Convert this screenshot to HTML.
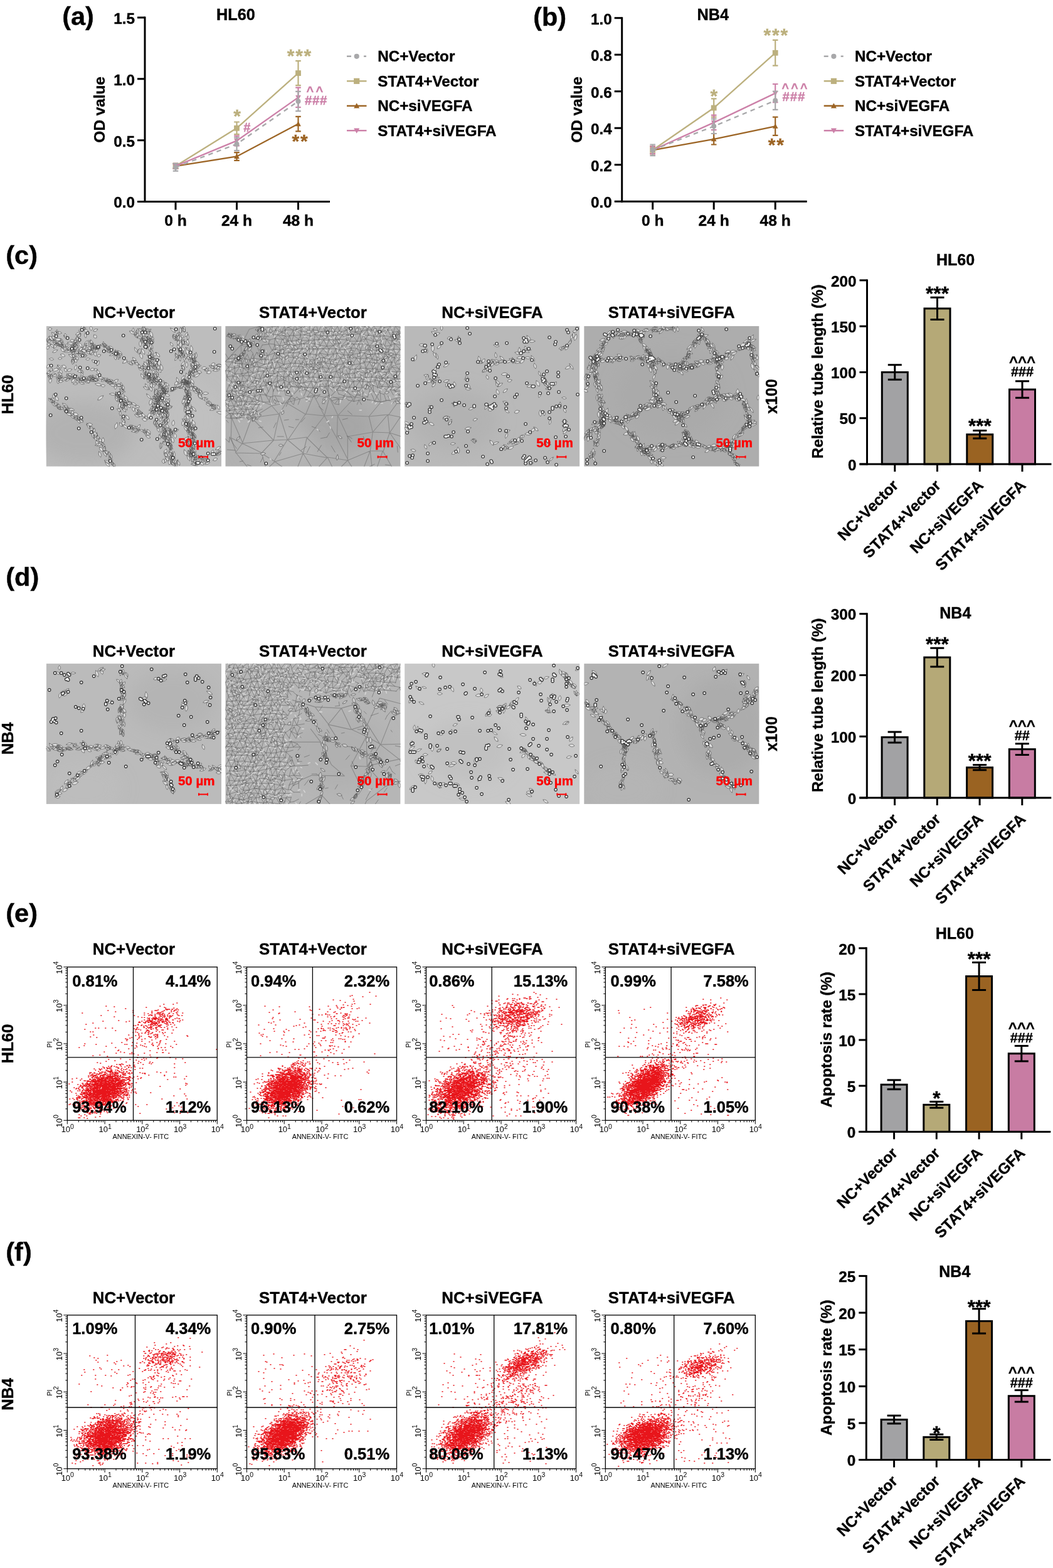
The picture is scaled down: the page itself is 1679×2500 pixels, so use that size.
<!DOCTYPE html>
<html><head><meta charset="utf-8"><title>Figure</title>
<style>html,body{margin:0;padding:0;background:#fff;} svg{display:block;} text{font-family:'Liberation Sans', Arial, sans-serif;font-weight:bold;}</style>
</head><body>
<svg width="1679" height="2500" viewBox="0 0 1679 2500">
<rect width="1679" height="2500" fill="#fff"/>
<defs><filter id="blur12" x="-50%" y="-50%" width="200%" height="200%"><feGaussianBlur stdDeviation="14"/></filter></defs>
<text x="99.2" y="40.4" font-size="41.5" stroke="#000" stroke-width="0.4">(a)</text>
<text x="850.2" y="40.5" font-size="41.5" stroke="#000" stroke-width="0.4">(b)</text>
<text x="9.3" y="420.9" font-size="41.5" stroke="#000" stroke-width="0.4">(c)</text>
<text x="9.3" y="934.4" font-size="41.5" stroke="#000" stroke-width="0.4">(d)</text>
<text x="9.3" y="1470.3" font-size="41.5" stroke="#000" stroke-width="0.4">(e)</text>
<text x="9.3" y="2010.3" font-size="41.5" stroke="#000" stroke-width="0.4">(f)</text>
<line x1="231.0" y1="26.5" x2="231.0" y2="323.0" stroke="#000" stroke-width="3"/>
<line x1="229.5" y1="321.5" x2="526.0" y2="321.5" stroke="#000" stroke-width="3"/>
<line x1="219.0" y1="321.5" x2="231.0" y2="321.5" stroke="#000" stroke-width="3"/>
<text x="215.0" y="331.3" font-size="24.3" text-anchor="end" stroke="#000" stroke-width="0.4">0.0</text>
<line x1="219.0" y1="223.7" x2="231.0" y2="223.7" stroke="#000" stroke-width="3"/>
<text x="215.0" y="233.5" font-size="24.3" text-anchor="end" stroke="#000" stroke-width="0.4">0.5</text>
<line x1="219.0" y1="125.8" x2="231.0" y2="125.8" stroke="#000" stroke-width="3"/>
<text x="215.0" y="135.6" font-size="24.3" text-anchor="end" stroke="#000" stroke-width="0.4">1.0</text>
<line x1="219.0" y1="28.0" x2="231.0" y2="28.0" stroke="#000" stroke-width="3"/>
<text x="215.0" y="37.8" font-size="24.3" text-anchor="end" stroke="#000" stroke-width="0.4">1.5</text>
<line x1="280.0" y1="321.5" x2="280.0" y2="334.5" stroke="#000" stroke-width="3"/>
<text x="280.0" y="359.8" font-size="24.6" text-anchor="middle" stroke="#000" stroke-width="0.4">0 h</text>
<line x1="377.5" y1="321.5" x2="377.5" y2="334.5" stroke="#000" stroke-width="3"/>
<text x="377.5" y="359.8" font-size="24.6" text-anchor="middle" stroke="#000" stroke-width="0.4">24 h</text>
<line x1="475.5" y1="321.5" x2="475.5" y2="334.5" stroke="#000" stroke-width="3"/>
<text x="475.5" y="359.8" font-size="24.6" text-anchor="middle" stroke="#000" stroke-width="0.4">48 h</text>
<text x="167.5" y="174.8" font-size="24.3" text-anchor="middle" stroke="#000" stroke-width="0.4" transform="rotate(-90 167.5 174.8)">OD value</text>
<text x="376.0" y="31.8" font-size="25.3" text-anchor="middle" stroke="#000" stroke-width="0.4">HL60</text>
<path d="M280.0,264.8 L377.5,249.5 L475.5,197.6" fill="none" stroke="#9c6424" stroke-width="2.3"/>
<path d="M280.0,260.8V268.7M275.7,260.8H284.3M275.7,268.7H284.3" stroke="#9c6424" stroke-width="2.2" fill="none"/>
<path d="M280.0,260.4L284.4,268.3L275.6,268.3Z" fill="#9c6424"/>
<path d="M377.5,243.2V255.8M373.2,243.2H381.8M373.2,255.8H381.8" stroke="#9c6424" stroke-width="2.2" fill="none"/>
<path d="M377.5,245.1L381.9,253.0L373.1,253.0Z" fill="#9c6424"/>
<path d="M475.5,185.9V209.4M471.2,185.9H479.8M471.2,209.4H479.8" stroke="#9c6424" stroke-width="2.2" fill="none"/>
<path d="M475.5,193.2L479.9,201.2L471.1,201.2Z" fill="#9c6424"/>
<path d="M280.0,264.8 L377.5,204.3 L475.5,116.6" fill="none" stroke="#bcb07e" stroke-width="2.3"/>
<path d="M280.0,260.8V268.7M275.7,260.8H284.3M275.7,268.7H284.3" stroke="#bcb07e" stroke-width="2.2" fill="none"/>
<rect x="275.6" y="260.4" width="8.8" height="8.8" fill="#bcb07e"/>
<path d="M377.5,194.5V214.1M373.2,194.5H381.8M373.2,214.1H381.8" stroke="#bcb07e" stroke-width="2.2" fill="none"/>
<rect x="373.1" y="199.9" width="8.8" height="8.8" fill="#bcb07e"/>
<path d="M475.5,97.1V136.2M471.2,97.1H479.8M471.2,136.2H479.8" stroke="#bcb07e" stroke-width="2.2" fill="none"/>
<rect x="471.1" y="112.2" width="8.8" height="8.8" fill="#bcb07e"/>
<path d="M280.0,264.8 L377.5,224.4 L475.5,155.4" fill="none" stroke="#cc80a8" stroke-width="2.3"/>
<path d="M280.0,260.8V268.7M275.7,260.8H284.3M275.7,268.7H284.3" stroke="#cc80a8" stroke-width="2.2" fill="none"/>
<path d="M280.0,269.2L284.4,261.2L275.6,261.2Z" fill="#cc80a8"/>
<path d="M377.5,216.6V232.3M373.2,216.6H381.8M373.2,232.3H381.8" stroke="#cc80a8" stroke-width="2.2" fill="none"/>
<path d="M377.5,228.8L381.9,220.9L373.1,220.9Z" fill="#cc80a8"/>
<path d="M475.5,139.7V171.0M471.2,139.7H479.8M471.2,171.0H479.8" stroke="#cc80a8" stroke-width="2.2" fill="none"/>
<path d="M475.5,159.8L479.9,151.9L471.1,151.9Z" fill="#cc80a8"/>
<path d="M280.0,266.7 L377.5,229.7 L475.5,161.4" fill="none" stroke="#a8a8aa" stroke-width="2.3" stroke-dasharray="7.5,6.5"/>
<path d="M280.0,260.8V272.6M275.7,260.8H284.3M275.7,272.6H284.3" stroke="#a8a8aa" stroke-width="2.2" fill="none"/>
<circle cx="280.0" cy="266.7" r="4.0" fill="#a8a8aa"/>
<path d="M377.5,219.4V240.1M373.2,219.4H381.8M373.2,240.1H381.8" stroke="#a8a8aa" stroke-width="2.2" fill="none"/>
<circle cx="377.5" cy="229.7" r="4.0" fill="#a8a8aa"/>
<path d="M475.5,145.8V177.1M471.2,145.8H479.8M471.2,177.1H479.8" stroke="#a8a8aa" stroke-width="2.2" fill="none"/>
<circle cx="475.5" cy="161.4" r="4.0" fill="#a8a8aa"/>
<text x="477.9" y="99.0" font-size="30" text-anchor="middle" fill="#bcb07e" stroke="#bcb07e" stroke-width="0.4" letter-spacing="1.8">***</text>
<text x="378.2" y="194.5" font-size="30" text-anchor="middle" fill="#bcb07e" stroke="#bcb07e" stroke-width="0.4">*</text>
<text x="393.8" y="210.0" font-size="20" text-anchor="middle" fill="#cc80a8" stroke="#cc80a8" stroke-width="0.4">#</text>
<text x="503.6" y="152.0" font-size="20" text-anchor="middle" fill="#cc80a8" stroke="#cc80a8" stroke-width="0.4" letter-spacing="3.5">^^</text>
<text x="504.1" y="167.2" font-size="20.5" text-anchor="middle" fill="#cc80a8" stroke="#cc80a8" stroke-width="0.4" letter-spacing="0.6">###</text>
<text x="478.9" y="235.0" font-size="30" text-anchor="middle" fill="#9c6424" stroke="#9c6424" stroke-width="0.4" letter-spacing="1.8">**</text>
<path d="M553.0,89.8h7m20,0h4" stroke="#a8a8aa" stroke-width="2.4"/>
<circle cx="568.7" cy="89.8" r="4.1" fill="#a8a8aa"/>
<text x="602.3" y="98.1" font-size="24.2" stroke="#000" stroke-width="0.4">NC+Vector</text>
<line x1="553.0" y1="129.3" x2="584.5" y2="129.3" stroke="#bcb07e" stroke-width="2.4"/>
<rect x="564.1" y="124.7" width="9.2" height="9.2" fill="#bcb07e"/>
<text x="602.3" y="137.6" font-size="24.2" stroke="#000" stroke-width="0.4">STAT4+Vector</text>
<line x1="553.0" y1="168.8" x2="584.5" y2="168.8" stroke="#9c6424" stroke-width="2.4"/>
<path d="M568.7,164.2L573.3,172.5L564.1,172.5Z" fill="#9c6424"/>
<text x="602.3" y="177.1" font-size="24.2" stroke="#000" stroke-width="0.4">NC+siVEGFA</text>
<line x1="553.0" y1="208.2" x2="584.5" y2="208.2" stroke="#cc80a8" stroke-width="2.4"/>
<path d="M568.7,212.8L573.3,204.5L564.1,204.5Z" fill="#cc80a8"/>
<text x="602.3" y="216.5" font-size="24.2" stroke="#000" stroke-width="0.4">STAT4+siVEGFA</text>
<line x1="991.7" y1="27.2" x2="991.7" y2="322.7" stroke="#000" stroke-width="3"/>
<line x1="990.2" y1="321.2" x2="1286.7" y2="321.2" stroke="#000" stroke-width="3"/>
<line x1="979.7" y1="321.2" x2="991.7" y2="321.2" stroke="#000" stroke-width="3"/>
<text x="975.7" y="331.0" font-size="24.3" text-anchor="end" stroke="#000" stroke-width="0.4">0.0</text>
<line x1="979.7" y1="262.7" x2="991.7" y2="262.7" stroke="#000" stroke-width="3"/>
<text x="975.7" y="272.5" font-size="24.3" text-anchor="end" stroke="#000" stroke-width="0.4">0.2</text>
<line x1="979.7" y1="204.2" x2="991.7" y2="204.2" stroke="#000" stroke-width="3"/>
<text x="975.7" y="214.0" font-size="24.3" text-anchor="end" stroke="#000" stroke-width="0.4">0.4</text>
<line x1="979.7" y1="145.7" x2="991.7" y2="145.7" stroke="#000" stroke-width="3"/>
<text x="975.7" y="155.5" font-size="24.3" text-anchor="end" stroke="#000" stroke-width="0.4">0.6</text>
<line x1="979.7" y1="87.2" x2="991.7" y2="87.2" stroke="#000" stroke-width="3"/>
<text x="975.7" y="97.0" font-size="24.3" text-anchor="end" stroke="#000" stroke-width="0.4">0.8</text>
<line x1="979.7" y1="28.7" x2="991.7" y2="28.7" stroke="#000" stroke-width="3"/>
<text x="975.7" y="38.5" font-size="24.3" text-anchor="end" stroke="#000" stroke-width="0.4">1.0</text>
<line x1="1040.7" y1="321.2" x2="1040.7" y2="334.2" stroke="#000" stroke-width="3"/>
<text x="1040.7" y="359.5" font-size="24.6" text-anchor="middle" stroke="#000" stroke-width="0.4">0 h</text>
<line x1="1138.2" y1="321.2" x2="1138.2" y2="334.2" stroke="#000" stroke-width="3"/>
<text x="1138.2" y="359.5" font-size="24.6" text-anchor="middle" stroke="#000" stroke-width="0.4">24 h</text>
<line x1="1236.2" y1="321.2" x2="1236.2" y2="334.2" stroke="#000" stroke-width="3"/>
<text x="1236.2" y="359.5" font-size="24.6" text-anchor="middle" stroke="#000" stroke-width="0.4">48 h</text>
<text x="928.2" y="174.9" font-size="24.3" text-anchor="middle" stroke="#000" stroke-width="0.4" transform="rotate(-90 928.2 174.9)">OD value</text>
<text x="1136.7" y="31.8" font-size="25.3" text-anchor="middle" stroke="#000" stroke-width="0.4">NB4</text>
<path d="M1040.7,239.3 L1138.2,221.8 L1236.2,201.3" fill="none" stroke="#9c6424" stroke-width="2.3"/>
<path d="M1040.7,233.4V245.1M1036.4,233.4H1045.0M1036.4,245.1H1045.0" stroke="#9c6424" stroke-width="2.2" fill="none"/>
<path d="M1040.7,234.9L1045.1,242.8L1036.3,242.8Z" fill="#9c6424"/>
<path d="M1138.2,213.0V230.5M1133.9,213.0H1142.5M1133.9,230.5H1142.5" stroke="#9c6424" stroke-width="2.2" fill="none"/>
<path d="M1138.2,217.3L1142.6,225.3L1133.8,225.3Z" fill="#9c6424"/>
<path d="M1236.2,186.6V215.9M1231.9,186.6H1240.5M1231.9,215.9H1240.5" stroke="#9c6424" stroke-width="2.2" fill="none"/>
<path d="M1236.2,196.9L1240.6,204.8L1231.8,204.8Z" fill="#9c6424"/>
<path d="M1040.7,239.3 L1138.2,172.0 L1236.2,84.3" fill="none" stroke="#bcb07e" stroke-width="2.3"/>
<path d="M1040.7,233.4V245.1M1036.4,233.4H1045.0M1036.4,245.1H1045.0" stroke="#bcb07e" stroke-width="2.2" fill="none"/>
<rect x="1036.3" y="234.9" width="8.8" height="8.8" fill="#bcb07e"/>
<path d="M1138.2,157.4V186.6M1133.9,157.4H1142.5M1133.9,186.6H1142.5" stroke="#bcb07e" stroke-width="2.2" fill="none"/>
<rect x="1133.8" y="167.6" width="8.8" height="8.8" fill="#bcb07e"/>
<path d="M1236.2,63.8V104.7M1231.9,63.8H1240.5M1231.9,104.7H1240.5" stroke="#bcb07e" stroke-width="2.2" fill="none"/>
<rect x="1231.8" y="79.9" width="8.8" height="8.8" fill="#bcb07e"/>
<path d="M1040.7,239.3 L1138.2,195.4 L1236.2,148.6" fill="none" stroke="#cc80a8" stroke-width="2.3"/>
<path d="M1040.7,233.4V245.1M1036.4,233.4H1045.0M1036.4,245.1H1045.0" stroke="#cc80a8" stroke-width="2.2" fill="none"/>
<path d="M1040.7,243.7L1045.1,235.8L1036.3,235.8Z" fill="#cc80a8"/>
<path d="M1138.2,183.7V207.1M1133.9,183.7H1142.5M1133.9,207.1H1142.5" stroke="#cc80a8" stroke-width="2.2" fill="none"/>
<path d="M1138.2,199.8L1142.6,191.9L1133.8,191.9Z" fill="#cc80a8"/>
<path d="M1236.2,134.0V163.2M1231.9,134.0H1240.5M1231.9,163.2H1240.5" stroke="#cc80a8" stroke-width="2.2" fill="none"/>
<path d="M1236.2,153.0L1240.6,145.1L1231.8,145.1Z" fill="#cc80a8"/>
<path d="M1040.7,239.3 L1138.2,201.3 L1236.2,160.3" fill="none" stroke="#a8a8aa" stroke-width="2.3" stroke-dasharray="7.5,6.5"/>
<path d="M1040.7,230.5V248.1M1036.4,230.5H1045.0M1036.4,248.1H1045.0" stroke="#a8a8aa" stroke-width="2.2" fill="none"/>
<circle cx="1040.7" cy="239.3" r="4.0" fill="#a8a8aa"/>
<path d="M1138.2,189.6V213.0M1133.9,189.6H1142.5M1133.9,213.0H1142.5" stroke="#a8a8aa" stroke-width="2.2" fill="none"/>
<circle cx="1138.2" cy="201.3" r="4.0" fill="#a8a8aa"/>
<path d="M1236.2,145.7V174.9M1231.9,145.7H1240.5M1231.9,174.9H1240.5" stroke="#a8a8aa" stroke-width="2.2" fill="none"/>
<circle cx="1236.2" cy="160.3" r="4.0" fill="#a8a8aa"/>
<text x="1237.7" y="66.4" font-size="30" text-anchor="middle" fill="#bcb07e" stroke="#bcb07e" stroke-width="0.4" letter-spacing="1.8">***</text>
<text x="1138.3" y="163.0" font-size="30" text-anchor="middle" fill="#bcb07e" stroke="#bcb07e" stroke-width="0.4">*</text>
<text x="1268.6" y="146.5" font-size="19.5" text-anchor="middle" fill="#cc80a8" stroke="#cc80a8" stroke-width="0.4" letter-spacing="3.4">^^^</text>
<text x="1265.9" y="160.6" font-size="20.5" text-anchor="middle" fill="#cc80a8" stroke="#cc80a8" stroke-width="0.4" letter-spacing="0.8">###</text>
<text x="1238.2" y="241.0" font-size="30" text-anchor="middle" fill="#9c6424" stroke="#9c6424" stroke-width="0.4" letter-spacing="1.8">**</text>
<path d="M1313.7,89.8h7m20,0h4" stroke="#a8a8aa" stroke-width="2.4"/>
<circle cx="1329.4" cy="89.8" r="4.1" fill="#a8a8aa"/>
<text x="1363.0" y="98.1" font-size="24.2" stroke="#000" stroke-width="0.4">NC+Vector</text>
<line x1="1313.7" y1="129.3" x2="1345.2" y2="129.3" stroke="#bcb07e" stroke-width="2.4"/>
<rect x="1324.8" y="124.7" width="9.2" height="9.2" fill="#bcb07e"/>
<text x="1363.0" y="137.6" font-size="24.2" stroke="#000" stroke-width="0.4">STAT4+Vector</text>
<line x1="1313.7" y1="168.8" x2="1345.2" y2="168.8" stroke="#9c6424" stroke-width="2.4"/>
<path d="M1329.4,164.2L1334.0,172.5L1324.8,172.5Z" fill="#9c6424"/>
<text x="1363.0" y="177.1" font-size="24.2" stroke="#000" stroke-width="0.4">NC+siVEGFA</text>
<line x1="1313.7" y1="208.2" x2="1345.2" y2="208.2" stroke="#cc80a8" stroke-width="2.4"/>
<path d="M1329.4,212.8L1334.0,204.5L1324.8,204.5Z" fill="#cc80a8"/>
<text x="1363.0" y="216.5" font-size="24.2" stroke="#000" stroke-width="0.4">STAT4+siVEGFA</text>
<rect x="1406.3" y="593.5" width="41" height="146.5" fill="#a2a2a4" stroke="#000" stroke-width="3"/>
<path d="M1426.8,581.7V605.2M1415.8,581.7H1437.8M1415.8,605.2H1437.8" stroke="#000" stroke-width="3" fill="none"/>
<rect x="1474.0" y="491.9" width="41" height="248.1" fill="#b5a977" stroke="#000" stroke-width="3"/>
<path d="M1494.5,474.3V509.5M1483.5,474.3H1505.5M1483.5,509.5H1505.5" stroke="#000" stroke-width="3" fill="none"/>
<rect x="1541.8" y="692.7" width="41" height="47.3" fill="#9a6322" stroke="#000" stroke-width="3"/>
<path d="M1562.3,686.4V699.0M1551.3,686.4H1573.3M1551.3,699.0H1573.3" stroke="#000" stroke-width="3" fill="none"/>
<rect x="1609.5" y="621.0" width="41" height="119.0" fill="#c87ca3" stroke="#000" stroke-width="3"/>
<path d="M1630.0,607.7V634.3M1619.0,607.7H1641.0M1619.0,634.3H1641.0" stroke="#000" stroke-width="3" fill="none"/>
<line x1="1382.5" y1="445.4" x2="1382.5" y2="741.5" stroke="#000" stroke-width="3"/>
<line x1="1370.5" y1="740.0" x2="1676.5" y2="740.0" stroke="#000" stroke-width="3"/>
<line x1="1370.5" y1="740.0" x2="1382.5" y2="740.0" stroke="#000" stroke-width="3"/>
<text x="1365.5" y="749.7" font-size="24.3" text-anchor="end" stroke="#000" stroke-width="0.4">0</text>
<line x1="1370.5" y1="666.7" x2="1382.5" y2="666.7" stroke="#000" stroke-width="3"/>
<text x="1365.5" y="676.4" font-size="24.3" text-anchor="end" stroke="#000" stroke-width="0.4">50</text>
<line x1="1370.5" y1="593.5" x2="1382.5" y2="593.5" stroke="#000" stroke-width="3"/>
<text x="1365.5" y="603.2" font-size="24.3" text-anchor="end" stroke="#000" stroke-width="0.4">100</text>
<line x1="1370.5" y1="520.2" x2="1382.5" y2="520.2" stroke="#000" stroke-width="3"/>
<text x="1365.5" y="529.9" font-size="24.3" text-anchor="end" stroke="#000" stroke-width="0.4">150</text>
<line x1="1370.5" y1="446.9" x2="1382.5" y2="446.9" stroke="#000" stroke-width="3"/>
<text x="1365.5" y="456.6" font-size="24.3" text-anchor="end" stroke="#000" stroke-width="0.4">200</text>
<line x1="1426.8" y1="740.0" x2="1426.8" y2="752.0" stroke="#000" stroke-width="3"/>
<text x="1433.8" y="775.5" font-size="24.5" text-anchor="end" stroke="#000" stroke-width="0.4" transform="rotate(-45 1433.8 775.5)">NC+Vector</text>
<line x1="1494.5" y1="740.0" x2="1494.5" y2="752.0" stroke="#000" stroke-width="3"/>
<text x="1501.5" y="775.5" font-size="24.5" text-anchor="end" stroke="#000" stroke-width="0.4" transform="rotate(-45 1501.5 775.5)">STAT4+Vector</text>
<line x1="1562.3" y1="740.0" x2="1562.3" y2="752.0" stroke="#000" stroke-width="3"/>
<text x="1569.3" y="775.5" font-size="24.5" text-anchor="end" stroke="#000" stroke-width="0.4" transform="rotate(-45 1569.3 775.5)">NC+siVEGFA</text>
<line x1="1630.0" y1="740.0" x2="1630.0" y2="752.0" stroke="#000" stroke-width="3"/>
<text x="1637.0" y="775.5" font-size="24.5" text-anchor="end" stroke="#000" stroke-width="0.4" transform="rotate(-45 1637.0 775.5)">STAT4+siVEGFA</text>
<text x="1523.5" y="423.2" font-size="25" text-anchor="middle" stroke="#000" stroke-width="0.4">HL60</text>
<text x="1312.2" y="592.4" font-size="24.5" text-anchor="middle" stroke="#000" stroke-width="0.4" transform="rotate(-90 1312.2 592.4)">Relative tube length (%)</text>
<text x="1494.5" y="479.0" font-size="31.5" text-anchor="middle" stroke="#000" stroke-width="0.4">***</text>
<text x="1562.3" y="690.0" font-size="31.5" text-anchor="middle" stroke="#000" stroke-width="0.4">***</text>
<text x="1630.0" y="585.0" font-size="24" text-anchor="middle" stroke="#000" stroke-width="0.4">^^^</text>
<text x="1630.0" y="600.3" font-size="21.7" text-anchor="middle" stroke="#000" stroke-width="0.4">###</text>
<rect x="1406.1" y="1175.4" width="41" height="96.6" fill="#a2a2a4" stroke="#000" stroke-width="3"/>
<path d="M1426.6,1166.9V1183.9M1415.6,1166.9H1437.6M1415.6,1183.9H1437.6" stroke="#000" stroke-width="3" fill="none"/>
<rect x="1473.8" y="1048.1" width="41" height="223.9" fill="#b5a977" stroke="#000" stroke-width="3"/>
<path d="M1494.3,1033.3V1063.0M1483.3,1033.3H1505.3M1483.3,1063.0H1505.3" stroke="#000" stroke-width="3" fill="none"/>
<rect x="1541.6" y="1223.7" width="41" height="48.3" fill="#9a6322" stroke="#000" stroke-width="3"/>
<path d="M1562.1,1219.6V1227.8M1551.1,1219.6H1573.1M1551.1,1227.8H1573.1" stroke="#000" stroke-width="3" fill="none"/>
<rect x="1609.3" y="1194.6" width="41" height="77.4" fill="#c87ca3" stroke="#000" stroke-width="3"/>
<path d="M1629.8,1185.8V1203.4M1618.8,1185.8H1640.8M1618.8,1203.4H1640.8" stroke="#000" stroke-width="3" fill="none"/>
<line x1="1382.3" y1="977.2" x2="1382.3" y2="1273.5" stroke="#000" stroke-width="3"/>
<line x1="1370.3" y1="1272.0" x2="1676.3" y2="1272.0" stroke="#000" stroke-width="3"/>
<line x1="1370.3" y1="1272.0" x2="1382.3" y2="1272.0" stroke="#000" stroke-width="3"/>
<text x="1365.3" y="1281.7" font-size="24.3" text-anchor="end" stroke="#000" stroke-width="0.4">0</text>
<line x1="1370.3" y1="1174.2" x2="1382.3" y2="1174.2" stroke="#000" stroke-width="3"/>
<text x="1365.3" y="1183.9" font-size="24.3" text-anchor="end" stroke="#000" stroke-width="0.4">100</text>
<line x1="1370.3" y1="1076.5" x2="1382.3" y2="1076.5" stroke="#000" stroke-width="3"/>
<text x="1365.3" y="1086.2" font-size="24.3" text-anchor="end" stroke="#000" stroke-width="0.4">200</text>
<line x1="1370.3" y1="978.7" x2="1382.3" y2="978.7" stroke="#000" stroke-width="3"/>
<text x="1365.3" y="988.4" font-size="24.3" text-anchor="end" stroke="#000" stroke-width="0.4">300</text>
<line x1="1426.6" y1="1272.0" x2="1426.6" y2="1284.0" stroke="#000" stroke-width="3"/>
<text x="1433.6" y="1307.5" font-size="24.5" text-anchor="end" stroke="#000" stroke-width="0.4" transform="rotate(-45 1433.6 1307.5)">NC+Vector</text>
<line x1="1494.3" y1="1272.0" x2="1494.3" y2="1284.0" stroke="#000" stroke-width="3"/>
<text x="1501.3" y="1307.5" font-size="24.5" text-anchor="end" stroke="#000" stroke-width="0.4" transform="rotate(-45 1501.3 1307.5)">STAT4+Vector</text>
<line x1="1562.1" y1="1272.0" x2="1562.1" y2="1284.0" stroke="#000" stroke-width="3"/>
<text x="1569.1" y="1307.5" font-size="24.5" text-anchor="end" stroke="#000" stroke-width="0.4" transform="rotate(-45 1569.1 1307.5)">NC+siVEGFA</text>
<line x1="1629.8" y1="1272.0" x2="1629.8" y2="1284.0" stroke="#000" stroke-width="3"/>
<text x="1636.8" y="1307.5" font-size="24.5" text-anchor="end" stroke="#000" stroke-width="0.4" transform="rotate(-45 1636.8 1307.5)">STAT4+siVEGFA</text>
<text x="1523.3" y="985.8" font-size="25" text-anchor="middle" stroke="#000" stroke-width="0.4">NB4</text>
<text x="1312.2" y="1124.5" font-size="24.5" text-anchor="middle" stroke="#000" stroke-width="0.4" transform="rotate(-90 1312.2 1124.5)">Relative tube length (%)</text>
<text x="1494.3" y="1037.5" font-size="31.5" text-anchor="middle" stroke="#000" stroke-width="0.4">***</text>
<text x="1562.1" y="1224.0" font-size="31.5" text-anchor="middle" stroke="#000" stroke-width="0.4">***</text>
<text x="1629.8" y="1165.0" font-size="24" text-anchor="middle" stroke="#000" stroke-width="0.4">^^^</text>
<text x="1629.8" y="1180.0" font-size="21.7" text-anchor="middle" stroke="#000" stroke-width="0.4">##</text>
<rect x="1405.1" y="1729.3" width="41" height="75.1" fill="#a2a2a4" stroke="#000" stroke-width="3"/>
<path d="M1425.6,1722.0V1736.7M1414.6,1722.0H1436.6M1414.6,1736.7H1436.6" stroke="#000" stroke-width="3" fill="none"/>
<rect x="1472.8" y="1761.4" width="41" height="43.0" fill="#b5a977" stroke="#000" stroke-width="3"/>
<path d="M1493.3,1756.6V1766.2M1482.3,1756.6H1504.3M1482.3,1766.2H1504.3" stroke="#000" stroke-width="3" fill="none"/>
<rect x="1540.6" y="1556.6" width="41" height="247.8" fill="#9a6322" stroke="#000" stroke-width="3"/>
<path d="M1561.1,1534.6V1578.5M1550.1,1534.6H1572.1M1550.1,1578.5H1572.1" stroke="#000" stroke-width="3" fill="none"/>
<rect x="1608.3" y="1679.8" width="41" height="124.6" fill="#c87ca3" stroke="#000" stroke-width="3"/>
<path d="M1628.8,1667.6V1691.9M1617.8,1667.6H1639.8M1617.8,1691.9H1639.8" stroke="#000" stroke-width="3" fill="none"/>
<line x1="1381.3" y1="1510.3" x2="1381.3" y2="1805.9" stroke="#000" stroke-width="3"/>
<line x1="1369.3" y1="1804.4" x2="1675.3" y2="1804.4" stroke="#000" stroke-width="3"/>
<line x1="1369.3" y1="1804.4" x2="1381.3" y2="1804.4" stroke="#000" stroke-width="3"/>
<text x="1364.3" y="1814.1" font-size="24.3" text-anchor="end" stroke="#000" stroke-width="0.4">0</text>
<line x1="1369.3" y1="1731.2" x2="1381.3" y2="1731.2" stroke="#000" stroke-width="3"/>
<text x="1364.3" y="1741.0" font-size="24.3" text-anchor="end" stroke="#000" stroke-width="0.4">5</text>
<line x1="1369.3" y1="1658.1" x2="1381.3" y2="1658.1" stroke="#000" stroke-width="3"/>
<text x="1364.3" y="1667.8" font-size="24.3" text-anchor="end" stroke="#000" stroke-width="0.4">10</text>
<line x1="1369.3" y1="1585.0" x2="1381.3" y2="1585.0" stroke="#000" stroke-width="3"/>
<text x="1364.3" y="1594.7" font-size="24.3" text-anchor="end" stroke="#000" stroke-width="0.4">15</text>
<line x1="1369.3" y1="1511.8" x2="1381.3" y2="1511.8" stroke="#000" stroke-width="3"/>
<text x="1364.3" y="1521.5" font-size="24.3" text-anchor="end" stroke="#000" stroke-width="0.4">20</text>
<line x1="1425.6" y1="1804.4" x2="1425.6" y2="1816.4" stroke="#000" stroke-width="3"/>
<text x="1432.6" y="1839.9" font-size="24.5" text-anchor="end" stroke="#000" stroke-width="0.4" transform="rotate(-45 1432.6 1839.9)">NC+Vector</text>
<line x1="1493.3" y1="1804.4" x2="1493.3" y2="1816.4" stroke="#000" stroke-width="3"/>
<text x="1500.3" y="1839.9" font-size="24.5" text-anchor="end" stroke="#000" stroke-width="0.4" transform="rotate(-45 1500.3 1839.9)">STAT4+Vector</text>
<line x1="1561.1" y1="1804.4" x2="1561.1" y2="1816.4" stroke="#000" stroke-width="3"/>
<text x="1568.1" y="1839.9" font-size="24.5" text-anchor="end" stroke="#000" stroke-width="0.4" transform="rotate(-45 1568.1 1839.9)">NC+siVEGFA</text>
<line x1="1628.8" y1="1804.4" x2="1628.8" y2="1816.4" stroke="#000" stroke-width="3"/>
<text x="1635.8" y="1839.9" font-size="24.5" text-anchor="end" stroke="#000" stroke-width="0.4" transform="rotate(-45 1635.8 1839.9)">STAT4+siVEGFA</text>
<text x="1522.3" y="1496.5" font-size="25" text-anchor="middle" stroke="#000" stroke-width="0.4">HL60</text>
<text x="1326.0" y="1657.5" font-size="24.5" text-anchor="middle" stroke="#000" stroke-width="0.4" transform="rotate(-90 1326.0 1657.5)">Apoptosis rate (%)</text>
<text x="1493.3" y="1762.3" font-size="31.5" text-anchor="middle" stroke="#000" stroke-width="0.4">*</text>
<text x="1561.1" y="1539.7" font-size="31.5" text-anchor="middle" stroke="#000" stroke-width="0.4">***</text>
<text x="1628.8" y="1646.8" font-size="24" text-anchor="middle" stroke="#000" stroke-width="0.4">^^^</text>
<text x="1628.8" y="1662.0" font-size="21.7" text-anchor="middle" stroke="#000" stroke-width="0.4">###</text>
<rect x="1405.1" y="2263.4" width="41" height="64.1" fill="#a2a2a4" stroke="#000" stroke-width="3"/>
<path d="M1425.6,2257.0V2269.7M1414.6,2257.0H1436.6M1414.6,2269.7H1436.6" stroke="#000" stroke-width="3" fill="none"/>
<rect x="1472.8" y="2291.3" width="41" height="36.2" fill="#b5a977" stroke="#000" stroke-width="3"/>
<path d="M1493.3,2287.1V2295.5M1482.3,2287.1H1504.3M1482.3,2295.5H1504.3" stroke="#000" stroke-width="3" fill="none"/>
<rect x="1540.6" y="2106.4" width="41" height="221.1" fill="#9a6322" stroke="#000" stroke-width="3"/>
<path d="M1561.1,2086.7V2126.1M1550.1,2086.7H1572.1M1550.1,2126.1H1572.1" stroke="#000" stroke-width="3" fill="none"/>
<rect x="1608.3" y="2225.7" width="41" height="101.8" fill="#c87ca3" stroke="#000" stroke-width="3"/>
<path d="M1628.8,2216.6V2234.9M1617.8,2216.6H1639.8M1617.8,2234.9H1639.8" stroke="#000" stroke-width="3" fill="none"/>
<line x1="1381.3" y1="2032.9" x2="1381.3" y2="2329.0" stroke="#000" stroke-width="3"/>
<line x1="1369.3" y1="2327.5" x2="1675.3" y2="2327.5" stroke="#000" stroke-width="3"/>
<line x1="1369.3" y1="2327.5" x2="1381.3" y2="2327.5" stroke="#000" stroke-width="3"/>
<text x="1364.3" y="2337.2" font-size="24.3" text-anchor="end" stroke="#000" stroke-width="0.4">0</text>
<line x1="1369.3" y1="2268.9" x2="1381.3" y2="2268.9" stroke="#000" stroke-width="3"/>
<text x="1364.3" y="2278.6" font-size="24.3" text-anchor="end" stroke="#000" stroke-width="0.4">5</text>
<line x1="1369.3" y1="2210.3" x2="1381.3" y2="2210.3" stroke="#000" stroke-width="3"/>
<text x="1364.3" y="2220.0" font-size="24.3" text-anchor="end" stroke="#000" stroke-width="0.4">10</text>
<line x1="1369.3" y1="2151.6" x2="1381.3" y2="2151.6" stroke="#000" stroke-width="3"/>
<text x="1364.3" y="2161.3" font-size="24.3" text-anchor="end" stroke="#000" stroke-width="0.4">15</text>
<line x1="1369.3" y1="2093.0" x2="1381.3" y2="2093.0" stroke="#000" stroke-width="3"/>
<text x="1364.3" y="2102.7" font-size="24.3" text-anchor="end" stroke="#000" stroke-width="0.4">20</text>
<line x1="1369.3" y1="2034.4" x2="1381.3" y2="2034.4" stroke="#000" stroke-width="3"/>
<text x="1364.3" y="2044.1" font-size="24.3" text-anchor="end" stroke="#000" stroke-width="0.4">25</text>
<line x1="1425.6" y1="2327.5" x2="1425.6" y2="2339.5" stroke="#000" stroke-width="3"/>
<text x="1432.6" y="2363.0" font-size="24.5" text-anchor="end" stroke="#000" stroke-width="0.4" transform="rotate(-45 1432.6 2363.0)">NC+Vector</text>
<line x1="1493.3" y1="2327.5" x2="1493.3" y2="2339.5" stroke="#000" stroke-width="3"/>
<text x="1500.3" y="2363.0" font-size="24.5" text-anchor="end" stroke="#000" stroke-width="0.4" transform="rotate(-45 1500.3 2363.0)">STAT4+Vector</text>
<line x1="1561.1" y1="2327.5" x2="1561.1" y2="2339.5" stroke="#000" stroke-width="3"/>
<text x="1568.1" y="2363.0" font-size="24.5" text-anchor="end" stroke="#000" stroke-width="0.4" transform="rotate(-45 1568.1 2363.0)">NC+siVEGFA</text>
<line x1="1628.8" y1="2327.5" x2="1628.8" y2="2339.5" stroke="#000" stroke-width="3"/>
<text x="1635.8" y="2363.0" font-size="24.5" text-anchor="end" stroke="#000" stroke-width="0.4" transform="rotate(-45 1635.8 2363.0)">STAT4+siVEGFA</text>
<text x="1522.3" y="2036.4" font-size="25" text-anchor="middle" stroke="#000" stroke-width="0.4">NB4</text>
<text x="1326.0" y="2180.6" font-size="24.5" text-anchor="middle" stroke="#000" stroke-width="0.4" transform="rotate(-90 1326.0 2180.6)">Apoptosis rate (%)</text>
<text x="1493.3" y="2295.5" font-size="31.5" text-anchor="middle" stroke="#000" stroke-width="0.4">*</text>
<text x="1561.1" y="2094.5" font-size="31.5" text-anchor="middle" stroke="#000" stroke-width="0.4">***</text>
<text x="1628.8" y="2196.2" font-size="24" text-anchor="middle" stroke="#000" stroke-width="0.4">^^^</text>
<text x="1628.8" y="2211.5" font-size="21.7" text-anchor="middle" stroke="#000" stroke-width="0.4">###</text>
<text x="213.4" y="507.0" font-size="25.8" text-anchor="middle" stroke="#000" stroke-width="0.4">NC+Vector</text>
<clipPath id="cc1"><rect x="73.7" y="520.0" width="279.3" height="223.8"/></clipPath>
<g clip-path="url(#cc1)">
<rect x="73.7" y="520.0" width="279.3" height="223.8" fill="#bdbdbd"/>
<g filter="url(#blur12)">
<ellipse cx="134" cy="690" rx="80" ry="50" fill="#a8a8a8" opacity="0.5"/>
<ellipse cx="304" cy="670" rx="50" ry="60" fill="#c8c8c8" opacity="0.3"/>
</g>
<g transform="translate(73.7,520.0)" stroke-linecap="round" fill="none">
<path d="M175 42q0 6 6 7q0-6-6-7M166 15q-2 5 2 7q2-5-2-7M189 99q0 5 5 6q0-5-5-6M162 16q-4 5 1 9q4-5-1-9M172 51q0 6 6 7q0-6-6-7M179 103q-2 5 2 8q2-5-2-8M161 27q-4 5-1 10q4-5 1-10M184 96q-2 6 3 10q2-6-3-10M187 98q-3 6 2 10q3-6-2-10M167 5q-5 0-6 5q5 0 6-5M155 8q-4 4 0 9q4-4 0-9M161 17q-1 5 4 6q1-5-4-6M168 20q-6-2-7 4q6 2 7-4M170 17q-6 2-2 7q6-2 2-7M166 19q-5 2-4 7q5-2 4-7M160 5q-2 6 4 8q2-6-4-8M189 96q-2 5 2 8q2-5-2-8M180 92q-1 7 6 8q1-7-6-8M154 19q0 5 5 7q0-5-5-7M154 1q-3 6 3 8q3-6-3-8M176 59q-4 3 0 7q4-3 0-7M167 56q2 6 8 7q-2-6-8-7M157 16q-2 6 4 7q2-6-4-7M185 99q-1 5 4 7q1-5-4-7M167 29q-6 4-3 10q6-4 3-10M177 74q-4 4 0 8q4-4 0-8M187 90q2 6 9 5q-2-6-9-5M170 64q0 6 6 5q0-6-6-5M187 99q-2 6 3 9q2-6-3-9M175 42q-5 1-3 6q5-1 3-6M166 47q-2 6 4 8q2-6-4-8M164 27q-1 7 6 9q1-7-6-9M166 44q-1 6 4 7q1-6-4-7M172 83q1 6 7 6q-1-6-7-6M166 8q-3 6 3 10q3-6-3-10M164 26q-5 3-2 8q5-3 2-8M177 60q-2 7 3 11q2-7-3-11M175 72q-1 5 4 6q1-5-4-6M170 63q0 7 7 7q0-7-7-7M179 68q-1 5 4 6q1-5-4-6M196 185q-3 6 2 10q3-6-2-10M189 175q2 6 8 7q-2-6-8-7M198 212q-6 3-2 9q6-3 2-9M193 146q-6 3-5 9q6-3 5-9M200 177q-3 6 3 9q3-6-3-9M201 128q-6-3-9 3q6 3 9-3M194 139q-4 3-1 7q4-3 1-7M197 165q-2 6 2 10q2-6-2-10M197 197q-1 5 4 6q1-5-4-6M191 162q-5 4-3 10q5-4 3-10M206 213q-4 4 0 8q4-4 0-8M193 178q-5 3-2 8q5-3 2-8M204 200q-5 5-1 11q5-5 1-11M186 170q1 6 6 7q-1-6-6-7M199 217q1 6 7 6q-1-6-7-6M205 165q-5 2-4 7q5-2 4-7M196 115q-5 4-2 9q5-4 2-9M192 124q2 6 8 6q-2-6-8-6M192 125q-6 1-5 7q6-1 5-7M187 114q-2 5 3 7q2-5-3-7M198 163q-4 4-1 9q4-4 1-9M190 125q0 7 6 8q0-7-6-8M203 203q-6 2-7 8q6-2 7-8M188 138q-2 6 3 10q2-6-3-10M188 129q-1 6 5 9q1-6-5-9M197 196q-4 3-2 7q4-3 2-7M186 184q0 6 7 6q0-6-7-6M194 161q-1 5 3 7q1-5-3-7M199 166q-3 5 1 8q3-5-1-8M191 202q-4 4 1 7q4-4-1-7M191 156q-1 6 5 8q1-6-5-8M190 173q-4 4 0 8q4-4 0-8M200 188q-4 4-1 9q4-4 1-9M195 208q1 6 7 6q-1-6-7-6M205 171q-4 5 1 8q4-5-1-8M193 191q2 6 9 5q-2-6-9-5M193 185q2 6 8 6q-2-6-8-6M192 141q-4 5 1 9q4-5-1-9M184 129q-2 6 4 9q2-6-4-9M211 165q-6-3-9 3q6 3 9-3M192 131q-3 4 0 8q3-4 0-8M185 130q-1 7 5 10q1-7-5-10M195 172q-3 5 2 7q3-5-2-7M198 215q0 6 6 6q0-6-6-6M196 179q-2 5 2 8q2-5-2-8M186 120q0 6 6 8q0-6-6-8M203 150q-5 4-1 9q5-4 1-9M239 42q-3 4 0 9q3-4 0-9M222 34q1 5 7 5q-1-5-7-5M224 35q-4 6 2 11q4-6-2-11M237 44q-6 2-5 9q6-2 5-9M216 22q-1 6 5 8q1-6-5-8M233 45q-3 6 3 10q3-6-3-10M226 13q-3 4 0 9q3-4 0-9M216 3q0 6 6 6q0-6-6-6M225 10q-5 2-3 7q5-2 3-7M232 51q1 6 7 6q-1-6-7-6M236 50q-5 3-2 8q5-3 2-8M225 48q-2 5 4 6q2-5-4-6M214 2q-4 5 0 10q4-5 0-10M228 50q-3 4 1 7q3-4-1-7M228 46q-1 6 5 7q1-6-5-7M220 21q-6 4-3 10q6-4 3-10M239 56q-4 4-1 8q4-4 1-8M230 60q-1 5 4 7q1-5-4-7M225 21q-4 5 1 10q4-5-1-10M232 51q-1 6 4 10q1-6-4-10M231 31q-4 5 1 10q4-5-1-10M218 1q-4 4-2 9q4-4 2-9M212 14q2 5 8 4q-2-5-8-4M231 63q1 6 8 6q-1-6-8-6M234 57q-5 5-1 10q5-5 1-10M238 51q-6 2-4 8q6-2 4-8M230 50q-2 7 5 9q2-7-5-9M248 67q4 5 8 0q-4-5-8 0M233 69q3 5 9 4q-3-5-9-4M236 74q5-1 4-6q-5 1-4 6M238 63q5 4 9 0q-5-4-9 0M240 72q3 5 8 2q-3-5-8-2M266 71q6 3 11-2q-6-3-11 2M256 75q6 3 7-3q-6-3-7 3M267 68q6 1 6-5q-6-1-6 5M260 63q2 6 8 4q-2-6-8-4M262 65q4 4 8 1q-4-4-8-1M272 70q6-2 4-7q-6 2-4 7M237 55q0 7 7 8q0-7-7-8M234 68q5 3 9-1q-5-3-9 1M272 62q4 5 10 2q-4-5-10-2M271 62q4 5 9 1q-4-5-9-1M238 66q4 3 7-2q-4-3-7 2M253 71q5 1 6-4q-5-1-6 4M252 69q3 5 7 2q-3-5-7-2M263 63q6 2 6-4q-6-2-6 4M230 192q-2 5 3 8q2-5-3-8M226 125q0 5 5 6q0-5-5-6M228 183q-6 2-5 8q6-2 5-8M232 195q-5 5-1 10q5-5 1-10M225 108q-4 2-2 7q4-2 2-7M228 103q-3 6 2 10q3-6-2-10M227 153q-4 4 0 9q4-4 0-9M225 141q4 5 9 2q-4-5-9-2M227 86q-5 2-3 7q5-2 3-7M223 155q0 6 6 4q0-6-6-4M233 207q-4 4 1 7q4-4-1-7M220 111q-2 5 2 7q2-5-2-7M227 162q-2 6 4 8q2-6-4-8M223 100q-4 5 1 9q4-5-1-9M233 161q-7-1-9 5q7 1 9-5M222 100q-2 5 3 7q2-5-3-7M230 198q-5 1-4 6q5-1 4-6M226 175q0 6 5 9q0-6-5-9M227 110q-3 4 0 9q3-4 0-9M231 154q-5 2-5 8q5-2 5-8M227 177q-6-1-7 5q6 1 7-5M227 169q0 7 7 6q0-7-7-6M226 198q-2 6 4 8q2-6-4-8M231 155q-3 4 1 8q3-4-1-8M222 182q-1 6 5 9q1-6-5-9M227 164q-4 4-1 9q4-4 1-9M223 91q-1 6 5 7q1-6-5-7M221 115q-6 3-4 9q6-3 4-9M224 140q-3 6 3 9q3-6-3-9M223 95q-2 6 3 10q2-6-3-10M225 206q-1 6 4 9q1-6-4-9M221 86q-3 6 3 10q3-6-3-10M222 147q-1 6 4 10q1-6-4-10M220 197q-2 7 4 10q2-7-4-10M226 111q-4 2-2 7q4-2 2-7M226 183q-6 1-7 7q6-1 7-7M232 178q-3 5 2 8q3-5-2-8M229 180q-5 5-1 10q5-5 1-10M226 135q-5 2-3 7q5-2 3-7M233 210q-4 4 1 7q4-4-1-7M221 143q-3 5 2 9q3-5-2-9M227 117q-5 4-3 10q5-4 3-10M226 120q-5 4-4 10q5-4 4-10M217 148q1 6 7 6q-1-6-7-6M220 159q-1 6 5 9q1-6-5-9M222 151q-2 6 3 10q2-6-3-10M232 189q-3 5 3 8q3-5-3-8M231 191q-4 4 0 8q4-4 0-8M227 166q0 5 5 6q0-5-5-6M228 85q-4 4 0 8q4-4 0-8M219 92q-1 6 4 9q1-6-4-9M226 102q-5 4-1 9q5-4 1-9M226 119q-3 5 1 8q3-5-1-8M225 107q1 5 6 4q-1-5-6-4M219 150q-5 4-2 9q5-4 2-9M238 66q-6 1-6 6q6-1 6-6M236 79q-2-7-8-6q2 7 8 6M231 67q-6 4-2 9q6-4 2-9M235 74q-5-2-7 3q5 2 7-3M231 71q-2 7 4 10q2-7-4-10M229 71q-4 4-1 8q4-4 1-8M236 69q-5 2-3 7q5-2 3-7M245 76q-6-1-9 5q6 1 9-5M110 47q1 5 6 6q-1-5-6-6M98 34q0 6 6 8q0-6-6-8M110 44q-4 6 1 10q4-6-1-10M147 66q1 6 6 4q-1-6-6-4M114 39q1 5 7 6q-1-5-7-6M105 43q4 5 10 2q-4-5-10-2M136 55q0 6 6 5q0-6-6-5M112 46q1 5 6 5q-1-5-6-5M86 30q5 4 11 0q-5-4-11 0M129 57q3 6 9 3q-3-6-9-3M147 60q-2 5 3 8q2-5-3-8M90 29q1 5 6 6q-1-5-6-6M114 43q2 5 7 4q-2-5-7-4M109 40q2 6 8 6q-2-6-8-6M132 58q1 5 6 4q-1-5-6-4M90 28q2 5 7 4q-2-5-7-4M91 25q-3 5 2 8q3-5-2-8M100 32q1 6 7 5q-1-6-7-5M149 67q5 3 8-2q-5-3-8 2M101 47q6 1 10-4q-6-1-10 4M94 32q3 6 10 5q-3-6-10-5M100 36q-3 5 2 7q3-5-2-7M113 42q-1 6 5 8q1-6-5-8M122 59q6 1 7-5q-6-1-7 5M105 44q6 3 10-3q-6-3-10 3M96 35q4 4 8 1q-4-4-8-1M138 55q3 5 8 3q-3-5-8-3M92 33q0 6 6 8q0-6-6-8M95 38q1 5 7 4q-1-5-7-4M140 58q3 5 9 4q-3-5-9-4M110 38q-1 6 5 8q1-6-5-8M138 50q-1 5 5 6q1-5-5-6M67 80q4 5 9 1q-4-5-9-1M98 91q5 3 9-1q-5-3-9 1M97 83q0 5 5 6q0-5-5-6M26 82q3 5 8 3q-3-5-8-3M53 86q6 3 10-2q-6-3-10 2M25 87q6 1 9-5q-6-1-9 5M70 82q3 4 8 1q-3-4-8-1M95 88q4 3 8-1q-4-3-8 1M56 86q5 3 8-1q-5-3-8 1M34 80q4 5 10 3q-4-5-10-3M8 84q5-4 0-8q-5 4 0 8M48 85q2 5 7 2q-2-5-7-2M65 83q5 4 10-1q-5-4-10 1M43 92q3 3 7 0q-3-3-7 0M9 80q6 2 8-3q-6-2-8 3M52 83q3 6 8 3q-3-6-8-3M83 81q4 6 10 4q-4-6-10-4M70 86q4 4 9 2q-4-4-9-2M37 85q6 2 8-3q-6-2-8 3M35 76q2 5 7 3q-2-5-7-3M74 85q5 4 10 1q-5-4-10-1M8 77q4 3 7-1q-4-3-7 1M41 90q6-1 4-7q-6 1-4 7M33 76q-3 5 3 8q3-5-3-8M19 88q4 4 8 0q-4-4-8 0M95 86q4 5 10 3q-4-5-10-3M62 89q5 4 9-1q-5-4-9 1M88 88q5 2 6-4q-5-2-6 4M69 87q5 3 8-1q-5-3-8 1M59 83q5 4 10 0q-5-4-10 0M59 84q2 6 8 3q-2-6-8-3M74 86q5 5 9 0q-5-5-9 0M10 71q6 3 10-3q-6-3-10 3M94 88q5 5 11 3q-5-5-11-3M88 84q4 5 9 1q-4-5-9-1M87 95q4 4 7 0q-4-4-7 0M78 92q4 5 10 2q-4-5-10-2M53 90q3 4 8 2q-3-4-8-2M1 75q1 5 6 5q-1-5-6-5M39 81q6 1 6-5q-6-1-6 5M19 74q0 6 6 5q0-6-6-5M33 78q1 6 7 6q-1-6-7-6M16 82q1 5 6 5q-1-5-6-5M95 88q6 3 11-2q-6-3-11 2M75 84q2 5 7 3q-2-5-7-3M28 135q4 5 9 1q-4-5-9-1M25 130q3 5 8 2q-3-5-8-2M18 131q5 4 11 0q-5-4-11 0M31 135q6 2 7-4q-6-2-7 4M43 146q4 5 10 4q-4-5-10-4M31 131q-1 6 5 8q1-6-5-8M15 112q-2 6 4 7q2-6-4-7M48 143q-4 3 0 7q4-3 0-7M35 132q4 5 10 2q-4-5-10-2M65 155q-1 6 5 9q1-6-5-9M49 143q-2 6 4 8q2-6-4-8M17 124q0 5 6 5q0-5-6-5M49 147q-1 6 5 8q1-6-5-8M17 129q2 5 7 4q-2-5-7-4M12 108q-4 3 0 7q4-3 0-7M41 134q-3 5 2 8q3-5-2-8M9 122q1 6 7 6q-1-6-7-6M52 149q2 6 7 4q-2-6-7-4M38 138q2 6 8 7q-2-6-8-7M64 157q5 5 10 0q-5-5-10 0M12 125q5 4 8-1q-5-4-8 1M4 115q-1 6 6 7q1-6-6-7M8 115q0 6 6 5q0-6-6-5M26 123q2 7 9 7q-2-7-9-7M32 139q3 5 9 3q-3-5-9-3M29 126q0 6 6 7q0-6-6-7M6 117q2 5 8 4q-2-5-8-4M17 125q0 6 6 7q0-6-6-7M50 145q3 6 9 6q-3-6-9-6M39 143q2 5 7 4q-2-5-7-4M43 139q2 6 8 3q-2-6-8-3M6 116q1 6 7 7q-1-6-7-7M102 210q-4 5 2 7q4-5-2-7M101 207q-4 6 1 10q4-6-1-10M69 160q-1 6 6 7q1-6-6-7M84 200q-2 6 3 9q2-6-3-9M100 200q-2 6 2 11q2-6-2-11M102 203q-3 5 2 9q3-5-2-9M77 163q-5 2-2 7q5-2 2-7M93 198q-1 6 5 7q1-6-5-7M85 193q-1 6 6 7q1-6-6-7M84 184q2 6 8 5q-2-6-8-5M91 178q-5 3-1 8q5-3 1-8M73 170q-2 6 3 9q2-6-3-9M80 182q-3 5 2 9q3-5-2-9M105 218q-1 6 5 6q1-6-5-6M94 192q-6 3-3 8q6-3 3-8M78 190q6 3 10-2q-6-3-10 2M89 186q-2 6 4 7q2-6-4-7M69 160q2 5 7 4q-2-5-7-4M104 215q-1 6 4 9q1-6-4-9M75 168q0 7 7 8q0-7-7-8M100 213q0 7 7 8q0-7-7-8M81 174q-1 5 4 7q1-5-4-7M90 190q-1 5 4 6q1-5-4-6M75 174q0 6 6 9q0-6-6-9M93 214q2 6 8 5q-2-6-8-5M95 198q-3 5 3 6q3-5-3-6M84 178q-2 6 4 8q2-6-4-8M81 170q-5 3-4 9q5-3 4-9M94 216q1 7 7 8q-1-7-7-8M91 198q-1 7 5 10q1-7-5-10M120 147q0 6 6 7q0-6-6-7M125 124q-5 3-3 9q5-3 3-9M118 121q-5 5-2 11q5-5 2-11M121 98q-6 4-3 10q6-4 3-10M117 154q-1 5 4 6q1-5-4-6M120 129q1 6 7 8q-1-6-7-8M120 123q-4 6 2 10q4-6-2-10M111 92q-5 4-1 9q5-4 1-9M124 142q-4 3-1 8q4-3 1-8M119 90q-3 5 2 9q3-5-2-9M118 135q-3 4 0 8q3-4 0-8M112 108q-4 4 0 8q4-4 0-8M122 107q-3 5 1 8q3-5-1-8M111 110q-3 6 2 10q3-6-2-10M122 94q-4 5 1 9q4-5-1-9M121 117q-5-2-8 3q5 2 8-3M127 142q-1 6 5 7q1-6-5-7M113 132q1 5 6 4q-1-5-6-4M124 149q-6 5-2 11q6-5 2-11M117 112q-2 6 3 10q2-6-3-10M117 100q3 6 9 5q-3-6-9-5M119 115q-4 3-1 7q4-3 1-7M117 114q-4 3 0 7q4-3 0-7M124 124q0 7 5 10q0-7-5-10M117 104q-4 5-1 11q4-5 1-11M123 100q-6 2-4 9q6-2 4-9M124 121q-1 6 5 6q1-6-5-6M159 175q2 5 7 3q-2-5-7-3M130 162q6 1 8-4q-6-1-8 4M122 157q2 6 8 6q-2-6-8-6M138 165q5 5 11 1q-5-5-11-1M136 168q6 3 11-2q-6-3-11 2M158 169q2 6 8 4q-2-6-8-4M132 161q4 4 9 2q-4-4-9-2M161 165q-1 6 5 7q1-6-5-7M141 169q4 3 7-2q-4-3-7 2M132 163q4 3 7-1q-4-3-7 1M142 160q1 5 7 5q-1-5-7-5M154 166q0 6 6 5q0-6-6-5M144 164q6-1 6-7q-6 1-6 7M134 161q5 3 8-1q-5-3-8 1M157 164q-3 6 2 10q3-6-2-10M149 165q4 5 10 4q-4-5-10-4M133 158q-1 6 5 6q1-6-5-6M138 129q-3 5 2 7q3-5-2-7M111 105q-2 5 4 6q2-5-4-6M145 134q3 5 9 5q-3-5-9-5M152 139q-1 6 6 7q1-6-6-7M142 127q2 4 7 2q-2-4-7-2M144 141q4 5 10 2q-4-5-10-2M124 111q-1 7 6 8q1-7-6-8M118 119q-1 7 6 9q1-7-6-9M156 144q2 6 8 4q-2-6-8-4M101 108q5 4 10 1q-5-4-10-1M115 111q1 5 6 5q-1-5-6-5M123 119q-3 5 2 8q3-5-2-8M117 111q-1 6 5 7q1-6-5-7M143 139q6 3 11-1q-6-3-11 1M135 122q3 5 9 4q-3-5-9-4M110 109q2 6 8 5q-2-6-8-5M141 141q2 5 8 4q-2-5-8-4M132 120q0 5 5 5q0-5-5-5M142 131q-1 6 5 8q1-6-5-8M123 123q2 6 7 3q-2-6-7-3M128 124q1 6 7 6q-1-6-7-6M153 148q3 6 8 2q-3-6-8-2M111 106q-1 6 5 8q1-6-5-8M122 122q3 6 9 4q-3-6-9-4M125 115q0 6 6 7q0-6-6-7M117 118q4 4 10 1q-4-4-10-1M118 128q5 4 9-1q-5-4-9 1M147 132q-4 6 1 10q4-6-1-10M127 121q3 6 9 3q-3-6-9-3M121 117q2 6 8 6q-2-6-8-6M66 34q2 6 7 3q-2-6-7-3M38 36q6 1 7-5q-6-1-7 5M72 38q6-1 4-7q-6 1-4 7M61 28q7 1 9-5q-7-1-9 5M71 38q6 2 9-3q-6-2-9 3M45 37q6 0 5-6q-6 0-5 6M56 38q2 6 8 3q-2-6-8-3M64 40q5 3 7-2q-5-3-7 2M71 36q5-2 4-7q-5 2-4 7M63 39q4 3 8-1q-4-3-8 1M79 37q5 2 7-2q-5-2-7 2M74 36q6 0 8-5q-6 0-8 5M75 37q6 1 9-4q-6-1-9 4M78 32q2 6 8 3q-2-6-8-3M64 31q6-2 4-7q-6 2-4 7M44 43q5 3 8-2q-5-3-8 2M79 34q6 1 9-4q-6-1-9 4M79 36q5 2 7-3q-5-2-7 3M38 41q6 2 9-3q-6-2-9 3M40 43q5 5 9 0q-5-5-9 0M39 40q4 3 8-1q-4-3-8 1M23 32q4 4 8 0q-4-4-8 0M12 23q1 5 6 6q-1-5-6-6M8 23q4 5 10 3q-4-5-10-3M21 23q-4 5 1 9q4-5-1-9M25 29q2 6 8 4q-2-6-8-4M20 24q3 4 8 2q-3-4-8-2M6 29q1 5 7 5q-1-5-7-5M29 41q6 3 10-2q-6-3-10 2M14 21q5 5 11 1q-5-5-11-1M4 17q-5 4-2 9q5-4 2-9M34 26q4 5 10 3q-4-5-10-3M5 16q-1 6 6 7q1-6-6-7M13 30q5 3 8-2q-5-3-8 2M32 36q4 4 9 1q-4-4-9-1M19 29q3 5 9 4q-3-5-9-4M-2 22q4 3 9 0q-4-3-9 0M25 27q-2 6 2 10q2-6-2-10M12 21q-3 5 2 9q3-5-2-9M40 31q-6 2-6 8q6-2 6-8M48 26q-5-1-7 4q5 1 7-4M43 33q-5 3-2 8q5-3 2-8M42 32q1 6 7 6q-1-6-7-6M49 25q-6 2-4 8q6-2 4-8M54 10q-6-1-7 4q6 1 7-4M49 16q-4 5 1 8q4-5-1-8M59-1q-6 2-3 8q6-2 3-8M46 22q-3 5 3 7q3-5-3-7M45 30q-6 2-6 9q6-2 6-9M61 2q-6 0-5 6q6 0 5-6M58 4q-5-1-6 4q5 1 6-4M48 19q-6 3-4 10q6-3 4-10M55 12q-6 0-6 6q6 0 6-6M55 12q-5 1-4 7q5-1 4-7M46 26q-4 4-1 8q4-4 1-8M191 90q-6 3-4 9q6-3 4-9M165 81q-6 3-3 9q6-3 3-9M185 103q3 4 7 1q-3-4-7-1M177 80q0 6 6 8q0-6-6-8M166 75q-2 7 5 9q2-7-5-9M159 76q1 6 7 7q-1-6-7-7M174 84q-1 5 4 6q1-5-4-6M162 75q1 6 7 7q-1-6-7-7M173 81q-4 4-1 9q4-4 1-9M171 75q0 6 6 7q0-6-6-7M182 91q-1 5 3 7q1-5-3-7M163 83q0 7 7 7q0-7-7-7M163 62q-4 6 1 10q4-6-1-10M170 86q1 5 7 6q-1-5-7-6M158 72q-2 6 4 9q2-6-4-9M164 78q-3 6 2 10q3-6-2-10M168 90q3 6 8 3q-3-6-8-3M174 88q-1 6 5 6q1-6-5-6M171 82q0 6 6 7q0-6-6-7M182 103q2 6 8 4q-2-6-8-4M200 104q6 0 7-6q-6 0-7 6M221 92q6 2 9-3q-6-2-9 3M186 99q5 3 9-1q-5-3-9 1M214 89q6 3 10-3q-6-3-10 3M186 107q6 2 9-3q-6-2-9 3M220 91q3 4 7 1q-3-4-7-1M209 97q3 4 8 2q-3-4-8-2M205 94q6 0 5-6q-6 0-5 6M189 109q3 5 8 2q-3-5-8-2M216 87q4 5 8 1q-4-5-8-1M219 91q5 1 7-4q-5-1-7 4M213 99q6 0 7-6q-6 0-7 6M200 100q6 3 10-2q-6-3-10 2M207 98q7 0 9-7q-7 0-9 7M190 108q6-2 5-9q-6 2-5 9M216 90q5-2 4-7q-5 2-4 7M198 104q7 0 8-7q-7 0-8 7M255 124q3 5 8 2q-3-5-8-2M225 91q-1 5 4 8q1-5-4-8M230 90q-1 6 5 6q1-6-5-6M234 97q2 5 7 3q-2-5-7-3M242 109q0 7 7 7q0-7-7-7M239 100q0 7 6 8q0-7-6-8M221 87q2 5 7 3q-2-5-7-3M239 104q5 4 10 0q-5-4-10 0M226 95q-2 4 2 7q2-4-2-7M244 105q-4 6 2 10q4-6-2-10M261 127q5 3 10-1q-5-3-10 1M248 116q5 4 10 0q-5-4-10 0M266 125q-1 5 4 6q1-5-4-6M272 137q4 5 9 2q-4-5-9-2M265 126q-3 5 2 7q3-5-2-7M231 84q-2 6 4 9q2-6-4-9M256 121q2 5 8 4q-2-5-8-4M259 119q-1 6 5 8q1-6-5-8M221 85q-2 5 4 6q2-5-4-6M235 97q-3 5 2 7q3-5-2-7M235 96q1 6 7 5q-1-6-7-5M249 107q5 4 10 0q-5-4-10 0M253 114q-2 5 3 8q2-5-3-8M228 88q-4 3-1 7q4-3 1-7M244 100q-2 6 4 10q2-6-4-10M231 95q-4 4 0 8q4-4 0-8M264 125q-1 7 6 8q1-7-6-8M234 103q3 5 9 4q-3-5-9-4M261 134q6 2 10-3q-6-2-10 3M240 98q-3 5 3 7q3-5-3-7M273 126q-2 5 3 7q2-5-3-7M273 204q5 3 7-3q-5-3-7 3M243 216q5 2 8-3q-5-2-8 3M246 217q6 1 9-5q-6-1-9 5M251 215q5 1 7-4q-5-1-7 4M253 220q5 2 8-3q-5-2-8 3M248 208q4 5 10 2q-4-5-10-2M272 206q5-3 3-9q-5 3-3 9M264 204q5-3 2-7q-5 3-2 7M243 212q5 4 8-1q-5-4-8 1M254 218q5 0 5-5q-5 0-5 5M266 214q5 3 7-3q-5-3-7 3M272 203q5 1 7-4q-5-1-7 4M271 206q6 2 7-4q-6-2-7 4M231 220q5 4 9 0q-5-4-9 0M237 218q4 4 9 1q-4-4-9-1M235 213q5 2 8-2q-5-2-8 2M270 197q6 1 8-5q-6-1-8 5M172 129q3-5-2-8q-3 5 2 8M161 147q7-2 6-9q-7 2-6 9M183 112q6 1 8-4q-6-1-8 4M173 117q6 0 4-6q-6 0-4 6M169 129q7 1 9-5q-7-1-9 5M177 123q6-3 4-10q-6 3-4 10M178 117q6-1 6-8q-6 1-6 8M168 134q6 1 7-5q-6-1-7 5M182 113q6-3 4-9q-6 3-4 9M172 124q6 0 8-6q-6 0-8 6M182 126q5-4 1-10q-5 4-1 10M173 124q5 0 7-5q-5 0-7 5M175 112q7 2 10-4q-7-2-10 4M184 107q5 1 6-4q-5-1-6 4M167 137q4-4 2-10q-4 4-2 10M167 139q6 1 7-5q-6-1-7 5M170 139q5-1 5-6q-5 1-5 6M171 142q5-3 3-8q-5 3-3 8M164 134q6 4 10-1q-6-4-10 1M111 93q4 5 10 2q-4-5-10-2M112 94q4 5 9 1q-4-5-9-1M101 93q5 5 11 3q-5-5-11-3M103 89q4 4 8 0q-4-4-8 0M106 91q7 1 9-6q-7-1-9 6M160 54q-2 5 3 7q2-5-3-7M191 211q-5 2-2 7q5-2 2-7M140 13q1 5 6 6q-1-5-6-6M177 154q-3 5 1 10q3-5-1-10M185 157q0 6 6 7q0-6-6-7M178 113q-5 3-2 8q5-3 2-8M167 77q-4 6 2 10q4-6-2-10M180 134q-4 3-1 8q4-3 1-8M180 105q-5 4 0 8q5-4 0-8M175 114q-2 5 2 10q2-5-2-10M186 153q-6 3-5 9q6-3 5-9M141 34q-1 5 4 8q1-5-4-8M165 80q-3 5 2 7q3-5-2-7M162 76q-4 4 0 9q4-4 0-9M166 96q-3 5 2 8q3-5-2-8M186 117q-1 6 4 9q1-6-4-9M165 40q-4 4 1 7q4-4-1-7M167 89q-4 6 1 10q4-6-1-10M164 83q-2 6 3 10q2-6-3-10M183 131q-3 4 1 7q3-4-1-7M184 129q1 5 6 5q-1-5-6-5M158 27q-3 6 2 10q3-6-2-10M160 108q1 6 7 8q-1-6-7-8M157 74q-4 5-1 11q4-5 1-11M155 97q3 6 10 4q-3-6-10-4M164 55q-2 6 4 10q2-6-4-10M158 29q-3 5 2 7q3-5-2-7M188 181q3 5 8 3q-3-5-8-3M194 171q-1 5 4 8q1-5-4-8M150 23q-4 5 0 10q4-5 0-10M196 188q-2 6 3 10q2-6-3-10M182 140q-3 5 3 8q3-5-3-8M181 121q-4 4-1 8q4-4 1-8M153 2q-4 4 0 7q4-4 0-7M167 51q-6 2-4 7q6-2 4-7M169 59q-3 6 3 9q3-6-3-9M151 76q-1 6 5 8q1-6-5-8M180 133q-4 4 0 8q4-4 0-8M177 55q-7 1-6 8q7-1 6-8M169 134q-1 5 4 7q1-5-4-7M181 123q-6 3-5 9q6-3 5-9M157 1q-5 4-2 9q5-4 2-9M188 129q-1 6 4 8q1-6-4-8M170 21q-5 3-1 8q5-3 1-8M180 112q-3 4 1 7q3-4-1-7M163 58q-4 4-1 9q4-4 1-9M187 138q0 6 6 8q0-6-6-8M173 100q-2 6 5 8q2-6-5-8M190 132q-1 6 4 8q1-6-4-8M185 160q0 7 6 9q0-7-6-9M200 168q-5 4-1 9q5-4 1-9M185 144q-2 6 3 9q2-6-3-9M202 212q-2 5 2 8q2-5-2-8M192 196q-6 2-4 8q6-2 4-8M153 15q-2 6 3 10q2-6-3-10M185 138q-4 5 1 9q4-5-1-9M161 19q-2 6 4 10q2-6-4-10M155 70q-2 6 4 8q2-6-4-8M155 6q0 5 5 6q0-5-5-6M181 91q-4 4-1 9q4-4 1-9M186 175q-1 6 5 8q1-6-5-8M162 54q-1 6 5 6q1-6-5-6M156 57q-1 6 5 8q1-6-5-8M191 116q-1 6 5 6q1-6-5-6M139 3q-4 3-1 7q4-3 1-7M173 108q-2 4 2 7q2-4-2-7M183 61q-3 6 2 10q3-6-2-10M196 200q0 6 5 8q0-6-5-8M200 201q-3 6 2 10q3-6-2-10M175 128q-4 5 0 9q4-5 0-9M161 46q1 6 8 7q-1-6-8-7M207 218q-4 4 0 7q4-4 0-7M152 20q-3 5 1 8q3-5-1-8M191 166q-4 6 1 11q4-6-1-11M181 93q-1 6 4 9q1-6-4-9M186 172q-4 4 0 8q4-4 0-8M155 60q-2 7 4 10q2-7-4-10M194 166q-4 5 2 9q4-5-2-9M189 149q-6 3-3 8q6-3 3-8M188 159q-5 3-3 9q5-3 3-9M195 147q-4 3-1 7q4-3 1-7M172 53q-6 0-8 6q6 0 8-6M178 138q-5 3 0 7q5-3 0-7M198 211q-2 6 2 10q2-6-2-10M183 168q-3 5 1 10q3-5-1-10M170 112q1 5 6 5q-1-5-6-5M167 36q-2 6 3 9q2-6-3-9M195 137q-6 4-3 10q6-4 3-10M187 184q2 5 7 4q-2-5-7-4M185 144q-5 2-4 8q5-2 4-8M167 49q-5 2-4 7q5-2 4-7M182 93q-5 5-1 10q5-5 1-10M177 160q-2 6 3 9q2-6-3-9M199 180q-4 4-1 8q4-4 1-8M180 53q-5 6 0 11q5-6 0-11M189 174q-3 4 1 7q3-4-1-7M199 207q1 5 7 4q-1-5-7-4M161 16q-5 3-1 8q5-3 1-8M157 27q-4 5 0 9q4-5 0-9M158 92q-1 6 5 9q1-6-5-9M171 59q-1 6 4 9q1-6-4-9M201 206q-4 5 1 9q4-5-1-9M179 119q-5 3-3 8q5-3 3-8M169 116q2 6 8 4q-2-6-8-4M153 63q0 6 6 6q0-6-6-6M172 151q-3 5 2 8q3-5-2-8M171 70q-4 3 0 7q4-3 0-7M157 80q4 5 10 1q-4-5-10-1M185 186q-4 4-2 9q4-4 2-9M170 76q-2 6 3 10q2-6-3-10M172 91q-5 3-1 7q5-3 1-7M166 50q3 4 8 2q-3-4-8-2M155 67q-2 6 4 8q2-6-4-8M190 208q-1 6 5 7q1-6-5-7M174 149q-4 4-1 8q4-4 1-8M165 60q-5 3-4 9q5-3 4-9M153 17q-4 4 0 9q4-4 0-9M185 174q-1 5 5 5q1-5-5-5M171 83q-4 4-2 9q4-4 2-9M153 20q-2-6-8-4q2 6 8 4M193 128q-5 4-1 9q5-4 1-9M145 7q-5 2-4 8q5-2 4-8M180 173q-2 5 2 7q2-5-2-7M146 4q-5 4-2 10q5-4 2-10M187 149q1 6 7 6q-1-6-7-6M163 73q-4 5 1 9q4-5-1-9M144 10q-4 6 2 9q4-6-2-9M184 131q-4 5 0 9q4-5 0-9M177 100q-6 3-4 10q6-3 4-10M176 152q-4 4-1 9q4-4 1-9M179 109q-4 5 1 10q4-5-1-10M159 4q0 6 6 5q0-6-6-5M166 35q-2 5 2 8q2-5-2-8M149 36q-5 4 0 8q5-4 0-8M187 87q-5 4-1 9q5-4 1-9M188 161q-4 5 0 10q4-5 0-10M154 22q-1 6 5 8q1-6-5-8M162 12q-5 2-3 7q5-2 3-7M194 186q-2 7 5 9q2-7-5-9M147 37q-4 4 1 8q4-4-1-8M192 166q-7 2-7 9q7-2 7-9M171 123q-3 6 3 10q3-6-3-10M182 107q0 7 6 7q0-7-6-7M176 127q-2 6 4 10q2-6-4-10M133 8q2 6 8 4q-2-6-8-4M198 164q-1 5 4 7q1-5-4-7M172 77q-2 6 4 6q2-6-4-6M189 164q-3 5 1 8q3-5-1-8M166 62q-2 5 2 9q2-5-2-9M148 4q-1 5 5 5q1-5-5-5M181 112q-3 5 2 9q3-5-2-9M174 128q-3 5 3 8q3-5-3-8M150 43q-3 6 3 9q3-6-3-9M209 214q-1 6 4 8q1-6-4-8M152 36q-1 7 5 9q1-7-5-9M181 114q-3 5 2 7q3-5-2-7M210 213q-5 4-4 10q5-4 4-10M173 102q-3 5 3 8q3-5-3-8M151 13q-4 6 1 11q4-6-1-11M168 116q-6 4-3 10q6-4 3-10M177 123q-4 4 0 9q4-4 0-9M187 212q-5 3 0 7q5-3 0-7M166 44q0 5 5 7q0-5-5-7M192 151q-5 2-2 7q5-2 2-7M157 77q-1 6 4 8q1-6-4-8M172 111q-3 5 1 9q3-5-1-9M182 186q-3 5 0 10q3-5 0-10M189 201q-3 6 3 8q3-6-3-8M212 39q1 5 6 5q-1-5-6-5M233 131q-7 1-6 8q7-1 6-8M233 187q-2 6 4 9q2-6-4-9M220 121q-4 4 1 7q4-4-1-7M211 14q-5 5-2 11q5-5 2-11M211 11q-5 3-4 8q5-3 4-8M234 205q1 6 7 4q-1-6-7-4M233 170q-3 5 1 8q3-5-1-8M217 20q-4 6 1 10q4-6-1-10M229 200q-2 6 4 9q2-6-4-9M232 128q1 6 7 8q-1-6-7-8M216 38q-1 6 4 9q1-6-4-9M206 44q0 6 6 7q0-6-6-7M228 151q-6 3-4 9q6-3 4-9M225 111q-6 0-7 6q6 0 7-6M231 146q-4 4 0 8q4-4 0-8M234 178q-4 6 1 11q4-6-1-11M222 127q-4 5-1 11q4-5 1-11M228 132q-3 6 3 10q3-6-3-10M232 215q0 7 7 8q0-7-7-8M224 57q-4 4 0 9q4-4 0-9M209 30q-2 5 4 7q2-5-4-7M245 217q1 6 6 4q-1-6-6-4M233 168q0 6 5 10q0-6-5-10M208 15q-4 3-1 8q4-3 1-8M234 173q-3 5 2 8q3-5-2-8M234 158q-5 3-2 8q5-3 2-8M209 35q1 7 7 6q-1-7-7-6M220 24q1 6 7 7q-1-6-7-7M231 202q-5 3-2 7q5-3 2-7M212 46q-2 6 2 10q2-6-2-10M221 56q-6 2-6 8q6-2 6-8M224 136q-2 5 3 8q2-5-3-8M228 118q-4 3-2 8q4-3 2-8M234 161q-5 5 0 9q5-5 0-9M217 96q0 6 6 6q0-6-6-6M229 159q-1 5 4 7q1-5-4-7M216 41q-4 3-2 8q4-3 2-8M234 183q-4 4-1 8q4-4 1-8M228 110q-5 2-3 7q5-2 3-7M230 71q-5 2-2 7q5-2 2-7M217 44q-5 2-2 7q5-2 2-7M211 47q-6 2-6 8q6-2 6-8M238 216q-2 5 3 7q2-5-3-7M230 106q-6 0-6 6q6 0 6-6M206 43q-2 6 3 9q2-6-3-9M243 206q-6 1-6 7q6-1 6-7M233 203q-1 6 4 7q1-6-4-7M236 213q-3 5 2 8q3-5-2-8M216 63q0 6 5 6q0-6-5-6M220 124q3 5 8 1q-3-5-8-1M202 14q-2 6 4 9q2-6-4-9M216 24q-6 4-3 10q6-4 3-10M226 122q-2 7 5 9q2-7-5-9M203 13q-4 5 2 7q4-5-2-7M235 170q-1 6 4 9q1-6-4-9M222 161q3 5 9 2q-3-5-9-2M212 39q-3 6 3 10q3-6-3-10M235 201q-6 2-6 8q6-2 6-8M226 88q-6 1-6 6q6-1 6-6M203 16q1 6 7 7q-1-6-7-7M233 150q-2 6 4 8q2-6-4-8M213 10q-6 0-6 6q6 0 6-6M217 62q-2 6 3 9q2-6-3-9M238 159q-5 2-3 8q5-2 3-8M229 132q-3 5 1 10q3-5-1-10M217 43q-2 5 3 7q2-5-3-7M232 194q1 6 7 7q-1-6-7-7M208 82q-2 6 3 9q2-6-3-9M215 15q-5 4-2 9q5-4 2-9M233 200q-4 5 1 8q4-5-1-8M221 100q-1 6 4 9q1-6-4-9M223 75q-2 7 4 10q2-7-4-10M226 153q-1 5 4 7q1-5-4-7M221 46q-5 4-1 9q5-4 1-9M231 171q-3 5 1 9q3-5-1-9M211 22q-4 3-1 8q4-3 1-8M198 26q-1 5 4 6q1-5-4-6M233 192q-4 6 1 11q4-6-1-11M242 184q-7 2-6 9q7-2 6-9M227 168q1 7 7 6q-1-7-7-6M222 124q-4 5 0 10q4-5 0-10M235 205q0 6 5 9q0-6-5-9M216 67q-4 5 0 10q4-5 0-10M229 200q-3 6 3 10q3-6-3-10M233 179q0 6 5 9q0-6-5-9M220 0q-4 5 0 10q4-5 0-10M216 33q-2 6 4 7q2-6-4-7M223 43q-5 5-1 10q5-5 1-10M236 200q-1 6 4 9q1-6-4-9M229 196q-4 4 0 8q4-4 0-8M215 89q-5 4-3 10q5-4 3-10M198 3q2 6 8 7q-2-6-8-7M226 163q-4 4 0 7q4-4 0-7M227 91q0 6 6 6q0-6-6-6M237 181q-5 4 0 8q5-4 0-8M222 84q-6 1-5 7q6-1 5-7M223 109q1 6 7 6q-1-6-7-6M212 36q1 6 7 7q-1-6-7-7M220 79q-6 2-4 8q6-2 4-8M233 171q-2 5 3 8q2-5-3-8M217 89q4 4 9 1q-4-4-9-1M211 37q-1 6 5 7q1-6-5-7M82 33q-5 4-2 9q5-4 2-9M48 62q-5 3-2 8q5-3 2-8M28 15q1 6 7 6q-1-6-7-6M41 53q-3 5 3 6q3-5-3-6M5 52q3 4 7 1q-3-4-7-1M19 83q-4 5 0 9q4-5 0-9M77 41q-3 5 2 7q3-5-2-7M7 21q-6-1-5 5q6 1 5-5M48 49q-5-2-5 4q5 2 5-4M7 71q-5 0-6 5q5 0 6-5M17 80q3 5 8 3q-3-5-8-3M9 10q0 6 5 6q0-6-5-6M77 82q-6-2-7 4q6 2 7-4M64 31q-6 0-6 6q6 0 6-6M63 3q-5-3-6 2q5 3 6-2M8 29q-4-4-7 0q4 4 7 0M62 11q-3 4 1 8q3-4-1-8M52 37q-3 5 2 7q3-5-2-7M82 69q-4-3-6 1q4 3 6-1M41 69q-5-3-8 2q5 3 8-2M22 69q-2 5 3 7q2-5-3-7M17 27q0 5 5 5q0-5-5-5M9 16q-2 5 4 5q2-5-4-5M50 44q4 4 8 1q-4-4-8-1M46 52q-3 4 2 6q3-4-2-6M49 78q-4 3 0 6q4-3 0-6M47 29q-1 5 4 6q1-5-4-6M8 78q-5-2-5 3q5 2 5-3M76 14q-2 6 4 5q2-6-4-5M56 73q-2 4 2 7q2-4-2-7M81 70q-1 6 4 7q1-6-4-7M61 5q-1 6 6 6q1-6-6-6M9 4q-4-4-6 1q4 4 6-1M17 6q-3 4 1 7q3-4-1-7M49 79q-6-3-8 3q6 3 8-3M18 38q-6-1-8 4q6 1 8-4M43 50q-4 3-1 7q4-3 1-7M30 12q-4 4 1 6q4-4-1-6M18 63q-2 4 2 6q2-4-2-6M18 9q-5 2-2 6q5-2 2-6M77 68q-5-3-7 2q5 3 7-2M7 82q-5 4-1 9q5-4 1-9M58 41q-5-3-7 2q5 3 7-2M61 29q-3 5 1 9q3-5-1-9M75 27q-6-1-7 5q6 1 7-5M71 28q1 5 6 3q-1-5-6-3M18 62q1 5 6 5q-1-5-6-5M5 61q-5 0-4 6q5 0 4-6M59 43q-2 5 4 5q2-5-4-5M24 34q-2 6 4 7q2-6-4-7M64 39q0 6 6 5q0-6-6-5M16 8q-5 1-3 6q5-1 3-6M23 45q2 6 7 3q-2-6-7-3M5 33q-5-2-5 3q5 2 5-3M43 53q-5 3-1 8q5-3 1-8M25 82q-4-2-6 2q4 2 6-2M69 80q0 5 5 3q0-5-5-3M71 0q-4 4 1 7q4-4-1-7M74 39q-6 0-5 6q6 0 5-6M65 47q-4-4-7 1q4 4 7-1M80 77q-2 5 3 7q2-5-3-7M70 52q-4-3-7 1q4 3 7-1M55 84q-5-4-9 0q5 4 9 0M26 80q-5-2-8 3q5 2 8-3M58 85q-3 4 1 6q3-4-1-6M16 10q4 4 9 1q-4-4-9-1M71 27q-1 6 4 8q1-6-4-8M55 79q-4 3-2 8q4-3 2-8M73 54q0 5 5 4q0-5-5-4M78 29q-4 3-1 7q4-3 1-7M52 26q-1 6 5 8q1-6-5-8M47 88q2 4 6 1q-2-4-6-1M36 45q1 5 7 5q-1-5-7-5M25 51q-4-3-6 1q4 3 6-1M57 40q-1 5 4 6q1-5-4-6M3 78q-1 5 4 7q1-5-4-7M50 72q4 4 8 0q-4-4-8 0M42 45q-2 5 3 6q2-5-3-6M58 34q-6 0-6 6q6 0 6-6M10 68q-5-1-5 4q5 1 5-4M55 70q-1 5 4 5q1-5-4-5M27 30q-5-3-9 1q5 3 9-1M82 5q-5-2-7 3q5 2 7-3M76 41q-5 0-5 5q5 0 5-5M34 28q-5 1-3 6q5-1 3-6M36 38q-4-3-6 1q4 3 6-1M65 84q-3 5 3 7q3-5-3-7M21 76q-3 4 1 7q3-4-1-7M84 55q-5 2-3 8q5-2 3-8M30 67q-3 4 2 6q3-4-2-6M37 83q-5 0-6 5q5 0 6-5M16 28q-6 2-4 8q6-2 4-8M71 22q-2 5 3 8q2-5-3-8M51 43q0 6 5 7q0-6-5-7M45 23q-4-4-7 0q4 4 7 0M23 20q-2 5 3 6q2-5-3-6M87 46q-4-3-6 2q4 3 6-2M74 78q0 5 5 6q0-5-5-6M25 63q2 6 7 3q-2-6-7-3M46 47q-1 6 5 7q1-6-5-7M45 39q-5 2-3 7q5-2 3-7M91 111q-7 0-9 7q7 0 9-7M113 154q-6 4-3 10q6-4 3-10" fill="#dddddd" stroke="#505050" stroke-width="0.65" stroke-linejoin="round"/>
<defs><path id="cc1r" d="M158 10h0M177 54h0M168 26h0M153 10h0M165 49h0M182 87h0M194 188h0M194 125h0M185 135h0M230 42h0M207 5h0M238 65h0M233 143h0M227 120h0M223 156h0M225 137h0M228 81h0M111 44h0M104 38h0M124 51h0M46 80h0M56 146h0M32 136h0M72 169h0M102 215h0M123 144h0M119 119h0M132 162h0M116 107h0M57 6h0M41 36h0M53 22h0M164 77h0M201 100h0M258 214h0M265 204h0M241 218h0M167 146h0M185 115h0M178 127h0M176 133h0M159 33h0M176 149h0M177 180h0M202 210h0M158 25h0M158 33h0M206 165h0M182 158h0M163 67h0M183 130h0M228 137h0M215 73h0M204 37h0M238 163h0M229 116h0M247 209h0M235 204h0M214 37h0M58 47h0M66 67h0M34 19h0M54 66h0M79 57h0M60 83h0M85 78h0M16 16h0M8 63h0M66 11h0M83 33h0M92 40h0M7 142h0M105 131h0M237 187h0M15 109h0M268 204h0M123 15h0M268 41h0M269 4h0M258 203h0M52 163h0M243 218h0M199 40h0M152 181h0M32 115h0"/></defs>
<use href="#cc1r" stroke="#2a2a2a" stroke-width="5.6"/>
<use href="#cc1r" stroke="#f8f8f8" stroke-width="3.4"/>
</g></g>
<text x="342.5" y="713.4" font-size="20.5" text-anchor="end" fill="#ff0000" stroke="#ff0000" stroke-width="0.4">50 µm</text>
<path d="M316.2,728.4h15.6M317.0,726.4v4M331.0,726.4v4" stroke="#ff0000" stroke-width="2"/>
<text x="499.0" y="507.0" font-size="25.8" text-anchor="middle" stroke="#000" stroke-width="0.4">STAT4+Vector</text>
<clipPath id="cc2"><rect x="359.3" y="520.0" width="279.3" height="223.8"/></clipPath>
<g clip-path="url(#cc2)">
<rect x="359.3" y="520.0" width="279.3" height="223.8" fill="#b1b1b1"/>
<g filter="url(#blur12)">
<ellipse cx="539" cy="680" rx="60" ry="40" fill="#9a9a9a" opacity="0.45"/>
<ellipse cx="389" cy="545" rx="40" ry="30" fill="#9e9e9e" opacity="0.5"/>
<ellipse cx="449" cy="710" rx="60" ry="30" fill="#c0c0c0" opacity="0.4"/>
</g>
<g transform="translate(359.3,520.0)" stroke-linecap="round" fill="none">
<path d="M38 5l20 -6M38 5l-13 26M25 30l24 0M25 30l-33 35M25 30l1 31M50 31l11 26M56 96l-30 13M56 96l18 30M77 97l45 -1M77 97l-3 29M121 96l-24 25M121 96l19 13M160 91l6 23M182 97l-16 17M182 97l24 16M230 95l-24 18M230 95l17 26M245 79l3 42M245 79l36 34M284 79l-4 34M284 79l15 42M322 91l-23 30M4 121l22 -11M4 121l6 25M26 109l48 17M26 109l16 37M74 127l23 -5M74 127l12 14M74 127l-32 20M97 122l43 -12M97 122l30 18M97 122l-11 18M141 110l25 5M141 110l17 33M141 110l-13 31M166 114l41 -1M166 114l13 27M166 114l-8 28M207 113l41 8M207 113l-27 29M248 121l33 -8M248 121l-19 23M281 113l19 8M281 113l-21 29M299 121l16 37M10 146l33 0M10 146l-1 32M10 146l18 41M42 146l44 -6M42 146l-15 41M42 146l35 36M86 140l-9 42M86 140l13 41M128 140l30 3M128 140l-28 41M158 143l22 -1M158 143l-27 35M158 143l20 36M179 142l50 2M179 142l-1 37M179 142l16 34M229 144l30 -3M229 144l6 25M259 141l20 4M259 141l-24 28M259 141l3 29M279 145l36 13M279 145l-17 25M279 145l18 36M315 158l-19 23M9 178l19 10M9 178l8 24M27 187l49 -5M27 187l31 15M27 187l-11 15M77 182l23 -1M77 182l-19 20M99 181l31 -4M99 181l25 21M99 181l-21 34M130 178l33 32M130 178l-6 25M178 179l18 35M195 176l40 -7M195 176l0 38M235 169l27 1M235 169l-4 30M262 170l35 11M262 170l29 41M262 170l-10 29M17 202l41 1M17 202l25 31M58 203l21 13M58 203l7 25M79 216l45 -13M79 216l-13 12M79 216l31 22M124 203l39 7M124 203l-14 35M124 203l18 29M163 209l32 5M163 209l-21 23M163 209l12 25M195 214l36 -15M195 214l-20 20M195 214l19 29M231 199l20 -0M231 199l-17 44M231 199l5 46M251 199l-16 46M251 199l20 35M291 211l38 -3M291 211l-20 23M291 211l7 31M329 209l-31 34M-1 232l43 1M42 233l24 -6M110 238l32 -6M142 232l33 2M175 234l39 9M214 243l22 2M236 245l36 -11M271 234l27 9" stroke="#8a8a8a" stroke-width="1.1"/>
<path d="M9 -2l5 1M58 2l6 8M66 2l9 -1M74 1l10 -1M74 1l6 5M84 -0l11 -2M84 -0l6 10M84 -0l-4 6M95 -2l5 5M95 -2l-0 9M95 -2l-5 12M100 2l11 -4M100 2l8 4M100 2l-5 4M111 -2l11 4M111 -2l3 7M111 -2l-3 9M121 2l4 -3M121 2l-1 6M121 2l-8 3M126 -0l9 -1M126 -0l9 10M126 -0l-5 8M134 -1l11 -1M134 -1l6 6M134 -1l0 11M145 -2l9 -1M145 -2l3 11M145 -2l-5 7M154 -2l6 4M154 -2l5 10M154 -2l-6 11M160 2l10 -2M160 2l5 6M160 2l-1 6M169 -0l9 0M169 -0l5 8M169 -0l-5 8M179 -0l7 -2M179 -0l3 10M179 -0l-5 8M186 -2l10 5M186 -2l7 8M186 -2l-5 12M197 2l10 -2M197 2l2 7M197 2l-3 3M206 1l5 -2M206 1l1 9M206 1l-8 8M212 -1l10 2M212 -1l5 9M212 -1l-5 10M222 1l6 -2M222 1l4 5M222 1l-5 8M228 -1l10 1M228 -1l5 7M228 -1l-1 7M237 0l11 -0M237 0l6 8M237 0l-5 6M248 0l5 2M248 0l1 9M248 0l-5 8M253 2l11 -2M253 2l6 4M253 2l-4 8M263 0l7 -0M263 0l4 10M263 0l-4 6M271 -0l9 2M271 -0l6 8M271 -0l-3 10M280 1l7 8M280 1l-3 7M64 10l7 -0M64 10l-2 7M64 10l5 7M71 10l10 -4M71 10l5 3M80 6l10 4M80 6l-4 7M80 6l4 8M91 9l5 -3M91 9l-6 4M91 9l5 6M95 6l12 0M95 6l0 10M95 6l7 9M108 7l6 -2M108 7l-5 9M108 7l1 8M113 5l7 3M113 5l-5 10M113 5l7 9M121 8l13 2M121 8l-1 6M121 8l5 6M134 10l6 -5M134 10l-8 4M134 10l1 6M140 5l8 4M140 5l-5 11M140 5l2 8M148 9l11 -1M148 9l-5 4M148 9l4 7M159 8l5 -1M159 8l-7 8M159 8l4 7M164 8l10 1M164 8l-2 8M164 8l8 7M174 8l7 2M174 8l-2 6M174 8l2 7M182 10l12 -4M182 10l-5 5M182 10l5 3M193 6l5 4M193 6l-7 7M193 6l3 8M199 9l8 0M199 9l-2 5M199 9l4 5M207 10l10 -1M207 10l-4 4M207 10l8 3M217 8l9 -2M217 8l-2 4M217 8l3 5M226 6l6 0M226 6l-6 8M226 6l2 9M233 6l11 2M233 6l-5 8M233 6l4 11M243 8l6 1M243 8l-7 9M243 8l3 7M249 9l10 -3M249 9l-2 6M249 9l4 5M259 6l9 4M259 6l-6 9M259 6l5 10M267 10l9 -2M267 10l-3 7M267 10l3 5M277 8l10 2M277 8l-6 7M277 8l6 8M287 10l-5 7M18 15l6 -1M53 16l8 1M62 17l7 -1M62 17l-6 5M68 16l-5 4M76 13l8 1M76 13l4 7M84 14l11 2M84 14l7 7M84 14l-5 6M96 16l6 -0M96 16l4 7M96 16l-5 5M102 15l6 -0M102 15l3 9M102 15l-2 7M109 15l11 -1M109 15l8 6M109 15l-3 9M120 14l6 0M120 14l1 9M120 14l-3 7M126 14l9 1M126 14l7 8M126 14l-5 9M135 16l8 -3M135 16l7 6M135 16l-2 7M143 13l9 3M143 13l7 8M143 13l-1 9M152 16l11 -0M152 16l5 6M152 16l-3 5M163 16l9 -1M163 16l2 6M163 16l-6 6M172 14l4 1M172 14l4 6M172 14l-7 8M176 15l11 -2M176 15l5 6M176 15l-0 6M187 13l10 1M187 13l7 9M187 13l-5 8M196 14l6 -0M196 14l1 10M196 14l-3 8M203 14l12 -2M203 14l7 10M203 14l-5 10M215 12l6 1M215 12l1 11M215 12l-5 12M220 14l8 1M220 14l4 7M220 14l-4 10M228 14l9 2M228 14l8 9M228 14l-4 6M237 17l10 -1M237 17l4 7M237 17l-1 7M247 16l7 -1M247 16l2 5M247 16l-6 8M253 15l11 2M253 15l3 6M253 15l-5 7M264 17l7 -2M264 17l2 7M264 17l-7 4M271 15l12 2M271 15l4 6M271 15l-5 9M282 16l1 5M282 16l-7 4M55 21l8 -1M63 20l8 2M71 22l9 -3M71 22l-2 6M79 20l11 1M79 20l-1 10M79 20l7 11M91 21l9 2M91 21l-4 9M91 21l5 9M100 23l6 1M100 23l-4 8M100 23l2 6M106 24l11 -3M106 24l-4 5M106 24l5 7M117 21l5 2M117 21l-6 10M117 21l4 6M121 23l12 -0M121 23l-1 5M121 23l4 5M133 23l8 -1M133 23l-8 5M133 23l0 5M142 22l8 -1M142 22l-8 6M142 22l0 7M149 21l7 1M149 21l-7 7M149 21l2 10M157 22l8 0M157 22l-6 9M157 22l5 10M165 22l11 -1M165 22l-3 10M165 22l7 9M176 21l5 0M176 21l-3 10M176 21l5 7M181 21l12 1M181 21l-0 6M181 21l4 11M194 22l4 2M194 22l-8 9M194 22l2 6M197 24l13 -0M197 24l-2 4M197 24l8 5M210 24l6 -0M210 24l-5 5M210 24l3 5M216 23l8 -3M216 23l-3 5M216 23l4 4M224 20l11 4M224 20l-5 7M224 20l6 12M236 24l5 0M236 24l-6 8M236 24l5 7M241 24l8 -3M241 24l-0 7M241 24l8 5M248 21l8 -1M248 21l0 8M248 21l6 11M257 21l9 3M257 21l-3 11M257 21l7 10M266 23l9 -3M266 23l-2 7M266 23l3 5M275 21l8 1M275 21l-6 8M275 21l5 10M283 21l-3 10M6 31l5 6M59 30l10 -1M59 30l-4 8M69 28l10 1M69 28l5 10M79 30l8 1M79 30l1 7M79 30l-4 9M87 31l9 -0M87 31l0 8M87 31l-7 6M96 31l6 -1M96 31l3 5M96 31l-9 8M102 29l9 2M102 29l5 8M102 29l-3 6M111 31l10 -3M111 31l4 5M111 31l-5 7M121 28l5 -0M121 28l2 9M121 28l-6 9M125 28l9 -0M125 28l9 9M125 28l-3 9M134 27l8 1M134 27l6 9M134 27l0 9M142 28l9 2M142 28l5 8M142 28l-2 8M151 31l11 1M151 31l5 6M151 31l-4 6M162 32l10 -1M162 32l3 4M162 32l-6 4M172 31l8 -4M172 31l4 5M172 31l-7 5M181 27l5 5M181 27l1 11M181 27l-4 9M186 32l10 -4M186 32l5 5M186 32l-4 6M195 28l10 1M195 28l5 7M195 28l-5 9M205 29l7 -1M205 29l4 6M205 29l-5 6M213 29l7 -1M213 29l3 10M213 29l-4 6M220 27l10 4M220 27l8 10M220 27l-4 11M230 32l10 -1M230 32l2 5M230 32l-2 6M240 31l8 -2M240 31l1 8M240 31l-8 6M249 29l5 3M249 29l1 7M249 29l-8 10M254 32l10 -1M254 32l6 6M254 32l-5 4M264 30l6 -2M264 30l4 6M264 30l-4 7M270 28l11 3M270 28l9 9M270 28l-1 9M280 31l7 6M280 31l-2 6M39 37l5 6M55 38l7 -0M55 38l7 8M62 37l-0 9M62 37l6 10M75 38l5 -2M75 38l-7 9M75 38l4 4M79 37l8 2M79 37l-1 6M79 37l7 7M87 38l11 -3M87 38l-1 6M87 38l5 5M98 35l8 2M98 35l-6 8M98 35l3 7M106 37l9 -1M106 37l-5 5M106 37l2 5M115 36l7 -0M115 36l-7 6M115 36l3 6M122 36l12 -0M122 36l-4 6M122 36l3 10M134 36l6 1M134 36l-9 10M134 36l1 8M140 37l7 -0M140 37l-5 8M140 37l5 10M147 36l9 -0M147 36l-2 10M147 36l4 7M156 36l9 0M156 36l-5 7M156 36l8 10M165 36l11 -0M165 36l-2 10M165 36l7 8M176 36l5 2M176 36l-4 9M176 36l1 7M182 38l9 -1M182 38l-4 5M182 38l7 8M191 37l10 -2M191 37l-2 9M191 37l5 9M201 35l9 0M201 35l-5 11M201 35l2 10M209 35l6 4M209 35l-6 10M209 35l5 7M215 39l12 -1M215 39l-1 4M215 39l6 4M228 38l4 -1M228 38l-6 5M228 38l3 8M232 37l9 2M232 37l-1 9M232 37l7 7M241 39l8 -3M241 39l-2 5M241 39l3 6M249 35l11 2M249 35l-5 9M249 35l5 8M260 38l8 -1M260 38l-6 6M260 38l1 9M268 37l10 -0M268 37l-7 10M268 37l4 8M279 37l8 -0M279 37l-6 8M279 37l4 10M287 36l-5 10M-0 44l5 8M10 46l6 -1M10 46l5 5M10 46l-5 6M16 45l8 5M16 45l-1 7M27 44l5 8M27 44l-3 5M35 45l4 9M35 45l-4 7M44 44l2 8M44 44l-5 11M50 42l11 4M50 42l7 11M50 42l-5 9M61 46l6 1M61 46l2 7M61 46l-5 7M67 47l11 -4M67 47l6 7M67 47l-4 6M79 43l8 1M79 43l3 8M79 43l-5 11M87 44l6 -1M87 44l1 6M87 44l-5 7M93 43l9 -1M93 43l3 6M93 43l-4 6M102 42l7 0M102 42l7 8M102 42l-6 7M108 42l10 0M108 42l7 7M108 42l0 8M118 43l8 3M118 43l8 9M118 43l-3 7M126 46l10 -2M126 46l5 7M126 46l0 6M135 44l10 2M135 44l7 10M135 44l-5 9M145 47l6 -4M145 47l2 5M145 47l-3 8M151 43l12 3M151 43l7 8M151 43l-4 8M163 46l9 -2M163 46l3 6M163 46l-5 4M172 45l6 -2M172 45l3 9M172 45l-6 8M178 43l11 3M178 43l6 8M178 43l-2 11M189 46l7 0M189 46l3 6M189 46l-5 5M196 46l7 -1M196 46l2 3M196 46l-3 6M203 45l12 -2M203 45l6 6M203 45l-5 5M215 42l7 0M215 42l0 9M215 42l-6 9M222 43l10 3M222 43l3 8M222 43l-7 9M231 46l8 -2M231 46l3 6M231 46l-6 5M239 44l5 0M239 44l4 10M239 44l-5 8M244 44l10 -0M244 44l9 6M244 44l-2 10M254 44l7 3M254 44l7 7M254 44l-1 7M261 47l11 -2M261 47l9 3M261 47l-0 4M272 45l10 2M272 45l3 9M272 45l-2 5M282 46l3 6M282 46l-7 8M5 52l10 -1M5 52l-6 5M5 52l6 5M15 51l9 -2M15 51l-4 6M15 51l1 8M23 49l8 3M23 49l-8 9M23 49l4 11M31 52l8 2M31 52l-4 8M31 52l5 9M39 54l6 -3M39 54l-2 6M39 54l3 7M45 51l11 2M45 51l-3 10M57 53l7 0M57 53l-7 4M57 53l5 8M64 53l9 0M64 53l-2 8M64 53l5 6M73 54l8 -3M73 54l-4 5M73 54l2 4M82 51l7 -1M82 51l-7 7M82 51l1 6M88 50l8 -0M88 50l-5 7M88 50l5 12M96 49l13 1M96 49l-2 12M96 49l8 10M109 50l7 -0M109 50l-4 9M109 50l3 9M115 50l10 2M115 50l-4 9M115 50l5 10M126 52l4 1M126 52l-5 8M126 52l4 9M130 53l12 1M130 53l-0 7M130 53l7 6M142 54l5 -3M142 54l-5 5M142 54l1 5M147 51l11 -1M147 51l-5 8M147 51l5 6M158 51l8 2M158 51l-5 7M158 51l2 8M166 53l9 1M166 53l-6 6M166 53l2 7M176 53l8 -3M176 53l-7 6M176 53l2 8M184 51l9 1M184 51l-6 11M184 51l4 9M193 51l6 -2M193 51l-5 8M193 51l3 7M198 49l11 2M198 49l-3 9M198 49l4 12M209 51l6 1M209 51l-6 10M209 51l6 9M215 52l10 -1M215 52l-0 8M215 52l7 6M225 51l9 1M225 51l-3 6M225 51l5 7M234 52l8 2M234 52l-4 5M234 52l3 8M242 54l10 -4M242 54l-5 5M242 54l2 4M253 51l8 0M253 51l-8 7M253 51l3 8M261 51l9 -1M261 51l-5 8M261 51l4 7M270 50l5 4M270 50l-4 8M270 50l-0 12M275 54l10 -1M275 54l-5 7M275 54l6 6M286 53l-5 7M-2 57l12 -0M-2 57l6 8M11 57l5 2M11 57l4 10M11 57l-6 8M15 59l12 1M15 59l8 6M15 59l-0 8M27 60l9 1M27 60l1 7M27 60l-4 5M37 61l6 1M37 61l0 8M37 61l-8 6M42 61l8 -4M42 61l3 3M42 61l-5 7M50 57l12 4M50 57l3 9M50 57l-5 8M62 61l7 -2M62 61l4 7M62 61l-8 4M69 59l6 -1M69 59l4 7M69 59l-3 9M75 58l8 -1M75 58l3 11M75 58l-2 8M83 57l11 4M83 57l5 8M83 57l-4 11M93 61l11 -2M93 61l4 7M93 61l-6 4M104 59l7 -0M104 59l0 5M104 59l-7 9M111 59l9 1M111 59l5 5M111 59l-7 5M120 60l10 1M120 60l4 5M120 60l-4 4M130 61l7 -1M130 61l1 4M130 61l-6 4M137 60l6 -1M137 60l3 9M137 60l-6 5M143 59l10 -2M143 59l8 8M143 59l-3 10M153 57l7 1M153 57l2 8M153 57l-2 9M160 59l8 1M160 59l5 9M160 59l-5 6M168 60l9 2M168 60l8 4M168 60l-4 8M178 62l10 -2M178 62l4 7M178 62l-1 2M188 59l7 -1M188 59l2 5M188 59l-6 10M195 59l7 3M195 59l3 10M195 59l-6 6M202 62l12 -2M202 62l5 6M202 62l-4 7M215 60l7 -3M215 60l0 7M215 60l-8 8M222 57l8 0M222 57l2 10M222 57l-7 10M230 57l7 2M230 57l5 11M230 57l-6 10M237 60l8 -2M237 60l5 9M237 60l-2 9M245 58l11 1M245 58l5 11M245 58l-3 11M256 59l9 -2M256 59l5 10M256 59l-6 10M265 57l4 4M265 57l0 8M265 57l-4 12M270 61l11 -1M270 61l7 7M270 61l-4 4M281 60l2 8M281 60l-4 8M5 65l11 2M5 65l-5 7M5 65l2 7M15 67l8 -2M15 67l-9 5M15 67l0 10M23 65l5 2M23 65l-8 11M23 65l3 11M29 67l8 2M29 67l-2 9M29 67l8 7M37 68l9 -4M37 68l-1 5M37 68l7 6M46 64l8 1M46 64l-2 10M46 64l6 7M54 65l13 3M54 65l-2 6M54 65l8 7M66 68l7 -2M66 68l-5 4M66 68l2 6M73 66l5 2M73 66l-5 9M73 66l5 9M78 68l9 -3M78 68l-1 7M78 68l6 5M87 65l10 3M87 65l-3 8M87 65l7 7M97 68l7 -4M97 68l-3 3M97 68l6 5M105 64l12 -0M105 64l-1 9M105 64l5 9M117 64l8 1M117 64l-7 9M117 64l3 8M124 65l6 0M124 65l-4 8M124 65l1 7M131 65l9 4M131 65l-5 7M131 65l3 10M140 69l11 -2M140 69l-6 6M140 69l7 3M150 67l5 -2M150 67l-3 5M150 67l2 6M155 65l10 3M155 65l-2 8M155 65l5 8M165 68l12 -4M165 68l-4 5M165 68l3 6M176 64l6 5M176 64l-8 9M176 64l1 8M182 69l8 -4M182 69l-5 3M182 69l3 7M189 64l9 4M189 64l-4 12M189 64l7 12M199 69l8 -1M199 69l-2 8M199 69l7 7M207 68l8 -0M207 68l-1 7M207 68l4 4M215 67l9 -0M215 67l-4 5M215 67l9 8M224 67l11 1M224 67l-0 8M224 67l7 5M235 68l7 1M235 68l-4 4M235 68l5 6M242 69l8 -0M242 69l-2 5M242 69l2 3M250 69l11 0M250 69l-6 4M250 69l7 6M261 69l4 -4M261 69l-4 5M261 69l0 3M266 65l12 3M266 65l-4 6M266 65l8 8M277 69l6 -1M277 69l-4 5M277 69l3 4M284 68l-3 4M-0 71l7 0M-0 71l3 10M6 71l9 5M6 71l6 8M6 71l-4 10M16 76l11 -0M16 76l4 5M16 76l-3 4M26 76l10 -2M26 76l1 3M26 76l-7 5M36 73l7 1M36 73l2 6M36 73l-8 6M44 75l8 -3M44 75l4 8M44 75l-5 4M52 72l10 0M52 72l4 12M52 72l-4 11M61 72l6 3M61 72l1 9M61 72l-5 11M68 75l10 1M68 75l4 4M68 75l-6 6M78 76l6 -3M78 76l5 3M78 76l-6 4M84 73l11 -1M84 73l8 9M84 73l-1 6M95 72l9 1M95 72l6 7M95 72l-3 11M104 73l6 -0M104 73l4 11M104 73l-4 6M110 73l10 -1M110 73l6 9M110 73l-2 11M120 72l6 -1M120 72l4 9M120 72l-4 9M126 72l8 3M126 72l8 10M126 72l-2 10M134 75l13 -3M134 75l6 6M134 75l-1 7M147 71l6 2M147 71l2 10M147 71l-7 9M153 73l8 -0M153 73l7 10M153 73l-3 9M161 73l7 0M161 73l4 9M161 73l-1 10M168 74l9 -2M168 74l5 8M168 74l-3 9M177 72l8 4M177 72l6 11M177 72l-4 10M185 76l11 0M185 76l4 3M185 76l-2 6M197 76l9 -1M197 76l2 6M197 76l-8 3M206 75l6 -3M206 75l1 6M206 75l-7 7M211 72l12 3M211 72l8 9M211 72l-5 10M223 75l7 -3M223 75l0 7M223 75l-5 6M231 72l9 2M231 72l3 9M231 72l-7 10M239 74l5 -2M239 74l1 8M239 74l-6 7M244 72l13 2M244 72l6 11M244 72l-4 10M257 75l4 -3M257 75l2 8M257 75l-7 9M261 72l12 1M261 72l9 12M261 72l-2 10M273 73l7 -1M273 73l1 10M273 73l-3 11M280 72l2 12M280 72l-7 11M3 81l10 -2M3 81l-1 6M3 81l7 8M12 80l7 1M12 80l-3 9M12 80l4 10M19 81l8 -2M19 81l-3 8M19 81l6 8M28 79l10 -0M28 79l-2 10M28 79l7 7M38 79l10 4M38 79l-3 7M38 79l5 11M48 83l8 1M48 83l-5 7M48 83l5 6M56 84l6 -3M56 84l-3 5M56 84l3 3M62 81l10 -2M62 81l-2 6M62 81l4 10M72 79l11 -0M72 79l-5 12M72 79l2 12M83 79l9 3M83 79l-8 12M83 79l0 9M92 82l9 -3M92 82l-9 6M92 82l2 4M100 79l8 5M100 79l-6 7M100 79l2 11M108 84l8 -2M108 84l-7 7M108 84l2 3M116 82l8 -1M116 82l-6 5M116 82l1 9M124 81l10 0M124 81l-7 10M124 81l1 8M134 82l7 -1M134 82l-8 8M134 82l3 6M140 81l9 1M140 81l-4 7M140 81l4 9M149 82l10 1M149 82l-5 8M149 82l2 6M159 83l5 -0M159 83l-8 5M159 83l4 5M165 82l8 -1M165 82l-1 5M165 82l5 6M173 81l10 1M173 81l-3 7M173 81l7 9M183 83l6 -3M183 83l-3 8M183 83l5 7M189 80l9 2M189 80l-1 10M189 80l7 7M198 82l8 -0M198 82l-2 5M198 82l6 6M207 82l12 -1M207 82l-2 7M207 82l7 6M219 81l5 1M219 81l-5 7M219 81l0 7M224 82l9 -1M224 82l-5 6M224 82l7 7M233 81l7 1M233 81l-2 8M233 81l6 5M241 82l9 2M241 82l-2 4M241 82l4 5M250 84l9 -2M250 84l-5 4M250 84l5 3M259 82l11 2M259 82l-4 5M259 82l7 6M270 84l4 -0M270 84l-4 4M270 84l-0 4M274 84l9 0M274 84l-4 4M274 84l7 6M283 84l-2 6M10 89l7 0M10 89l6 9M10 89l-4 5M17 89l9 0M17 89l5 7M17 89l-2 9M25 90l10 -3M25 90l3 5M25 90l-4 7M35 86l8 4M35 86l1 12M35 86l-6 8M43 90l10 -1M43 90l6 6M43 90l-7 9M53 89l7 -2M53 89l3 7M53 89l-4 7M60 87l7 4M60 87l5 7M60 87l-4 9M66 91l8 0M66 91l7 4M66 91l-2 3M74 91l9 -3M74 91l7 6M74 91l-1 4M83 88l11 -2M83 88l8 9M83 88l-2 9M94 86l8 4M94 86l2 11M94 86l-3 10M102 90l8 -3M102 90l4 6M102 90l-6 7M110 87l7 4M110 87l6 11M110 87l-4 9M117 91l9 -1M117 91l4 5M117 91l-0 8M125 90l11 -2M125 90l5 8M125 90l-4 6M137 88l8 2M137 88l3 11M137 88l-6 10M145 90l7 -2M145 90l5 6M145 90l-5 9M152 87l12 -0M152 87l7 10M152 87l-1 8M164 87l6 1M164 87l0 8M164 87l-5 10M170 89l10 2M170 89l2 9M170 89l-6 7M180 91l8 -1M180 91l2 5M180 91l-8 7M188 89l7 -3M188 89l4 9M188 89l-6 6M196 87l9 2M196 87l2 10M196 87l-3 12M204 88l9 -0M204 88l2 9M204 88l-6 9M214 88l5 0M214 88l4 9M214 88l-7 10M219 88l12 1M219 88l7 6M219 88l-1 9M231 89l8 -2M231 89l4 5M231 89l-6 5M239 86l6 1M239 86l4 12M239 86l-3 8M245 88l10 -1M245 88l4 8M245 88l-2 11M255 87l11 1M255 87l5 10M255 87l-5 9M266 88l4 -0M266 88l1 8M266 88l-6 9M269 87l11 2M269 87l9 10M269 87l-3 8M281 89l3 8M281 89l-2 8M6 94l9 4M6 94l-4 10M6 94l5 8M15 98l6 -1M15 98l-5 4M15 98l1 7M21 97l7 -3M21 97l-5 9M21 97l3 5M29 94l7 4M29 94l-5 7M29 94l3 11M36 98l13 -3M36 98l-4 7M36 98l8 4M49 96l-5 6M49 96l3 6M56 96l9 -2M56 96l-4 6M56 96l4 5M65 94l9 0M65 94l-5 7M65 94l4 11M74 94l8 2M74 94l-5 10M74 94l3 10M81 97l10 -0M81 97l-5 7M81 97l2 7M91 97l5 1M91 97l4 6M96 98l9 -1M106 96l11 2M116 99l5 -3M121 96l10 2M121 96l-3 9M121 96l8 7M131 98l9 0M131 98l-2 5M140 98l11 -3M140 98l-3 5M140 98l5 4M150 96l8 1M150 96l-5 7M150 96l3 7M159 97l5 -2M159 97l-6 6M159 97l5 7M164 95l9 3M164 95l-0 9M164 95l7 9M172 98l10 -3M172 98l6 4M182 95l10 3M182 95l-4 7M182 95l6 8M192 99l6 -2M192 99l-5 5M198 97l9 1M198 97l-3 6M198 97l4 7M207 98l11 -0M207 98l7 5M218 98l8 -3M218 98l-4 5M226 94l10 -0M226 94l-6 12M226 94l4 8M236 94l7 4M236 94l-5 8M236 94l0 10M243 98l7 -2M250 96l11 1M250 96l-5 10M250 96l7 6M260 97l7 -1M260 97l-4 6M260 97l3 5M267 96l11 2M267 96l-4 6M267 96l4 8M278 97l5 -0M278 97l-8 7M283 97l-1 6M2 104l9 -2M2 104l5 6M11 102l5 3M11 102l0 10M11 102l-4 7M16 105l8 -4M16 105l-5 7M24 102l8 4M24 102l5 10M24 102l-4 8M32 105l12 -3M32 105l5 3M32 105l-3 6M44 102l8 -0M44 102l3 10M44 102l-7 7M52 102l8 -1M52 102l3 7M52 102l-5 10M60 101l5 10M68 105l-3 6M83 103l12 -0M95 103l1 7M103 104l2 7M129 103l-4 9M137 103l-6 9M145 103l-4 10M164 104l2 6M178 102l9 1M178 102l3 7M195 104l6 9M195 104l-6 7M202 104l12 -1M202 104l7 5M214 103l-5 6M219 106l8 7M219 106l-0 7M230 103l5 9M230 103l-3 10M236 104l8 5M245 106l8 3M263 101l8 2M263 101l5 9M271 104l12 -1M282 103l3 5M282 103l-6 7M7 110l4 3M7 110l-7 9M7 110l2 6M11 113l10 -3M11 113l-2 3M11 113l6 8M21 110l9 2M21 110l-4 11M21 110l5 10M29 111l7 -3M29 111l-4 8M29 111l4 9M37 109l10 3M37 109l-3 12M37 109l6 11M47 112l8 -3M47 112l-5 8M47 112l4 8M56 109l10 1M56 109l-4 11M56 109l3 11M66 111l7 2M72 113l6 -2M72 113l-2 7M79 111l10 1M79 111l5 9M96 110l9 2M105 111l-3 5M105 111l6 5M114 113l-3 3M114 113l5 4M131 113l9 -0M141 112l10 -3M151 109l-6 7M159 113l7 -3M159 113l-3 3M165 110l-4 9M165 110l5 9M172 113l9 3M181 108l8 3M189 111l12 2M189 111l-2 6M189 111l7 7M201 113l4 7M209 109l10 4M209 109l-4 11M219 113l8 0M235 112l3 8M244 108l-6 12M253 108l3 10M259 111l4 8M276 110l9 -1M-1 119l9 -3M-1 119l4 8M8 116l9 5M8 116l6 12M8 116l-5 12M17 121l9 -1M17 121l3 6M17 121l-3 7M26 119l8 1M26 119l4 5M26 119l-5 7M33 121l9 -1M33 121l4 3M33 121l-3 4M43 120l9 0M43 120l6 5M43 120l-5 4M52 120l3 5M52 120l-3 5M59 121l12 -0M79 118l6 3M84 120l7 3M95 119l-4 5M102 116l8 0M102 116l6 9M102 116l-5 12M111 116l-2 9M119 117l-3 8M128 117l7 3M155 116l3 8M170 119l10 -3M170 119l4 5M181 116l6 1M181 116l0 9M181 116l-6 7M196 118l9 2M205 120l8 -2M213 118l9 -1M213 118l4 7M213 118l-3 7M221 117l10 1M238 120l10 1M248 121l8 -2M256 118l7 1M273 116l6 8M273 116l-7 8M281 119l-2 5M4 127l10 0M4 127l-2 7M4 127l3 8M14 128l6 -1M14 128l-8 7M14 128l1 5M20 127l10 -2M20 127l-5 7M20 127l5 5M30 125l7 -1M30 125l-4 7M30 125l3 8M37 124l11 1M37 124l-4 9M37 124l7 8M48 125l6 -0M48 125l-5 7M54 124l-5 11M149 128l7 6M175 124l6 1M1 135l5 0M1 135l5 4M6 135l9 -2M6 135l6 5M6 135l0 4M15 133l11 -1M15 133l4 6M15 133l-3 7M26 132l8 1M26 132l3 9M26 132l-6 7M33 133l11 -1M33 133l3 8M33 133l-4 8M44 132l6 4M44 132l2 8M44 132l-8 9M50 136l9 -4M50 136l7 6M50 136l-4 4M195 135l7 6M279 133l8 6M7 139l6 1M7 139l-9 7M7 139l2 8M12 140l7 -1M12 140l-4 7M12 140l6 7M19 139l9 2M19 139l-1 9M19 139l5 7M29 141l8 0M29 141l-5 5M29 141l8 8M36 141l10 -2M36 141l0 8M36 141l7 5M46 139l11 2M46 139l-3 7M46 139l5 10M57 142l-6 7M-2 146l11 1M-2 146l7 8M9 147l10 0M18 147l6 -1M37 149l7 -3M43 146l7 3M94 150l7 -1M112 149l5 -0M127 146l-6 7M187 149l8 -2M81 154l-4 8M286 156l-4 8M53 162l7 -1M101 160l8 2M138 160l5 2M144 162l7 6M166 170l-4 7M-2 178l8 7M7 177l5 10M7 177l-1 8M83 176l10 -0M152 179l10 -2M194 175l8 4M194 175l7 10M220 176l4 9M12 187l6 8M129 192l-8 6M135 192l-5 10M153 190l-6 10M169 191l6 10M274 191l1 10M3 197l13 1M89 201l-3 5M60 209l-4 8M23 216l5 -1M35 221l6 2M230 224l8 -4M255 221l8 1" stroke="#6e6e6e" stroke-width="0.7"/>
<path d="M69 4l-1 2M77 3l1 3M87 2l-1 2M98 -0l-2 0M124 4l2 1M128 2l2 1M137 1l1 2M157 -0l-2 3M172 2l-0 3M189 -0l-2 3M200 5l-3 2M215 1l2 1M225 3l-3 0M231 1l3 0M240 2l-1 3M251 2l-2 3M256 4l1 3M266 2l-1 2M283 4l-4 1M67 12l1 2M74 12l-2 2M83 8l-1 4M93 12l2 2M98 8l-1 2M111 9l1 2M116 7l-2 0M124 10l1 2M137 12l-0 2M143 7l-2 2M151 11l-2 1M162 10l-2 3M167 10l1 3M177 10l-3 1M185 12l2 0M196 8l2 2M220 11l-3 2M229 8l2 3M236 8l0 4M246 11l4 1M252 11l3 3M262 8l3 1M270 12l0 3M280 10l2 3M290 12l-2 0M28 16l1 3M79 15l-1 3M129 16l-4 0M138 18l-3 1M155 18l2 0M166 18l3 2M175 16l-2 3M179 17l2 1M190 15l1 3M199 16l-4 1M206 16l-2 1M218 14l4 1M231 17l-3 0M240 19l3 1M249 18l0 4M274 17l-2 0M285 19l2 1M66 22l1 2M82 22l2 0M94 23l-2 1M103 25l2 3M109 26l4 1M120 23l-2 1M124 25l-1 1M136 25l-2 3M145 24l1 4M152 23l-2 1M160 24l2 1M168 24l2 2M179 23l2 1M184 23l-3 2M197 24l-2 1M200 26l-1 3M213 26l-3 1M219 26l2 2M239 26l-3 2M244 26l-2 3M251 23l-1 4M269 25l3 1M278 23l-2 0M286 23l1 2M82 32l2 1M90 33l3 0M99 33l-1 2M105 31l2 2M124 30l-1 3M128 30l-0 4M137 29l0 2M145 30l2 1M154 33l-4 1M175 33l3 1M184 29l-1 3M189 34l3 2M198 30l-2 1M208 31l1 3M216 31l-1 1M223 30l-1 3M233 34l1 3M243 33l0 2M252 31l2 3M267 33l-2 2M65 39l-0 2M82 39l-4 1M90 40l2 1M101 37l-2 1M109 40l4 0M118 38l-2 1M125 38l-2 2M137 38l-1 3M143 39l0 4M150 39l-2 3M159 38l3 1M168 38l-1 3M179 38l-0 3M185 40l3 0M194 39l1 2M218 41l3 0M231 40l-1 3M235 39l1 3M244 41l-3 1M252 38l3 1M263 40l3 1M271 39l3 1M282 39l-2 2M290 39l-1 3M13 48l1 1M64 48l-3 1M70 49l1 4M90 46l4 1M105 44l-3 1M111 45l1 3M121 45l-3 2M129 48l2 2M138 46l0 2M148 49l-2 1M166 49l-2 1M175 47l-1 3M181 45l2 2M192 48l1 4M218 44l-3 2M242 46l1 2M247 46l2 3M257 46l0 3M264 49l-2 3M275 47l-1 2M285 49l-2 1M7 54l2 1M17 53l-2 3M34 54l-2 1M48 53l-0 3M60 55l1 4M67 55l0 4M76 56l1 2M84 53l-3 1M91 52l2 1M99 52l0 2M112 52l-2 2M118 52l-2 1M129 54l4 0M133 56l-2 2M145 56l0 3M150 53l-4 1M161 53l-1 2M169 55l2 1M179 56l-4 0M187 53l3 1M212 53l1 2M218 54l0 3M228 53l-0 2M237 54l-1 3M245 56l-0 2M256 53l1 2M273 52l2 1M278 56l1 2M289 55l0 2M14 59l-1 3M18 61l-4 1M65 63l-3 0M72 61l-3 2M78 60l-0 4M96 63l-2 2M107 61l-2 3M114 61l1 2M123 62l3 2M133 63l-2 3M146 61l3 0M156 60l2 2M171 62l2 2M181 64l-1 3M191 61l2 2M198 61l-3 2M205 64l0 3M218 62l2 0M233 60l4 2M240 62l-1 2M248 60l2 1M259 61l-2 2M268 60l2 1M284 62l2 2M8 67l-1 3M26 67l-3 0M49 67l-2 3M57 68l4 1M69 71l-3 2M76 68l-3 2M81 70l3 0M100 71l-1 3M108 66l-1 2M127 67l2 2M134 67l-0 3M143 71l1 3M153 69l1 4M168 70l-1 2M179 66l2 0M192 67l-1 2M202 71l-1 2M210 70l2 1M218 69l3 1M238 71l-3 2M253 71l-3 1M264 71l-0 2M280 71l2 2M286 70l4 0M3 74l-0 2M9 74l1 2M19 78l2 3M46 77l-3 1M55 74l-3 1M64 74l-2 2M71 77l-2 1M81 78l-4 0M87 75l2 1M98 74l2 2M107 75l1 3M113 75l-3 0M123 74l2 3M129 74l2 3M137 77l-0 2M150 74l4 0M156 75l-3 0M164 75l-3 1M171 76l-0 2M188 78l2 3M200 79l1 2M209 77l1 2M214 74l-2 1M226 77l2 3M234 74l-2 0M242 76l-3 2M247 75l3 2M260 77l-2 2M264 74l3 1M276 75l-1 2M15 82l-0 2M41 81l1 4M51 85l-2 0M59 86l-1 3M65 83l-3 1M75 81l-2 1M86 81l3 1M103 81l2 1M111 86l1 2M119 84l-2 2M127 83l3 2M137 84l-1 2M143 83l2 3M152 84l3 1M168 85l3 3M176 83l0 4M186 85l-1 3M192 82l3 2M210 84l-4 1M222 83l3 2M227 84l2 3M236 83l-2 1M244 84l1 2M253 86l3 2M262 84l-3 1M273 86l2 1M277 86l3 2M286 86l-1 4M4 90l3 1M13 91l-2 3M38 88l-3 3M46 92l2 2M56 91l-4 2M69 93l-1 3M77 93l-1 3M86 90l0 3M105 92l2 2M113 89l0 3M120 93l3 1M128 92l3 1M140 90l2 3M148 92l1 3M154 90l-4 1M167 89l-1 3M173 91l-1 2M183 93l-3 1M191 92l1 2M199 89l-0 3M217 90l0 2M222 90l1 3M234 91l3 2M248 90l4 1M272 90l-3 1M283 91l3 0M9 96l1 3M18 100l2 2M24 99l1 3M39 101l-2 2M52 98l-0 3M59 98l3 0M77 97l-0 2M84 99l1 3M94 99l-3 3M99 100l-3 1M109 99l1 3M119 101l3 0M124 98l-1 3M134 100l-3 1M143 100l1 2M153 98l3 1M167 97l2 2M175 100l1 3M185 97l1 2M195 101l-3 1M201 99l-0 3M210 100l2 1M221 100l-0 3M246 101l3 1M253 98l-2 1M263 99l-3 2M270 98l-3 2M281 99l-3 1M286 99l3 2M5 106l-1 3M13 104l1 4M19 108l2 2M27 104l-2 2M35 108l3 1M47 104l-4 1M55 104l-0 3M63 103l-0 3M86 105l-1 3M106 106l2 3M121 107l1 3M191 105l2 2M205 106l3 2M217 105l-1 2M222 108l3 2M233 105l-3 2M239 106l3 2M274 106l-3 2M14 115l-2 0M24 112l3 2M32 114l-1 3M40 111l3 1M50 114l1 2M92 114l1 4M128 114l3 1M134 115l-1 3M162 115l-2 3M168 112l-1 2M192 113l-2 2M222 115l2 3M262 113l1 4M271 112l3 0M279 112l3 2M289 111l2 3M2 121l3 1M20 123l3 1M29 122l-1 3M36 123l0 2M46 122l3 0M55 122l-3 1M62 123l-2 1M73 122l1 3M87 122l2 3M131 119l-2 1M184 118l-1 4M235 120l-1 2M241 122l-2 2M251 123l-3 0M266 122l-1 2M7 130l-4 0M17 130l3 2M33 127l4 1M40 126l-3 2M51 127l-3 1M57 127l-1 2M9 137l-3 0M29 134l-1 2M36 135l-1 3M47 134l-3 1M53 138l-0 3M90 134l-1 2M217 134l-3 0M15 142l3 2M22 141l-2 2M32 143l0 3M49 142l-1 3M171 144l-1 2M1 148l-2 3M21 150l2 3M27 148l-3 0M39 151l-3 2M46 149l2 1M54 151l3 1M165 151l-3 2M167 160l1 3M146 164l2 2M71 211l2 2M129 225l2 2M207 225l-2 3M23 233l-2 0" stroke="#d6d6d6" stroke-width="1.6"/>
<path d="M140 8q4 5 9 1q-4-5-9-1M123 57q-1 5 3 6q1-5-3-6M10 104q2 6 8 5q-2-6-8-5M153 75q-5 2-4 8q5-2 4-8M155 16q2 6 7 3q-2-6-7-3M144 62q-5-1-8 3q5 1 8-3M180 175q1 5 6 4q-1-5-6-4M116 84q-2 5 3 8q2-5-3-8M102 92q-4 4-1 9q4-4 1-9M179 205q-4 4-1 9q4-4 1-9M55 103q-4-4-8 1q4 4 8-1M23 176q-5 1-5 6q5-1 5-6M277 12q-5 1-3 6q5-1 3-6M111 48q0 5 5 4q0-5-5-4M156 50q-3 5 2 7q3-5-2-7M147 58q1 4 6 3q-1-4-6-3M109 31q0 6 6 6q0-6-6-6M98 25q0 5 5 4q0-5-5-4M226 74q-5 3-2 8q5-3 2-8M101 47q-6 0-6 6q6 0 6-6M214 43q-5 1-2 6q5-1 2-6M48 146q-6 0-5 6q6 0 5-6M23 59q-2 5 3 8q2-5-3-8M127 98q-5-1-5 4q5 1 5-4M187 73q-5 2-3 7q5-2 3-7M228 94q-5 2-3 7q5-2 3-7M141 66q2 5 7 2q-2-5-7-2M127 69q-5 3-1 7q5-3 1-7M93 37q-6 1-4 7q6-1 4-7M232 47q-4-4-8 1q4 4 8-1M42 51q-4 4 1 6q4-4-1-6M1 124q-1 5 4 7q1-5-4-7M94 90q-5 2-3 7q5-2 3-7M151 60q-4-3-6 1q4 3 6-1M279 11q-4-2-6 2q4 2 6-2M57 17q-5 2-3 7q5-2 3-7M204 39q-4-2-6 3q4 2 6-3M251 83q-2 5 4 5q2-5-4-5M28 104q-5-4-7 2q5 4 7-2M169 55q-3 4 2 6q3-4-2-6M140 66q-4-4-6 2q4 4 6-2M50 88q-4-3-6 2q4 3 6-2M267 89q-3-3-6 1q3 3 6-1M242 8q-5 4-1 8q5-4 1-8M112 89q-2 4 2 6q2-4-2-6M216 78q-1 6 5 7q1-6-5-7M185 9q-4-3-6 2q4 3 6-2M275 9q-4 3 0 7q4-3 0-7M271 120q2 5 7 3q-2-5-7-3M46 54q-5 3-1 6q5-3 1-6M24 90q-2 4 2 7q2-4-2-7M67 90q1 5 7 5q-1-5-7-5M145 69q-6 2-3 7q6-2 3-7M212 3q-6 0-4 6q6 0 4-6M6 105q-5 2-4 8q5-2 4-8M172 23q-1 5 4 5q1-5-4-5M224 93q-5 2-2 7q5-2 2-7M129 9q4 5 8 0q-4-5-8 0M59 42q-5 4 0 8q5-4 0-8M87 81q3 5 8 3q-3-5-8-3M45 137q-6 0-6 6q6 0 6-6M68 71q-5 1-2 6q5-1 2-6M54 120q-4-3-7 1q4 3 7-1M194 14q-4-3-8 1q4 3 8-1M29 135q-5 2-4 8q5-2 4-8M111 38q-6 0-7 5q6 0 7-5M73 89q-3 4 2 7q3-4-2-7M48 144q-6 1-5 7q6-1 5-7M129 62q1 4 6 3q-1-4-6-3M226 69q-1 6 4 5q1-6-4-5M113 23q-1 6 5 7q1-6-5-7M266 17q-1 5 4 5q1-5-4-5M29 88q-5 1-5 7q5-1 5-7M47 57q-5 3-1 7q5-3 1-7M138 34q4 4 8 0q-4-4-8 0M237 58q-5 2-2 6q5-2 2-6M192 77q-3 4 1 6q3-4-1-6M260 39q-4 0-4 4q4 0 4-4M261 37q-6-1-6 5q6 1 6-5M230 38q-1 6 5 7q1-6-5-7M223 0q1 5 6 3q-1-5-6-3M150 49q-5 3-1 7q5-3 1-7M86 47q0 5 5 6q0-5-5-6M49 87q-2 6 4 6q2-6-4-6M23 140q3 4 7 2q-3-4-7-2M256 46q4 5 9 2q-4-5-9-2M251 35q-4-4-7 1q4 4 7-1M21 95q-2 6 3 8q2-6-3-8M268 44q-5-3-8 2q5 3 8-2M23 119q-2 5 2 8q2-5-2-8M18 52q1 5 6 3q-1-5-6-3M154 9q-4 3 0 7q4-3 0-7M237 54q-1 5 4 5q1-5-4-5M93 81q-2 5 3 6q2-5-3-6M92 190q-4-4-7 0q4 4 7 0M122 74q-5 2-2 7q5-2 2-7M99 30q-6-2-8 3q6 2 8-3M256 78q-5-2-7 3q5 2 7-3M84 90q-5 3-1 7q5-3 1-7M49 134q-6 2-5 8q6-2 5-8M93 135q-5 1-3 6q5-1 3-6M211 103q-1 5 4 7q1-5-4-7M259 48q-5-1-7 4q5 1 7-4M24 114q-5-2-6 4q5 2 6-4M199 47q0 5 5 4q0-5-5-4M102 77q0 6 6 5q0-6-6-5M159 117q-6 2-4 7q6-2 4-7M95 19q-4 4 0 8q4-4 0-8M232 34q-3 4 2 6q3-4-2-6M72 4q-3 4 1 7q3-4-1-7M178 22q1 6 6 5q-1-6-6-5M201 56q-1 5 4 6q1-5-4-6M227 89q-2 5 3 8q2-5-3-8M78 117q-2 5 2 7q2-5-2-7M227 30q-5 2-3 8q5-2 3-8M64 5q-4 3-1 7q4-3 1-7M239 67q-6 2-3 8q6-2 3-8M265 86q2 6 7 3q-2-6-7-3M135 55q-2 4 3 6q2-4-3-6M31 98q-5-2-7 4q5 2 7-4M64 203q-4-4-8 1q4 4 8-1M4 114q4 3 9 0q-4-3-9 0M58 21q2 6 8 4q-2-6-8-4M96 13q-3-4-6 0q3 4 6 0M243 49q-3 4 1 6q3-4-1-6M240 3q-6 1-3 7q6-1 3-7M170 3q-3 5 3 7q3-5-3-7M130 32q-4 4 1 7q4-4-1-7M217 84q-4-3-7 1q4 3 7-1M34 52q-4 3-1 7q4-3 1-7M261 105q-5-3-7 2q5 3 7-2M10 12q-2 6 3 9q2-6-3-9M15 19q3 5 8 4q-3-5-8-4M9 15q5 3 8-2q-5-3-8 2M20 23q2 5 7 3q-2-5-7-3M21 16q-2 7 5 9q2-7-5-9M24 19q2 6 9 5q-2-6-9-5M10 17q4 5 10 2q-4-5-10-2M16 19q5 4 10 1q-5-4-10-1M32 24q1 7 7 5q-1-7-7-5M3 14q2 5 8 3q-2-5-8-3M36 26q0 6 6 7q0-6-6-7M4 13q4 3 8 0q-4-3-8 0M26 30q5 3 10 0q-5-3-10 0M36 27q-1 5 3 7q1-5-3-7M26 27q5 4 11 0q-5-4-11 0M32 21q0 6 6 6q0-6-6-6M5 11q-1 6 4 9q1-6-4-9M2 16q5 3 8-2q-5-3-8 2M52 8q6 1 7-5q-6-1-7 5M41 32q6-1 5-8q-6 1-5 8M39 34q5-3 3-9q-5 3-3 9M48 20q6 1 8-4q-6-1-8 4M37 29q5-4 2-9q-5 4-2 9M53 11q6-3 3-10q-6 3-3 10M37 32q5-1 5-6q-5 1-5 6M51 9q5-3 4-9q-5 3-4 9M48 6q7 2 10-5q-7-2-10 5M55 17q5-2 3-7q-5 2-3 7M48 21q6-3 3-9q-6 3-3 9M38 33q5 0 6-6q-5 0-6 6M30 43q-6-2-8 4q6 2 8-4M31 39q-6 2-3 8q6-2 3-8M38 25q-5 4-1 8q5-4 1-8M28 45q-5 2-3 7q5-2 3-7M36 32q-6 2-5 8q6-2 5-8M30 38q-4 4-1 9q4-4 1-9M24 52q-6-4-10 2q6 4 10-2M42 33q-6 1-6 7q6-1 6-7M24 46q-4 4 0 7q4-4 0-7M27 53q-5-3-8 1q5 3 8-1M36 31q-6 2-6 9q6-2 6-9M23 52q-6 0-7 5q6 0 7-5M24 47q-6 1-5 7q6-1 5-7M30 43q-6 0-9 6q6 0 9-6" fill="#c8c8c8" stroke="#5a5a5a" stroke-width="0.7" stroke-linejoin="round"/>
<defs><path id="cc2r" d="M251 66h0M264 89h0M269 15h0M130 75h0M57 47h0M247 38h0M59 40h0M271 80h0M65 219h0M221 117h0M249 40h0M270 18h0M190 88h0M252 55h0M144 104h0M158 105h0M11 114h0M16 97h0M168 81h0M89 97h0M56 103h0M21 90h0M67 79h0M198 59h0M163 10h0M145 101h0M8 32h0M52 103h0M35 64h0M11 36h0M39 105h0M84 44h0M127 45h0M21 22h0M202 15h0M246 9h0M114 84h0M207 99h0M51 30h0M242 32h0M152 81h0M114 74h0M100 105h0M6 110h0M71 91h0M200 4h0M37 28h0M32 24h0M26 25h0M52 19h0M45 18h0M59 4h0M37 27h0M59 6h0M21 51h0M39 31h0"/></defs>
<use href="#cc2r" stroke="#2a2a2a" stroke-width="5.6"/>
<use href="#cc2r" stroke="#f8f8f8" stroke-width="3.4"/>
</g></g>
<text x="628.1" y="713.4" font-size="20.5" text-anchor="end" fill="#ff0000" stroke="#ff0000" stroke-width="0.4">50 µm</text>
<path d="M601.8,728.4h15.6M602.6,726.4v4M616.6,726.4v4" stroke="#ff0000" stroke-width="2"/>
<text x="785.0" y="507.0" font-size="25.8" text-anchor="middle" stroke="#000" stroke-width="0.4">NC+siVEGFA</text>
<clipPath id="cc3"><rect x="645.1" y="520.0" width="279.3" height="223.8"/></clipPath>
<g clip-path="url(#cc3)">
<rect x="645.1" y="520.0" width="279.3" height="223.8" fill="#b9b9b9"/>
<g filter="url(#blur12)">
<ellipse cx="725" cy="670" rx="70" ry="50" fill="#a8a8a8" opacity="0.4"/>
</g>
<g transform="translate(645.1,520.0)" stroke-linecap="round" fill="none">
<path d="M75 149q-6 2-5 9q6-2 5-9M75 152q-5 0-5 5q5 0 5-5M100 92q-2 6 4 8q2-6-4-8M106 100q-5-4-9 0q5 4 9 0M98 79q-3 5 2 7q3-5-2-7M103 84q-5-4-8 1q5 4 8-1M208 163q-6-1-6 5q6 1 6-5M206 161q1 6 7 6q-1-6-7-6M171 86q-5-3-7 2q5 3 7-2M164 76q-5-4-10 1q5 4 10-1M142 30q4 5 9 2q-4-5-9-2M118 48q-3 5 2 9q3-5-2-9M37 77q-5 3-2 8q5-3 2-8M45 86q-6-3-10 3q6 3 10-3M31 78q3 5 8 2q-3-5-8-2M19 46q-6 3-4 10q6-3 4-10M208 24q-5-4-10 0q5 4 10 0M195 15q0 6 6 8q0-6-6-8M81 187q-5-3-8 1q5 3 8-1M39 127q1 6 6 4q-1-6-6-4M150 185q-5-2-9 3q5 2 9-3M136 182q0 7 6 8q0-7-6-8M204 94q-6-2-9 3q6 2 9-3M233 149q-4 3-2 8q4-3 2-8M183 135q-6-3-8 3q6 3 8-3M141 132q-5-4-8 2q5 4 8-2M265 64q-6-2-9 4q6 2 9-4M263 60q0 6 6 9q0-6-6-9M56 11q-6-3-9 3q6 3 9-3M46 4q1 5 6 3q-1-5-6-3M43 9q2 6 8 5q-2-6-8-5M157 120q2 7 9 5q-2-7-9-5M80 22q4 5 10 2q-4-5-10-2M86 16q-4 5 0 10q4-5 0-10M106 162q-6-3-10 2q6 3 10-2M217 106q-5 3-3 8q5-3 3-8M79 120q-3 4 0 9q3-4 0-9M75 123q5 4 11 1q-5-4-11-1M79 89q-4 5 1 8q4-5-1-8M183 34q-4 5 0 10q4-5 0-10M176 42q3 5 9 2q-3-5-9-2M1 157q0 5 5 5q0-5-5-5M-1 152q3 6 9 5q-3-6-9-5M-3 127q5 3 10 0q-5-3-10 0M3 121q-2 6 3 9q2-6-3-9M259 160q-7 1-7 8q7-1 7-8M259 160q-5 2-3 7q5-2 3-7M259 165q-6 1-6 7q6-1 6-7M172 50q-4 6 1 10q4-6-1-10M178 55q-5-4-9 1q5 4 9-1M258 157q-4-3-7 2q4 3 7-2M275 7q-5-3-7 2q5 3 7-2M204 214q-4-3-7 1q4 3 7-1M40 83q0 6 6 8q0-6-6-8M43 86q-2 5 3 7q2-5-3-7M47 83q-3 4 2 7q3-4-2-7M58 30q-6 0-6 6q6 0 6-6M52 83q-7-1-9 5q7 1 9-5M0 161q1 7 7 8q-1-7-7-8M106 182q4 5 9 2q-4-5-9-2M108 180q2 5 7 3q-2-5-7-3M110 180q-3 5 2 7q3-5-2-7M43 185q-5 1-4 6q5-1 4-6M32 189q-2 5 3 7q2-5-3-7M145 42q-3 5 1 9q3-5-1-9M52 60q-2 5 3 8q2-5-3-8M69 144q-6-2-8 4q6 2 8-4M72 145q-6-4-11 1q6 4 11-1M46 42q-1 6 5 8q1-6-5-8M50 43q-2 6 3 10q2-6-3-10M85 193q-4 5 1 10q4-5-1-10M83 199q-6-2-8 5q6 2 8-5M146 89q-2 6 3 8q2-6-3-8M156 91q-6-1-8 5q6 1 8-5M145 87q1 7 7 6q-1-7-7-6M210 87q-2 7 5 9q2-7-5-9M59-1q-4 4 0 8q4-4 0-8M194 20q-4 3-1 7q4-3 1-7M50 65q-6 4-4 10q6-4 4-10M75 18q-5-3-7 2q5 3 7-2M68 90q-4 2-2 7q4-2 2-7M71 86q-6-2-9 3q6 2 9-3M164 170q-5 4-3 9q5-4 3-9M168 166q-6-3-9 3q6 3 9-3M242 89q-6 0-5 6q6 0 5-6M238 92q-6 2-7 8q6-2 7-8M225 208q-3 5 1 8q3-5-1-8M237 209q-5 1-6 6q5-1 6-6M147 101q-3 5 3 8q3-5-3-8M248 121q-4 6 0 11q4-6 0-11M205 218q-5-2-7 3q5 2 7-3M33 30q-5-4-10 0q5 4 10 0M34 34q-3 5 2 9q3-5-2-9M45 30q-5 6 0 11q5-6 0-11M10 197q3 5 8 2q-3-5-8-2M132 64q-5 4 0 8q5-4 0-8M135 61q-4 6 1 10q4-6-1-10M132 126q-5 2-4 7q5-2 4-7M132 70q-5-3-8 2q5 3 8-2M128 68q-5 1-4 6q5-1 4-6M0 123q2 5 7 3q-2-5-7-3M71 60q-6-1-9 5q6 1 9-5M231 185q-6-1-10 4q6 1 10-4M233 189q-5-4-10 1q5 4 10-1M222 135q-3 4 1 8q3-4-1-8M216 134q-4 6 1 10q4-6-1-10M251 152q4 4 9 0q-4-4-9 0M110 130q-5-2-8 3q5 2 8-3M192 32q-3 5 2 8q3-5-2-8M189 38q4 5 10 4q-4-5-10-4M193 36q4 4 9 2q-4-4-9-2M55 82q-6-2-8 4q6 2 8-4M49 90q-6 1-5 7q6-1 5-7M160 134q2 5 7 4q-2-5-7-4M39 154q2 6 8 4q-2-6-8-4M254 131q-2 5 3 7q2-5-3-7M164 100q-6 0-7 6q6 0 7-6M171 183q-5 0-7 5q5 0 7-5M238 128q-5 2-4 7q5-2 4-7M251 114q3 4 7 1q-3-4-7-1M116 148q-4-3-7 2q4 3 7-2M131 78q-3 4 2 7q3-4-2-7M149 58q6 2 10-2q-6-2-10 2M192 50q4 4 9 1q-4-4-9-1M134 60q5 2 8-3q-5-2-8 3M184 59q6 1 7-6q-6-1-7 6M143 61q5 3 8-2q-5-3-8 2M139 53q1 7 8 7q-1-7-8-7M137 64q6 0 5-6q-6 0-5 6M162 58q5 2 8-3q-5-2-8 3M133 57q1 5 6 3q-1-5-6-3M179 51q6 3 10-2q-6-3-10 2M141 56q5 3 9-1q-5-3-9 1M116 57q4 3 8-1q-4-3-8 1M115 57q5 5 10 1q-5-5-10-1M128 62q5 5 10 0q-5-5-10 0M149 58q7 2 10-4q-7-2-10 4M176 59q5 2 8-2q-5-2-8 2M133 56q4 5 9 1q-4-5-9-1M152 48q1 6 7 7q-1-6-7-7M167 52q3 5 9 3q-3-5-9-3M123 59q6-1 5-7q-6 1-5 7M214 72q-2 4 2 7q2-4-2-7M223 85q-1 5 3 7q1-5-3-7M224 87q-5 4 0 8q5-4 0-8M223 82q-3 6 3 10q3-6-3-10M225 100q5 3 9-1q-5-3-9 1M219 79q-2 6 5 8q2-6-5-8M207 59q-3 5 2 9q3-5-2-9M225 87q-2 6 4 8q2-6-4-8M222 91q2 6 8 7q-2-6-8-7M217 79q1 6 7 4q-1-6-7-4M202 47q-1 6 5 9q1-6-5-9M227 96q0 5 6 5q0-5-6-5M165 196q6 2 9-4q-6-2-9 4M153 195q5 2 7-4q-5-2-7 4M158 194q4 4 8 0q-4-4-8 0M158 189q2 6 8 6q-2-6-8-6M192 172q6 4 11-1q-6-4-11 1M171 188q5 4 9-1q-5-4-9 1M180 185q6-2 3-8q-6 2-3 8M169 185q5 4 10 0q-5-4-10 0M184 179q6 0 4-5q-6 0-4 5M167 186q6 0 7-6q-6 0-7 6M185 178q6 2 6-4q-6-2-6 4M160 198q5-3 1-7q-5 3-1 7M174 187q5 4 9-1q-5-4-9 1M152 198q5 2 6-3q-5-2-6 3M266 23q-6 1-6 8q6-1 6-8M255 34q-5-3-9 2q5 3 9-2M265 21q-4 3-2 8q4-3 2-8M261 31q-6 1-5 7q6-1 5-7M255 32q-6 1-6 7q6-1 6-7M274 13q-6 4-3 10q6-4 3-10M270 10q-5 4-1 9q5-4 1-9M258 32q-5-2-8 3q5 2 8-3M268 13q-5 3-3 8q5-3 3-8" fill="#dddddd" stroke="#505050" stroke-width="0.65" stroke-linejoin="round"/>
<defs><path id="cc3r" d="M193 215h0M245 80h0M245 74h0M98 95h0M100 86h0M261 10h0M259 6h0M200 169h0M165 80h0M147 28h0M147 28h0M139 217h0M138 215h0M132 220h0M117 57h0M13 206h0M8 207h0M12 210h0M241 25h0M240 29h0M33 91h0M13 53h0M32 31h0M29 40h0M33 31h0M198 36h0M75 176h0M70 175h0M78 169h0M43 129h0M40 133h0M40 137h0M204 96h0M206 96h0M231 147h0M139 128h0M143 124h0M138 129h0M7 160h0M8 162h0M4 170h0M49 14h0M162 124h0M162 131h0M88 27h0M87 21h0M257 158h0M262 165h0M101 168h0M216 107h0M80 124h0M87 122h0M76 95h0M73 97h0M185 43h0M186 43h0M11 156h0M11 161h0M5 127h0M255 159h0M173 55h0M275 4h0M246 105h0M193 219h0M201 218h0M59 27h0M59 27h0M37 215h0M47 82h0M50 78h0M56 88h0M35 152h0M31 154h0M32 154h0M33 148h0M47 186h0M176 113h0M179 109h0M55 61h0M53 65h0M67 149h0M82 200h0M21 95h0M67 176h0M65 176h0M193 22h0M194 22h0M190 19h0M46 72h0M47 77h0M48 73h0M197 211h0M191 207h0M199 209h0M71 94h0M77 96h0M95 126h0M162 167h0M234 92h0M237 92h0M228 217h0M247 127h0M256 129h0M242 128h0M8 125h0M7 124h0M195 213h0M189 210h0M140 126h0M140 131h0M138 128h0M145 127h0M59 118h0M33 39h0M130 65h0M130 125h0M131 125h0M136 71h0M257 176h0M236 132h0M231 137h0M236 130h0M8 124h0M66 58h0M209 214h0M200 210h0M228 183h0M220 137h0M255 153h0M259 159h0M255 151h0M111 128h0M111 127h0M163 27h0M242 221h0M15 146h0M224 210h0M144 112h0M104 12h0M227 72h0M190 40h0M74 21h0M136 128h0M231 18h0M241 177h0M145 83h0M82 124h0M195 91h0M191 25h0M100 3h0M101 200h0M44 29h0M98 191h0M276 109h0M203 54h0M193 156h0M152 166h0M195 25h0M100 75h0M37 203h0M125 208h0M229 107h0M4 218h0M134 62h0M189 51h0M160 57h0M134 56h0M221 88h0M220 84h0M223 86h0M222 77h0M231 99h0M187 183h0M154 196h0M176 182h0M259 31h0"/></defs>
<use href="#cc3r" stroke="#2a2a2a" stroke-width="5.6"/>
<use href="#cc3r" stroke="#f8f8f8" stroke-width="3.4"/>
</g></g>
<text x="913.9" y="713.4" font-size="20.5" text-anchor="end" fill="#ff0000" stroke="#ff0000" stroke-width="0.4">50 µm</text>
<path d="M887.6,728.4h15.6M888.4,726.4v4M902.4,726.4v4" stroke="#ff0000" stroke-width="2"/>
<text x="1070.8" y="507.0" font-size="25.8" text-anchor="middle" stroke="#000" stroke-width="0.4">STAT4+siVEGFA</text>
<clipPath id="cc4"><rect x="931.2" y="520.0" width="279.3" height="223.8"/></clipPath>
<g clip-path="url(#cc4)">
<rect x="931.2" y="520.0" width="279.3" height="223.8" fill="#adadad"/>
<g filter="url(#blur12)">
<ellipse cx="1071" cy="630" rx="90" ry="70" fill="#a2a2a2" opacity="0.35"/>
</g>
<g transform="translate(931.2,520.0)" stroke-linecap="round" fill="none">
<path d="M18 52q3-4-1-8q-3 4 1 8M33 26q5-3 2-8q-5 3-2 8M16 48q4 4 8 0q-4-4-8 0M31 30q6 2 7-4q-6-2-7 4M15 52q6-1 7-8q-6 1-7 8M36 14q6-1 7-7q-6 1-7 7M29 33q5-4 3-10q-5 4-3 10M17 48q6-1 6-7q-6 1-6 7M35 27q6-3 3-8q-6 3-3 8M30 36q3-4 0-9q-3 4 0 9M25 34q4 2 7-2q-4-2-7 2M25 23q6 3 10-2q-6-3-10 2M22 41q6 0 7-5q-6 0-7 5M30 30q5-1 4-6q-5 1-4 6M42 18q5-3 3-8q-5 3-3 8M18 59q6-2 7-8q-6 2-7 8M20 47q6 0 8-6q-6 0-8 6M25 30q5 3 9-2q-5-3-9 2M20 39q6 1 9-4q-6-1-9 4M37 19q6-1 5-7q-6 1-5 7M25 48q5 0 5-5q-5 0-5 5M31 41q3-4-1-8q-3 4 1 8M27 41q6-2 6-8q-6 2-6 8M74 56q6 2 8-4q-6-2-8 4M73 48q2 5 7 4q-2-5-7-4M98 50q1 7 8 7q-1-7-8-7M23 59q6-4 3-10q-6 4-3 10M84 51q4 4 9 2q-4-4-9-2M54 56q6 2 7-4q-6-2-7 4M105 45q-2 7 4 10q2-7-4-10M50 55q5 1 6-4q-5-1-6 4M100 59q6 3 9-3q-6-3-9 3M53 45q2 6 8 4q-2-6-8-4M51 52q2 5 7 4q-2-5-7-4M92 54q5 2 7-3q-5-2-7 3M34 54q2 5 7 2q-2-5-7-2M75 54q6 0 7-5q-6 0-7 5M81 52q6 2 7-4q-6-2-7 4M47 52q5 2 8-3q-5-2-8 3M89 51q2 5 7 2q-2-5-7-2M37 57q6 3 9-3q-6-3-9 3M57 53q5 3 7-3q-5-3-7 3M14 52q5 5 9 0q-5-5-9 0M40 49q3 5 8 3q-3-5-8-3M89 52q6 3 11-2q-6-3-11 2M15 48q-2 6 4 7q2-6-4-7M22 55q5 2 9-3q-5-2-9 3M84 48q2 5 7 2q-2-5-7-2M88 50q1 6 7 6q-1-6-7-6M46 52q5 4 9-1q-5-4-9 1M20 54q5 4 8-2q-5-4-8 2M22 50q3 5 7 1q-3-5-7-1M103 47q0 6 6 6q0-6-6-6M17 50q3 5 9 2q-3-5-9-2M96 57q6 2 10-3q-6-2-10 3M43 57q7 1 8-5q-7-1-8 5M26 57q5 3 8-2q-5-3-8 2M42 52q-2 5 4 7q2-5-4-7M32 52q2 6 7 3q-2-6-7-3M75 48q-2 6 4 7q2-6-4-7M92 53q5-3 3-8q-5 3-3 8M17 56q7 0 7-7q-7 0-7 7M100 58q5-2 4-7q-5 2-4 7M81 9q2 6 7 4q-2-6-7-4M72 14q5 4 11 0q-5-4-11 0M57 15q5 3 8-2q-5-3-8 2M69 9q2 7 8 6q-2-7-8-6M59 20q6 2 9-4q-6-2-9 4M54 16q6 1 8-4q-6-1-8 4M38 14q6 2 9-4q-6-2-9 4M80 12q5 3 7-2q-5-3-7 2M79 16q5 1 7-4q-5-1-7 4M51 13q5 3 9-1q-5-3-9 1M77 12q3 4 7 1q-3-4-7-1M55 15q6 2 10-3q-6-2-10 3M65 14q5 4 10-1q-5-4-10 1M71 13q5 5 10 0q-5-5-10 0M56 20q6 3 8-3q-6-3-8 3M59 9q6 3 10-1q-6-3-10 1M45 14q7 2 10-4q-7-2-10 4M56 9q3 6 10 5q-3-6-10-5M83 8q-2 7 4 10q2-7-4-10M100 32q-3 5 1 8q3-5-1-8M104 41q-1 6 5 7q1-6-5-7M99 37q2 7 9 6q-2-7-9-6M94 31q-1 7 6 9q1-7-6-9M83 14q2 6 8 7q-2-6-8-7M101 36q-5 1-4 6q5-1 4-6M93 28q0 6 6 5q0-6-6-5M90 13q0 5 6 5q0-5-6-5M97 35q0 6 5 8q0-6-5-8M87 21q0 5 6 5q0-5-6-5M103 44q0 6 5 6q0-6-5-6M103 42q1 5 6 4q-1-5-6-4M91 14q-5 4-1 10q5-4 1-10M104 46q-2 6 3 9q2-6-3-9M105 36q-4 5-1 10q4-5 1-10M99 39q1 6 8 6q-1-6-8-6M91 20q-3 4 0 8q3-4 0-8M92 17q-6 3-3 9q6-3 3-9M103 43q-2 4 2 7q2-4-2-7M99 37q-1 6 5 7q1-6-5-7M148 65q3 4 7 1q-3-4-7-1M115 52q2 5 7 4q-2-5-7-4M122 57q-1 6 4 8q1-6-4-8M117 58q5-1 4-6q-5 1-4 6M122 56q3 5 8 4q-3-5-8-4M144 70q6-4 2-9q-6 4-2 9M113 59q5 2 9-2q-5-2-9 2M137 60q-1 6 4 9q1-6-4-9M149 67q3 4 8 2q-3-4-8-2M139 64q3 6 9 4q-3-6-9-4M123 54q0 6 6 8q0-6-6-8M108 52q3 6 9 5q-3-6-9-5M131 61q5 3 10-1q-5-3-10 1M109 50q-1 6 5 5q1-6-5-5M134 61q-5 3-1 8q5-3 1-8M118 50q-2 5 3 7q2-5-3-7M112 56q1 5 6 5q-1-5-6-5M137 60q0 6 6 6q0-6-6-6M140 61q6 3 11-1q-6-3-11 1M166 63q2-5-2-7q-2 5 2 7M157 56q5 1 7-4q-5-1-7 4M160 57q5-3 2-8q-5 3-2 8M181 21q6 0 9-5q-6 0-9 5M182 20q6-3 6-9q-6 3-6 9M173 44q-2-5-8-4q2 5 8 4M163 50q6-1 7-7q-6 1-7 7M164 47q6-2 5-8q-6 2-5 8M179 28q7-1 7-8q-7 1-7 8M158 60q4-5 0-9q-4 5 0 9M169 41q5-3 2-7q-5 3-2 7M157 70q4-4-1-8q-4 4 1 8M155 67q4-4 1-9q-4 4-1 9M181 14q5 2 8-2q-5-2-8 2M162 52q7-1 7-8q-7 1-7 8M152 60q6 1 7-4q-6-1-7 4M150 59q4 4 10 1q-4-4-10-1M177 35q5-4 1-9q-5 4-1 9M166 51q3-4-1-8q-3 4 1 8M174 29q5-3 4-9q-5 3-4 9M164 37q6-2 8-8q-6 2-8 8M158 51q5 4 10-1q-5-4-10 1M173 26q5 2 7-3q-5-2-7 3M175 26q5 3 8-2q-5-3-8 2M184 29q3-5-2-7q-3 5 2 7M186 17q5 0 6-5q-5 0-6 5M169 51q1-6-4-9q-1 6 4 9M155 65q6-1 6-7q-6 1-6 7M175 32q4-4 0-9q-4 4 0 9M174 33q5-1 4-7q-5 1-4 7M150 69q6-3 4-9q-6 3-4 9M214 48q-5 4 0 7q5-4 0-7M209 47q2 5 7 3q-2-5-7-3M192 17q-3 4 1 8q3-4-1-8M206 43q1 6 6 4q-1-6-6-4M204 33q-5 5-3 11q5-5 3-11M186 18q4 4 9 1q-4-4-9-1M195 28q0 7 7 8q0-7-7-8M200 28q1 7 8 7q-1-7-8-7M205 27q-1 6 4 10q1-6-4-10M195 20q0 6 6 9q0-6-6-9M209 37q-3 5 2 8q3-5-2-8M198 27q-2 5 3 7q2-5-3-7M204 49q6 3 10-3q-6-3-10 3M197 36q4 5 10 3q-4-5-10-3M195 27q0 6 6 6q0-6-6-6M209 39q1 5 6 4q-1-5-6-4M210 45q-1 7 6 8q1-7-6-8M194 20q1 6 7 6q-1-6-7-6M211 48q-1 6 5 6q1-6-5-6M194 21q-2 6 2 10q2-6-2-10M184 11q0 7 6 7q0-7-6-7M195 27q0 5 5 7q0-5-5-7M192 16q-3 4 1 7q3-4-1-7M254 27q6 1 8-5q-6-1-8 5M213 53q3 5 8 2q-3-5-8-2M222 48q7 1 9-5q-7-1-9 5M210 51q6 2 10-3q-6-2-10 3M235 46q7 1 9-6q-7-1-9 6M225 42q5 4 9-2q-5-4-9 2M225 50q7-1 6-8q-7 1-6 8M249 32q7 2 9-5q-7-2-9 5M216 59q5 2 7-2q-5-2-7 2M219 50q4 3 7-2q-4-3-7 2M214 51q5 2 8-2q-5-2-8 2M234 54q5-2 5-8q-5 2-5 8M230 50q5-3 3-9q-5 3-3 9M216 53q5-2 3-7q-5 2-3 7M251 35q6 3 10-1q-6-3-10 1M245 36q4 3 7-1q-4-3-7 1M245 38q7 2 9-5q-7-2-9 5M220 55q5-2 4-7q-5 2-4 7M224 53q5 3 7-3q-5-3-7 3M253 34q5 3 8-1q-5-3-8 1M225 44q4 3 8 0q-4-3-8 0M233 41q6 4 10-1q-6-4-10 1M214 49q5 4 10 0q-5-4-10 0M247 39q7 0 8-6q-7 0-8 6M164 66q5 3 8-2q-5-3-8 2M175 67q6-1 6-7q-6 1-6 7M165 66q4 4 10 2q-4-4-10-2M195 57q4 5 8 1q-4-5-8-1M189 56q5 3 10-1q-5-3-10 1M182 56q5 5 10 0q-5-5-10 0M151 69q5 3 8-1q-5-3-8 1M177 58q4 3 8-1q-4-3-8 1M202 53q5 3 9-1q-5-3-9 1M161 66q5 3 7-2q-5-3-7 2M176 56q2 5 7 3q-2-5-7-3M165 63q5 3 10-1q-5-3-10 1M171 60q2 6 9 5q-2-6-9-5M198 54q5 4 11 0q-5-4-11 0M164 67q5 3 10 0q-5-3-10 0M168 66q2 5 7 2q-2-5-7-2M158 70q3 4 8 2q-3-4-8-2M196 60q5 3 9-1q-5-3-9 1M208 58q3 3 7 0q-3-3-7 0M166 63q4 4 7-1q-4-4-7 1M205 51q2 7 9 6q-2-7-9-6M186 59q3 5 7 2q-3-5-7-2M156 68q6 1 7-5q-6-1-7 5M180 66q7-1 6-7q-7 1-6 7M203 54q4 5 8 0q-4-5-8 0M168 61q4 4 10 2q-4-4-10-2M176 60q2 6 8 4q-2-6-8-4M210 55q6 2 8-4q-6-2-8 4M155 59q5 5 10 0q-5-5-10 0M114 106q-2 5 2 9q2-5-2-9M108 57q-4 6 1 10q4-6-1-10M105 65q-3 5 2 9q3-5-2-9M111 87q-5 2-4 7q5-2 4-7M111 62q0 7 6 8q0-7-6-8M105 87q1 6 8 7q-1-6-8-7M112 57q-4 3-1 8q4-3 1-8M114 114q-3 5 1 8q3-5-1-8M114 110q2 6 8 5q-2-6-8-5M111 98q-4 5 0 10q4-5 0-10M116 116q-6 2-4 7q6-2 4-7M114 88q-4 5 0 9q4-5 0-9M116 91q-6 1-4 7q6-1 4-7M102 60q-3 4 1 7q3-4-1-7M106 56q1 6 7 7q-1-6-7-7M110 105q-2 6 3 10q2-6-3-10M117 111q2 5 7 4q-2-5-7-4M110 57q-4 2-2 7q4-2 2-7M110 57q-5 4-3 10q5-4 3-10M114 116q3 5 9 2q-3-5-9-2M110 97q-3 6 2 10q3-6-2-10M115 107q-3 5 3 7q3-5-3-7M119 103q-6 3-3 9q6-3 3-9M115 93q-5 3-2 8q5-3 2-8M105 96q3 5 8 3q-3-5-8-3M111 67q-2 6 4 9q2-6-4-9M114 69q-4 4-2 9q4-4 2-9M113 77q-5 3-3 8q5-3 3-8M111 62q-6 1-3 7q6-1 3-7M105 61q0 5 5 7q0-5-5-7M117 101q-5 2-4 8q5-2 4-8M79 137q-5 2-5 8q5-2 5-8M77 144q-7 0-8 7q7 0 8-7M66 151q-6-3-9 2q6 3 9-2M71 150q-3-5-7 0q3 5 7 0M63 146q-6 2-5 8q6-2 5-8M101 128q-5-1-6 4q5 1 6-4M89 139q-6-3-10 2q6 3 10-2M75 143q-5-3-9 1q5 3 9-1M117 118q-5 4-3 10q5-4 3-10M78 145q-2-4-7-2q2 4 7 2M86 140q-6-2-10 3q6 2 10-3M117 122q-5 1-6 6q5-1 6-6M86 139q-6 0-8 6q6 0 8-6M96 125q-5 3-4 9q5-3 4-9M72 145q-6 4-3 10q6-4 3-10M86 137q-6-1-7 6q6 1 7-6M71 141q-6 2-7 8q6-2 7-8M88 142q-5-1-6 5q5 1 6-5M107 130q-7-2-10 4q7 2 10-4M82 143q-7-1-9 5q7 1 9-5M103 129q-6-3-10 2q6 3 10-2M114 123q-6-1-9 5q6 1 9-5M94 131q-6 1-7 7q6-1 7-7M85 136q-6 1-5 7q6-1 5-7M108 124q-5-3-8 2q5 3 8-2M110 124q-5 2-3 7q5-2 3-7M107 123q-6-2-11 2q6 2 11-2M101 129q-4-3-8 1q4 3 8-1M115 117q0 5 6 6q0-5-6-6M148 137q3 5 7 2q-3-5-7-2M138 133q-2 6 3 10q2-6-3-10M149 143q0 5 5 5q0-5-5-5M116 121q4 4 9 1q-4-4-9-1M143 136q-1 7 6 8q1-7-6-8M145 145q5 1 7-4q-5-1-7 4M113 127q6 2 10-3q-6-2-10 3M133 133q-1 6 5 6q1-6-5-6M127 125q-4 5-1 10q4-5 1-10M122 123q4 5 10 2q-4-5-10-2M141 142q1 7 8 7q-1-7-8-7M148 141q0 6 6 7q0-6-6-7M116 119q5 2 7-2q-5-2-7 2M143 133q-1 6 4 7q1-6-4-7M119 117q0 6 6 4q0-6-6-4M115 129q6 3 10-3q-6-3-10 3M136 133q4 5 9 1q-4-5-9-1M124 127q2 6 8 5q-2-6-8-5M140 137q1 5 6 4q-1-5-6-4M140 134q0 5 5 6q0-5-5-6M190 132q6-3 5-9q-6 3-5 9M174 129q4 3 7-1q-4-3-7 1M157 139q4 4 8 0q-4-4-8 0M168 136q4-3 1-7q-4 3-1 7M198 124q6 1 8-5q-6-1-8 5M180 134q4-4-2-7q-4 4 2 7M161 142q7-1 7-8q-7 1-7 8M157 145q5 2 8-3q-5-2-8 3M198 117q5 4 11 0q-5-4-11 0M152 143q3 4 7 1q-3-4-7-1M193 118q6 1 8-5q-6-1-8 5M185 125q2 4 7 2q-2-4-7-2M183 131q6-1 4-7q-6 1-4 7M167 134q6-1 8-7q-6 1-8 7M190 123q6 3 11-2q-6-3-11 2M152 146q6-1 6-7q-6 1-6 7M177 127q4 4 8 0q-4-4-8 0M196 116q3 5 8 2q-3-5-8-2M177 136q5 0 5-5q-5 0-5 5M155 146q4-5 0-10q-4 5 0 10M178 133q5-2 5-8q-5 2-5 8M179 132q6 0 7-5q-6 0-7 5M199 115q4 5 9 2q-4-5-9-2M160 146q6 2 9-3q-6-2-9 3M201 115q4 5 10 3q-4-5-10-3M155 144q6 0 6-6q-6 0-6 6M189 122q6 2 10-3q-6-2-10 3M157 147q5-2 4-7q-5 2-4 7M194 126q7 0 7-7q-7 0-7 7M207 115q5 2 6-3q-5-2-6 3M153 143q6-1 6-7q-6 1-6 7M216 99q2-6-4-9q-2 6 4 9M214 88q4-5 0-10q-4 5 0 10M220 70q5-4 1-9q-5 4-1 9M215 86q4-4 1-8q-4 4-1 8M211 105q3-5-2-8q-3 5 2 8M216 82q1-6-4-7q-1 6 4 7M208 59q5-1 6-6q-5 1-6 6M216 64q1-5-4-6q-1 5 4 6M216 84q2-6-4-6q-2 6 4 6M211 98q4-4 0-8q-4 4 0 8M217 84q2-6-3-8q-2 6 3 8M213 112q4-3 2-8q-4 3-2 8M216 94q0-6-6-7q0 6 6 7M211 59q6-2 6-8q-6 2-6 8M211 72q4-3 1-8q-4 3-1 8M210 104q7 0 7-7q-7 0-7 7M214 68q6-2 3-8q-6 2-3 8M215 84q1-6-5-9q-1 6 5 9M216 64q5-3 3-8q-5 3-3 8M218 79q0-7-7-8q0 7 7 8M214 64q2-6-3-10q-2 6 3 10M216 84q6 0 5-6q-6 0-5 6M212 57q6-2 7-8q-6 2-7 8M211 66q6 1 8-4q-6-1-8 4M215 68q4-4 1-8q-4 4-1 8M213 71q3-5-3-7q-3 5 3 7M213 114q4-4 2-10q-4 4-2 10M230 114q3 5 8 3q-3-5-8-3M246 112q4 3 8-1q-4-3-8 1M241 117q4 5 9 1q-4-5-9-1M212 110q5 4 10 1q-5-4-10-1M240 115q6 2 7-4q-6-2-7 4M236 111q1 5 6 5q-1-5-6-5M245 110q2 5 7 3q-2-5-7-3M220 117q2 5 7 2q-2-5-7-2M230 107q2 7 9 6q-2-7-9-6M217 112q6 3 9-3q-6-3-9 3M237 111q6 1 9-4q-6-1-9 4M237 113q6 3 8-3q-6-3-8 3M224 116q5 3 8-2q-5-3-8 2M240 111q6 4 11-1q-6-4-11 1M213 114q6 3 10-3q-6-3-10 3M217 111q3 6 10 4q-3-6-10-4M225 108q3 6 10 4q-3-6-10-4M225 119q6 0 7-6q-6 0-7 6M217 109q1 6 7 5q-1-6-7-5M259 144q2 6 8 5q-2-6-8-5M265 147q-5 5-1 10q5-5 1-10M259 128q-4 4-1 9q4-4 1-9M254 120q-2 6 3 10q2-6-3-10M256 143q-1 6 5 8q1-6-5-8M255 142q3 6 9 4q-3-6-9-4M252 124q0 6 6 6q0-6-6-6M259 116q-5 4-1 9q5-4 1-9M249 115q3 6 10 5q-3-6-10-5M254 119q-3 5 1 9q3-5-1-9M261 123q-5 4-1 10q5-4 1-10M262 148q-2 7 5 9q2-7-5-9M264 129q0 6 6 9q0-6-6-9M255 120q-3 5 2 8q3-5-2-8M257 124q-4 6 1 10q4-6-1-10M261 141q-4 5 0 11q4-5 0-11M254 130q1 5 6 6q-1-5-6-6M261 138q-3 5 0 10q3-5 0-10M257 129q3 6 9 5q-3-6-9-5M258 136q0 6 5 9q0-6-5-9M159 178q1 6 6 5q-1-6-6-5M163 167q-4 4-1 8q4-4 1-8M149 149q4 5 10 4q-4-5-10-4M158 147q-3 5 1 9q3-5-1-9M167 176q-2 5 3 7q2-5-3-7M160 172q2 5 8 3q-2-5-8-3M166 167q-4 5 1 9q4-5-1-9M149 143q-1 6 5 9q1-6-5-9M165 168q-5 3-2 8q5-3 2-8M151 148q1 6 7 5q-1-6-7-5M169 178q-4 5 0 10q4-5 0-10M148 147q1 5 7 4q-1-5-7-4M160 166q-2 6 4 9q2-6-4-9M159 155q0 5 5 6q0-5-5-6M156 170q3 5 9 3q-3-5-9-3M161 165q0 7 7 8q0-7-7-8M157 169q4 5 10 2q-4-5-10-2M163 167q-4 3-2 7q4-3 2-7M167 178q2 5 7 4q-2-5-7-4M159 169q-4 4 0 8q4-4 0-8M51 152q-2-5-7-3q2 5 7 3M43 154q1-5-4-7q-1 5 4 7M44 144q-3-5-8-2q3 5 8 2M55 151q-3-5-8-1q3 5 8 1M58 155q-3-6-9-3q3 6 9 3M51 155q-1-6-6-4q1 6 6 4M56 156q-2-7-9-5q2 7 9 5M49 144q-5 1-3 6q5-1 3-6M55 144q-6-1-6 6q6 1 6-6M60 157q-2-6-8-4q2 6 8 4M55 154q-1-6-7-6q1 6 7 6M45 146q-5-3-8 2q5 3 8-2M40 148q0-6-6-5q0 6 6 5M21 65q5-1 3-6q-5 1-3 6M17 84q5-4 4-10q-5 4-4 10M26 101q1-5-4-6q-1 5 4 6M22 85q-1-6-7-5q1 6 7 5M25 144q6-2 5-9q-6 2-5 9M18 89q4-3 1-8q-4 3-1 8M32 136q2-5-3-8q-2 5 3 8M27 116q5-3 2-8q-5 3-2 8M30 148q2-6-3-10q-2 6 3 10M28 137q4-5 0-10q-4 5 0 10M24 146q4-5-1-10q-4 5 1 10M29 143q4-4 0-8q-4 4 0 8M30 128q2-5-2-8q-2 5 2 8M25 128q5-2 3-7q-5 2-3 7M25 121q3-4-1-7q-3 4 1 7M18 83q3-5-2-7q-3 5 2 7M21 119q4-5 0-10q-4 5 0 10M22 106q2-4-2-7q-2 4 2 7M19 89q4-5-1-10q-4 5 1 10M29 113q-1-6-7-4q1 6 7 4M29 102q2-7-4-10q-2 7 4 10M18 73q1-6-4-8q-1 6 4 8M18 97q4-4-1-8q-4 4 1 8M20 87q3-6-3-10q-3 6 3 10M22 117q6-3 3-9q-6 3-3 9M24 64q1-6-4-10q-1 6 4 10M34 122q-3-5-9-3q3 5 9 3M22 100q2-6-4-9q-2 6 4 9M22 78q2-6-4-9q-2 6 4 9M33 123q0-6-6-8q0 6 6 8M21 81q5-3 1-7q-5 3-1 7M26 140q4-3 0-7q-4 3 0 7M17 73q6-4 3-10q-6 4-3 10M26 91q0-6-6-5q0 6 6 5M28 103q0-7-7-8q0 7 7 8M15 58q7-1 6-7q-7 1-6 7M21 61q0-6-5-8q0 6 5 8M20 62q-1-5-6-4q1 5 6 4M19 69q4-4 1-9q-4 4-1 9M18 62q3-6-2-10q-3 6 2 10M27 129q1-6-4-9q-1 6 4 9M28 95q-2-6-9-4q2 6 9 4M21 93q6-1 5-8q-6 1-5 8M18 82q3-6-2-10q-3 6 2 10M29 119q0-6-6-6q0 6 6 6M69 168q2 6 9 7q-2-6-9-7M90 186q-4 5 0 9q4-5 0-9M88 189q-5 5-3 11q5-5 3-11M82 192q3 6 9 5q-3-6-9-5M84 175q-2 6 4 8q2-6-4-8M79 173q0 7 6 9q0-7-6-9M78 168q-3 5 0 9q3-5 0-9M70 166q-2 6 3 9q2-6-3-9M84 189q2 6 7 3q-2-6-7-3M82 181q-1 6 5 5q1-6-5-5M82 182q0 7 7 7q0-7-7-7M75 175q2 7 8 5q-2-7-8-5M79 181q2 6 8 6q-2-6-8-6M63 173q6 3 9-3q-6-3-9 3M86 195q2 6 8 5q-2-6-8-5M78 176q0 6 6 4q0-6-6-4M65 159q0 7 6 9q0-7-6-9M61 153q-2 5 3 8q2-5-3-8M87 191q3 5 8 1q-3-5-8-1M70 170q2 6 8 6q-2-6-8-6M76 169q-3 5 1 9q3-5-1-9M90 188q-7-1-9 6q7 1 9-6M74 178q0 6 6 6q0-6-6-6M60 156q-2 6 4 8q2-6-4-8M85 195q5 2 9-2q-5-2-9 2M81 168q-5 4-2 10q5-4 2-10M119 191q5 4 8-2q-5-4-8 2M95 199q6 0 7-6q-6 0-7 6M136 193q6 1 9-5q-6-1-9 5M123 192q5 3 10-1q-5-3-10 1M137 195q6-2 6-8q-6 2-6 8M97 202q5 3 8-2q-5-3-8 2M136 192q5 3 9-2q-5-3-9 2M150 193q6-2 5-9q-6 2-5 9M122 192q6 3 10-2q-6-3-10 2M95 199q5 3 7-3q-5-3-7 3M121 190q6 2 10-2q-6-2-10 2M147 189q5 5 10 1q-5-5-10-1M138 194q4 4 8 1q-4-4-8-1M157 187q1 6 7 5q-1-6-7-5M149 184q3 6 9 5q-3-6-9-5M105 202q4-6-1-10q-4 6 1 10M111 200q6-1 6-7q-6 1-6 7M143 189q2 6 7 3q-2-6-7-3M134 192q5 2 9-2q-5-2-9 2M158 185q5 4 10 0q-5-4-10 0M90 200q5 5 10 1q-5-5-10-1M120 190q-1 6 5 7q1-6-5-7M97 195q2 5 7 3q-2-5-7-3M120 192q4 4 8-1q-4-4-8 1M137 194q5 2 7-2q-5-2-7 2M156 188q3 5 8 2q-3-5-8-2M114 193q5 5 9 0q-5-5-9 0M98 195q5 5 11 1q-5-5-11-1M128 196q5 0 7-5q-5 0-7 5M108 197q6 0 7-6q-6 0-7 6M115 192q6 1 8-5q-6-1-8 5M121 199q6-1 8-7q-6 1-8 7M218 200q6-2 6-9q-6 2-6 9M170 186q0 5 5 5q0-5-5-5M169 186q5 3 7-2q-5-3-7 2M205 192q-2 6 4 9q2-6-4-9M170 190q2 5 7 4q-2-5-7-4M213 192q3 5 9 3q-3-5-9-3M184 190q4 4 8 0q-4-4-8 0M177 182q0 6 6 5q0-6-6-5M204 197q6 2 8-4q-6-2-8 4M173 190q5 1 7-4q-5-1-7 4M207 199q6 2 9-4q-6-2-9 4M199 194q3 5 9 4q-3-5-9-4M172 183q2 7 9 7q-2-7-9-7M178 189q2 5 7 2q-2-5-7-2M209 196q4 4 9 1q-4-4-9-1M194 195q7 1 8-5q-7-1-8 5M178 193q4 4 8 0q-4-4-8 0M188 190q3 5 8 3q-3-5-8-3M197 193q2 6 8 6q-2-6-8-6M202 192q6 3 9-3q-6-3-9 3M166 189q2 6 7 3q-2-6-7-3M189 192q3 5 9 2q-3-5-9-2M168 180q1 6 8 7q-1-6-8-7M220 198q4 3 7-1q-4-3-7 1M217 196q4 4 9 2q-4-4-9-2M221 195q-1 6 5 6q1-6-5-6M203 192q3 5 9 4q-3-5-9-4M193 201q5 2 7-4q-5-2-7 4M172 189q5 4 9 0q-5-4-9 0M229 193q6 2 8-3q-6-2-8 3M259 160q5-4 1-9q-5 4-1 9M251 167q6 0 7-6q-6 0-7 6M237 194q6-2 6-9q-6 2-6 9M235 186q6 2 9-4q-6-2-9 4M260 155q5 1 7-4q-5-1-7 4M232 195q5-3 1-8q-5 3-1 8M261 160q5-3 3-8q-5 3-3 8M247 171q7-1 6-7q-7 1-6 7M237 181q6-2 5-9q-6 2-5 9M244 171q6 1 9-4q-6-1-9 4M248 172q6 0 7-6q-6 0-7 6M258 160q5-2 4-7q-5 2-4 7M226 190q5 4 10 0q-5-4-10 0M231 188q5 1 7-4q-5-1-7 4M230 192q7 0 8-7q-7 0-8 7M253 164q6-2 7-8q-6 2-7 8M240 180q5-2 4-7q-5 2-4 7M245 178q6-2 6-9q-6 2-6 9M251 162q4 4 9 1q-4-4-9-1M227 199q6-2 5-8q-6 2-5 8M229 201q3-6-2-10q-3 6 2 10M246 176q7 0 9-6q-7 0-9 6M252 165q6-1 4-6q-6 1-4 6M226 194q7-1 8-7q-7 1-8 7M254 165q5-4 3-10q-5 4-3 10M234 189q5-4 3-10q-5 4-3 10M30 156q-4 3-2 8q4-3 2-8M9 207q-5 3-2 7q5-3 2-7M32 155q-6 2-3 7q6-2 3-7M32 142q-4 4 0 7q4-4 0-7M24 182q-6-2-7 4q6 2 7-4M15 204q-6 0-7 7q6 0 7-7M33 159q-4-4-8 0q4 4 8 0M22 166q-6 1-4 6q6-1 4-6M26 162q-6 1-4 7q6-1 4-7M23 163q-5 1-3 6q5-1 3-6M33 158q-5 0-7 5q5 0 7-5M34 146q-6 2-3 8q6-2 3-8M22 186q-6-1-7 5q6 1 7-5M15 183q0 7 6 9q0-7-6-9M21 161q-3 5 2 8q3-5-2-8M34 153q-6-2-9 4q6 2 9-4M27 153q-2 5 3 8q2-5-3-8M15 195q-4 3-1 7q4-3 1-7M13 208q0 6 5 8q0-6-5-8M28 148q-5 4 0 8q5-4 0-8M22 184q-5 3-1 8q5-3 1-8M33 142q-5 2-4 7q5-2 4-7M27 145q-5 4 0 9q5-4 0-9M26 169q-5 2-4 8q5-2 4-8M25 149q-2 6 3 9q2-6-3-9M25 158q-5 2-2 7q5-2 2-7M32 144q-5 4 0 8q5-4 0-8M11 200q-2 5 2 7q2-5-2-7M20 179q-6 4-3 11q6-4 3-11M31 145q-4 5 0 9q4-5 0-9M33 159q-3-5-8-3q3 5 8 3M22 171q-3 6 3 9q3-6-3-9M24 180q-6 1-7 7q6-1 7-7M8 96q-6 0-7 5q6 0 7-5M15 60q-5 3-3 8q5-3 3-8M14 67q-6 1-4 7q6-1 4-7M3 76q-3 5 1 9q3-5-1-9M8 77q-5 3-1 7q5-3 1-7M12 48q-3 6 2 10q3-6-2-10M13 74q-5-1-7 4q5 1 7-4M7 89q-4 2-2 7q4-2 2-7M5 78q-4 5 1 9q4-5-1-9M13 60q-7 1-8 7q7-1 8-7M13 54q-6 3-5 10q6-3 5-10M5 76q-6 4-4 10q6-4 4-10M11 63q-6 0-6 6q6 0 6-6M4 87q-3 5 2 8q3-5-2-8M12 62q0 5 5 7q0-5-5-7M11 66q-2 5 3 8q2-5-3-8M13 48q-3 6 1 11q3-6-1-11M20 59q-5-4-10 0q5 4 10 0M259 32q-1 6 5 6q1-6-5-6M267 39q-4 3 0 7q4-3 0-7M263 32q1 6 7 6q-1-6-7-6M271 56q-2 5 3 7q2-5-3-7M260 31q4 5 10 1q-4-5-10-1M270 44q-4 4-1 9q4-4 1-9M275 74q-2 5 4 7q2-5-4-7M263 30q-2 6 4 9q2-6-4-9M269 46q-2 5 3 7q2-5-3-7M267 59q-3 6 3 10q3-6-3-10M268 33q-2 5 2 9q2-5-2-9M264 30q1 7 8 5q-1-7-8-5M275 46q-3 5 2 8q3-5-2-8M269 50q-1 6 5 5q1-6-5-5M276 46q-6-1-6 5q6 1 6-5M270 52q-4 4 0 9q4-4 0-9M273 63q2 6 8 6q-2-6-8-6M272 63q2 5 7 3q-2-5-7-3M268 43q-5 5-1 11q5-5 1-11M260 27q-2 5 3 7q2-5-3-7M260 25q1 6 7 6q-1-6-7-6M265 34q3 6 9 5q-3-6-9-5M268 48q-3 5 1 10q3-5-1-10M93 199q2 5 8 4q-2-5-8-4M99 196q3 6 10 4q-3-6-10-4M102 207q0 6 6 7q0-6-6-7M93 198q2 6 8 7q-2-6-8-7M104 205q1 6 8 6q-1-6-8-6M94 194q-3 7 3 10q3-7-3-10M99 205q5 4 11 0q-5-4-11 0M115 217q-2 5 3 7q2-5-3-7M107 212q-3 5 1 8q3-5-1-8M112 215q-2 6 4 7q2-6-4-7M102 202q0 7 7 9q0-7-7-9M107 210q3 5 9 4q-3-5-9-4M94 196q-4 3 0 7q4-3 0-7M97 203q3 5 8 3q-3-5-8-3M240 208q-4 4 1 7q4-4-1-7M229 194q1 6 7 5q-1-6-7-5M233 201q-1 7 6 9q1-7-6-9M242 218q0 7 6 8q0-7-6-8M239 207q3 6 9 4q-3-6-9-4M235 208q0 6 6 7q0-6-6-7M230 203q2 6 7 3q-2-6-7-3M239 217q1 6 7 5q-1-6-7-5M241 220q3 4 8 1q-3-4-8-1M238 204q-2 6 4 6q2-6-4-6M242 217q0 6 6 8q0-6-6-8M231 200q-3 5 3 7q3-5-3-7M237 209q0 6 5 10q0-6-5-10M106 6q7 1 10-4q-7-1-10 4M135 5q5 3 7-2q-5-3-7 2M117 8q6 3 9-3q-6-3-9 3M93 8q6 2 9-4q-6-2-9 4M130 7q6 2 9-4q-6-2-9 4M91 16q7-1 6-8q-7 1-6 8M96 6q3 5 8 1q-3-5-8-1M109 8q7 0 8-7q-7 0-8 7M115 8q6 1 10-4q-6-1-10 4M83 11q2 6 8 5q-2-6-8-5M88 17q5 3 9-2q-5-3-9 2M111 5q2 5 7 4q-2-5-7-4M108 6q4 5 10 2q-4-5-10-2M109 10q6-3 4-10q-6 3-4 10M129 4q3 5 7 1q-3-5-7-1M120 12q6-1 7-7q-6 1-7 7M82 12q3 5 8 2q-3-5-8-2M123 6q6 1 8-4q-6-1-8 4M87 10q5 4 9-1q-5-4-9 1M123 0q1 6 7 5q-1-6-7-5M16 166q-6-2-9 4q6 2 9-4M4 172q-5 4-3 10q5-4 3-10M8 166q-5 5-2 11q5-5 2-11M8 172q-6 1-8 7q6-1 8-7M30 144q-5 2-5 8q5-2 5-8M34 147q-5 2-5 7q5-2 5-7M9 168q-3 5 2 9q3-5-2-9M14 162q-5 0-6 5q5 0 6-5M30 146q-5 3-5 9q5-3 5-9M18 160q-5 1-6 7q5-1 6-7M12 168q-6 4-3 10q6-4 3-10M22 152q-7 0-10 5q7 0 10-5M22 165q-6-3-10 2q6 3 10-2M10 173q-6-2-9 3q6 2 9-3M27 156q-6-2-9 4q6 2 9-4M24 154q-6 1-8 7q6-1 8-7M9 165q-6 1-8 7q6-1 8-7M32 148q-6 0-8 5q6 0 8-5M8 164q-5 2-2 7q5-2 2-7M30 145q-6 3-3 9q6-3 3-9M17 54q-2 7 4 10q2-7-4-10M51 8q-6 4-2 9q6-4 2-9M47 10q-4 5 0 10q4-5 0-10M44 9q1 6 8 7q-1-6-8-7M106 49q0 7 6 9q0-7-6-9M108 46q-5 4-1 9q5-4 1-9M98 47q1 6 7 4q-1-6-7-4M83 5q2 5 7 4q-2-5-7-4M95 13q-6 3-3 9q6-3 3-9M152 70q0 6 6 8q0-6-6-8M163 63q-6-1-7 5q6 1 7-5M156 68q-6 0-6 6q6 0 6-6M143 67q2 5 7 5q-2-5-7-5M221 52q-4-3-7 2q4 3 7-2M215 51q5 5 10 0q-5-5-10 0M180 18q2 5 7 4q-2-5-7-4M187 2q-1 5 4 7q1-5-4-7M198 14q-5-2-9 3q5 2 9-3M181 20q3 5 8 1q-3-5-8-1M258 30q-3 4 1 7q3-4-1-7M270 14q-6 3-5 9q6-3 5-9M274 21q-6-1-9 4q6 1 9-4M258 25q3 4 8 2q-3-4-8-2M265 32q3 6 9 3q-3-6-9-3M126 119q-6-4-11 2q6 4 11-2M114 123q-2 6 4 8q2-6-4-8M113 112q-6 0-7 6q6 0 7-6M104 118q2 6 8 4q-2-6-8-4M111 103q-4 6 1 10q4-6-1-10M209 99q0 5 5 5q0-5-5-5M216 115q-7 0-9 6q7 0 9-6M212 108q-5 1-6 6q5-1 6-6M205 115q0 6 6 8q0-6-6-8M197 114q3 5 8 2q-3-5-8-2M202 122q-1 6 5 9q1-6-5-9M245 100q-5 5 0 9q5-5 0-9M63 155q-5-2-7 3q5 2 7-3M68 140q-4 3-2 8q4-3 2-8M147 137q1 5 6 4q-1-5-6-4M153 142q-5-2-8 2q5 2 8-2M155 142q-2 6 4 8q2-6-4-8M149 149q-6-2-7 4q6 2 7-4M153 151q-7 1-8 7q7-1 8-7M32 144q-5 3-1 8q5-3 1-8M38 131q-6 3-4 10q6-3 4-10M31 134q-5 5 0 10q5-5 0-10M28 135q-2 6 3 9q2-6-3-9M96 187q-5 4-3 10q5-4 3-10M92 198q-4 4 0 9q4-4 0-9M104 191q-6-1-7 5q6 1 7-5M91 196q2 5 7 2q-2-5-7-2M100 197q-5 4-4 10q5-4 4-10M158 182q-6-1-6 5q6 1 6-5M171 176q-4 6 0 11q4-6 0-11M165 176q-7-2-9 4q7 2 9-4M272 150q-7-1-8 6q7 1 8-6M275 153q-5-4-8 2q5 4 8-2M275 156q-6-3-10 2q6 3 10-2M263 148q-2 5 2 8q2-5-2-8M224 185q-2 6 4 9q2-6-4-9M238 204q-5-5-9 0q5 5 9 0M237 193q-7 1-7 7q7-1 7-7M7 205q4 5 8 0q-4-5-8 0M18 200q-6 3-5 10q6-3 5-10M17 203q-7 0-8 7q7 0 8-7M-1 101q1 6 7 4q-1-6-7-4M276 72q-5 2-2 7q5-2 2-7M271 69q2 6 8 8q-2-6-8-8M127 215q-5-2-9 2q5 2 9-2M122 210q4 4 9 0q-4-4-9 0M121 219q1 5 6 4q-1-5-6-4M145 3q-5-2-8 2q5 2 8-2M142 0q-3 6 3 10q3-6-3-10M141 1q-3 4 1 7q3-4-1-7M149 1q-3 5 1 8q3-5-1-8M8 175q-5 4-2 9q5-4 2-9M278 110q-4 3-1 8q4-3 1-8" fill="#dddddd" stroke="#505050" stroke-width="0.65" stroke-linejoin="round"/>
<defs><path id="cc4r" d="M39 20h0M102 56h0M39 51h0M67 52h0M105 54h0M58 50h0M37 55h0M70 12h0M79 15h0M80 12h0M46 9h0M108 53h0M92 14h0M111 52h0M127 61h0M144 70h0M146 61h0M182 20h0M208 43h0M184 18h0M247 32h0M259 31h0M221 49h0M163 68h0M197 56h0M172 66h0M115 91h0M115 110h0M90 127h0M112 127h0M88 133h0M90 134h0M137 134h0M165 137h0M188 125h0M215 80h0M211 98h0M226 115h0M264 144h0M158 158h0M31 148h0M52 146h0M26 132h0M90 190h0M108 191h0M125 189h0M125 198h0M163 183h0M100 198h0M184 189h0M259 157h0M32 155h0M15 56h0M7 80h0M267 46h0M110 211h0M17 153h0M32 149h0M21 48h0M21 54h0M15 57h0M10 50h0M11 51h0M54 6h0M45 14h0M35 14h0M33 13h0M109 50h0M107 50h0M105 50h0M90 14h0M84 13h0M93 15h0M91 16h0M80 7h0M153 64h0M216 52h0M212 53h0M220 49h0M188 13h0M183 7h0M253 35h0M264 19h0M263 28h0M122 117h0M206 104h0M207 107h0M212 117h0M247 116h0M250 112h0M251 113h0M249 108h0M60 152h0M67 145h0M66 145h0M145 140h0M149 141h0M37 142h0M34 139h0M161 187h0M163 189h0M167 180h0M161 178h0M264 160h0M265 155h0M233 195h0M233 198h0M228 188h0M232 188h0M5 219h0M5 213h0M18 219h0M6 92h0M276 76h0M121 218h0M120 214h0M11 178h0M46 15h0M262 30h0M181 188h0M106 16h0M174 209h0M32 199h0M93 61h0M134 106h0M177 111h0M141 66h0M23 52h0M227 5h0M147 121h0"/></defs>
<use href="#cc4r" stroke="#2a2a2a" stroke-width="5.6"/>
<use href="#cc4r" stroke="#f8f8f8" stroke-width="3.4"/>
</g></g>
<text x="1200.0" y="713.4" font-size="20.5" text-anchor="end" fill="#ff0000" stroke="#ff0000" stroke-width="0.4">50 µm</text>
<path d="M1173.7,728.4h15.6M1174.5,726.4v4M1188.5,726.4v4" stroke="#ff0000" stroke-width="2"/>
<text x="21.2" y="629.0" font-size="25.7" text-anchor="middle" stroke="#000" stroke-width="0.4" transform="rotate(-90 21.2 629.0)">HL60</text>
<text x="1238.5" y="632.0" font-size="25" text-anchor="middle" stroke="#000" stroke-width="0.4" transform="rotate(-90 1238.5 632.0)">x100</text>
<text x="213.4" y="1047.3" font-size="25.8" text-anchor="middle" stroke="#000" stroke-width="0.4">NC+Vector</text>
<clipPath id="cd1"><rect x="73.7" y="1058.1" width="279.3" height="223.8"/></clipPath>
<g clip-path="url(#cd1)">
<rect x="73.7" y="1058.1" width="279.3" height="223.8" fill="#bbbbbb"/>
<g filter="url(#blur12)">
<ellipse cx="274" cy="1118" rx="70" ry="50" fill="#aaaaaa" opacity="0.35"/>
<ellipse cx="134" cy="1258" rx="60" ry="40" fill="#c4c4c4" opacity="0.3"/>
</g>
<g transform="translate(73.7,1058.1)" stroke-linecap="round" fill="none">
<path d="M16 135q6 1 6-5q-6-1-6 5M92 131q4 4 7 0q-4-4-7 0M65 137q2 5 7 3q-2-5-7-3M116 137q5-1 4-6q-5 1-4 6M56 136q-1 6 5 6q1-6-5-6M11 137q5 3 8-2q-5-3-8 2M17 138q4 4 10 2q-4-4-10-2M110 140q6 1 8-5q-6-1-8 5M9 129q5 5 11 1q-5-5-11-1M43 130q3 6 10 4q-3-6-10-4M-1 135q2 6 8 4q-2-6-8-4M61 136q6 2 9-3q-6-2-9 3M17 133q2 5 8 3q-2-5-8-3M31 134q5 4 10 1q-5-4-10-1M78 135q6-1 5-7q-6 1-5 7M110 132q5 1 7-5q-5-1-7 5M98 134q4 5 10 2q-4-5-10-2M94 135q4 4 9 1q-4-4-9-1M5 127q0 6 6 8q0-6-6-8M26 138q4 3 7-1q-4-3-7 1M97 139q6-1 5-7q-6 1-5 7M96 130q2 6 8 6q-2-6-8-6M76 135q5 5 10 0q-5-5-10 0M64 131q3 5 9 5q-3-5-9-5M7 134q4 5 8 0q-4-5-8 0M73 134q2 5 8 4q-2-5-8-4M15 133q3 5 8 4q-3-5-8-4M81 139q5 1 6-4q-5-1-6 4M4 135q5 3 8-2q-5-3-8 2M32 136q5 4 11 1q-5-4-11-1M67 133q5 4 8-1q-5-4-8 1M58 123q1 6 7 8q-1-6-7-8M34 135q3 5 7 1q-3-5-7-1M85 135q5 3 10-1q-5-3-10 1M58 135q5 3 7-2q-5-3-7 2M25 134q3 5 8 3q-3-5-8-3M43 133q6 0 5-6q-6 0-5 6M54 126q1 6 7 6q-1-6-7-6M75 132q5 4 8-2q-5-4-8 2M41 127q3 6 9 6q-3-6-9-6M32 129q5 2 9-2q-5-2-9 2M32 135q4 5 7 0q-4-5-7 0M79 133q6 2 9-3q-6-2-9 3M108 137q4 4 8 0q-4-4-8 0M18 139q6 3 11-1q-6-3-11 1M47 137q5 3 9-1q-5-3-9 1M19 131q0 7 7 8q0-7-7-8M-2 132q2 6 8 6q-2-6-8-6M49 136q6 3 10-2q-6-3-10 2M17 130q3 6 10 4q-3-6-10-4M168 150q2 6 7 2q-2-6-7-2M161 148q5 3 10-1q-5-3-10 1M129 137q5 4 11 1q-5-4-11-1M117 138q3 4 8 1q-3-4-8-1M117 133q4 3 8 0q-4-3-8 0M168 149q6 2 9-3q-6-2-9 3M118 136q3 5 8 3q-3-5-8-3M150 145q3 5 8 1q-3-5-8-1M161 145q4 6 10 2q-4-6-10-2M146 138q1 7 8 8q-1-7-8-8M134 139q5 3 9-1q-5-3-9 1M168 146q5 5 11 1q-5-5-11-1M160 150q5 0 5-5q-5 0-5 5M126 133q4 4 8 1q-4-4-8-1M139 140q3 4 8 2q-3-4-8-2M170 145q3 4 7 1q-3-4-7-1M139 141q6 2 9-3q-6-2-9 3M140 137q1 6 7 6q-1-6-7-6M115 137q6 3 10-3q-6-3-10 3M155 151q5-2 3-7q-5 2-3 7M158 143q3 5 8 1q-3-5-8-1M142 144q6 3 9-2q-6-3-9 2M162 152q5 4 10 0q-5-4-10 0M169 149q0 5 5 6q0-5-5-6M259 163q0 5 5 6q0-5-5-6M223 161q5 4 8-1q-5-4-8 1M245 162q0 6 6 8q0-6-6-8M245 171q6 2 10-4q-6-2-10 4M236 165q6 4 10-1q-6-4-10 1M219 161q2 5 7 2q-2-5-7-2M219 166q5 2 7-3q-5-2-7 3M189 153q4 3 8 0q-4-3-8 0M191 159q5 1 7-4q-5-1-7 4M213 160q5 3 9-1q-5-3-9 1M196 155q4 5 9 0q-4-5-9 0M226 161q3 5 8 1q-3-5-8-1M208 158q5 4 11 0q-5-4-11 0M271 174q4 4 8 0q-4-4-8 0M242 163q5 1 6-4q-5-1-6 4M181 155q2 5 7 3q-2-5-7-3M184 151q5 4 8-1q-5-4-8 1M215 161q5 3 9-2q-5-3-9 2M193 153q4 5 8 0q-4-5-8 0M215 159q3 6 9 5q-3-6-9-5M240 165q6 4 10-1q-6-4-10 1M211 159q6 0 8-6q-6 0-8 6M206 154q3 6 9 3q-3-6-9-3M241 161q3 6 10 5q-3-6-10-5M211 156q3 5 9 4q-3-5-9-4M199 161q7 2 9-4q-7-2-9 4M265 162q1 6 7 7q-1-6-7-7M272 171q5 1 7-4q-5-1-7 4M173 153q1 5 6 3q-1-5-6-3M183 151q4 4 10 1q-4-4-10-1M211 159q5 4 10-1q-5-4-10 1M274 166q0 7 6 8q0-7-6-8M189 147q-2 6 4 9q2-6-4-9M201 157q4 4 8 1q-4-4-8-1M193 159q3 5 9 3q-3-5-9-3M259 171q6 1 9-4q-6-1-9 4M268 166q1 6 7 4q-1-6-7-4M261 170q6 0 7-5q-6 0-7 5M272 166q6 0 9-5q-6 0-9 5M237 161q-2 5 4 6q2-5-4-6M223 155q1 6 7 4q-1-6-7-4M120 99q6 0 4-6q-6 0-4 6M118 19q5-3 3-9q-5 3-3 9M122 84q2-6-3-10q-2 6 3 10M120 130q3-4-1-8q-3 4 1 8M119 94q3-4 0-7q-3 4 0 7M117 113q6-2 5-9q-6 2-5 9M124 79q0-6-6-7q0 6 6 7M123 71q1-6-5-6q-1 6 5 6M120 49q4-4 0-9q-4 4 0 9M118 105q2-5-3-7q-2 5 3 7M123 17q0-6-6-7q0 6 6 7M122 18q5-4 1-9q-5 4-1 9M125 54q3-4-1-7q-3 4 1 7M121 91q0-7-7-8q0 7 7 8M118 30q-1-5-6-5q1 5 6 5M118 92q4-6-1-10q-4 6 1 10M121 109q3-5-3-7q-3 5 3 7M123 116q4-4-1-7q-4 4 1 7M117 32q5-2 3-7q-5 2-3 7M118 36q5-2 3-7q-5 2-3 7M125 56q-1-6-7-4q1 6 7 4M122 113q4-4 1-8q-4 4-1 8M124 90q-1-5-6-6q1 5 6 6M120 48q4-4 0-9q-4 4 0 9M113 94q4-5 0-9q-4 5 0 9M120 36q6-1 6-7q-6 1-6 7M116 132q3-5-1-9q-3 5 1 9M119 40q5-4 3-10q-5 4-3 10M113 95q6-3 3-8q-6 3-3 8M124 42q-2-5-7-3q2 5 7 3M121 56q7-2 6-9q-7 2-6 9M119 97q4-4 0-8q-4 4 0 8M129 24q2-7-4-10q-2 7 4 10M118 78q4-5 0-10q-4 5 0 10M123 17q1-5-4-7q-1 5 4 7M119 113q4-4 0-9q-4 4 0 9M119 46q5-2 3-7q-5 2-3 7M115 104q6-2 7-8q-6 2-7 8M120 78q3-5-2-9q-3 5 2 9M116 134q6 1 8-5q-6-1-8 5M125 100q3-5-2-9q-3 5 2 9M123 65q5-3 4-9q-5 3-4 9M119 74q6-3 4-9q-6 3-4 9M125 38q0-5-6-5q0 5 6 5M122 59q4-4 1-8q-4 4-1 8M127 78q1-6-5-6q-1 6 5 6M115 78q4-3 2-8q-4 3-2 8M119 59q4-4 2-9q-4 4-2 9M130 21q2-5-3-7q-2 5 3 7M125 86q4-4-1-8q-4 4 1 8M123 116q2-6-3-10q-2 6 3 10M88 147q-6 2-5 8q6-2 5-8M88 155q-6 2-6 8q6-2 6-8M89 147q-5 2-4 8q5-2 4-8M72 163q-7-1-9 6q7 1 9-6M96 152q-1-5-6-4q1 5 6 4M95 148q-6 1-7 7q6-1 7-7M110 137q-6 2-4 8q6-2 4-8M89 146q-6 0-7 6q6 0 7-6M99 143q-5-4-10 1q5 4 10-1M88 149q-5-1-6 4q5 1 6-4M86 150q-6 2-4 8q6-2 4-8M75 161q-5-1-6 4q5 1 6-4M114 135q-5 1-5 6q5-1 5-6M81 156q-6-1-7 5q6 1 7-5M117 134q-6-1-8 5q6 1 8-5M112 136q-5 5 0 10q5-5 0-10M66 169q-6 2-7 8q6-2 7-8M84 157q-3 4 0 7q3-4 0-7M104 149q-5-3-9 1q5 3 9-1M103 143q-6 0-4 6q6 0 4-6M86 155q-6-1-9 5q6 1 9-5M81 158q-6-1-7 5q6 1 7-5M74 154q-5 4-3 10q5-4 3-10M93 157q-6-4-10 1q6 4 10-1M102 146q-5-2-7 4q5 2 7-4M111 133q-6 1-5 6q6-1 5-6M87 153q-2-5-8-4q2 5 8 4M97 139q-5 2-5 7q5-2 5-7M50 179q-6-1-7 5q6 1 7-5M54 181q-6-2-8 4q6 2 8-4M24 201q-6-2-10 4q6 2 10-4M49 187q-4-5-10-4q4 5 10 4M58 174q-4 2-3 6q4-2 3-6M22 212q-4-4-7 1q4 4 7-1M40 189q-6-2-7 4q6 2 7-4M36 190q-6 3-4 10q6-3 4-10M22 202q-6 0-8 6q6 0 8-6M40 190q-4-2-7 2q4 2 7-2M25 207q-4-5-8-1q4 5 8 1M35 185q-6 1-6 7q6-1 6-7M43 182q-5 3-3 8q5-3 3-8M38 186q-4 4-1 8q4-4 1-8M40 196q-2-5-7-2q2 5 7 2M20 206q-6 0-6 7q6 0 6-7M57 172q-6-2-9 4q6 2 9-4M26 195q-5 2-3 7q5-2 3-7M59 172q-6 0-7 5q6 0 7-5M35 198q-7-1-9 6q7 1 9-6M51 189q-6-3-10 3q6 3 10-3M53 177q-6 0-8 6q6 0 8-6M224 149q-1 6 5 8q1-6-5-8M218 139q-1 7 6 7q1-7-6-7M191 133q2 5 7 3q-2-5-7-3M232 161q0 6 6 5q0-6-6-5M197 129q-1 6 5 8q1-6-5-8M201 132q1 6 7 5q-1-6-7-5M219 142q1 7 8 7q-1-7-8-7M214 150q3 5 8 1q-3-5-8-1M203 139q5 5 11 1q-5-5-11-1M201 130q0 5 5 6q0-5-5-6M226 152q-3 6 1 10q3-6-1-10M207 131q0 5 5 5q0-5-5-5M224 155q1 7 8 8q-1-7-8-8M216 150q5 4 9-1q-5-4-9 1M207 128q-4 5 0 10q4-5 0-10M211 140q0 6 6 5q0-6-6-5M208 136q-2 4 2 7q2-4-2-7M219 146q2 5 8 5q-2-5-8-5M233 157q-1 6 4 7q1-6-4-7M226 150q2 7 9 6q-2-7-9-6M200 201q-3 5 3 6q3-5-3-6M185 162q1 6 7 7q-1-6-7-7M184 173q3 6 9 5q-3-6-9-5M186 187q1 7 8 7q-1-7-8-7M200 192q-4 3-1 7q4-3 1-7M186 178q-1 7 6 9q1-7-6-9M198 200q0 6 5 8q0-6-5-8M178 153q-4 5-1 10q4-5 1-10M196 198q2 6 8 6q-2-6-8-6M203 198q-3 4 2 7q3-4-2-7M173 150q0 7 7 7q0-7-7-7M184 156q-4 4 0 8q4-4 0-8M182 173q3 5 8 3q-3-5-8-3M192 192q-3 5 1 9q3-5-1-9M191 177q-3 5 2 7q3-5-2-7M184 177q1 5 7 4q-1-5-7-4M189 178q0 6 5 9q0-6-5-9M194 181q-3 5 2 8q3-5-2-8M196 191q0 6 6 9q0-6-6-9M192 179q-5 4-3 10q5-4 3-10M174 156q2 5 8 4q-2-5-8-4M188 171q1 7 7 8q-1-7-7-8M175 162q2 6 8 4q-2-6-8-4M240 118q1 6 7 4q-1-6-7-4M264 109q5 1 5-5q-5-1-5 5M261 119q6 0 8-6q-6 0-8 6M194 126q5 5 10 0q-5-5-10 0M203 123q4 4 9 2q-4-4-9-2M229 123q7 1 8-6q-7-1-8 6M258 113q5 3 8-2q-5-3-8 2M240 115q6 4 10-2q-6-4-10 2M250 115q2 6 8 4q-2-6-8-4M261 109q5 4 10-1q-5-4-10 1M207 123q6 0 5-6q-6 0-5 6M222 121q3 6 9 3q-3-6-9-3M238 120q4 4 7-1q-4-4-7 1M214 120q2 7 9 5q-2-7-9-5M269 110q5 2 8-2q-5-2-8 2M223 123q5-1 5-6q-5 1-5 6M240 114q5 4 9-2q-5-4-9 2M268 110q5 2 8-2q-5-2-8 2M251 115q4 3 8-1q-4-3-8 1M192 126q6-1 7-7q-6 1-7 7M244 115q3 4 7 1q-3-4-7-1M253 116q3 5 9 3q-3-5-9-3M266 112q5 4 9-1q-5-4-9 1M197 120q3 4 8 3q-3-4-8-3M214 122q6 2 9-3q-6-2-9 3M235 118q6 3 10-2q-6-3-10 2M263 120q5-3 3-9q-5 3-3 9M220 122q6 3 10-2q-6-3-10 2M260 112q5 2 8-3q-5-2-8 3M228 122q5 5 11 2q-5-5-11-2M228 122q6 1 6-5q-6-1-6 5M258 118q7 1 8-6q-7-1-8 6M21 3q-4 4 0 7q4-4 0-7M15 13q2 5 7 4q-2-5-7-4M47 15q-4-3-8 0q4 3 8 0M91 6q-7 0-9 6q7 0 9-6M94 9q-6-3-9 2q6 3 9-2M79 11q-2 7 4 10q2-7-4-10M87 9q-3 5 3 8q3-5-3-8M178 23q-5-3-7 2q5 3 7-2M187 20q-5 4-2 9q5-4 2-9M192 25q-6-3-10 2q6 3 10-2M241 19q-2 5 3 7q2-5-3-7M60 64q-5 4 0 8q5-4 0-8M61 71q-6 0-6 7q6 0 6-7M161 54q-6-3-9 3q6 3 9-3M159 45q-4 6 1 11q4-6-1-11M226 60q-6-3-10 2q6 3 10-2M223 64q-5-3-8 2q5 3 8-2M224 66q-5 5-1 10q5-5 1-10M256 62q-1 6 5 7q1-6-5-7M259 59q-6-2-9 3q6 2 9-3M256 44q3 6 9 5q-3-6-9-5M105 59q-5-2-6 4q5 2 6-4M30 44q-6 1-5 7q6-1 5-7M34 43q-6-2-11 3q6 2 11-3M23 46q-5 4-2 9q5-4 2-9M34 48q-5-2-8 3q5 2 8-3M36 40q-6 0-5 5q6 0 5-5M118 68q-5 4-1 9q5-4 1-9M249 129q-2 6 3 8q2-6-3-8" fill="#dddddd" stroke="#505050" stroke-width="0.65" stroke-linejoin="round"/>
<defs><path id="cd1r" d="M59 128h0M62 135h0M161 148h0M164 148h0M176 150h0M242 159h0M214 159h0M232 158h0M235 165h0M216 160h0M220 166h0M124 45h0M118 13h0M116 56h0M120 42h0M110 141h0M97 148h0M61 171h0M50 178h0M17 209h0M37 195h0M230 153h0M207 141h0M200 135h0M212 141h0M197 129h0M202 200h0M174 158h0M200 194h0M199 188h0M259 111h0M209 124h0M198 127h0M273 110h0M14 15h0M34 24h0M35 26h0M32 25h0M29 18h0M24 15h0M35 16h0M37 18h0M76 20h0M179 24h0M183 27h0M190 19h0M187 20h0M243 23h0M249 29h0M240 20h0M238 23h0M238 26h0M59 72h0M52 71h0M47 69h0M157 59h0M159 61h0M163 63h0M152 57h0M150 56h0M217 70h0M221 59h0M222 63h0M8 93h0M10 90h0M16 94h0M13 92h0M11 88h0M15 87h0M261 66h0M262 54h0M95 65h0M97 59h0M98 73h0M105 62h0M95 64h0M27 47h0M35 45h0M26 48h0M259 38h0M127 164h0M211 83h0M24 111h0M37 175h0M231 85h0M233 114h0M225 30h0M199 193h0M18 156h0M267 118h0M14 162h0M168 9h0M257 93h0M156 65h0M25 145h0M179 142h0M121 4h0M100 158h0M193 127h0M152 153h0M56 107h0M5 42h0M56 30h0M220 98h0M222 17h0"/></defs>
<use href="#cd1r" stroke="#2a2a2a" stroke-width="5.6"/>
<use href="#cd1r" stroke="#f8f8f8" stroke-width="3.4"/>
</g></g>
<text x="342.5" y="1251.5" font-size="20.5" text-anchor="end" fill="#ff0000" stroke="#ff0000" stroke-width="0.4">50 µm</text>
<path d="M316.2,1266.5h15.6M317.0,1264.5v4M331.0,1264.5v4" stroke="#ff0000" stroke-width="2"/>
<text x="499.0" y="1047.3" font-size="25.8" text-anchor="middle" stroke="#000" stroke-width="0.4">STAT4+Vector</text>
<clipPath id="cd2"><rect x="359.3" y="1058.1" width="279.3" height="223.8"/></clipPath>
<g clip-path="url(#cd2)">
<rect x="359.3" y="1058.1" width="279.3" height="223.8" fill="#b6b6b6"/>
<g filter="url(#blur12)">
<ellipse cx="539" cy="1198" rx="80" ry="60" fill="#a6a6a6" opacity="0.35"/>
</g>
<g transform="translate(359.3,1058.1)" stroke-linecap="round" fill="none">
<path d="M107 58l36 11M143 69l42 2M143 69l21 27M185 71l21 -6M185 71l16 34M185 71l-21 26M206 65l20 32M246 55l53 14M246 55l-19 41M299 69l1 18M299 69l-34 17M136 104l16 21M164 97l36 8M164 97l16 25M201 105l26 -8M201 105l24 11M226 96l-1 19M226 96l21 33M265 85l-17 43M300 87l-12 41M102 125l49 -0M151 125l18 36M225 116l23 13M225 116l1 48M225 116l-25 47M247 129l40 -1M247 129l31 24M247 129l-21 35M98 164l34 -2M169 161l21 18M200 163l26 1M200 163l17 35M226 163l53 -11M226 163l29 33M278 153l17 30M301 146l-6 36M101 194l37 -16M138 178l52 1M255 196l40 -14M255 196l-30 23M296 182l7 47M121 228l33 -19M121 228l25 12M154 210l-8 30M154 210l28 31M225 219l-9 21M272 230l-12 13M272 230l26 22M182 241l34 -1M216 240l44 2" stroke="#8a8a8a" stroke-width="1.1"/>
<path d="M2 -2l4 4M2 -2l4 8M6 3l9 -4M6 3l7 4M6 3l0 3M15 -2l11 1M15 -2l5 9M15 -2l-2 9M26 -1l10 -1M26 -1l2 6M26 -1l-6 7M36 -1l9 0M36 -1l2 10M36 -1l-8 6M45 -1l7 3M45 -1l3 7M45 -1l-6 10M52 2l9 -0M52 2l5 3M52 2l-4 4M60 2l9 -4M60 2l3 7M60 2l-4 3M69 -2l9 3M69 -2l5 9M69 -2l-6 11M78 0l6 -2M78 0l4 7M78 0l-4 7M84 -2l11 2M84 -2l5 9M84 -2l-2 9M95 0l9 1M95 0l-6 7M104 1l2 7M104 1l-4 7M113 0l7 0M113 0l-7 8M120 1l6 2M120 1l-5 6M126 2l9 -1M126 2l6 7M126 2l-2 7M135 1l12 -1M135 1l-3 8M147 1l4 1M147 1l3 6M147 1l-9 7M151 2l11 -3M151 2l4 7M151 2l-2 5M162 -2l5 2M162 -2l3 8M162 -2l-7 10M168 0l8 2M168 0l4 10M168 0l-2 6M176 2l11 -2M176 2l6 3M176 2l-4 8M187 0l8 1M187 0l3 6M187 0l-5 5M195 1l11 -2M195 1l7 5M195 1l-5 5M206 -1l6 1M206 -1l-5 7M212 0l8 0M212 0l-5 5M220 0l4 8M220 0l-3 5M230 -0l9 0M230 -0l6 9M230 -0l-5 9M239 0l1 7M239 0l-3 9M244 3l10 -3M244 3l8 2M244 3l-5 4M263 2l11 -2M263 2l4 6M263 2l-5 5M274 0l6 -2M274 0l3 7M274 0l-7 9M280 -2l3 8M280 -2l-3 9M6 6l7 1M6 6l-7 7M6 6l3 7M13 7l7 0M13 7l-4 6M13 7l6 9M20 7l8 -2M20 7l-1 9M20 7l3 8M28 5l10 4M28 5l-5 10M28 5l6 7M38 9l9 -3M38 9l-4 4M38 9l4 3M48 6l9 -1M48 6l-5 7M48 6l5 6M56 5l7 4M56 5l-4 7M56 5l4 12M63 9l11 -2M63 9l-3 8M63 9l6 4M74 7l8 0M74 7l-5 6M74 7l2 6M83 7l7 0M83 7l-6 6M83 7l2 9M89 8l11 1M89 8l-5 9M89 8l6 4M100 9l-5 4M100 9l1 7M106 9l3 8M115 7l9 2M115 7l-7 10M115 7l6 8M125 9l8 1M125 9l-4 6M132 10l5 -2M132 10l4 4M138 7l12 -1M149 7l6 2M149 7l-6 6M149 7l5 8M156 8l10 -2M156 8l7 8M165 6l6 4M165 6l-3 10M165 6l7 7M172 10l10 -4M172 10l1 3M172 10l6 7M182 5l8 1M182 5l-4 11M182 5l6 9M190 6l12 -0M190 6l6 7M202 6l5 -0M202 6l-5 7M202 6l1 7M207 5l9 1M207 5l-5 7M207 5l5 8M217 6l-5 8M217 6l4 11M224 9l11 1M224 9l-3 9M224 9l3 6M236 9l4 -2M236 9l-8 6M240 7l13 -2M240 7l-0 9M240 7l7 9M253 5l5 2M253 5l-6 11M258 7l9 1M258 7l-5 10M258 7l7 9M267 9l10 -1M267 9l-3 8M267 9l7 4M277 7l6 -1M277 7l-4 6M277 7l1 6M283 6l-5 7M-1 13l11 0M-1 13l5 12M9 13l10 2M9 13l5 9M9 13l-5 11M19 16l4 -1M19 16l3 8M19 16l-4 6M23 15l11 -2M23 15l6 10M23 15l-1 9M35 12l8 -0M35 12l6 11M35 12l-6 12M42 12l10 -0M42 12l6 11M42 12l-2 11M52 12l8 5M52 12l4 9M52 12l-4 11M60 17l10 -4M60 17l2 4M60 17l-4 4M70 13l7 -0M70 13l0 11M70 13l-7 7M77 13l8 4M77 13l3 7M77 13l-7 11M84 17l11 -4M84 17l4 4M84 17l-4 3M95 12l6 3M95 12l2 9M95 12l-7 8M101 16l7 1M101 16l3 7M109 16l12 -1M109 16l5 5M109 16l-4 6M121 15l-7 6M127 17l9 -3M127 17l5 8M127 17l-2 5M136 13l7 -0M136 13l7 8M136 13l-4 11M143 13l11 2M143 13l3 11M143 13l-1 8M155 15l8 2M155 15l3 6M155 15l-8 10M163 16l10 -3M163 16l1 4M163 16l-5 4M172 13l6 3M172 13l1 7M172 13l-9 8M178 17l10 -2M178 17l2 8M188 14l8 -1M188 14l5 6M188 14l-8 10M196 13l3 10M196 13l-3 7M202 12l-3 11M212 13l9 4M212 13l4 8M212 13l-4 7M221 17l7 -2M221 17l6 5M221 17l-5 4M228 15l12 0M228 15l6 8M228 15l-0 8M240 15l7 1M240 15l0 8M240 15l-6 8M247 16l6 1M247 16l6 7M247 16l-7 7M253 17l6 4M253 17l-0 6M264 16l9 -4M264 16l-6 5M274 13l5 0M274 13l1 9M274 13l-8 7M278 13l-4 9M4 24l11 -3M4 24l-4 6M4 24l5 3M15 22l7 2M15 22l-6 5M15 22l4 8M22 23l7 1M22 23l-3 7M22 23l3 5M29 25l12 -1M29 25l-4 4M29 25l6 7M41 23l8 0M41 23l-6 8M41 23l1 6M49 24l7 -2M49 24l-7 5M49 24l2 4M56 21l7 -0M56 21l-5 7M56 21l3 10M63 21l7 4M63 21l-4 11M63 21l6 10M70 24l10 -5M70 24l-2 7M70 24l5 7M80 20l9 0M80 20l-4 12M80 20l7 8M88 20l9 1M88 20l-2 8M88 20l5 10M97 21l7 1M97 21l-4 9M97 21l5 9M105 22l10 -1M105 22l-2 8M105 22l5 8M114 21l11 -0M114 21l-5 8M114 21l4 10M125 21l7 3M125 21l2 11M132 24l11 -3M132 24l-5 8M132 24l4 4M143 22l4 3M143 22l1 6M146 24l11 -4M146 24l-2 3M146 24l8 3M157 21l5 8M164 21l9 -1M164 21l-2 8M173 20l7 4M173 20l-2 7M173 20l6 10M180 25l-1 6M180 25l5 3M193 20l7 4M193 20l-7 7M193 20l2 10M200 24l9 -4M200 24l-5 7M200 24l3 3M208 20l8 2M208 20l-5 7M216 22l11 1M216 22l3 10M227 23l6 0M227 23l-8 9M227 23l2 5M234 23l6 0M234 23l-4 5M234 23l2 6M240 23l12 -0M240 23l-4 6M240 23l6 5M252 23l6 -2M252 23l-6 5M252 23l1 7M259 21l7 -1M259 21l-6 8M259 21l4 8M265 20l9 2M265 20l-3 9M274 22l12 -1M274 22l-3 9M274 22l6 6M286 21l-5 7M-0 30l9 -3M-0 30l3 9M9 27l10 3M9 27l1 8M9 27l-7 12M19 30l5 -2M19 30l-0 9M19 30l-9 5M24 28l10 4M24 28l5 11M24 28l-5 10M35 32l7 -3M35 32l4 4M35 32l-5 7M42 29l10 -1M42 29l5 9M42 29l-3 7M51 28l8 4M51 28l3 11M51 28l-5 10M59 32l9 -0M59 32l4 3M59 32l-5 7M68 31l7 0M68 31l3 6M68 31l-5 3M75 31l11 -3M75 31l4 8M75 31l-4 6M86 28l7 2M86 28l5 9M86 28l-7 11M94 31l6 7M94 31l-2 7M102 30l7 -0M102 30l4 5M102 30l-3 8M109 30l9 1M109 30l8 9M109 30l-3 5M118 31l9 1M118 31l5 5M118 31l-1 8M127 32l3 6M127 32l-4 4M136 28l8 -1M136 28l6 8M136 28l-7 9M144 28l10 -0M144 28l4 10M144 28l-2 9M154 27l8 1M154 27l5 8M154 27l-7 10M162 29l9 -1M162 29l-3 7M171 28l8 3M171 28l0 11M171 28l-7 10M179 31l-8 8M186 28l9 3M186 28l5 8M186 28l-4 11M195 30l8 -3M195 30l2 5M195 30l-4 5M203 27l9 4M212 31l6 6M212 31l-5 7M219 32l10 -4M219 32l5 6M230 28l6 1M230 28l5 8M230 28l-5 10M236 29l10 -1M236 29l4 8M236 29l-1 7M246 28l6 2M246 28l3 7M253 30l9 -0M253 30l6 5M253 30l-4 6M262 29l10 1M262 29l8 7M262 29l-4 6M281 28l1 11M3 39l8 -4M3 39l-1 6M3 39l8 5M10 35l9 4M10 35l0 9M10 35l4 8M19 39l11 0M19 39l-4 4M19 39l5 8M30 39l9 -3M30 39l-5 7M30 39l6 3M39 36l8 2M39 36l-3 6M39 36l3 6M46 38l7 0M46 38l-5 4M46 38l3 5M54 39l9 -4M54 39l-4 5M54 39l5 4M63 35l8 3M63 35l-4 8M63 35l6 8M71 37l7 2M71 37l-3 6M71 37l7 7M79 39l12 -2M79 39l-0 5M79 39l6 7M91 37l8 1M91 37l-7 9M91 37l1 6M100 38l7 -3M100 38l-7 5M100 38l0 5M106 35l-6 8M117 39l6 -3M123 36l7 1M123 36l-5 9M123 36l3 6M130 38l-3 5M130 38l5 6M142 36l6 1M142 36l-7 7M142 36l5 6M148 38l-1 5M148 38l4 5M159 35l6 2M159 35l-7 7M159 35l1 11M165 38l7 1M165 38l-4 9M165 38l8 5M172 39l10 0M172 39l4 6M182 39l9 -3M182 39l-6 6M191 35l6 -0M191 35l-4 7M191 35l4 10M197 35l10 3M197 35l-2 11M197 35l4 10M207 38l11 -1M207 38l-6 7M218 38l6 0M218 38l-5 8M218 38l3 7M224 38l11 -2M224 38l-3 6M224 38l5 5M235 36l5 1M235 36l-5 6M235 36l3 7M240 37l9 -1M240 37l-2 6M240 37l5 5M249 35l-4 7M249 35l4 7M259 35l11 1M259 35l-5 7M259 35l5 8M270 36l9 2M278 38l4 1M278 38l-6 6M278 38l1 4M282 39l-3 3M2 44l9 -0M2 44l3 8M10 44l4 -2M10 44l3 8M10 44l-6 8M15 43l10 4M15 43l7 7M15 43l-1 9M25 46l11 -4M25 46l4 7M25 46l-3 3M36 42l6 -0M36 42l2 7M36 42l-7 11M42 42l8 1M42 42l5 11M42 42l-4 7M50 44l9 -1M50 44l4 6M50 44l-3 10M59 43l10 0M59 43l5 11M59 43l-6 7M69 43l10 1M69 43l3 7M69 43l-5 11M78 44l6 1M78 44l4 5M78 44l-7 6M85 46l8 -3M85 46l4 7M85 46l-3 4M93 43l7 0M93 43l7 10M93 43l-5 9M100 43l9 2M100 43l5 7M100 43l-1 10M109 46l5 4M126 42l9 2M135 44l-1 7M147 43l5 -0M152 43l9 4M160 47l12 -4M172 43l4 1M176 44l11 -2M187 42l8 3M195 46l4 8M221 44l9 -2M230 43l8 1M238 43l8 -1M238 43l-4 10M246 42l8 0M253 42l10 1M264 43l9 1M5 53l9 -1M5 53l-3 8M5 53l6 8M14 52l8 -2M14 52l-3 8M14 52l4 7M22 49l7 4M22 49l-4 9M22 49l1 11M29 53l9 -4M29 53l-6 7M29 53l7 7M38 50l9 4M38 50l-2 11M38 50l6 7M46 53l7 -4M46 53l-3 3M46 53l6 5M53 50l11 4M53 50l-1 8M53 50l6 11M64 54l8 -3M64 54l-5 7M64 54l4 5M72 50l10 -1M72 50l-4 9M72 50l3 7M82 50l6 3M82 50l-8 8M82 50l1 8M88 52l11 1M88 52l-5 5M88 52l5 5M100 54l-6 3M114 50l8 3M114 50l-2 12M114 50l6 9M151 53l-7 8M2 60l9 -0M2 60l0 6M11 60l7 -2M11 60l2 8M11 60l-8 6M17 58l6 2M17 58l4 6M17 58l-4 9M23 60l12 0M23 60l7 7M23 60l-2 4M35 60l9 -4M35 60l4 6M35 60l-6 7M44 57l8 1M44 57l1 7M44 57l-4 9M52 58l7 3M52 58l3 10M52 58l-7 6M59 61l9 -2M59 61l3 6M59 61l-4 7M68 59l7 -1M68 59l5 8M68 59l-6 8M74 58l9 0M74 58l5 7M74 58l-1 9M84 58l10 -1M84 58l3 8M84 58l-4 7M94 57l6 9M94 57l-7 9M100 57l9 11M100 57l-0 9M112 62l9 -2M112 62l-3 7M181 61l1 6M254 58l5 7M2 66l11 2M2 66l-2 8M2 66l8 10M13 68l9 -3M13 68l-3 8M13 68l7 4M21 64l8 3M21 64l-2 8M21 64l4 8M30 67l10 -1M30 67l-4 5M30 67l5 6M40 66l6 -2M40 66l-5 7M40 66l5 8M45 64l10 4M45 64l-1 10M45 64l7 7M55 68l6 -1M55 68l-3 4M55 68l5 6M62 67l11 0M62 67l-2 7M62 67l8 5M73 67l7 -2M73 67l-3 5M73 67l2 8M79 64l7 1M79 64l-5 10M79 64l5 9M87 66l13 1M87 66l-3 8M87 66l6 11M100 66l9 2M109 68l6 -2M109 68l3 8M115 66l8 2M115 66l-3 10M155 67l-5 8M175 68l7 -1M1 74l9 2M1 74l3 6M10 76l9 -4M10 76l1 7M10 76l-6 4M19 72l6 -0M19 72l4 9M19 72l-9 11M25 72l10 1M25 72l4 8M25 72l-2 9M35 73l9 0M35 73l5 9M35 73l-5 6M44 74l8 -2M44 74l1 8M44 74l-4 9M53 72l8 2M53 72l5 9M53 72l-7 10M60 74l10 -2M60 74l3 7M60 74l-2 7M70 72l5 3M70 72l2 7M70 72l-7 9M74 75l10 -1M74 75l7 5M74 75l-3 4M84 74l9 3M84 74l6 8M84 74l-3 6M93 76l6 6M93 76l-3 5M103 76l10 0M103 76l-3 7M112 76l7 -3M119 73l-2 10M221 76l4 4M264 76l10 0M264 76l-6 7M274 76l4 -1M4 80l7 3M4 80l-4 8M4 80l4 8M11 83l13 -2M11 83l-4 5M11 83l4 4M23 81l6 -2M23 81l-9 6M23 81l0 9M30 80l11 3M30 80l-6 11M30 80l3 11M40 83l5 -1M40 83l-7 9M40 83l4 4M45 82l13 -2M45 82l-1 5M45 82l8 10M58 80l5 1M58 80l-5 11M58 80l1 9M63 81l8 -1M63 81l-4 8M63 81l6 8M72 79l10 1M72 79l-3 9M72 79l4 11M81 80l9 1M81 80l-6 10M81 80l2 8M90 81l9 1M90 81l-7 7M90 81l1 7M99 83l-8 5M116 83l6 -4M116 83l-7 5M232 83l12 -4M258 83l-3 6M-0 88l7 1M-0 88l5 9M7 88l8 -1M7 88l3 8M7 88l-2 9M15 87l9 4M15 87l5 9M15 87l-4 9M24 91l9 1M24 91l6 6M24 91l-4 6M33 91l12 -4M33 91l7 4M33 91l-3 5M45 87l8 4M45 87l2 8M45 87l-5 8M53 91l6 -3M53 91l1 6M53 91l-6 4M59 89l10 0M59 89l3 9M59 89l-5 8M69 89l6 1M69 89l3 5M69 89l-7 9M75 90l8 -2M75 90l7 4M75 90l-4 4M84 88l7 -0M84 88l5 9M84 88l-1 6M91 88l4 9M91 88l-3 9M109 88l9 -2M109 88l5 10M109 88l-2 10M118 86l-4 12M222 87l1 11M5 97l5 -1M5 97l-8 7M5 97l6 4M10 96l9 -0M10 96l1 5M10 96l4 8M20 96l10 -0M20 96l-5 8M20 96l8 7M30 96l10 -1M30 96l-3 7M30 96l2 8M40 95l7 -0M40 95l-8 9M40 95l4 7M47 95l7 2M47 95l-3 7M47 95l6 9M54 97l8 1M54 97l-1 7M54 97l7 5M62 98l10 -4M62 98l-1 5M62 98l5 7M72 94l11 -0M72 94l-4 10M72 94l6 11M82 94l6 3M82 94l-5 12M82 94l5 11M88 97l7 0M88 97l-1 8M88 97l3 6M95 97l11 1M95 97l-4 6M107 99l7 -1M107 99l-4 6M114 98l12 -2M114 98l6 4M-2 104l13 -2M-2 104l6 8M11 102l4 3M11 102l4 8M11 102l-7 11M15 104l13 -1M15 104l7 5M15 104l0 5M27 103l5 1M27 103l2 7M27 103l-5 6M32 104l11 -2M32 104l8 9M32 104l-2 6M43 102l9 2M43 102l5 9M43 102l-3 11M53 104l8 -2M53 104l4 8M53 104l-4 7M61 102l6 2M61 102l3 7M61 102l-5 10M67 104l10 1M67 104l4 9M67 104l-3 5M77 105l10 -1M77 105l4 4M77 105l-6 8M87 105l4 -1M87 105l1 4M87 105l-6 4M91 103l5 7M91 103l-2 6M103 105l7 -4M103 105l2 4M103 105l-7 5M110 101l5 12M110 101l-4 7M119 102l-5 11M162 105l4 6M211 105l12 0M223 105l8 -1M264 106l2 3M281 104l3 5M4 112l11 -2M4 112l-6 7M4 112l3 7M15 110l7 -0M15 110l-8 10M15 110l2 10M22 109l8 1M22 109l-5 11M22 109l4 11M29 110l10 3M29 110l-4 10M29 110l4 8M40 113l9 -2M40 113l-6 5M40 113l5 6M49 111l8 1M49 111l-4 8M49 111l2 9M56 112l8 -3M56 112l-6 9M56 112l4 7M64 109l7 4M64 109l-3 10M64 109l2 11M71 113l10 -4M71 113l-5 7M71 113l3 3M81 109l7 0M81 109l-7 7M81 109l3 8M89 109l7 1M89 109l-4 8M89 109l4 9M96 110l-4 8M96 110l6 9M105 108l10 5M105 108l-3 11M105 108l7 11M115 113l8 -3M115 113l-2 6M115 113l6 5M148 113l7 3M185 111l5 -1M-2 119l9 0M-2 119l7 7M7 119l10 1M7 119l7 8M7 119l-2 6M17 120l9 0M17 120l6 3M17 120l-3 7M26 120l8 -2M26 120l6 5M26 120l-3 3M34 118l11 1M34 118l7 9M34 118l-2 8M45 119l6 1M45 119l2 4M45 119l-4 8M51 120l10 -1M51 120l3 7M51 120l-4 3M61 119l5 1M61 119l1 4M61 119l-7 8M66 120l9 -4M66 120l8 6M66 120l-4 3M74 116l10 1M74 116l7 8M74 116l-1 10M84 117l8 1M84 117l7 10M84 117l-3 7M92 118l3 8M92 118l-1 9M5 126l9 1M5 126l-5 7M5 126l5 6M14 127l9 -4M14 127l-4 5M14 127l3 7M23 123l9 2M23 123l-6 11M23 123l5 11M32 126l9 1M32 126l-4 9M32 126l2 7M41 127l6 -4M41 127l-6 5M41 127l3 8M47 123l7 4M47 123l-3 12M47 123l2 9M53 127l8 -4M53 127l-5 5M53 127l5 7M61 123l12 3M61 123l-3 11M61 123l8 7M73 126l8 -3M73 126l-4 4M73 126l5 6M82 124l10 3M82 124l-3 9M82 124l2 8M92 127l4 -1M92 127l-8 4M92 127l-0 5M95 126l10 -2M95 126l-4 6M95 126l5 8M105 124l10 4M105 124l-5 10M105 124l3 8M115 128l-7 5M115 128l4 5M-0 133l10 -1M-0 133l3 6M10 132l7 2M10 132l1 7M10 132l-7 7M17 134l11 0M17 134l3 7M17 134l-6 5M28 134l6 -2M28 134l4 7M28 134l-8 7M34 132l9 3M34 132l3 8M34 132l-3 9M43 135l5 -3M43 135l6 5M43 135l-6 5M49 133l10 2M49 133l8 5M49 133l1 7M58 135l10 -4M58 135l7 8M58 135l-2 3M69 131l10 2M69 131l4 12M69 131l-4 12M79 133l5 -2M79 133l3 9M79 133l-6 10M83 131l8 1M83 131l6 9M83 131l-2 11M91 132l9 2M91 132l5 9M91 132l-2 8M100 134l9 -1M100 134l-3 7M109 133l11 0M120 133l-4 5M194 132l8 1M236 134l-4 7M271 131l10 2M3 139l8 0M3 139l-1 7M3 139l8 7M11 139l9 2M11 139l-1 7M11 139l5 7M19 141l12 -0M19 141l-3 5M19 141l6 5M32 141l5 -0M32 141l-6 5M32 141l3 5M37 141l12 -1M37 141l-2 5M37 141l7 7M49 140l7 -2M49 140l-6 8M49 140l1 6M56 138l9 4M56 138l-6 8M56 138l4 8M65 142l7 0M65 142l-4 4M65 142l2 8M72 143l9 -1M72 143l-5 8M72 143l6 7M81 142l8 -2M81 142l-3 7M81 142l4 8M89 140l7 1M89 140l-3 10M89 140l6 10M97 141l11 -3M97 141l-1 9M97 141l7 7M224 141l5 5M2 146l8 -1M2 146l3 8M10 146l6 0M10 146l5 9M10 146l-5 8M16 146l10 0M16 146l4 11M16 146l-1 9M26 146l9 0M26 146l5 10M26 146l-6 11M35 146l9 2M35 146l6 11M35 146l-4 10M43 148l7 -2M43 148l2 9M43 148l-3 9M50 146l11 0M50 146l7 7M50 146l-4 11M61 146l6 4M61 146l3 11M61 146l-4 7M67 150l11 -1M67 150l5 4M67 150l-3 7M78 149l7 1M78 149l2 8M78 149l-7 5M86 150l10 -0M86 150l1 6M86 150l-5 7M95 150l-8 7M103 147l4 7M103 147l-4 10M112 147l4 9M119 145l-4 11M126 149l8 -3M198 146l-6 7M5 154l10 0M5 154l-5 9M5 154l4 10M15 155l5 2M15 155l-6 10M15 155l2 10M20 156l11 -1M20 156l-2 8M20 156l3 6M31 156l10 1M31 156l-7 7M31 156l6 8M41 157l5 0M41 157l-4 7M41 157l4 8M46 157l11 -4M46 157l-2 8M46 157l4 5M57 153l7 4M57 153l-8 10M57 153l4 9M64 157l8 -3M64 157l-2 5M64 157l4 4M72 154l9 3M72 154l-4 7M72 154l3 10M81 157l6 -1M81 157l-6 8M81 157l6 7M87 156l12 2M87 156l-1 8M87 156l9 7M99 158l8 -4M99 158l-3 5M99 158l5 6M107 154l-3 10M107 154l3 8M116 156l6 0M202 156l3 7M-0 163l9 1M-0 163l7 8M9 164l8 0M9 164l5 7M9 164l-2 7M17 164l6 -2M17 164l2 8M17 164l-4 7M23 163l13 1M23 163l9 6M23 163l-4 9M36 164l8 1M36 164l4 9M36 164l-5 5M44 165l5 -2M44 165l1 7M44 165l-4 7M49 163l12 -1M49 163l4 9M49 163l-4 10M61 162l7 -1M61 162l5 6M61 162l-9 10M68 161l6 4M68 161l4 7M68 161l-2 7M74 165l12 -1M74 165l7 3M74 165l-2 3M86 164l9 -1M86 164l3 4M86 164l-5 4M96 163l-6 6M104 164l7 -2M104 164l-8 7M232 162l-9 7M262 164l4 8M262 164l-5 7M271 163l8 -3M7 171l7 -0M7 171l-4 4M7 171l1 5M14 171l5 1M14 171l-6 5M14 171l6 9M19 172l13 -3M19 172l0 8M19 172l6 8M32 169l8 4M32 169l-7 11M32 169l1 11M40 172l5 -0M40 172l-7 7M40 172l1 4M45 172l8 -1M45 172l-4 4M45 172l6 7M53 171l13 -3M53 171l-2 7M53 171l6 4M66 168l6 -1M66 168l-7 7M66 168l-1 7M72 168l9 0M72 168l-6 8M72 168l3 11M81 168l8 1M81 168l-6 10M81 168l2 12M89 168l7 2M89 168l-6 11M89 168l5 8M96 171l-2 6M105 168l-3 11M105 168l4 10M114 169l-4 9M114 169l6 10M266 172l5 4M2 175l6 0M2 175l4 11M8 176l11 4M8 176l7 11M8 176l-2 11M19 180l6 -1M19 180l3 7M19 180l-4 7M25 179l8 -0M25 179l3 7M25 179l-3 8M33 179l8 -3M33 179l7 4M33 179l-4 7M41 176l10 2M41 176l8 11M41 176l-1 7M51 179l8 -3M51 179l3 4M51 179l-2 9M59 175l6 0M59 175l2 8M59 175l-6 8M66 176l10 3M66 176l6 11M66 176l-4 8M75 178l8 1M75 178l4 5M75 178l-4 8M83 180l11 -3M83 180l7 7M83 180l-4 4M94 177l8 3M94 177l1 10M94 177l-4 10M102 179l7 -1M102 179l5 5M109 178l10 1M109 178l5 4M138 176l7 -0M145 176l9 4M6 186l9 1M6 186l-4 8M6 186l2 8M15 187l7 0M15 187l-7 7M15 187l2 7M22 187l7 -1M22 187l-4 7M22 187l5 5M28 186l11 -3M28 186l-1 6M28 186l5 4M40 183l9 4M40 183l-7 7M40 183l5 7M49 187l5 -4M49 187l-4 3M49 187l-0 4M54 183l8 0M54 183l-5 8M54 183l4 8M62 183l10 3M62 183l-4 8M62 183l7 8M71 186l8 -3M71 186l-2 5M71 186l7 5M79 183l11 3M79 183l-1 8M79 183l8 10M90 186l5 -0M90 186l-3 7M90 186l2 6M95 186l12 -2M95 186l-3 6M107 184l-4 7M107 184l1 10M115 183l8 -0M115 183l-6 12M115 183l2 8M123 182l-6 8M133 185l-7 9M149 184l9 2M2 194l6 1M2 194l2 4M8 194l10 0M8 194l2 5M8 194l-3 3M17 194l10 -2M17 194l3 3M17 194l-7 5M27 192l6 -2M27 192l2 10M27 192l-7 5M33 190l11 -0M33 190l5 10M33 190l-4 11M44 190l4 1M44 190l2 8M44 190l-6 10M49 191l9 -0M49 191l5 9M49 191l-2 7M58 191l11 0M58 191l7 9M58 191l-4 9M69 191l9 0M69 191l3 9M69 191l-4 8M78 192l9 2M78 192l1 10M78 192l-6 8M87 194l5 -1M87 194l4 4M87 194l-8 8M92 193l-1 5M103 191l-3 10M108 194l8 -3M108 194l-4 7M117 191l-0 8M179 193l-4 7M4 198l6 2M4 198l-2 11M4 198l3 11M10 199l10 -2M10 199l-3 9M10 199l9 5M20 197l9 5M20 197l-1 7M20 197l5 11M29 202l10 -1M29 202l-4 6M29 202l4 4M38 201l8 -2M38 201l-5 5M38 201l3 5M46 199l7 1M46 199l-5 7M46 199l6 8M54 200l11 -0M54 200l-1 7M54 200l5 10M65 200l7 0M65 200l-6 10M65 200l2 8M72 200l7 2M72 200l-5 7M72 200l6 9M79 202l12 -4M79 202l-1 8M79 202l5 5M91 198l8 3M91 198l-6 9M91 198l3 9M100 201l4 0M104 201l5 4M159 199l5 -1M218 200l-6 9M234 199l-6 10M258 198l-5 7M2 209l5 -0M2 209l5 4M7 208l12 -4M7 208l5 6M7 208l-0 4M19 205l6 4M19 205l3 12M19 205l-7 10M25 208l8 -3M25 208l5 9M25 208l-3 8M33 205l8 1M33 205l4 8M33 205l-4 11M41 206l11 1M41 206l8 8M41 206l-4 8M52 207l7 2M52 207l3 5M52 207l-3 6M59 210l8 -2M59 210l7 5M59 210l-4 3M67 207l11 2M67 207l7 8M67 207l-2 7M79 210l6 -3M79 210l2 3M79 210l-4 6M85 206l9 1M85 206l4 8M85 206l-4 6M94 207l8 0M94 207l-6 7M102 207l-5 7M109 205l10 0M184 208l4 8M228 209l-4 8M7 212l5 2M7 212l-7 8M7 212l4 8M12 214l10 2M12 214l-1 6M12 214l6 9M22 216l8 1M22 216l-4 7M22 216l5 5M29 217l8 -3M29 217l-3 5M29 217l7 3M37 214l12 -0M37 214l-1 6M37 214l5 6M49 214l6 -1M49 214l-7 6M49 214l2 7M55 212l10 2M55 212l-4 9M55 212l6 9M65 215l9 1M65 215l-4 7M65 215l1 6M74 215l6 -3M74 215l-8 5M74 215l1 6M80 212l8 2M80 212l-6 10M80 212l7 12M88 214l9 -0M88 214l-2 10M88 214l6 5M97 214l8 -1M97 214l-2 6M97 214l6 6M105 213l-2 8M117 216l-8 4M244 217l-5 7M-0 220l11 1M-0 220l5 7M11 220l6 3M11 220l2 9M11 220l-6 6M17 224l9 -2M17 224l6 7M17 224l-4 5M26 222l10 -2M26 222l4 8M26 222l-3 9M36 220l7 0M36 220l1 11M36 220l-5 10M43 220l8 1M43 220l3 12M43 220l-6 11M51 221l10 1M51 221l4 8M51 221l-5 11M61 222l5 -1M61 222l2 7M61 222l-6 7M66 220l8 2M66 220l6 7M66 220l-3 9M75 222l12 2M75 222l6 5M75 222l-2 6M87 224l8 -4M87 224l3 3M87 224l-7 3M95 220l-5 8M103 221l6 -1M103 221l-6 6M120 220l-6 10M5 227l8 2M13 229l10 1M23 230l8 -1M31 230l6 1M37 231l9 1M46 232l10 -3M55 229l8 0M63 229l9 -2M72 227l8 -1M80 227l9 0M90 227l7 -0" stroke="#6e6e6e" stroke-width="0.7"/>
<path d="M5 0l-1 2M9 5l2 1M29 1l-3 0M39 1l-1 2M48 1l-3 1M54 4l1 3M72 -0l2 2M81 3l1 2M98 3l-2 2M116 2l1 2M138 4l-3 0M150 3l1 2M165 1l-3 2M171 2l-1 3M190 2l-2 2M198 3l-0 2M215 3l-1 4M223 3l3 1M242 2l-0 3M247 5l-1 2M257 2l-2 1M266 4l2 3M277 2l-1 2M283 0l-3 2M9 8l-4 1M16 9l3 1M31 7l-1 2M50 8l2 1M59 7l-0 4M66 11l-1 3M85 10l2 2M92 10l2 3M109 11l2 1M118 9l3 2M128 11l2 2M152 9l-1 2M159 10l-1 2M175 12l4 1M185 8l3 2M205 8l1 3M210 7l-4 2M239 11l-2 0M243 9l-3 1M256 7l-2 2M261 9l2 1M270 11l2 2M280 9l-2 3M286 8l3 0M2 15l-1 3M22 18l-0 3M26 17l-3 1M38 15l4 2M45 15l1 3M55 14l1 3M63 19l-3 2M73 16l2 2M80 15l-1 3M87 19l-1 2M98 14l-3 2M112 18l3 1M124 17l2 3M139 15l-2 2M146 15l2 2M158 17l-2 3M165 19l-3 0M175 15l3 1M181 19l-3 1M199 15l1 3M205 15l-2 2M215 16l-4 0M243 17l-3 1M250 18l-0 3M256 19l-1 4M267 18l1 2M277 15l-2 2M281 15l3 2M7 27l1 3M32 27l-1 3M52 26l3 0M59 23l-2 1M66 23l-2 0M73 26l2 3M83 22l-3 0M91 22l-3 1M100 23l2 2M108 24l2 1M117 24l2 3M128 23l-3 1M135 26l3 0M146 24l-3 2M149 27l3 2M176 22l2 2M183 27l1 3M196 22l-2 1M203 26l-1 3M219 24l-3 0M230 25l-2 2M243 25l3 1M262 23l-2 3M268 22l0 3M277 24l1 2M289 23l-1 2M3 32l0 2M12 29l-3 2M22 32l-3 2M27 30l2 0M38 34l-1 3M45 31l2 2M54 30l3 2M62 34l3 1M71 33l-0 3M78 34l2 3M89 30l-2 3M97 33l-1 2M130 34l-2 0M139 30l-2 1M147 30l-3 2M157 29l-2 1M165 31l2 1M182 33l-3 1M198 32l-3 2M206 29l-4 1M215 33l-3 1M222 34l-0 4M249 30l-1 3M256 32l-3 0M6 41l0 4M22 41l2 3M33 41l-2 1M42 38l2 2M49 40l3 3M57 41l-0 4M66 37l-0 4M74 39l-1 2M82 41l-2 1M94 39l1 2M103 40l2 0M109 37l-2 0M120 41l4 1M126 39l-1 3M133 40l1 2M145 39l3 1M151 40l-2 0M162 37l-2 2M168 40l2 0M175 41l-3 0M185 41l1 3M194 37l-2 2M200 37l-0 2M210 40l-2 2M243 39l-2 2M252 38l3 2M262 37l-3 3M281 40l1 2M285 41l-1 3M5 47l3 1M13 46l1 2M18 45l-2 2M28 48l4 1M45 45l1 2M53 46l3 2M81 46l1 3M88 48l2 3M96 45l-2 2M138 46l3 0M150 45l-3 2M155 45l-3 1M175 45l-3 3M179 46l-0 2M190 45l-0 4M224 46l-1 3M241 45l2 1M249 44l-2 3M256 44l1 3M282 45l2 0M8 55l3 2M25 51l1 2M32 55l2 3M41 52l2 2M56 52l-3 1M67 56l-1 3M75 53l2 1M85 52l-3 0M91 54l0 2M117 52l-1 3M5 62l3 1M14 62l1 1M26 62l-3 2M38 62l-3 2M47 59l-4 1M55 60l-1 3M70 61l-2 3M86 60l2 1M97 59l-1 2M103 59l-3 0M115 64l-1 3M5 68l3 2M16 70l2 2M24 67l1 3M33 69l-4 1M43 68l-3 0M48 66l-1 2M58 70l1 3M65 69l-3 2M76 69l3 2M82 67l2 2M90 68l-1 4M103 68l-1 2M248 67l3 3M13 78l3 2M22 74l1 2M28 74l3 2M38 76l2 2M55 74l1 4M63 76l-3 1M73 74l-1 2M77 77l4 1M87 76l3 1M106 78l-2 2M154 77l-4 0M200 75l-3 1M7 82l-1 2M14 86l2 2M26 84l-3 1M33 82l-2 0M43 85l2 1M61 82l-3 2M66 83l-2 2M75 82l-3 0M84 82l3 2M93 83l-0 2M111 82l2 3M119 85l-0 4M10 91l2 1M18 89l-0 2M27 93l-1 2M48 89l4 1M62 91l-0 4M72 91l-1 2M78 92l-0 3M87 90l3 2M94 90l-2 0M107 89l-2 1M121 88l-3 1M8 99l-2 1M13 98l-0 3M23 98l1 3M33 98l-1 2M43 97l-3 2M50 97l-2 2M57 99l-2 2M65 100l3 2M75 96l-4 0M85 96l2 2M91 99l-0 2M1 106l0 4M14 104l1 3M18 106l-3 0M30 105l-2 3M35 106l3 0M46 104l2 2M56 106l-3 3M70 106l4 1M80 107l3 0M94 105l-1 3M122 104l3 0M226 107l-0 2M7 114l2 2M18 112l-3 1M25 111l-1 2M32 112l-2 0M43 115l-3 2M52 113l-2 2M59 114l0 3M67 111l2 2M74 115l-4 1M84 111l2 2M91 111l-3 1M118 115l-2 2M1 121l-1 3M10 122l2 3M20 122l1 2M29 122l1 2M48 121l4 0M54 122l0 3M64 121l-2 2M69 122l1 3M77 118l2 0M95 120l3 3M105 121l-2 1M8 128l-1 3M26 125l3 2M35 128l1 2M44 129l3 2M64 126l1 3M76 128l1 3M85 126l2 2M95 129l-1 3M98 128l-4 1M3 135l-1 2M13 134l3 2M20 136l-0 3M37 135l-3 0M46 137l-2 2M52 135l2 3M61 137l-1 3M72 133l-2 1M81 135l-3 0M86 133l2 2M22 143l2 1M35 143l-3 0M40 143l-1 2M59 140l-3 0M75 145l1 3M92 142l-2 3M5 148l-2 1M13 148l-1 3M19 148l-3 2M29 148l-3 1M46 150l-1 3M64 148l2 1M70 152l-3 1M81 151l-1 2M98 152l-2 2M115 149l1 2M214 149l1 3M8 156l3 0M23 159l2 1M34 158l-1 3M44 159l-3 1M60 155l-2 2M67 159l2 3M75 157l3 2M84 159l-0 2M90 158l3 3M102 160l3 2M118 159l-3 0M135 158l-3 1M144 158l3 3M254 160l1 3M3 165l2 4M12 166l-0 3M20 166l-1 1M39 166l-1 2M47 167l1 3M52 165l-2 2M64 164l0 3M71 163l3 1M77 167l-2 1M89 166l-2 2M98 165l3 0M113 165l-1 4M120 165l2 1M235 164l2 3M10 173l3 2M17 173l3 1M35 171l2 3M43 175l-2 3M48 174l-3 0M56 173l-3 3M69 170l-1 4M84 170l2 1M92 171l2 1M108 170l-0 3M117 172l-2 1M5 177l-3 2M22 182l-3 0M28 181l0 3M36 181l-2 1M54 181l-2 3M62 178l-1 3M69 178l-1 2M78 180l-3 1M86 182l2 0M97 179l1 2M123 181l-2 1M18 189l-3 2M25 189l2 1M31 188l-2 1M43 185l2 0M52 189l1 3M57 185l2 1M65 185l-2 2M74 189l4 1M82 186l-2 0M93 189l-2 1M110 186l-2 0M118 185l-4 1M5 196l3 1M11 196l-2 3M20 196l1 2M30 194l-4 1M36 193l-2 2M47 192l-2 1M52 193l1 2M61 193l3 1M72 193l4 0M95 195l-3 1M7 200l3 0M13 201l-3 2M23 199l-2 1M41 203l-3 1M57 202l2 1M68 202l-4 1M75 202l-2 3M82 204l-0 3M103 203l3 2M119 201l-3 1M125 202l2 3M229 201l3 1M5 211l1 3M22 207l-4 0M28 210l1 2M55 209l2 2M62 212l-2 3M70 209l-3 1M82 212l-4 0M88 209l-3 2M97 209l4 1M105 209l-4 0M122 208l-0 3M10 214l-1 3M15 217l-2 2M25 218l-1 2M32 219l-2 1M40 216l2 2M52 216l0 4M58 214l-2 0M68 217l-0 2M77 217l-2 0M91 217l-2 1M14 223l-3 2M20 226l-0 2M39 222l1 4M46 222l2 2M54 223l1 3M78 224l0 2M90 226l-3 2M98 222l1 3M112 222l3 3M8 229l3 0M34 232l-2 3M40 233l3 2M49 234l-1 2M58 231l3 1M66 231l-3 0M75 230l2 2M83 229l-1 3M93 229l-1 2M99 229l1 3M118 232l-2 3M195 232l-2 0" stroke="#d6d6d6" stroke-width="1.6"/>
<path d="M33 26q-6-2-8 4q6 2 8-4M51 90q-4-3-6 1q4 3 6-1M76 185q-4 1-3 6q4-1 3-6M28 112q3 5 8 2q-3-5-8-2M253 18q-6 1-5 7q6-1 5-7M67 42q-3 5 3 7q3-5-3-7M164 31q-4-4-7 0q4 4 7 0M106 149q-4 2-3 6q4-2 3-6M38 203q-5-2-8 3q5 2 8-3M25 35q-4 3 0 7q4-3 0-7M127 26q-5-2-7 3q5 2 7-3M65 95q-5 1-3 6q5-1 3-6M11 46q1 6 7 5q-1-6-7-5M247 3q0 6 5 3q0-6-5-3M86 177q-1 6 5 6q1-6-5-6M108 72q-5-2-8 3q5 2 8-3M250 36q-6 0-7 5q6 0 7-5M62 201q-3 6 3 8q3-6-3-8M86 40q-2 4 2 7q2-4-2-7M99 87q-4-3-7 1q4 3 7-1M5 112q2 6 8 4q-2-6-8-4M164 26q-5 1-3 5q5-1 3-5M19 78q-6 1-5 7q6-1 5-7M86 45q-5 0-3 5q5 0 3-5M222 18q-3 5 2 7q3-5-2-7M29 85q-5-3-6 2q5 3 6-2M178 208q3 5 8 2q-3-5-8-2M51 153q-6 2-3 7q6-2 3-7M92 200q-2 5 3 7q2-5-3-7M60 76q1 5 6 5q-1-5-6-5M194 59q-6 0-7 5q6 0 7-5M90 32q-4 4 0 9q4-4 0-9M36 101q-4-3-8 1q4 3 8-1M49 58q-5-1-7 4q5 1 7-4M215 2q3 5 8 1q-3-5-8-1M197 13q-4 2-2 6q4-2 2-6M12 85q-1 5 4 7q1-5-4-7M46 7q3 5 7 1q-3-5-7-1M109 20q1 6 6 3q-1-6-6-3M78 26q0 6 5 3q0-6-5-3M75 20q-2 5 2 7q2-5-2-7M244 0q-5 0-4 5q5 0 4-5M22 209q3 4 7 1q-3-4-7-1M239 31q-4 2-1 6q4-2 1-6M75 118q-2 5 3 7q2-5-3-7M223 34q0 5 5 4q0-5-5-4M25 59q-4 4 1 6q4-4-1-6M77 94q-5-2-8 2q5 2 8-2M122-1q0 6 6 5q0-6-6-5M148 4q-5-2-5 3q5 2 5-3M55 196q-5-2-9 2q5 2 9-2M38 192q-4-3-6 2q4 3 6-2M85 31q3 4 6 1q-3-4-6-1M34 187q-4-3-7 2q4 3 7-2M37 9q-2 5 3 8q2-5-3-8M22 217q2 6 8 5q-2-6-8-5M61 98q0 5 5 5q0-5-5-5M233 36q-1 5 5 5q1-5-5-5M32 163q-3 4 1 7q3-4-1-7M61 86q-5 4-1 9q5-4 1-9M53 64q2 6 7 3q-2-6-7-3M91 15q-4 2-2 6q4-2 2-6M258 21q-6 1-5 7q6-1 5-7M7 103q-4-3-7 0q4 3 7 0M53 14q-5 3-2 8q5-3 2-8M7 71q-2 5 3 7q2-5-3-7M133 36q-3 5 3 7q3-5-3-7M139 26q-5-1-4 4q5 1 4-4M63 115q-5-1-6 4q5 1 6-4M42 216q-5 0-5 5q5 0 5-5M64 95q-5 0-4 5q5 0 4-5M64 111q-6-1-7 5q6 1 7-5M104 93q-6 0-4 5q6 0 4-5M62 38q-5 1-5 6q5-1 5-6M11 34q1 6 7 4q-1-6-7-4M66 29q-5-1-6 4q5 1 6-4M250 16q0 5 5 4q0-5-5-4M184 7q2 4 6 2q-2-4-6-2M16 43q-1 5 4 6q1-5-4-6M46 209q-5-3-8 3q5 3 8-3M180 10q2 5 7 4q-2-5-7-4M33 117q-5 2-3 7q5-2 3-7M11 215q-5-1-7 4q5 1 7-4M19 90q3 5 8 3q-3-5-8-3M240 26q3 4 8 2q-3-4-8-2M69 51q-5 2-4 7q5-2 4-7M197 24q-2 4 3 6q2-4-3-6M52 41q-4 5 1 9q4-5-1-9M15 98q-5 3-2 8q5-3 2-8M99 6q-3 4 2 6q3-4-2-6M63 91q-6 0-7 6q6 0 7-6M51 145q-4 3-1 7q4-3 1-7M93 56q-6 0-4 5q6 0 4-5M95 61q2 5 8 4q-2-5-8-4M19 135q1 5 6 4q-1-5-6-4M89 210q-6 1-4 6q6-1 4-6M4 73q3 5 8 2q-3-5-8-2M80 62q-3 5 2 6q3-5-2-6M275 11q-4-3-7 1q4 3 7-1M98 18q-4-2-6 3q4 2 6-3M65 179q-2 5 3 6q2-5-3-6M85 13q-3 3 0 7q3-3 0-7M115 15q2 5 7 2q-2-5-7-2M79 214q-5-3-7 2q5 3 7-2M222 5q-6 1-5 7q6-1 5-7M53 141q-5 0-5 5q5 0 5-5M51 18q-5 0-5 5q5 0 5-5M156 13q-5-3-8 1q5 3 8-1M146 39q-6 3-2 8q6-3 2-8M78 123q-2 6 4 7q2-6-4-7M93 32q3 5 7 1q-3-5-7-1M22 49q-5 0-4 5q5 0 4-5M141 13q-5 2-2 7q5-2 2-7M44 145q3 4 7 0q-3-4-7 0M78 155q-4 2-2 6q4-2 2-6M19 161q-1 6 5 7q1-6-5-7M9 128q-5-1-7 4q5 1 7-4M63 40q-1 6 5 6q1-6-5-6M160 54q5 3 7-2q-5-3-7 2M178 49q2 6 7 4q-2-6-7-4M181 48q3 6 9 4q-3-6-9-4M183 52q5 1 7-4q-5-1-7 4M143 61q6 3 10-3q-6-3-10 3M168 49q3 6 9 5q-3-6-9-5M145 58q3 6 8 3q-3-6-8-3M151 52q2 6 8 5q-2-6-8-5M142 53q6 3 10-2q-6-3-10 2M149 61q7 2 9-5q-7-2-9 5M176 49q4 4 9 2q-4-4-9-2M131 58q6 3 9-3q-6-3-9 3M187 54q7 0 8-7q-7 0-8 7M176 55q5-1 3-6q-5 1-3 6M187 52q5 1 7-4q-5-1-7 4M170 51q4 4 9 1q-4-4-9-1M123 62q6 0 4-6q-6 0-4 6M182 56q6 0 8-6q-6 0-8 6M243 69q6 2 8-4q-6-2-8 4M222 61q2 5 7 3q-2-5-7-3M224 60q2 5 7 3q-2-5-7-3M220 54q2 5 8 4q-2-5-8-4M235 58q-3 5 2 9q3-5-2-9M245 66q7 3 11-2q-7-3-11 2M265 78q3 5 9 3q-3-5-9-3M209 56q4 5 10 3q-4-5-10-3M249 66q3 4 7 1q-3-4-7-1M213 55q1 5 6 3q-1-5-6-3M271 74q0 6 6 6q0-6-6-6M200 50q4 3 8-1q-4-3-8 1M242 62q4 5 10 1q-4-5-10-1M223 55q-5 3-1 7q5-3 1-7M249 69q0 6 6 8q0-6-6-8M254 63q-4 6 2 10q4-6-2-10M250 65q-4 4-2 9q4-4 2-9M269 70q0 6 6 6q0-6-6-6M246 66q4 3 7 0q-4-3-7 0M216 58q5 2 8-3q-5-2-8 3M249 67q2 6 8 3q-2-6-8-3M240 64q2 6 8 4q-2-6-8-4M268 73q-1 6 5 7q1-6-5-7M237 70q4 4 8-1q-4-4-8 1M221 57q2 7 9 6q-2-7-9-6M128 91q6 2 10-2q-6-2-10 2M128 71q-2 7 4 10q2-7-4-10M117 64q-1 6 5 9q1-6-5-9M136 79q-5 5 0 11q5-5 0-11M120 68q3 5 9 4q-3-5-9-4M139 92q4 2 7-2q-4-2-7 2M132 79q3 6 10 4q-3-6-10-4M137 90q2 6 7 3q-2-6-7-3M127 71q-3 5 2 8q3-5-2-8M131 69q-4 5 0 10q4-5 0-10M144 93q-4 4 1 7q4-4-1-7M148 103q1 5 6 5q-1-5-6-5M131 70q-5 3-1 7q5-3 1-7M129 77q-2 6 4 8q2-6-4-8M135 76q-5 4-1 9q5-4 1-9M157 116q0 7 7 7q0-7-7-7M146 100q-2 6 4 10q2-6-4-10M160 110q-3 5 2 7q3-5-2-7M159 115q0 5 5 6q0-5-5-6M159 139q-5 4-1 9q5-4 1-9M160 129q-3 6 2 11q3-6-2-11M159 180q-6 2-5 9q6-2 5-9M148 195q3 5 9 2q-3-5-9-2M155 118q2 6 9 6q-2-6-9-6M151 191q-1 6 4 9q1-6-4-9M154 209q-6 3-5 10q6-3 5-10M161 142q-6 2-4 8q6-2 4-8M154 191q-4 6 2 9q4-6-2-9M160 141q-3 5 0 11q3-5 0-11M155 181q-5 2-3 7q5-2 3-7M155 188q-6 4-4 10q6-4 4-10M161 149q-3 5 2 9q3-5-2-9M153 181q-5 2-2 7q5-2 2-7M152 173q-5 4-1 10q5-4 1-10M152 194q-6 1-6 7q6-1 6-7M156 134q-2 6 3 10q2-6-3-10M155 203q-5 3-3 9q5-3 3-9M158 144q-4 4 0 8q4-4 0-8M154 142q-1 5 4 6q1-5-4-6M151 195q-2 5 3 8q2-5-3-8M152 167q1 5 7 5q-1-5-7-5M154 126q-3 5 2 7q3-5-2-7M153 213q-7 1-7 8q7-1 7-8M156 147q-5 1-4 6q5-1 4-6M157 121q-4 4 0 9q4-4 0-9M227 146q5 3 10-1q-5-3-10 1M161 122q2 4 7 2q-2-4-7-2M201 133q1 6 7 6q-1-6-7-6M218 143q5 4 8-1q-5-4-8 1M177 125q-4 5 1 9q4-5-1-9M202 133q-1 5 4 7q1-5-4-7M215 138q3 5 8 3q-3-5-8-3M157 122q7 1 9-6q-7-1-9 6M231 146q3 5 9 4q-3-5-9-4M216 144q-1 5 4 6q1-5-4-6M215 142q2 6 8 4q-2-6-8-4M219 143q1 6 7 5q-1-6-7-5M166 123q5 4 10 1q-5-4-10-1M207 133q-3 5 2 8q3-5-2-8M161 121q5 3 7-2q-5-3-7 2M212 139q2 6 9 6q-2-6-9-6M211 136q0 6 5 7q0-6-5-7M158 118q0 6 6 6q0-6-6-6M186 129q3 6 9 3q-3-6-9-3M229 151q7 1 9-5q-7-1-9 5M176 126q2 6 8 7q-2-6-8-7M231 152q3 5 8 1q-3-5-8-1M176 129q5 2 7-2q-5-2-7 2M167 119q3 5 7 1q-3-5-7-1M251 156q-1 5 4 6q1-5-4-6M240 149q3 6 9 4q-3-6-9-4M265 176q-5 2-4 8q5-2 4-8M259 174q-6 3-3 9q6-3 3-9M260 173q-2 5 4 7q2-5-4-7M249 154q-3 6 2 10q3-6-2-10M277 190q-4 4 1 8q4-4-1-8M265 184q-3 5 3 8q3-5-3-8M269 184q1 6 7 5q-1-6-7-5M248 173q4 2 7-2q-4-2-7 2M268 192q6 2 9-4q-6-2-9 4M263 176q-4 5-1 10q4-5 1-10M261 175q-2 6 2 11q2-6-2-11M242 151q3 4 8 2q-3-4-8-2M244 151q-1 6 5 7q1-6-5-7M245 157q-1 6 5 9q1-6-5-9M240 152q1 6 7 7q-1-6-7-7M241 149q-6-1-10 4q6 1 10-4M206 219q-6 0-6 5q6 0 6-5M227 173q-6 1-6 7q6-1 6-7M229 168q-5 3-3 9q5-3 3-9M233 157q-6 3-4 9q6-3 4-9M220 185q-5 0-5 5q5 0 5-5M207 213q-6-1-8 5q6 1 8-5M220 185q-4 5 0 10q4-5 0-10M211 207q-5 1-6 6q5-1 6-6M223 178q-5 1-6 6q5-1 6-6M209 209q-5 1-5 6q5-1 5-6M226 167q-3 5 2 9q3-5-2-9M235 161q-7 2-5 9q7-2 5-9M232 156q-4 4-1 9q4-4 1-9M231 172q-4 5-1 11q4-5 1-11M229 183q-5-3-9 1q5 3 9-1M209 207q-4 4-1 8q4-4 1-8M220 182q-6 1-4 7q6-1 4-7M220 197q-4-4-9-1q4 4 9 1M209 207q-6 3-3 9q6-3 3-9M234 162q-5 1-4 6q5-1 4-6M205 65q0 6 6 7q0-6-6-7M228 132q2 5 8 4q-2-5-8-4M210 64q-3 6 3 9q3-6-3-9M227 117q-5 4-1 9q5-4 1-9M202 63q1 6 7 4q-1-6-7-4M214 87q-5 2-2 7q5-2 2-7M213 71q-3 6 3 9q3-6-3-9M207 68q-2 6 3 10q2-6-3-10M212 87q2 6 8 4q-2-6-8-4M227 103q-4 4 0 8q4-4 0-8M205 72q-1 6 4 8q1-6-4-8M204 54q-4 5 2 9q4-5-2-9M220 93q-2 6 3 10q2-6-3-10M208 76q1 6 7 5q-1-6-7-5M211 76q-1 6 5 9q1-6-5-9M209 86q-2 6 4 6q2-6-4-6M209 73q-3 4 1 7q3-4-1-7M222 107q-1 6 5 7q1-6-5-7M237 142q-1 5 4 6q1-5-4-6M232 129q2 6 8 6q-2-6-8-6M231 117q-4 5 1 10q4-5-1-10M208 62q-2 6 3 10q2-6-3-10M231 130q1 5 7 5q-1-5-7-5M234 144q1 6 7 8q-1-6-7-8M225 108q-5 4-1 9q5-4 1-9M216 79q-5 2-3 7q5-2 3-7M225 98q-5 3-2 8q5-3 2-8" fill="#cacaca" stroke="#5a5a5a" stroke-width="0.7" stroke-linejoin="round"/>
<defs><path id="cd2r" d="M89 218h0M54 107h0M61 213h0M45 145h0M246 6h0M11 18h0M27 37h0M164 58h0M144 54h0M174 50h0M159 54h0M149 56h0M134 59h0M124 65h0M141 93h0M161 158h0M162 153h0M152 153h0M149 220h0M151 200h0M240 144h0M253 176h0M248 157h0M211 202h0M214 187h0M217 197h0M222 105h0M221 109h0M207 69h0M213 85h0M231 133h0M155 8h0M64 89h0M208 41h0M48 66h0M176 119h0M115 147h0M137 188h0M234 132h0M214 37h0M17 166h0M268 87h0M258 155h0M235 169h0M25 13h0M60 98h0M181 176h0M208 165h0M68 44h0M245 46h0"/></defs>
<use href="#cd2r" stroke="#2a2a2a" stroke-width="5.6"/>
<use href="#cd2r" stroke="#f8f8f8" stroke-width="3.4"/>
</g></g>
<text x="628.1" y="1251.5" font-size="20.5" text-anchor="end" fill="#ff0000" stroke="#ff0000" stroke-width="0.4">50 µm</text>
<path d="M601.8,1266.5h15.6M602.6,1264.5v4M616.6,1264.5v4" stroke="#ff0000" stroke-width="2"/>
<text x="785.0" y="1047.3" font-size="25.8" text-anchor="middle" stroke="#000" stroke-width="0.4">NC+siVEGFA</text>
<clipPath id="cd3"><rect x="645.1" y="1058.1" width="279.3" height="223.8"/></clipPath>
<g clip-path="url(#cd3)">
<rect x="645.1" y="1058.1" width="279.3" height="223.8" fill="#c8c8c8"/>
<g filter="url(#blur12)">
<ellipse cx="745" cy="1198" rx="70" ry="50" fill="#b6b6b6" opacity="0.4"/>
</g>
<g transform="translate(645.1,1058.1)" stroke-linecap="round" fill="none">
<path d="M193 85q-1 6 4 9q1-6-4-9M22 107q1 5 6 4q-1-5-6-4M230 69q-4 4-1 10q4-4 1-10M225 74q3 6 9 4q-3-6-9-4M224 75q3 5 8 3q-3-5-8-3M16 132q-7 0-9 6q7 0 9-6M21 100q-3 4 1 8q3-4-1-8M16 98q-4 3-1 8q4-3 1-8M45-1q-3 5 2 7q3-5-2-7M79 191q3 5 9 3q-3-5-9-3M149 182q3 6 10 4q-3-6-10-4M221 217q2 6 8 5q-2-6-8-5M17 154q-1 6 5 5q1-6-5-5M112 151q-3 5 1 9q3-5-1-9M235 48q-2 6 4 6q2-6-4-6M180 36q1 6 6 4q-1-6-6-4M36 160q0 6 6 8q0-6-6-8M44 171q-6 0-6 5q6 0 6-5M266 148q-5-3-8 2q5 3 8-2M121 179q-5 3-4 9q5-3 4-9M122 39q-4 4 1 7q4-4-1-7M123 50q-5-4-10 1q5 4 10-1M134 49q-6-1-7 5q6 1 7-5M262 93q-5-1-6 4q5 1 6-4M261 92q-6-1-9 5q6 1 9-5M200 91q-6 0-7 6q6 0 7-6M199 91q-5 1-5 7q5-1 5-7M262 130q4 5 9 1q-4-5-9-1M12 54q-6 3-5 9q6-3 5-9M43 179q-3 6 2 9q3-6-2-9M143 117q0 7 6 7q0-7-6-7M140 109q3 5 8 4q-3-5-8-4M53 111q3 5 8 2q-3-5-8-2M161 220q2 6 8 4q-2-6-8-4M264 66q-6-4-11 1q6 4 11-1M261 23q-3 5 0 10q3-5 0-10M80 161q-6-2-10 3q6 2 10-3M74 158q4 5 9 1q-4-5-9-1M18 36q1 6 8 7q-1-6-8-7M248 51q-5 4-1 8q5-4 1-8M60 48q-4-4-8 0q4 4 8 0M156 130q-6-3-9 3q6 3 9-3M37 145q-4-4-8 0q4 4 8 0M281 6q-6-1-9 5q6 1 9-5M203 201q-5 3-1 7q5-3 1-7M199 199q1 6 7 5q-1-6-7-5M203 205q-5-4-9 0q5 4 9 0M194 208q3 5 9 4q-3-5-9-4M28 37q3 4 7 2q-3-4-7-2M12 123q-5 4-2 10q5-4 2-10M27 136q-6-1-9 4q6 1 9-4M75 105q-4 3-1 8q4-3 1-8M268 117q-6 1-5 7q6-1 5-7M95 140q-5-2-8 2q5 2 8-2M22 177q4 6 10 2q-4-6-10-2M74 36q-2 6 4 9q2-6-4-9M16 194q-7 1-8 7q7-1 8-7M150 17q1 6 7 5q-1-6-7-5M85 193q-6 0-7 5q6 0 7-5M53 190q-2 6 3 9q2-6-3-9M50 192q3 6 9 6q-3-6-9-6M136 72q-5 4-2 10q5-4 2-10M133 78q-5 1-4 6q5-1 4-6M207 28q-2 5 3 8q2-5-3-8M219 29q-5-4-7 2q5 4 7-2M44 130q-5 5 0 10q5-5 0-10M192 144q-6 0-5 6q6 0 5-6M58 137q-5-2-7 3q5 2 7-3M58 136q-5 0-6 5q5 0 6-5M34 182q-4 5-1 10q4-5 1-10M228 54q-2 7 4 10q2-7-4-10M233 54q-6 2-3 8q6-2 3-8M87 215q4 4 10 2q-4-4-10-2M272 169q0 5 5 7q0-5-5-7M28 16q5 5 11 1q-5-5-11-1M230 21q-6-2-8 3q6 2 8-3M23 61q2 5 8 4q-2-5-8-4M84 96q-5-2-7 3q5 2 7-3M184 113q5 5 10 1q-5-5-10-1M64 190q-6-2-8 4q6 2 8-4M167 67q6-1 7-8q-6 1-7 8M168 65q6 1 9-4q-6-1-9 4M155 68q4 4 7-1q-4-4-7 1M158 79q4-4 1-8q-4 4-1 8M132 83q5 3 7-2q-5-3-7 2M151 73q5 3 8-2q-5-3-8 2M130 81q6 1 7-5q-6-1-7 5M176 61q6-1 6-7q-6 1-6 7M151 77q5-2 3-7q-5 2-3 7M156 72q7-2 6-9q-7 2-6 9M162 72q6 1 7-5q-6-1-7 5M149 77q6 0 7-6q-6 0-7 6M146 75q1 5 7 4q-1-5-7-4M147 70q6 4 10-2q-6-4-10 2M152 74q6 2 9-3q-6-2-9 3M154 74q6-1 7-7q-6 1-7 7M147 70q5 3 8-2q-5-3-8 2M186 136q2 6 7 3q-2-6-7-3M213 156q3 5 8 4q-3-5-8-4M186 134q2 6 9 6q-2-6-9-6M193 137q-2 5 2 8q2-5-2-8M206 154q1 6 7 5q-1-6-7-5M186 135q0 6 6 6q0-6-6-6M192 141q2 5 7 3q-2-5-7-3M221 167q4 5 10 3q-4-5-10-3M222 173q4 5 10 3q-4-5-10-3M225 170q2 4 7 2q-2-4-7-2M204 149q1 6 6 3q-1-6-6-3M205 155q3 6 9 3q-3-6-9-3M232 172q3 6 9 6q-3-6-9-6M184 142q6 1 8-4q-6-1-8 4M199 151q3 5 8 3q-3-5-8-3M187 135q2 6 8 4q-2-6-8-4M219 158q-3 5 2 9q3-5-2-9M231 169q0 6 6 8q0-6-6-8M223 164q-1 7 6 9q1-7-6-9M202 146q0 6 6 9q0-6-6-9M228 168q-3 5 2 7q3-5-2-7M186 132q-3 5 2 8q3-5-2-8M201 148q2 6 8 3q-2-6-8-3M196 146q-1 5 4 7q1-5-4-7M202 144q-1 6 5 8q1-6-5-8M261 26q0 7 7 7q0-7-7-7M272 49q4 4 7-1q-4-4-7 1M265 33q0 7 7 7q0-7-7-7M255 24q1 6 7 7q-1-6-7-7M250 12q2 5 8 5q-2-5-8-5M266 35q1 5 7 4q-1-5-7-4M247 9q-2 6 3 10q2-6-3-10M253 21q3 5 8 3q-3-5-8-3M250 17q1 6 7 5q-1-6-7-5M258 15q-3 4 1 8q3-4-1-8M257 27q1 6 8 7q-1-6-8-7M256 20q-2 5 3 8q2-5-3-8M261 29q0 6 6 9q0-6-6-9M256 14q-2 6 4 7q2-6-4-7M270 44q0 6 5 8q0-6-5-8M268 32q0 5 6 5q0-5-6-5M274 43q-4 4 0 8q4-4 0-8" fill="#dedede" stroke="#505050" stroke-width="0.65" stroke-linejoin="round"/>
<defs><path id="cd3r" d="M258 212h0M86 85h0M87 89h0M85 85h0M198 94h0M205 97h0M193 92h0M24 106h0M19 108h0M27 107h0M9 141h0M16 141h0M13 141h0M156 187h0M23 157h0M29 156h0M22 157h0M115 152h0M112 162h0M115 154h0M74 191h0M72 191h0M66 194h0M238 55h0M239 52h0M242 61h0M45 166h0M43 164h0M273 147h0M106 173h0M98 47h0M97 48h0M119 184h0M120 184h0M121 181h0M123 49h0M197 96h0M9 53h0M11 57h0M15 61h0M238 18h0M238 17h0M236 25h0M61 109h0M54 111h0M166 217h0M259 59h0M260 56h0M120 107h0M186 84h0M246 211h0M259 74h0M258 32h0M258 37h0M56 41h0M18 29h0M11 32h0M28 150h0M24 153h0M276 7h0M203 204h0M74 183h0M72 180h0M24 40h0M13 127h0M11 128h0M230 106h0M68 136h0M260 117h0M174 70h0M173 69h0M89 141h0M93 142h0M94 142h0M27 180h0M72 37h0M65 38h0M13 200h0M13 203h0M17 197h0M151 17h0M153 12h0M154 18h0M82 195h0M156 44h0M89 155h0M91 157h0M196 168h0M136 184h0M135 179h0M57 192h0M48 191h0M134 79h0M207 32h0M41 133h0M41 130h0M186 81h0M115 198h0M231 170h0M52 131h0M37 181h0M30 181h0M29 185h0M34 114h0M34 118h0M73 110h0M234 52h0M232 65h0M150 103h0M145 98h0M99 220h0M96 213h0M194 103h0M271 180h0M201 128h0M199 130h0M36 17h0M35 19h0M229 184h0M233 190h0M219 26h0M131 131h0M130 134h0M134 130h0M130 136h0M88 204h0M88 200h0M86 209h0M92 206h0M79 195h0M205 120h0M153 41h0M112 40h0M241 201h0M238 3h0M218 59h0M182 46h0M152 78h0M133 107h0M238 76h0M173 169h0M102 160h0M151 43h0M57 22h0M227 120h0M31 164h0M240 19h0M108 86h0M41 84h0M120 152h0M128 14h0M123 208h0M253 68h0M200 26h0M214 131h0M169 153h0M227 137h0M68 159h0M236 28h0M167 136h0M217 49h0M217 24h0M107 182h0M234 145h0M9 38h0M138 106h0M81 108h0M93 33h0M151 72h0M156 72h0M178 63h0M175 61h0M211 151h0M186 135h0M215 160h0M231 176h0M201 145h0M236 173h0M262 23h0M258 25h0"/></defs>
<use href="#cd3r" stroke="#2a2a2a" stroke-width="5.6"/>
<use href="#cd3r" stroke="#f8f8f8" stroke-width="3.4"/>
</g></g>
<text x="913.9" y="1251.5" font-size="20.5" text-anchor="end" fill="#ff0000" stroke="#ff0000" stroke-width="0.4">50 µm</text>
<path d="M887.6,1266.5h15.6M888.4,1264.5v4M902.4,1264.5v4" stroke="#ff0000" stroke-width="2"/>
<text x="1070.8" y="1047.3" font-size="25.8" text-anchor="middle" stroke="#000" stroke-width="0.4">STAT4+siVEGFA</text>
<clipPath id="cd4"><rect x="931.2" y="1058.1" width="279.3" height="223.8"/></clipPath>
<g clip-path="url(#cd4)">
<rect x="931.2" y="1058.1" width="279.3" height="223.8" fill="#b3b3b3"/>
<g filter="url(#blur12)">
<ellipse cx="1151" cy="1158" rx="70" ry="80" fill="#a0a0a0" opacity="0.35"/>
<ellipse cx="991" cy="1258" rx="60" ry="40" fill="#b8b8b8" opacity="0.3"/>
</g>
<g transform="translate(931.2,1058.1)" stroke-linecap="round" fill="none">
<path d="M168 82q2 5 7 3q-2-5-7-3M140 57q3 6 9 4q-3-6-9-4M164 69q0 6 6 5q0-6-6-5M143 53q0 5 5 6q0-5-5-6M165 72q-5 4 0 8q5-4 0-8M164 83q6 3 10-2q-6-3-10 2M170 83q1 5 6 4q-1-5-6-4M164 68q0 6 6 6q0-6-6-6M149 61q3 5 9 4q-3-5-9-4M159 69q1 6 7 6q-1-6-7-6M175 89q1 6 7 5q-1-6-7-5M163 69q-7 1-6 8q7-1 6-8M159 77q3 5 8 2q-3-5-8-2M152 63q-3 5 1 10q3-5-1-10M149 61q2 6 8 5q-2-6-8-5M150 60q1 6 7 7q-1-6-7-7M142 49q-4 5 0 10q4-5 0-10M176 91q2 6 7 3q-2-6-7-3M138 57q4 5 7 0q-4-5-7 0M170 86q2 6 8 6q-2-6-8-6M171 74q-4 5-1 10q4-5 1-10M149 58q-5 4 0 8q5-4 0-8M187 100q6 3 10-2q-6-3-10 2M205 93q5 4 8-2q-5-4-8 2M195 96q6 0 8-6q-6 0-8 6M183 98q4 4 8 1q-4-4-8-1M188 91q5 3 8-2q-5-3-8 2M204 88q4 5 9 1q-4-5-9-1M203 90q6 4 11-1q-6-4-11 1M192 97q5 1 8-4q-5-1-8 4M183 90q6 3 8-3q-6-3-8 3M201 91q6 2 9-4q-6-2-9 4M214 88q6 3 10-2q-6-3-10 2M231 83q6 1 7-5q-6-1-7 5M212 91q6 0 9-6q-6 0-9 6M225 87q6 2 10-4q-6-2-10 4M245 79q5-2 2-7q-5 2-2 7M210 90q7 1 8-6q-7-1-8 6M214 88q4 4 8 1q-4-4-8-1M222 88q5 4 9-1q-5-4-9 1M232 78q3 5 9 4q-3-5-9-4M218 88q6-1 5-7q-6 1-5 7M238 85q5-2 4-8q-5 2-4 8M224 90q5-1 4-6q-5 1-4 6M232 80q5 4 8-2q-5-4-8 2M233 87q6 2 7-4q-6-2-7 4M221 81q6 2 9-4q-6-2-9 4M217 89q6 0 8-6q-6 0-8 6M207 93q5 1 7-4q-5-1-7 4M217 90q5 4 10 1q-5-4-10-1M219 88q5 5 11 2q-5-5-11-2M195 125q-5 3-2 9q5-3 2-9M187 107q0 6 5 7q0-6-5-7M191 100q-5 0-4 6q5 0 4-6M191 99q-7 1-7 8q7-1 7-8M187 106q0 6 6 5q0-6-6-5M193 122q-2 6 4 8q2-6-4-8M194 129q0 6 6 5q0-6-6-5M198 127q0 7 7 7q0-7-7-7M186 113q0 5 5 7q0-5-5-7M195 141q-2 5 3 7q2-5-3-7M199 146q-2 5 3 6q2-5-3-6M201 139q-4 4 0 8q4-4 0-8M199 142q-3 5 2 8q3-5-2-8M197 143q-4 5-1 10q4-5 1-10M178 92q-2 6 4 10q2-6-4-10M187 100q-5 4-2 9q5-4 2-9M188 92q-4 6 1 10q4-6-1-10M187 98q-2 5 3 8q2-5-3-8M198 137q-4 5 1 8q4-5-1-8M186 96q-3 5 1 10q3-5-1-10M190 124q-2 7 5 9q2-7-5-9M232 190q2 5 7 4q-2-5-7-4M225 179q-2 5 3 7q2-5-3-7M236 194q-1 6 5 7q1-6-5-7M205 162q5 5 11 1q-5-5-11-1M229 185q3 5 9 5q-3-5-9-5M196 147q2 6 8 7q-2-6-8-7M231 190q-2 5 3 7q2-5-3-7M221 177q-3 6 3 7q3-6-3-7M219 165q-3 5 2 8q3-5-2-8M225 195q3 5 9 4q-3-5-9-4M216 175q1 6 7 4q-1-6-7-4M223 179q-2 6 4 9q2-6-4-9M221 180q0 6 6 7q0-6-6-7M210 163q-1 6 5 8q1-6-5-8M202 151q0 6 6 4q0-6-6-4M233 196q-2 6 3 10q2-6-3-10M224 185q-1 7 6 7q1-7-6-7M207 160q3 5 9 3q-3-5-9-3M205 155q-1 6 5 6q1-6-5-6M253 125q2 6 8 5q-2-6-8-5M266 147q2 6 8 5q-2-6-8-5M213 93q-1 6 4 10q1-6-4-10M217 93q-2 5 2 8q2-5-2-8M272 139q-1 6 4 9q1-6-4-9M215 97q3 5 8 2q-3-5-8-2M265 146q4 3 7-1q-4-3-7 1M267 139q0 7 6 9q0-7-6-9M235 106q-2 5 2 7q2-5-2-7M274 142q-5 5-1 10q5-5 1-10M260 133q1 7 8 6q-1-7-8-6M213 98q5 4 9-1q-5-4-9 1M253 129q-2 6 3 9q2-6-3-9M268 135q1 5 6 5q-1-5-6-5M217 101q3 6 9 3q-3-6-9-3M257 130q4 6 10 5q-4-6-10-5M211 86q-2 5 3 8q2-5-3-8M236 114q-1 7 5 9q1-7-5-9M221 97q0 5 5 5q0-5-5-5M260 129q-4 4 1 8q4-4-1-8M242 116q-2 5 4 7q2-5-4-7M231 111q1 5 6 4q-1-5-6-4M263 139q3 5 8 2q-3-5-8-2M263 145q6 2 9-4q-6-2-9 4M262 127q-4 3-1 7q4-3 1-7M268 135q-1 7 6 7q1-7-6-7M210 90q0 6 5 7q0-6-5-7M255 133q3 6 9 2q-3-6-9-2M260 131q-3 6 3 10q3-6-3-10M235 119q2 6 8 4q-2-6-8-4M216 99q3 5 8 3q-3-5-8-3M230 100q-5 4 0 8q5-4 0-8M260 136q0 5 5 7q0-5-5-7M245 124q5 3 9-1q-5-3-9 1M79 126q6-1 5-7q-6 1-5 7M85 118q6 1 9-4q-6-1-9 4M106 113q5-4 4-10q-5 4-4 10M73 122q6 0 6-6q-6 0-6 6M106 113q5 3 7-3q-5-3-7 3M63 133q6-1 7-7q-6 1-7 7M79 127q5 2 6-4q-5-2-6 4M86 125q5-5 1-11q-5 5-1 11M97 123q5-4 1-8q-5 4-1 8M62 130q5 0 5-5q-5 0-5 5M91 122q6-2 4-8q-6 2-4 8M71 125q5 2 8-3q-5-2-8 3M95 117q5 0 5-5q-5 0-5 5M103 117q6 0 4-6q-6 0-4 6M68 131q5 2 6-3q-5-2-6 3M74 125q7 1 9-6q-7-1-9 6M83 127q6-2 6-8q-6 2-6 8M66 133q6 1 6-5q-6-1-6 5M65 162q0 6 5 9q0-6-5-9M60 137q-2 7 5 9q2-7-5-9M61 150q-2 6 4 9q2-6-4-9M63 182q-6 2-4 8q6-2 4-8M68 141q-5 0-5 5q5 0 5-5M66 161q-1 7 5 9q1-7-5-9M61 135q-6 3-3 9q6-3 3-9M70 127q-5 3-3 9q5-3 3-9M61 186q-3 4 1 8q3-4-1-8M61 191q-6 2-5 8q6-2 5-8M63 154q-3 5 2 9q3-5-2-9M62 132q0 6 6 9q0-6-6-9M64 194q-6 2-5 8q6-2 5-8M67 146q-5 1-6 7q5-1 6-7M59 192q-3 4 1 7q3-4-1-7M67 128q-6 1-6 7q6-1 6-7M61 185q-5 2-5 7q5-2 5-7M64 135q-2 6 4 7q2-6-4-7M71 136q-7 0-8 7q7 0 8-7M64 164q-6 4-5 10q6-4 5-10M67 129q-5 3-2 8q5-3 2-8M59 191q-1 7 6 9q1-7-6-9M67 140q-6 1-5 6q6-1 5-6M62 179q-3 4 1 7q3-4-1-7M62 148q-2 6 3 8q2-6-3-8M65 127q-4 3-1 7q4-3 1-7M64 156q-3 4 1 7q3-4-1-7M64 165q-6 0-5 6q6 0 5-6M119 156q1 6 7 3q-1-6-7-3M113 119q-4 4-1 9q4-4 1-9M110 113q-4 3-1 7q4-3 1-7M117 137q1 6 7 7q-1-6-7-7M110 117q-2 6 4 9q2-6-4-9M118 137q-6 3-3 8q6-3 3-8M116 153q5 3 9-1q-5-3-9 1M111 108q-4 5-1 11q4-5 1-11M116 108q-6 0-7 6q6 0 7-6M115 133q-6 2-6 8q6-2 6-8M111 120q-3 6 3 8q3-6-3-8M109 107q-3 5 2 9q3-5-2-9M112 134q-3 6 1 11q3-6-1-11M116 154q-3 6 3 9q3-6-3-9M111 125q-5 2-3 8q5-2 3-8M119 152q-5 4-2 10q5-4 2-10M113 119q-5 4-2 9q5-4 2-9M115 132q-2 7 4 10q2-7-4-10M116 146q-4 3-1 7q4-3 1-7M114 140q-4 3-1 7q4-3 1-7M121 136q-5 4-2 10q5-4 2-10M113 142q4 4 8 1q-4-4-8-1M111 124q-1 6 4 9q1-6-4-9M117 142q-6 3-4 10q6-3 4-10M135 186q5 3 8-2q-5-3-8 2M147 187q3 5 8 3q-3-5-8-3M133 172q-3 5 0 10q3-5 0-10M149 183q1 6 7 4q-1-6-7-4M130 167q-2 6 3 10q2-6-3-10M121 171q0 5 5 5q0-5-5-5M134 180q3 5 9 3q-3-5-9-3M138 182q0 6 6 7q0-6-6-7M149 184q-2 6 4 8q2-6-4-8M145 184q-3 4 0 9q3-4 0-9M127 173q-2 6 2 10q2-6-2-10M127 169q1 5 6 6q-1-5-6-6M134 177q4 5 9 0q-4-5-9 0M147 187q3 5 8 2q-3-5-8-2M127 180q4 4 8 0q-4-4-8 0M141 187q1 6 7 5q-1-6-7-5M48 108q-2-6-8-3q2 6 8 3M33 98q1-6-5-9q-1 6 5 9M59 121q0-6-6-7q0 6 6 7M39 106q5-4 0-7q-5 4 0 7M42 100q-2-5-7-2q2 5 7 2M41 97q-1-5-6-6q1 5 6 6M53 116q-1-6-7-5q1 6 7 5M59 120q-4-4-9-1q4 4 9 1M37 100q1-7-6-9q-1 7 6 9M65 128q-2-5-8-4q2 5 8 4M59 117q-3-5-9-4q3 5 9 4M44 102q-4-5-8 0q4 5 8 0M65 135q2-6-4-9q-2 6 4 9M52 118q2-6-4-9q-2 6 4 9M43 107q0-6-6-7q0 6 6 7M51 118q5-4 1-9q-5 4-1 9M52 118q-1-6-7-6q1 6 7 6M52 113q-1-6-6-6q1 6 6 6M48 108q-4-6-10-2q4 6 10 2M57 127q4-4-1-7q-4 4 1 7M39 101q0-6-6-8q0 6 6 8M22 71q-3-5-9-2q3 5 9 2M8 64q1-6-5-7q-1 6 5 7M18 85q-2-5-8-4q2 5 8 4M23 80q-2-5-7-2q2 5 7 2M20 77q-2-6-8-4q2 6 8 4M7 67q1-6-6-6q-1 6 6 6M8 67q0-6-6-5q0 6 6 5M16 79q2-5-3-7q-2 5 3 7M31 92q0-5-5-5q0 5 5 5M16 77q5-4 0-7q-5 4 0 7M11 69q-1-7-8-6q1 7 8 6M30 85q-1-6-7-4q1 6 7 4M19 75q-1-7-8-6q1 7 8 6M32 92q0-5-5-6q0 5 5 6M10 74q-1-7-8-6q1 7 8 6M271 57q4-5 1-10q-4 5-1 10M261 64q4-4 1-9q-4 4-1 9M262 59q5-2 4-7q-5 2-4 7M271 44q7 0 7-7q-7 0-7 7M261 64q4-4 0-9q-4 4 0 9M272 47q6 1 6-5q-6-1-6 5M250 74q6 0 7-6q-6 0-7 6M261 57q6-2 4-8q-6 2-4 8M261 68q3-5-2-7q-3 5 2 7M273 54q2-6-4-9q-2 6 4 9M253 66q4 3 7-1q-4-3-7 1M275 50q5-3 1-8q-5 3-1 8M255 60q6-1 4-7q-6 1-4 7M259 70q5-3 2-8q-5 3-2 8M268 64q2-5-3-6q-2 5 3 6M265 55q6 1 8-4q-6-1-8 4M261 63q5 2 7-3q-5-2-7 3M269 62q4-4 1-8q-4 4-1 8M271 42q1 5 6 3q-1-5-6-3M252 72q5 3 6-3q-5-3-6 3M13 11q0 7 7 7q0-7-7-7M12 16q4 5 10 3q-4-5-10-3M106 11q-6 2-6 8q6-2 6-8M103 18q-5 3-3 9q5-3 3-9M108 20q-5 0-6 5q5 0 6-5M107 27q0 7 6 9q0-7-6-9M211 11q1 5 7 5q-1-5-7-5M211 13q0 6 6 6q0-6-6-6M209 5q-6 2-3 7q6-2 3-7M228 9q-6 1-6 8q6-1 6-8M255 16q-6-2-8 4q6 2 8-4M255 27q-3 5 2 7q3-5-2-7M256 27q-3 5 1 10q3-5-1-10M250 30q0 7 7 8q0-7-7-8M249 28q0 5 6 5q0-5-6-5M260 19q-1 6 4 7q1-6-4-7M25 73q2 5 8 4q-2-5-8-4M31 68q-4 6 0 11q4-6 0-11M35 73q-5 3-1 7q5-3 1-7M252 61q4 5 10 2q-4-5-10-2M255 55q-4 4-1 9q4-4 1-9M255 51q-3 5 2 8q3-5-2-8M272 52q-6 2-6 8q6-2 6-8M257 49q-2 6 2 11q2-6-2-11M64 126q-1 6 4 9q1-6-4-9M72 123q-6 0-7 6q6 0 7-6M62 122q-4 5 0 10q4-5 0-10M134 0q-7 0-9 6q7 0 9-6M7 31q-5-3-8 2q5 3 8-2M198 84q-1 6 5 5q1-6-5-5" fill="#dddddd" stroke="#505050" stroke-width="0.65" stroke-linejoin="round"/>
<defs><path id="cd4r" d="M157 76h0M145 55h0M164 72h0M177 86h0M147 64h0M194 98h0M195 128h0M197 129h0M196 127h0M186 99h0M239 196h0M235 191h0M227 185h0M221 183h0M203 160h0M225 183h0M221 173h0M205 159h0M205 159h0M240 118h0M253 127h0M252 117h0M276 149h0M265 143h0M213 102h0M70 124h0M74 124h0M105 115h0M86 121h0M63 179h0M61 161h0M66 176h0M113 129h0M121 166h0M45 107h0M50 117h0M27 86h0M24 90h0M6 67h0M15 19h0M12 23h0M19 21h0M17 19h0M15 17h0M94 14h0M108 23h0M215 13h0M222 12h0M219 15h0M225 15h0M249 17h0M252 30h0M254 32h0M18 67h0M18 65h0M20 58h0M269 56h0M273 58h0M268 63h0M64 125h0M61 123h0M72 123h0M70 129h0M61 126h0M67 127h0M207 118h0M215 115h0M250 194h0M120 4h0M127 75h0M201 120h0M209 88h0M210 21h0M37 108h0M267 172h0M260 46h0M94 109h0M134 36h0M92 98h0M250 47h0M214 169h0M192 47h0M27 164h0M230 73h0M174 49h0M70 89h0M256 134h0M58 195h0M132 46h0M167 217h0M64 165h0M160 22h0"/></defs>
<use href="#cd4r" stroke="#2a2a2a" stroke-width="5.6"/>
<use href="#cd4r" stroke="#f8f8f8" stroke-width="3.4"/>
</g></g>
<text x="1200.0" y="1251.5" font-size="20.5" text-anchor="end" fill="#ff0000" stroke="#ff0000" stroke-width="0.4">50 µm</text>
<path d="M1173.7,1266.5h15.6M1174.5,1264.5v4M1188.5,1264.5v4" stroke="#ff0000" stroke-width="2"/>
<text x="21.2" y="1177.5" font-size="25.7" text-anchor="middle" stroke="#000" stroke-width="0.4" transform="rotate(-90 21.2 1177.5)">NB4</text>
<text x="1238.5" y="1170.0" font-size="25" text-anchor="middle" stroke="#000" stroke-width="0.4" transform="rotate(-90 1238.5 1170.0)">x100</text>
<text x="213.4" y="1522.0" font-size="25.8" text-anchor="middle" stroke="#000" stroke-width="0.4">NC+Vector</text>
<path transform="translate(107.3,1786.3)" d="M174-187h2m-23 2h2m13 0h2m-109 3h2m84 0h2m-75 1h2m49 1h2m27 0h2m0 1h2m11 0h2m-79 1h2m80 0h2m-20 1h2m0 0h2m0 0h2m0 0h2m2 0h2m-1 0h2m-25 1h2m12 0h2m11 0h2m0 0h2m1 0h2m-114 1h2m38 0h2m33 0h2m-1 0h2m0 0h2m10 0h2m9 0h2m3 0h2m-38 1h2m16 0h2m15 0h2m-95 1h2m72 0h2m13 0h2m8 0h2m-73 1h2m28 0h2m7 0h2m0 0h2m1 0h2m23 0h2m-152 1h2m97 0h2m10 0h2m11 0h2m3 0h2m8 0h2m19 0h2m-57 1h2m12 0h2m0 0h2m-1 0h2m4 0h2m8 0h2m5 0h2m4 0h2m-37 1h2m5 0h2m-1 0h2m0 0h2m0 0h2m1 0h2m-34 1h2m7 0h2m-1 0h2m-1 0h2m-1 0h2m23 0h2m14 0h2m-124 1h2m51 0h2m21 0h2m3 0h2m3 0h2m6 0h2m2 0h2m1 0h2m7 0h2m2 0h2m8 0h2m3 0h2m-45 1h2m6 0h2m0 0h2m2 0h2m0 0h2m2 0h2m1 0h2m1 0h2m-93 1h2m36 0h2m50 0h2m-48 1h2m2 0h2m12 0h2m1 0h2m0 0h2m2 0h2m4 0h2m1 0h2m6 0h2m-37 1h2m1 0h2m5 0h2m0 0h2m-1 0h2m-1 0h2m4 0h2m8 0h2m3 0h2m10 0h2m-47 1h2m3 0h2m0 0h2m0 0h2m0 0h2m-1 0h2m-1 0h2m0 0h2m4 0h2m4 0h2m0 0h2m11 0h2m4 0h2m-1 0h2m-50 1h2m3 0h2m1 0h2m-1 0h2m4 0h2m1 0h2m-1 0h2m-1 0h2m4 0h2m-1 0h2m0 0h2m-39 1h2m3 0h2m1 0h2m8 0h2m2 0h2m1 0h2m3 0h2m2 0h2m0 0h2m7 0h2m-1 0h2m13 0h2m-104 1h2m46 0h2m-1 0h2m0 0h2m0 0h2m-1 0h2m11 0h2m-1 0h2m8 0h2m18 0h2m-125 1h2m40 0h2m18 0h2m5 0h2m0 0h2m3 0h2m0 0h2m7 0h2m-1 0h2m0 0h2m3 0h2m-1 0h2m1 0h2m-1 0h2m3 0h2m12 0h2m-84 1h2m19 0h2m8 0h2m2 0h2m1 0h2m-1 0h2m0 0h2m1 0h2m0 0h2m9 0h2m-1 0h2m0 0h2m2 0h2m19 0h2m-67 1h2m0 0h2m4 0h2m1 0h2m2 0h2m-1 0h2m3 0h2m-1 0h2m4 0h2m-1 0h2m1 0h2m-1 0h2m3 0h2m5 0h2m2 0h2m-1 0h2m2 0h2m-129 1h2m81 0h2m9 0h2m1 0h2m0 0h2m-1 0h2m-1 0h2m2 0h2m7 0h2m3 0h2m7 0h2m-37 1h2m1 0h2m-1 0h2m0 0h2m-1 0h2m-1 0h2m-1 0h2m12 0h2m-1 0h2m-130 1h2m81 0h2m18 0h2m1 0h2m2 0h2m2 0h2m13 0h2m4 0h2m-54 1h2m4 0h2m9 0h2m1 0h2m-1 0h2m4 0h2m6 0h2m0 0h2m9 0h2m8 0h2m-67 1h2m1 0h2m7 0h2m5 0h2m10 0h2m-1 0h2m2 0h2m1 0h2m-1 0h2m0 0h2m-28 1h2m3 0h2m4 0h2m10 0h2m-1 0h2m11 0h2m-28 1h2m0 0h2m11 0h2m17 0h2m-57 1h2m8 0h2m-1 0h2m3 0h2m1 0h2m-1 0h2m0 0h2m5 0h2m0 0h2m5 0h2m3 0h2m17 0h2m-131 1h2m3 0h2m9 0h2m9 0h2m37 0h2m17 0h2m9 0h2m-1 0h2m16 0h2m-55 1h2m17 0h2m5 0h2m-1 0h2m1 0h2m-111 1h2m80 0h2m-1 0h2m1 0h2m18 0h2m6 0h2m16 0h2m-53 1h2m6 0h2m9 0h2m14 0h2m5 0h2m0 0h2m14 0h2m-94 1h2m48 0h2m-1 0h2m0 0h2m-6 1h2m14 0h2m-107 1h2m2 0h2m66 0h2m19 0h2m-1 0h2m14 0h2m-44 1h2m5 0h2m11 0h2m2 0h2m5 0h2m14 0h2m2 0h2m-39 1h2m3 0h2m9 0h2m30 0h2m-55 1h2m14 0h2m1 0h2m18 0h2m-26 1h2m10 0h2m1 0h2m-104 1h2m54 0h2m14 0h2m22 0h2m-1 0h2m2 0h2m-36 1h2m33 0h2m9 0h2m34 0h2m-78 1h2m1 0h2m10 0h2m9 0h2m1 0h2m46 0h2m-157 1h2m92 0h2m1 0h2m4 0h2m18 0h2m-115 1h2m54 0h2m10 0h2m16 0h2m8 0h2m-1 0h2m-46 1h2m12 0h2m-23 1h2m29 0h2m15 0h2m-48 1h2m-1 0h2m14 0h2m5 0h2m37 0h2m-25 1h2m-42 1h2m52 0h2m-32 1h2m27 0h2m21 0h2m-42 1h2m-46 1h2m15 0h2m37 0h2m3 0h2m-79 1h2m38 0h2m23 0h2m-110 1h2m94 0h2m21 0h2m8 0h2m-113 1h2m44 0h2m1 0h2m38 0h2m37 0h2m-59 1h2m18 0h2m7 0h2m-121 1h2m74 0h2m5 0h2m8 0h2m15 0h2m-77 1h2m59 0h2m19 0h2m19 0h2m-56 1h2m13 0h2m-109 1h2m56 0h2m71 0h2m4 0h2m10 0h2m-62 1h2m35 0h2m-49 1h2m45 0h2m91 1h2m-158 1h2m68 0h2m3 0h2m-78 1h2m49 0h2m-75 2h2m24 0h2m4 1h2m10 0h2m38 0h2m7 0h2m-1 0h2m-77 1h2m43 0h2m37 0h2m-64 1h2m1 0h2m1 0h2m-56 2h2m59 0h2m17 0h2m-93 1h2m21 1h2m67 1h2m-23 1h2m30 0h2m18 0h2m-44 1h2m19 0h2m-60 1h2m39 0h2m45 0h2m9 0h2m-120 1h2m32 0h2m17 0h2m-11 1h2m11 0h2m-49 1h2m-16 1h2m50 0h2m-22 1h2m36 0h2m-86 1h2m56 0h2m9 0h2m17 0h2m50 0h2m-137 1h2m58 0h2m16 0h2m-46 1h2m45 0h2m35 0h2m-94 1h2m2 0h2m0 0h2m2 0h2m30 0h2m-38 1h2m12 0h2m6 0h2m-38 1h2m22 0h2m-1 0h2m2 0h2m-36 1h2m2 0h2m3 0h2m9 0h2m19 0h2m-52 1h2m11 0h2m6 0h2m-1 0h2m11 0h2m4 0h2m8 0h2m-51 1h2m2 0h2m3 0h2m11 0h2m15 0h2m2 0h2m67 0h2m-114 1h2m3 0h2m-1 0h2m-1 0h2m13 0h2m-1 0h2m3 0h2m27 0h2m2 0h2m-79 1h2m6 0h2m2 0h2m7 0h2m2 0h2m0 0h2m23 0h2m-45 1h2m-1 0h2m31 0h2m2 0h2m1 0h2m13 0h2m-65 1h2m6 0h2m7 0h2m6 0h2m-1 0h2m4 0h2m1 0h2m17 0h2m-38 1h2m0 0h2m2 0h2m0 0h2m8 0h2m4 0h2m12 0h2m-53 1h2m13 0h2m-1 0h2m0 0h2m0 0h2m11 0h2m5 0h2m3 0h2m-42 1h2m0 0h2m1 0h2m-1 0h2m4 0h2m0 0h2m-1 0h2m-1 0h2m-1 0h2m2 0h2m0 0h2m3 0h2m-1 0h2m9 0h2m46 0h2m13 0h2m-124 1h2m-1 0h2m-1 0h2m3 0h2m7 0h2m6 0h2m7 0h2m2 0h2m1 0h2m2 0h2m4 0h2m0 0h2m0 0h2m7 0h2m2 0h2m11 0h2m31 0h2m-107 1h2m6 0h2m-1 0h2m0 0h2m6 0h2m7 0h2m3 0h2m-1 0h2m1 0h2m10 0h2m2 0h2m4 0h2m15 0h2m1 0h2m-1 0h2m45 0h2m-137 1h2m3 0h2m4 0h2m-1 0h2m1 0h2m7 0h2m-1 0h2m5 0h2m-1 0h2m-1 0h2m2 0h2m0 0h2m-1 0h2m-1 0h2m0 0h2m6 0h2m0 0h2m0 0h2m5 0h2m-1 0h2m22 0h2m-87 1h2m9 0h2m6 0h2m0 0h2m3 0h2m1 0h2m2 0h2m1 0h2m12 0h2m-50 1h2m1 0h2m0 0h2m-1 0h2m4 0h2m-1 0h2m-1 0h2m-1 0h2m-1 0h2m0 0h2m1 0h2m-1 0h2m4 0h2m5 0h2m0 0h2m1 0h2m2 0h2m3 0h2m-1 0h2m0 0h2m35 0h2m23 0h2m-123 1h2m1 0h2m0 0h2m1 0h2m-1 0h2m-1 0h2m-1 0h2m6 0h2m1 0h2m7 0h2m-1 0h2m0 0h2m-1 0h2m1 0h2m0 0h2m0 0h2m-1 0h2m0 0h2m0 0h2m2 0h2m68 0h2m-116 1h2m-1 0h2m4 0h2m3 0h2m2 0h2m-1 0h2m-1 0h2m3 0h2m-1 0h2m-1 0h2m-1 0h2m0 0h2m0 0h2m0 0h2m0 0h2m3 0h2m2 0h2m2 0h2m9 0h2m-1 0h2m10 0h2m76 0h2m-158 1h2m5 0h2m2 0h2m0 0h2m3 0h2m-1 0h2m2 0h2m3 0h2m0 0h2m0 0h2m-1 0h2m0 0h2m0 0h2m-1 0h2m3 0h2m1 0h2m0 0h2m1 0h2m3 0h2m7 0h2m5 0h2m62 0h2m1 0h2m-136 1h2m-1 0h2m2 0h2m1 0h2m0 0h2m-1 0h2m2 0h2m-1 0h2m-1 0h2m-1 0h2m-1 0h2m-1 0h2m-1 0h2m1 0h2m0 0h2m1 0h2m-1 0h2m0 0h2m-1 0h2m2 0h2m-1 0h2m-1 0h2m7 0h2m0 0h2m1 0h2m0 0h2m-1 0h2m0 0h2m2 0h2m15 0h2m-105 1h2m30 0h2m1 0h2m-1 0h2m1 0h2m-1 0h2m0 0h2m-1 0h2m1 0h2m0 0h2m-1 0h2m-1 0h2m-1 0h2m-1 0h2m-1 0h2m1 0h2m0 0h2m-1 0h2m-1 0h2m-1 0h2m0 0h2m-1 0h2m-1 0h2m-1 0h2m-1 0h2m0 0h2m8 0h2m3 0h2m3 0h2m11 0h2m-111 1h2m13 0h2m11 0h2m3 0h2m1 0h2m2 0h2m1 0h2m-1 0h2m-1 0h2m0 0h2m0 0h2m1 0h2m0 0h2m0 0h2m2 0h2m-1 0h2m0 0h2m-1 0h2m1 0h2m-1 0h2m-1 0h2m-1 0h2m0 0h2m1 0h2m-1 0h2m11 0h2m-1 0h2m13 0h2m72 0h2m-153 1h2m-1 0h2m3 0h2m0 0h2m-1 0h2m2 0h2m0 0h2m-1 0h2m-1 0h2m-1 0h2m-1 0h2m-1 0h2m1 0h2m0 0h2m-1 0h2m1 0h2m-1 0h2m0 0h2m2 0h2m0 0h2m1 0h2m-1 0h2m0 0h2m-1 0h2m-1 0h2m4 0h2m-1 0h2m0 0h2m3 0h2m0 0h2m-1 0h2m59 0h2m-141 1h2m16 0h2m-1 0h2m-1 0h2m-1 0h2m1 0h2m1 0h2m-1 0h2m-1 0h2m-1 0h2m0 0h2m-1 0h2m0 0h2m-1 0h2m-1 0h2m-1 0h2m-1 0h2m0 0h2m3 0h2m-1 0h2m-1 0h2m-1 0h2m-1 0h2m0 0h2m-1 0h2m1 0h2m-1 0h2m-1 0h2m-1 0h2m-1 0h2m-1 0h2m-1 0h2m0 0h2m0 0h2m-1 0h2m0 0h2m-1 0h2m0 0h2m-1 0h2m4 0h2m-75 1h2m0 0h2m1 0h2m-1 0h2m-1 0h2m3 0h2m0 0h2m0 0h2m0 0h2m0 0h2m0 0h2m0 0h2m1 0h2m-1 0h2m-1 0h2m0 0h2m-1 0h2m0 0h2m0 0h2m-1 0h2m0 0h2m-1 0h2m0 0h2m-1 0h2m0 0h2m-1 0h2m0 0h2m-1 0h2m-1 0h2m0 0h2m-1 0h2m0 0h2m1 0h2m0 0h2m10 0h2m-1 0h2m-70 1h2m0 0h2m0 0h2m-1 0h2m1 0h2m0 0h2m0 0h2m-1 0h2m0 0h2m-1 0h2m-1 0h2m0 0h2m-1 0h2m0 0h2m-1 0h2m-1 0h2m-1 0h2m1 0h2m-1 0h2m-1 0h2m-1 0h2m0 0h2m-1 0h2m2 0h2m-1 0h2m-1 0h2m0 0h2m-1 0h2m0 0h2m-1 0h2m3 0h2m-1 0h2m0 0h2m0 0h2m-1 0h2m-1 0h2m-1 0h2m-85 1h2m27 0h2m-1 0h2m2 0h2m0 0h2m-1 0h2m-1 0h2m2 0h2m-1 0h2m-1 0h2m0 0h2m-1 0h2m1 0h2m-1 0h2m-1 0h2m-1 0h2m-1 0h2m1 0h2m-1 0h2m0 0h2m-1 0h2m-1 0h2m0 0h2m3 0h2m2 0h2m-1 0h2m-1 0h2m0 0h2m-1 0h2m-1 0h2m1 0h2m6 0h2m-69 1h2m-1 0h2m6 0h2m2 0h2m0 0h2m0 0h2m-1 0h2m2 0h2m0 0h2m-1 0h2m-1 0h2m1 0h2m-1 0h2m-1 0h2m-1 0h2m1 0h2m-1 0h2m-1 0h2m-1 0h2m-1 0h2m-1 0h2m-1 0h2m0 0h2m-1 0h2m-1 0h2m-1 0h2m1 0h2m0 0h2m-1 0h2m-1 0h2m0 0h2m1 0h2m1 0h2m1 0h2m-1 0h2m12 0h2m-88 1h2m-1 0h2m5 0h2m2 0h2m-1 0h2m5 0h2m0 0h2m-1 0h2m-1 0h2m-1 0h2m-1 0h2m0 0h2m-1 0h2m-1 0h2m0 0h2m-1 0h2m0 0h2m-1 0h2m-1 0h2m-1 0h2m0 0h2m-1 0h2m0 0h2m-1 0h2m1 0h2m-1 0h2m-1 0h2m-1 0h2m-1 0h2m1 0h2m-1 0h2m-1 0h2m-1 0h2m-1 0h2m0 0h2m0 0h2m-1 0h2m-1 0h2m-1 0h2m2 0h2m2 0h2m-1 0h2m3 0h2m84 0h2m-188 1h2m24 0h2m0 0h2m0 0h2m-1 0h2m-1 0h2m1 0h2m-1 0h2m0 0h2m0 0h2m-1 0h2m-1 0h2m-1 0h2m-1 0h2m0 0h2m1 0h2m-1 0h2m-1 0h2m-1 0h2m1 0h2m0 0h2m-1 0h2m-1 0h2m-1 0h2m-1 0h2m0 0h2m-1 0h2m-1 0h2m-1 0h2m0 0h2m-1 0h2m-1 0h2m-1 0h2m-1 0h2m-1 0h2m-1 0h2m-1 0h2m-1 0h2m0 0h2m-1 0h2m0 0h2m-1 0h2m1 0h2m-1 0h2m1 0h2m-1 0h2m-1 0h2m1 0h2m0 0h2m-1 0h2m1 0h2m86 0h2m-176 1h2m6 0h2m5 0h2m0 0h2m-1 0h2m-1 0h2m2 0h2m0 0h2m0 0h2m-1 0h2m0 0h2m-1 0h2m-1 0h2m-1 0h2m-1 0h2m-1 0h2m-1 0h2m-1 0h2m0 0h2m-1 0h2m-1 0h2m-1 0h2m-1 0h2m0 0h2m-1 0h2m0 0h2m-1 0h2m-1 0h2m-1 0h2m-1 0h2m-1 0h2m1 0h2m-1 0h2m-1 0h2m-1 0h2m-1 0h2m-1 0h2m0 0h2m0 0h2m-1 0h2m-1 0h2m0 0h2m2 0h2m0 0h2m4 0h2m-1 0h2m-80 1h2m3 0h2m0 0h2m-1 0h2m0 0h2m2 0h2m-1 0h2m1 0h2m1 0h2m-1 0h2m0 0h2m-1 0h2m0 0h2m-1 0h2m0 0h2m0 0h2m-1 0h2m-1 0h2m-1 0h2m-1 0h2m0 0h2m-1 0h2m-1 0h2m-1 0h2m-1 0h2m-1 0h2m0 0h2m-1 0h2m-1 0h2m-1 0h2m1 0h2m-1 0h2m-1 0h2m-1 0h2m-1 0h2m1 0h2m-1 0h2m-1 0h2m-1 0h2m1 0h2m-1 0h2m1 0h2m0 0h2m1 0h2m4 0h2m87 0h2m-169 1h2m4 0h2m1 0h2m1 0h2m-1 0h2m0 0h2m2 0h2m-1 0h2m-1 0h2m2 0h2m-1 0h2m-1 0h2m-1 0h2m-1 0h2m0 0h2m-1 0h2m-1 0h2m-1 0h2m-1 0h2m-1 0h2m0 0h2m-1 0h2m-1 0h2m-1 0h2m1 0h2m-1 0h2m0 0h2m-1 0h2m0 0h2m-1 0h2m-1 0h2m-1 0h2m-1 0h2m-1 0h2m-1 0h2m0 0h2m0 0h2m-1 0h2m0 0h2m-1 0h2m-1 0h2m0 0h2m12 0h2m-84 1h2m1 0h2m-1 0h2m-1 0h2m1 0h2m2 0h2m2 0h2m-1 0h2m-1 0h2m-1 0h2m1 0h2m-1 0h2m-1 0h2m-1 0h2m-1 0h2m0 0h2m1 0h2m-1 0h2m-1 0h2m0 0h2m0 0h2m-1 0h2m-1 0h2m-1 0h2m-1 0h2m0 0h2m-1 0h2m-1 0h2m-1 0h2m-1 0h2m-1 0h2m-1 0h2m-1 0h2m-1 0h2m-1 0h2m-1 0h2m-1 0h2m-1 0h2m-1 0h2m-1 0h2m-1 0h2m0 0h2m-1 0h2m-1 0h2m0 0h2m-1 0h2m-1 0h2m4 0h2m53 0h2m-131 1h2m3 0h2m5 0h2m-1 0h2m1 0h2m1 0h2m-1 0h2m2 0h2m0 0h2m-1 0h2m-1 0h2m-1 0h2m-1 0h2m-1 0h2m-1 0h2m-1 0h2m-1 0h2m1 0h2m-1 0h2m-1 0h2m-1 0h2m-1 0h2m-1 0h2m-1 0h2m-1 0h2m-1 0h2m-1 0h2m-1 0h2m-1 0h2m0 0h2m-1 0h2m-1 0h2m-1 0h2m-1 0h2m-1 0h2m-1 0h2m-1 0h2m-1 0h2m1 0h2m17 0h2m1 0h2m-93 1h2m10 0h2m-1 0h2m11 0h2m2 0h2m-1 0h2m-1 0h2m-1 0h2m-1 0h2m0 0h2m-1 0h2m-1 0h2m1 0h2m-1 0h2m1 0h2m-1 0h2m-1 0h2m0 0h2m-1 0h2m-1 0h2m-1 0h2m-1 0h2m-1 0h2m-1 0h2m1 0h2m-1 0h2m-1 0h2m-1 0h2m-1 0h2m-1 0h2m0 0h2m-1 0h2m1 0h2m0 0h2m-1 0h2m-1 0h2m0 0h2m1 0h2m-1 0h2m-1 0h2m-1 0h2m-79 1h2m1 0h2m5 0h2m3 0h2m0 0h2m-1 0h2m1 0h2m-1 0h2m-1 0h2m0 0h2m-1 0h2m-1 0h2m-1 0h2m0 0h2m-1 0h2m0 0h2m-1 0h2m-1 0h2m0 0h2m2 0h2m-1 0h2m0 0h2m-1 0h2m-1 0h2m-1 0h2m-1 0h2m-1 0h2m0 0h2m-1 0h2m-1 0h2m1 0h2m-1 0h2m-1 0h2m-1 0h2m-1 0h2m-1 0h2m0 0h2m0 0h2m-1 0h2m-1 0h2m0 0h2m-1 0h2m-1 0h2m0 0h2m5 0h2m2 0h2m-87 1h2m2 0h2m12 0h2m-1 0h2m-1 0h2m2 0h2m1 0h2m-1 0h2m-1 0h2m-1 0h2m-1 0h2m-1 0h2m0 0h2m2 0h2m1 0h2m-1 0h2m-1 0h2m-1 0h2m-1 0h2m-1 0h2m-1 0h2m-1 0h2m-1 0h2m-1 0h2m-1 0h2m-1 0h2m-1 0h2m-1 0h2m-1 0h2m-1 0h2m-1 0h2m-1 0h2m-1 0h2m0 0h2m-1 0h2m-1 0h2m0 0h2m0 0h2m0 0h2m1 0h2m2 0h2m0 0h2m-1 0h2m13 0h2m70 0h2m-162 1h2m4 0h2m2 0h2m-1 0h2m0 0h2m-1 0h2m1 0h2m-1 0h2m0 0h2m-1 0h2m-1 0h2m-1 0h2m2 0h2m-1 0h2m-1 0h2m-1 0h2m-1 0h2m0 0h2m-1 0h2m-1 0h2m-1 0h2m0 0h2m-1 0h2m-1 0h2m-1 0h2m-1 0h2m-1 0h2m-1 0h2m-1 0h2m-1 0h2m-1 0h2m-1 0h2m-1 0h2m-1 0h2m-1 0h2m-1 0h2m-1 0h2m-1 0h2m-1 0h2m-1 0h2m0 0h2m-1 0h2m2 0h2m0 0h2m5 0h2m0 0h2m-1 0h2m7 0h2m-81 1h2m1 0h2m1 0h2m0 0h2m-1 0h2m-1 0h2m0 0h2m1 0h2m-1 0h2m-1 0h2m0 0h2m-1 0h2m-1 0h2m-1 0h2m-1 0h2m-1 0h2m0 0h2m-1 0h2m0 0h2m-1 0h2m0 0h2m-1 0h2m-1 0h2m0 0h2m1 0h2m-1 0h2m1 0h2m-1 0h2m-1 0h2m0 0h2m-1 0h2m-1 0h2m-1 0h2m-1 0h2m2 0h2m3 0h2m2 0h2m3 0h2m-1 0h2m-92 1h2m10 0h2m1 0h2m2 0h2m3 0h2m0 0h2m-1 0h2m-1 0h2m-1 0h2m-1 0h2m0 0h2m-1 0h2m1 0h2m-1 0h2m-1 0h2m0 0h2m-1 0h2m-1 0h2m-1 0h2m-1 0h2m-1 0h2m-1 0h2m-1 0h2m-1 0h2m-1 0h2m0 0h2m-1 0h2m0 0h2m0 0h2m-1 0h2m-1 0h2m-1 0h2m-1 0h2m-1 0h2m-1 0h2m0 0h2m-1 0h2m-1 0h2m-1 0h2m-1 0h2m0 0h2m-1 0h2m0 0h2m0 0h2m0 0h2m-1 0h2m0 0h2m0 0h2m2 0h2m5 0h2m3 0h2m-75 1h2m2 0h2m2 0h2m1 0h2m-1 0h2m-1 0h2m-1 0h2m-1 0h2m0 0h2m-1 0h2m0 0h2m-1 0h2m-1 0h2m-1 0h2m-1 0h2m-1 0h2m0 0h2m-1 0h2m-1 0h2m-1 0h2m0 0h2m0 0h2m-1 0h2m-1 0h2m0 0h2m-1 0h2m1 0h2m1 0h2m-1 0h2m-1 0h2m-1 0h2m-1 0h2m0 0h2m2 0h2m4 0h2m0 0h2m0 0h2m-90 1h2m14 0h2m-1 0h2m1 0h2m1 0h2m1 0h2m-1 0h2m-1 0h2m0 0h2m2 0h2m-1 0h2m-1 0h2m0 0h2m-1 0h2m0 0h2m0 0h2m-1 0h2m0 0h2m-1 0h2m0 0h2m-1 0h2m-1 0h2m-1 0h2m-1 0h2m-1 0h2m-1 0h2m0 0h2m-1 0h2m-1 0h2m-1 0h2m-1 0h2m1 0h2m0 0h2m-1 0h2m-1 0h2m-1 0h2m1 0h2m-1 0h2m0 0h2m-1 0h2m-1 0h2m-1 0h2m-1 0h2m0 0h2m0 0h2m3 0h2m9 0h2m1 0h2m-88 1h2m1 0h2m0 0h2m-1 0h2m-1 0h2m0 0h2m2 0h2m0 0h2m2 0h2m-1 0h2m-1 0h2m-1 0h2m0 0h2m0 0h2m0 0h2m-1 0h2m-1 0h2m-1 0h2m-1 0h2m-1 0h2m-1 0h2m0 0h2m0 0h2m-1 0h2m-1 0h2m-1 0h2m-1 0h2m-1 0h2m-1 0h2m-1 0h2m-1 0h2m0 0h2m0 0h2m-1 0h2m0 0h2m-1 0h2m-1 0h2m-1 0h2m-1 0h2m-1 0h2m5 0h2m0 0h2m1 0h2m2 0h2m3 0h2m29 0h2m-121 1h2m10 0h2m0 0h2m1 0h2m-1 0h2m1 0h2m0 0h2m0 0h2m-1 0h2m0 0h2m-1 0h2m-1 0h2m1 0h2m-1 0h2m-1 0h2m-1 0h2m-1 0h2m-1 0h2m-1 0h2m0 0h2m0 0h2m-1 0h2m0 0h2m-1 0h2m0 0h2m-1 0h2m0 0h2m-1 0h2m-1 0h2m0 0h2m-1 0h2m0 0h2m0 0h2m0 0h2m-1 0h2m2 0h2m-1 0h2m-1 0h2m0 0h2m-1 0h2m0 0h2m19 0h2m-91 1h2m-1 0h2m-1 0h2m0 0h2m-1 0h2m-1 0h2m0 0h2m1 0h2m-1 0h2m-1 0h2m-1 0h2m-1 0h2m-1 0h2m-1 0h2m-1 0h2m-1 0h2m0 0h2m-1 0h2m0 0h2m-1 0h2m0 0h2m-1 0h2m0 0h2m-1 0h2m-1 0h2m-1 0h2m-1 0h2m-1 0h2m0 0h2m0 0h2m0 0h2m1 0h2m-1 0h2m-1 0h2m0 0h2m-1 0h2m1 0h2m-1 0h2m-1 0h2m0 0h2m-1 0h2m-1 0h2m0 0h2m-1 0h2m8 0h2m1 0h2m0 0h2m88 0h2m-167 1h2m7 0h2m0 0h2m0 0h2m-1 0h2m-1 0h2m-1 0h2m1 0h2m-1 0h2m-1 0h2m-1 0h2m-1 0h2m-1 0h2m-1 0h2m0 0h2m-1 0h2m-1 0h2m-1 0h2m-1 0h2m1 0h2m-1 0h2m-1 0h2m-1 0h2m-1 0h2m-1 0h2m-1 0h2m0 0h2m-1 0h2m-1 0h2m-1 0h2m0 0h2m-1 0h2m-1 0h2m-1 0h2m-1 0h2m1 0h2m2 0h2m3 0h2m-1 0h2m2 0h2m-1 0h2m2 0h2m-82 1h2m7 0h2m2 0h2m0 0h2m-1 0h2m1 0h2m0 0h2m-1 0h2m-1 0h2m-1 0h2m-1 0h2m-1 0h2m-1 0h2m1 0h2m0 0h2m0 0h2m-1 0h2m-1 0h2m2 0h2m0 0h2m-1 0h2m-1 0h2m-1 0h2m-1 0h2m-1 0h2m-1 0h2m0 0h2m-1 0h2m-1 0h2m2 0h2m0 0h2m-1 0h2m-1 0h2m1 0h2m0 0h2m0 0h2m0 0h2m3 0h2m1 0h2m0 0h2m0 0h2m1 0h2m-83 1h2m10 0h2m-1 0h2m2 0h2m-1 0h2m1 0h2m-1 0h2m-1 0h2m0 0h2m-1 0h2m-1 0h2m0 0h2m-1 0h2m-1 0h2m1 0h2m-1 0h2m-1 0h2m-1 0h2m-1 0h2m-1 0h2m-1 0h2m-1 0h2m-1 0h2m0 0h2m-1 0h2m-1 0h2m0 0h2m-1 0h2m-1 0h2m3 0h2m-1 0h2m-1 0h2m0 0h2m-1 0h2m1 0h2m-1 0h2m11 0h2m73 0h2m17 0h2m-171 1h2m2 0h2m0 0h2m0 0h2m1 0h2m0 0h2m1 0h2m-1 0h2m0 0h2m0 0h2m-1 0h2m0 0h2m-1 0h2m0 0h2m-1 0h2m-1 0h2m0 0h2m-1 0h2m0 0h2m0 0h2m-1 0h2m-1 0h2m0 0h2m-1 0h2m-1 0h2m-1 0h2m1 0h2m0 0h2m-1 0h2m-1 0h2m-1 0h2m-1 0h2m0 0h2m2 0h2m3 0h2m0 0h2m3 0h2m-75 1h2m0 0h2m0 0h2m3 0h2m0 0h2m0 0h2m-1 0h2m-1 0h2m-1 0h2m1 0h2m-1 0h2m-1 0h2m-1 0h2m1 0h2m0 0h2m-1 0h2m-1 0h2m-1 0h2m-1 0h2m0 0h2m0 0h2m2 0h2m0 0h2m-1 0h2m-1 0h2m0 0h2m-1 0h2m-1 0h2m-1 0h2m-1 0h2m-1 0h2m-1 0h2m0 0h2m-1 0h2m0 0h2m-1 0h2m-1 0h2m-1 0h2m0 0h2m-1 0h2m4 0h2m0 0h2m10 0h2m-86 1h2m2 0h2m6 0h2m0 0h2m0 0h2m2 0h2m-1 0h2m-1 0h2m1 0h2m-1 0h2m2 0h2m-1 0h2m-1 0h2m-1 0h2m-1 0h2m-1 0h2m-1 0h2m1 0h2m-1 0h2m-1 0h2m0 0h2m-1 0h2m-1 0h2m1 0h2m1 0h2m5 0h2m-1 0h2m1 0h2m3 0h2m6 0h2m4 0h2m-89 1h2m5 0h2m-1 0h2m1 0h2m1 0h2m-1 0h2m-1 0h2m3 0h2m-1 0h2m-1 0h2m0 0h2m1 0h2m-1 0h2m1 0h2m-1 0h2m-1 0h2m0 0h2m0 0h2m-1 0h2m-1 0h2m0 0h2m1 0h2m-1 0h2m-1 0h2m-1 0h2m-1 0h2m-1 0h2m-1 0h2m-1 0h2m-1 0h2m0 0h2m-1 0h2m-1 0h2m-1 0h2m-1 0h2m-1 0h2m-1 0h2m2 0h2m-1 0h2m10 0h2m0 0h2m-87 1h2m9 0h2m17 0h2m0 0h2m-1 0h2m-1 0h2m3 0h2m-1 0h2m2 0h2m-1 0h2m-1 0h2m-1 0h2m1 0h2m1 0h2m0 0h2m-1 0h2m0 0h2m-1 0h2m-1 0h2m-1 0h2m1 0h2m0 0h2m1 0h2m5 0h2m15 0h2m52 0h2m38 0h2m-182 1h2m3 0h2m5 0h2m5 0h2m-1 0h2m1 0h2m1 0h2m0 0h2m0 0h2m0 0h2m-1 0h2m-1 0h2m-1 0h2m0 0h2m1 0h2m-1 0h2m0 0h2m-1 0h2m-1 0h2m-1 0h2m-1 0h2m0 0h2m0 0h2m-1 0h2m-1 0h2m-1 0h2m0 0h2m-1 0h2m-1 0h2m-1 0h2m5 0h2m0 0h2m0 0h2m7 0h2m5 0h2m-82 1h2m8 0h2m1 0h2m0 0h2m2 0h2m0 0h2m-1 0h2m-1 0h2m-1 0h2m1 0h2m-1 0h2m-1 0h2m0 0h2m3 0h2m0 0h2m0 0h2m-1 0h2m-1 0h2m0 0h2m-1 0h2m-1 0h2m-1 0h2m-1 0h2m-1 0h2m0 0h2m-1 0h2m0 0h2m6 0h2m4 0h2m-67 1h2m3 0h2m0 0h2m1 0h2m3 0h2m-1 0h2m0 0h2m-1 0h2m2 0h2m0 0h2m1 0h2m-1 0h2m-1 0h2m-1 0h2m-1 0h2m-1 0h2m1 0h2m-1 0h2m-1 0h2m-1 0h2m-1 0h2m1 0h2m0 0h2m-1 0h2m2 0h2m-1 0h2m0 0h2m-1 0h2m0 0h2m-1 0h2m3 0h2m5 0h2m-68 1h2m0 0h2m-1 0h2m2 0h2m-1 0h2m0 0h2m-1 0h2m-1 0h2m0 0h2m1 0h2m0 0h2m3 0h2m0 0h2m-1 0h2m-1 0h2m0 0h2m3 0h2m-1 0h2m-1 0h2m-1 0h2m1 0h2m0 0h2m0 0h2m1 0h2m-1 0h2m5 0h2m7 0h2m-78 1h2m6 0h2m2 0h2m0 0h2m-1 0h2m-1 0h2m5 0h2m-1 0h2m0 0h2m2 0h2m-1 0h2m-1 0h2m-1 0h2m-1 0h2m0 0h2m3 0h2m-1 0h2m0 0h2m-1 0h2m-1 0h2m1 0h2m-1 0h2m-1 0h2m2 0h2m-1 0h2m-1 0h2m0 0h2m0 0h2m-54 1h2m4 0h2m1 0h2m0 0h2m2 0h2m-1 0h2m0 0h2m0 0h2m0 0h2m-1 0h2m-1 0h2m-1 0h2m-1 0h2m-1 0h2m0 0h2m2 0h2m-1 0h2m4 0h2m2 0h2m0 0h2m3 0h2m-1 0h2m3 0h2m-1 0h2m6 0h2m6 0h2m78 0h2m-161 1h2m9 0h2m4 0h2m0 0h2m-1 0h2m0 0h2m-1 0h2m0 0h2m-1 0h2m0 0h2m-1 0h2m0 0h2m0 0h2m-1 0h2m-1 0h2m-1 0h2m2 0h2m-1 0h2m-1 0h2m1 0h2m1 0h2m3 0h2m3 0h2m4 0h2m12 0h2m-91 1h2m3 0h2m9 0h2m8 0h2m1 0h2m-1 0h2m1 0h2m1 0h2m1 0h2m1 0h2m-1 0h2m5 0h2m0 0h2m0 0h2m-1 0h2m0 0h2m0 0h2m-1 0h2m-64 1h2m4 0h2m25 0h2m-1 0h2m-1 0h2m0 0h2m0 0h2m-1 0h2m1 0h2m3 0h2m1 0h2m0 0h2m0 0h2m-1 0h2m3 0h2m2 0h2m11 0h2m26 0h2m16 0h2m-119 1h2m1 0h2m2 0h2m6 0h2m-1 0h2m-1 0h2m5 0h2m6 0h2m0 0h2m0 0h2m2 0h2m0 0h2m4 0h2m1 0h2m7 0h2m17 0h2m-72 1h2m2 0h2m3 0h2m-1 0h2m4 0h2m-1 0h2m1 0h2m5 0h2m0 0h2m4 0h2m-1 0h2m4 0h2m-1 0h2m3 0h2m1 0h2m99 0h2m5 0h2m-154 1h2m1 0h2m0 0h2m8 0h2m2 0h2m-1 0h2m-1 0h2m1 0h2m1 0h2m7 0h2m2 0h2m0 0h2m9 0h2m32 0h2m-99 1h2m1 0h2m4 0h2m3 0h2m0 0h2m8 0h2m1 0h2m-1 0h2m2 0h2m-1 0h2m0 0h2m1 0h2m7 0h2m2 0h2m111 0h2m-163 1h2m0 0h2m10 0h2m0 0h2m-1 0h2m2 0h2m1 0h2m2 0h2m13 0h2m9 0h2m-1 0h2m3 0h2m85 0h2m-143 1h2m2 0h2m-1 0h2m-1 0h2m-1 0h2m2 0h2m3 0h2m5 0h2m0 0h2m-1 0h2m19 0h2m-54 1h2m3 0h2m0 0h2m1 0h2m2 0h2m6 0h2m6 0h2m-1 0h2m103 0h2m-125 1h2m19 0h2m-27 1h2m5 0h2m0 0h2m9 0h2m3 0h2m2 0h2m120 0h2m13 0h2m-183 1h2m2 0h2m16 0h2m5 0h2m0 0h2m30 0h2m83 0h2m4 0h2m-146 1h2m2 0h2m0 0h2m10 0h2m6 0h2m5 0h2m2 0h2m-32 1h2m2 0h2m15 0h2m-24 1h2m2 0h2m-1 0h2m4 0h2m0 0h2m6 0h2m9 0h2m105 0h2m19 0h2m-159 1h2m3 0h2m5 0h2m67 0h2m62 0h2m-147 1h2m0 0h2m14 0h2m-36 1h2m7 0h2m-8 2h2m7 0h2m19 1h2m-9 1h2m-29 1h2m0 0h2m5 0h2m3 1h2" stroke="#e8151b" stroke-width="1.5" fill="none"/>
<rect x="107.3" y="1541.8" width="239" height="244.5" fill="none" stroke="#000" stroke-width="1.3"/>
<line x1="212.5" y1="1541.8" x2="212.5" y2="1786.3" stroke="#000" stroke-width="1.3"/>
<line x1="107.3" y1="1685.8" x2="346.3" y2="1685.8" stroke="#000" stroke-width="1.3"/>
<path d="M107.3,1786.3v6M107.3,1786.3h-6M125.3,1786.3v3M107.3,1767.9h-3M135.8,1786.3v3M107.3,1757.1h-3M143.3,1786.3v3M107.3,1749.5h-3M149.1,1786.3v3M107.3,1743.6h-3M153.8,1786.3v3M107.3,1738.7h-3M157.8,1786.3v3M107.3,1734.6h-3M161.3,1786.3v3M107.3,1731.1h-3M164.3,1786.3v3M107.3,1728.0h-3M167.1,1786.3v6M107.3,1725.2h-6M185.0,1786.3v3M107.3,1706.8h-3M195.6,1786.3v3M107.3,1696.0h-3M203.0,1786.3v3M107.3,1688.4h-3M208.8,1786.3v3M107.3,1682.5h-3M213.5,1786.3v3M107.3,1677.6h-3M217.5,1786.3v3M107.3,1673.5h-3M221.0,1786.3v3M107.3,1670.0h-3M224.1,1786.3v3M107.3,1666.8h-3M226.8,1786.3v6M107.3,1664.0h-6M244.8,1786.3v3M107.3,1645.6h-3M255.3,1786.3v3M107.3,1634.9h-3M262.8,1786.3v3M107.3,1627.2h-3M268.6,1786.3v3M107.3,1621.3h-3M273.3,1786.3v3M107.3,1616.5h-3M277.3,1786.3v3M107.3,1612.4h-3M280.8,1786.3v3M107.3,1608.8h-3M283.8,1786.3v3M107.3,1605.7h-3M286.6,1786.3v6M107.3,1602.9h-6M304.5,1786.3v3M107.3,1584.5h-3M315.1,1786.3v3M107.3,1573.8h-3M322.5,1786.3v3M107.3,1566.1h-3M328.3,1786.3v3M107.3,1560.2h-3M333.0,1786.3v3M107.3,1555.4h-3M337.0,1786.3v3M107.3,1551.3h-3M340.5,1786.3v3M107.3,1547.7h-3M343.6,1786.3v3M107.3,1544.6h-3M346.3,1786.3v6M107.3,1541.8h-6" stroke="#000" stroke-width="1" fill="none"/>
<text x="107.8" y="1805.3" font-size="13" text-anchor="middle" style="font-weight:normal">10<tspan font-size="10.5" dy="-5.5">0</tspan></text>
<text transform="translate(98.6,1787.3) rotate(-90)" font-size="13" text-anchor="middle" style="font-weight:normal">10<tspan font-size="10.5" dy="-5.5">0</tspan></text>
<text x="167.6" y="1805.3" font-size="13" text-anchor="middle" style="font-weight:normal">10<tspan font-size="10.5" dy="-5.5">1</tspan></text>
<text transform="translate(98.6,1726.2) rotate(-90)" font-size="13" text-anchor="middle" style="font-weight:normal">10<tspan font-size="10.5" dy="-5.5">1</tspan></text>
<text x="227.3" y="1805.3" font-size="13" text-anchor="middle" style="font-weight:normal">10<tspan font-size="10.5" dy="-5.5">2</tspan></text>
<text transform="translate(98.6,1665.0) rotate(-90)" font-size="13" text-anchor="middle" style="font-weight:normal">10<tspan font-size="10.5" dy="-5.5">2</tspan></text>
<text x="287.1" y="1805.3" font-size="13" text-anchor="middle" style="font-weight:normal">10<tspan font-size="10.5" dy="-5.5">3</tspan></text>
<text transform="translate(98.6,1603.9) rotate(-90)" font-size="13" text-anchor="middle" style="font-weight:normal">10<tspan font-size="10.5" dy="-5.5">3</tspan></text>
<text x="346.8" y="1805.3" font-size="13" text-anchor="middle" style="font-weight:normal">10<tspan font-size="10.5" dy="-5.5">4</tspan></text>
<text transform="translate(98.6,1542.8) rotate(-90)" font-size="13" text-anchor="middle" style="font-weight:normal">10<tspan font-size="10.5" dy="-5.5">4</tspan></text>
<text x="224.3" y="1816.3" font-size="10.9" text-anchor="middle" style="font-weight:normal">ANNEXIN-V- FITC</text>
<text x="83.3" y="1665.3" font-size="10.5" text-anchor="middle" style="font-weight:normal" transform="rotate(-90 83.3 1665.3)">PI</text>
<text x="115.2" y="1573.4" font-size="25.5" stroke="#000" stroke-width="0.4">0.81%</text>
<text x="336.3" y="1573.4" font-size="25.5" text-anchor="end" stroke="#000" stroke-width="0.4">4.14%</text>
<text x="115.2" y="1773.6" font-size="25.5" stroke="#000" stroke-width="0.4">93.94%</text>
<text x="336.3" y="1773.6" font-size="25.5" text-anchor="end" stroke="#000" stroke-width="0.4">1.12%</text>
<text x="499.0" y="1522.0" font-size="25.8" text-anchor="middle" stroke="#000" stroke-width="0.4">STAT4+Vector</text>
<path transform="translate(393.5,1786.3)" d="M195-204h2m-30 5h2m-5 1h2m39 0h2m-23 1h2m-17 4h2m-34 1h2m9 1h2m20 1h2m-16 2h2m13 2h2m-6 1h2m27 0h2m-45 1h2m-13 1h2m16 0h2m-134 1h2m99 0h2m35 0h2m-117 1h2m46 0h2m42 0h2m5 1h2m1 0h2m-1 0h2m-12 1h2m4 0h2m26 0h2m-13 1h2m6 0h2m-62 1h2m15 0h2m14 0h2m-109 1h2m57 0h2m0 1h2m-28 2h2m50 0h2m10 0h2m23 0h2m-132 1h2m101 0h2m-89 1h2m96 0h2m-101 1h2m73 0h2m15 0h2m-1 0h2m11 0h2m1 0h2m-57 1h2m19 0h2m29 0h2m-1 0h2m-45 1h2m3 0h2m7 0h2m1 0h2m26 0h2m2 0h2m-12 1h2m-1 0h2m2 0h2m-21 1h2m15 0h2m-30 1h2m3 0h2m3 0h2m12 0h2m8 0h2m-123 1h2m111 0h2m20 0h2m-76 1h2m56 0h2m0 0h2m25 0h2m-151 1h2m92 0h2m6 0h2m12 0h2m-74 1h2m67 0h2m13 0h2m2 0h2m-122 1h2m52 0h2m0 0h2m60 0h2m-37 1h2m7 0h2m0 0h2m35 0h2m-64 1h2m38 0h2m10 0h2m1 0h2m-136 1h2m87 0h2m14 0h2m3 0h2m-120 1h2m76 0h2m-76 1h2m51 0h2m69 0h2m31 0h2m-68 1h2m3 0h2m5 0h2m3 0h2m5 0h2m3 0h2m-42 1h2m35 0h2m3 0h2m6 0h2m8 0h2m-162 1h2m25 0h2m36 0h2m73 0h2m-82 1h2m58 0h2m0 0h2m11 0h2m6 0h2m11 0h2m-102 1h2m43 0h2m-28 1h2m68 0h2m-76 1h2m54 0h2m3 0h2m5 0h2m5 0h2m2 0h2m-52 1h2m9 0h2m1 0h2m8 0h2m6 0h2m2 0h2m-114 1h2m69 0h2m3 0h2m1 0h2m13 0h2m19 0h2m-1 0h2m3 0h2m-138 1h2m33 0h2m74 0h2m19 0h2m10 0h2m-51 1h2m8 0h2m19 0h2m4 0h2m-95 1h2m31 0h2m20 0h2m1 0h2m14 0h2m0 0h2m28 0h2m-131 1h2m13 0h2m57 0h2m17 0h2m-1 0h2m-38 1h2m7 0h2m31 0h2m16 0h2m2 0h2m-108 1h2m80 0h2m9 0h2m-135 1h2m130 0h2m-6 1h2m29 0h2m-155 1h2m71 0h2m-78 1h2m34 0h2m31 0h2m48 0h2m-32 1h2m1 0h2m33 0h2m-127 1h2m130 0h2m11 0h2m-140 1h2m91 0h2m35 0h2m-63 1h2m66 0h2m-50 1h2m-1 0h2m0 0h2m-70 1h2m17 0h2m60 0h2m8 0h2m1 0h2m1 1h2m1 0h2m-23 1h2m-100 1h2m80 0h2m5 0h2m10 0h2m17 1h2m-97 1h2m10 0h2m32 0h2m47 0h2m7 0h2m-34 1h2m1 0h2m-24 1h2m-95 1h2m75 0h2m5 0h2m9 1h2m-65 1h2m2 1h2m48 0h2m8 0h2m12 0h2m-1 0h2m1 0h2m-75 1h2m31 0h2m35 0h2m5 0h2m4 1h2m15 0h2m-55 1h2m-20 2h2m44 0h2m-63 1h2m4 0h2m48 0h2m20 0h2m-32 1h2m3 0h2m-1 1h2m10 0h2m-97 2h2m57 0h2m-1 0h2m10 0h2m-85 1h2m29 0h2m64 0h2m16 1h2m-15 1h2m63 0h2m-150 1h2m27 1h2m-1 0h2m-66 1h2m87 0h2m16 0h2m-65 2h2m40 0h2m-27 2h2m8 0h2m28 1h2m29 1h2m-45 1h2m51 0h2m-84 1h2m6 0h2m39 0h2m-53 2h2m4 0h2m9 0h2m1 0h2m85 0h2m-112 1h2m9 0h2m23 0h2m22 0h2m6 0h2m12 0h2m-87 1h2m5 0h2m-1 0h2m6 0h2m2 0h2m-22 1h2m0 0h2m1 0h2m2 0h2m1 0h2m12 0h2m-1 0h2m13 0h2m37 0h2m-84 1h2m14 0h2m2 0h2m50 0h2m-1 0h2m-77 1h2m2 0h2m0 0h2m9 0h2m-33 1h2m22 0h2m7 0h2m1 0h2m-38 1h2m13 0h2m0 0h2m9 0h2m4 0h2m31 0h2m-55 1h2m11 0h2m-25 1h2m5 0h2m3 0h2m-1 0h2m1 0h2m2 0h2m-33 1h2m-1 0h2m12 0h2m11 0h2m3 0h2m3 0h2m4 0h2m5 0h2m1 0h2m5 0h2m3 0h2m51 0h2m-120 1h2m-1 0h2m0 0h2m11 0h2m-1 0h2m0 0h2m2 0h2m1 0h2m2 0h2m0 0h2m0 0h2m9 0h2m5 0h2m12 0h2m43 0h2m-107 1h2m6 0h2m-1 0h2m0 0h2m13 0h2m0 0h2m0 0h2m-1 0h2m2 0h2m3 0h2m-1 0h2m56 0h2m-119 1h2m11 0h2m7 0h2m0 0h2m0 0h2m1 0h2m0 0h2m4 0h2m0 0h2m1 0h2m-1 0h2m0 0h2m0 0h2m4 0h2m5 0h2m8 0h2m84 0h2m-156 1h2m14 0h2m0 0h2m2 0h2m1 0h2m2 0h2m0 0h2m3 0h2m-1 0h2m1 0h2m-1 0h2m0 0h2m1 0h2m5 0h2m4 0h2m13 0h2m-57 1h2m-1 0h2m4 0h2m-1 0h2m-1 0h2m-1 0h2m2 0h2m-1 0h2m0 0h2m1 0h2m2 0h2m0 0h2m9 0h2m-51 1h2m-1 0h2m0 0h2m1 0h2m4 0h2m4 0h2m-1 0h2m8 0h2m3 0h2m-1 0h2m-1 0h2m0 0h2m0 0h2m9 0h2m12 0h2m77 0h2m-159 1h2m16 0h2m0 0h2m-1 0h2m0 0h2m6 0h2m-1 0h2m0 0h2m-1 0h2m-1 0h2m-1 0h2m0 0h2m1 0h2m0 0h2m-1 0h2m1 0h2m5 0h2m0 0h2m2 0h2m-63 1h2m20 0h2m-1 0h2m-1 0h2m2 0h2m-1 0h2m-1 0h2m1 0h2m-1 0h2m1 0h2m-1 0h2m-1 0h2m-1 0h2m3 0h2m3 0h2m-1 0h2m4 0h2m2 0h2m-1 0h2m1 0h2m6 0h2m84 0h2m-171 1h2m27 0h2m-1 0h2m-1 0h2m1 0h2m0 0h2m1 0h2m0 0h2m-1 0h2m-1 0h2m-1 0h2m0 0h2m5 0h2m1 0h2m1 0h2m-1 0h2m-1 0h2m-1 0h2m1 0h2m0 0h2m-1 0h2m5 0h2m3 0h2m23 0h2m-86 1h2m0 0h2m-1 0h2m-1 0h2m0 0h2m3 0h2m-1 0h2m-1 0h2m-1 0h2m-1 0h2m0 0h2m-1 0h2m-1 0h2m0 0h2m-1 0h2m0 0h2m1 0h2m1 0h2m0 0h2m0 0h2m4 0h2m-1 0h2m0 0h2m1 0h2m-1 0h2m1 0h2m4 0h2m-70 1h2m3 0h2m0 0h2m-1 0h2m3 0h2m1 0h2m0 0h2m-1 0h2m1 0h2m-1 0h2m3 0h2m-1 0h2m-1 0h2m1 0h2m0 0h2m0 0h2m-1 0h2m0 0h2m2 0h2m2 0h2m4 0h2m0 0h2m1 0h2m0 0h2m3 0h2m-1 0h2m-1 0h2m3 0h2m15 0h2m-92 1h2m1 0h2m1 0h2m0 0h2m9 0h2m-1 0h2m-1 0h2m4 0h2m7 0h2m0 0h2m-1 0h2m0 0h2m0 0h2m-1 0h2m-1 0h2m0 0h2m0 0h2m0 0h2m1 0h2m-1 0h2m-1 0h2m1 0h2m46 0h2m7 0h2m-127 1h2m15 0h2m0 0h2m2 0h2m-1 0h2m-1 0h2m-1 0h2m3 0h2m-1 0h2m0 0h2m-1 0h2m-1 0h2m-1 0h2m-1 0h2m-1 0h2m4 0h2m-1 0h2m-1 0h2m0 0h2m-1 0h2m-1 0h2m-1 0h2m-1 0h2m1 0h2m-1 0h2m-1 0h2m-1 0h2m0 0h2m-1 0h2m-1 0h2m3 0h2m-1 0h2m1 0h2m1 0h2m-61 1h2m-1 0h2m4 0h2m-1 0h2m-1 0h2m-1 0h2m-1 0h2m-1 0h2m2 0h2m0 0h2m0 0h2m-1 0h2m-1 0h2m0 0h2m-1 0h2m-1 0h2m1 0h2m-1 0h2m-1 0h2m-1 0h2m-1 0h2m-1 0h2m-1 0h2m-1 0h2m-1 0h2m-1 0h2m-1 0h2m-1 0h2m0 0h2m-1 0h2m0 0h2m-1 0h2m3 0h2m0 0h2m3 0h2m5 0h2m-61 1h2m0 0h2m2 0h2m1 0h2m-1 0h2m-1 0h2m-1 0h2m1 0h2m2 0h2m1 0h2m-1 0h2m0 0h2m0 0h2m-1 0h2m-1 0h2m-1 0h2m0 0h2m-1 0h2m-1 0h2m-1 0h2m0 0h2m0 0h2m0 0h2m1 0h2m1 0h2m1 0h2m-1 0h2m-1 0h2m3 0h2m-68 1h2m3 0h2m3 0h2m1 0h2m1 0h2m-1 0h2m0 0h2m-1 0h2m0 0h2m-1 0h2m-1 0h2m0 0h2m-1 0h2m3 0h2m0 0h2m-1 0h2m-1 0h2m-1 0h2m-1 0h2m-1 0h2m-1 0h2m-1 0h2m0 0h2m-1 0h2m1 0h2m0 0h2m-1 0h2m-1 0h2m-1 0h2m2 0h2m-1 0h2m0 0h2m9 0h2m0 0h2m17 0h2m-113 1h2m19 0h2m2 0h2m4 0h2m1 0h2m0 0h2m0 0h2m-1 0h2m0 0h2m-1 0h2m-1 0h2m1 0h2m-1 0h2m-1 0h2m1 0h2m-1 0h2m-1 0h2m-1 0h2m0 0h2m-1 0h2m-1 0h2m-1 0h2m-1 0h2m0 0h2m-1 0h2m3 0h2m1 0h2m0 0h2m0 0h2m3 0h2m-85 1h2m7 0h2m9 0h2m9 0h2m1 0h2m0 0h2m-1 0h2m-1 0h2m-1 0h2m-1 0h2m-1 0h2m-1 0h2m-1 0h2m-1 0h2m-1 0h2m-1 0h2m1 0h2m-1 0h2m-1 0h2m-1 0h2m-1 0h2m2 0h2m-1 0h2m-1 0h2m-1 0h2m-1 0h2m-1 0h2m-1 0h2m-1 0h2m1 0h2m-1 0h2m2 0h2m1 0h2m-1 0h2m0 0h2m0 0h2m-59 1h2m3 0h2m-1 0h2m5 0h2m-1 0h2m-1 0h2m-1 0h2m1 0h2m-1 0h2m-1 0h2m-1 0h2m1 0h2m-1 0h2m-1 0h2m4 0h2m0 0h2m-1 0h2m-1 0h2m-1 0h2m0 0h2m-1 0h2m-1 0h2m0 0h2m-1 0h2m-1 0h2m-1 0h2m-1 0h2m1 0h2m-1 0h2m4 0h2m0 0h2m11 0h2m-78 1h2m3 0h2m0 0h2m2 0h2m-1 0h2m-1 0h2m-1 0h2m1 0h2m0 0h2m-1 0h2m-1 0h2m0 0h2m-1 0h2m1 0h2m-1 0h2m-1 0h2m-1 0h2m0 0h2m-1 0h2m-1 0h2m-1 0h2m0 0h2m0 0h2m0 0h2m-1 0h2m1 0h2m0 0h2m-1 0h2m0 0h2m-1 0h2m0 0h2m2 0h2m-1 0h2m-1 0h2m3 0h2m-1 0h2m2 0h2m-1 0h2m-79 1h2m4 0h2m3 0h2m-1 0h2m-1 0h2m0 0h2m2 0h2m2 0h2m-1 0h2m-1 0h2m-1 0h2m-1 0h2m-1 0h2m-1 0h2m-1 0h2m-1 0h2m-1 0h2m-1 0h2m0 0h2m0 0h2m-1 0h2m0 0h2m0 0h2m-1 0h2m-1 0h2m-1 0h2m-1 0h2m-1 0h2m-1 0h2m-1 0h2m0 0h2m-1 0h2m0 0h2m-1 0h2m-1 0h2m1 0h2m4 0h2m8 0h2m2 0h2m1 0h2m-83 1h2m-1 0h2m0 0h2m2 0h2m-1 0h2m-1 0h2m1 0h2m1 0h2m0 0h2m-1 0h2m-1 0h2m-1 0h2m-1 0h2m-1 0h2m-1 0h2m-1 0h2m-1 0h2m-1 0h2m-1 0h2m-1 0h2m-1 0h2m0 0h2m-1 0h2m-1 0h2m-1 0h2m0 0h2m-1 0h2m-1 0h2m-1 0h2m-1 0h2m-1 0h2m0 0h2m-1 0h2m0 0h2m-1 0h2m0 0h2m-1 0h2m-1 0h2m-1 0h2m1 0h2m-1 0h2m-1 0h2m-1 0h2m0 0h2m1 0h2m3 0h2m-1 0h2m-1 0h2m0 0h2m-86 1h2m7 0h2m12 0h2m2 0h2m-1 0h2m0 0h2m-1 0h2m0 0h2m2 0h2m1 0h2m-1 0h2m0 0h2m-1 0h2m-1 0h2m2 0h2m-1 0h2m-1 0h2m-1 0h2m-1 0h2m0 0h2m1 0h2m-1 0h2m0 0h2m-1 0h2m-1 0h2m1 0h2m-1 0h2m-1 0h2m-1 0h2m-1 0h2m-1 0h2m0 0h2m1 0h2m2 0h2m0 0h2m5 0h2m-88 1h2m12 0h2m0 0h2m-1 0h2m-1 0h2m-1 0h2m0 0h2m-1 0h2m0 0h2m-1 0h2m-1 0h2m0 0h2m-1 0h2m-1 0h2m-1 0h2m-1 0h2m-1 0h2m1 0h2m0 0h2m-1 0h2m-1 0h2m-1 0h2m-1 0h2m-1 0h2m-1 0h2m0 0h2m-1 0h2m-1 0h2m0 0h2m-1 0h2m-1 0h2m-1 0h2m-1 0h2m-1 0h2m-1 0h2m0 0h2m-1 0h2m-1 0h2m-1 0h2m-1 0h2m-1 0h2m-1 0h2m1 0h2m2 0h2m-1 0h2m-1 0h2m5 0h2m7 0h2m-99 1h2m20 0h2m-1 0h2m2 0h2m-1 0h2m1 0h2m1 0h2m1 0h2m0 0h2m-1 0h2m-1 0h2m-1 0h2m-1 0h2m-1 0h2m-1 0h2m-1 0h2m-1 0h2m-1 0h2m-1 0h2m-1 0h2m-1 0h2m-1 0h2m-1 0h2m-1 0h2m-1 0h2m-1 0h2m-1 0h2m-1 0h2m0 0h2m-1 0h2m-1 0h2m-1 0h2m-1 0h2m-1 0h2m-1 0h2m-1 0h2m0 0h2m0 0h2m0 0h2m-1 0h2m3 0h2m2 0h2m2 0h2m1 0h2m-1 0h2m1 0h2m4 0h2m2 0h2m1 0h2m-89 1h2m1 0h2m0 0h2m0 0h2m-1 0h2m3 0h2m1 0h2m-1 0h2m1 0h2m-1 0h2m-1 0h2m-1 0h2m-1 0h2m-1 0h2m-1 0h2m-1 0h2m-1 0h2m-1 0h2m-1 0h2m-1 0h2m-1 0h2m-1 0h2m-1 0h2m-1 0h2m-1 0h2m-1 0h2m-1 0h2m-1 0h2m-1 0h2m-1 0h2m-1 0h2m-1 0h2m-1 0h2m-1 0h2m-1 0h2m0 0h2m-1 0h2m-1 0h2m-1 0h2m-1 0h2m-1 0h2m-1 0h2m0 0h2m0 0h2m-1 0h2m2 0h2m6 0h2m13 0h2m-87 1h2m0 0h2m3 0h2m-1 0h2m0 0h2m-1 0h2m-1 0h2m0 0h2m-1 0h2m0 0h2m-1 0h2m-1 0h2m-1 0h2m0 0h2m-1 0h2m1 0h2m-1 0h2m-1 0h2m-1 0h2m1 0h2m-1 0h2m-1 0h2m0 0h2m0 0h2m-1 0h2m-1 0h2m-1 0h2m-1 0h2m-1 0h2m0 0h2m-1 0h2m-1 0h2m2 0h2m-1 0h2m1 0h2m-1 0h2m1 0h2m1 0h2m1 0h2m-76 1h2m3 0h2m-1 0h2m4 0h2m1 0h2m1 0h2m-1 0h2m1 0h2m0 0h2m-1 0h2m-1 0h2m-1 0h2m0 0h2m0 0h2m0 0h2m0 0h2m0 0h2m-1 0h2m-1 0h2m-1 0h2m-1 0h2m-1 0h2m-1 0h2m-1 0h2m0 0h2m-1 0h2m-1 0h2m-1 0h2m0 0h2m-1 0h2m0 0h2m-1 0h2m-1 0h2m-1 0h2m-1 0h2m0 0h2m-1 0h2m0 0h2m1 0h2m4 0h2m-74 1h2m5 0h2m2 0h2m-1 0h2m-1 0h2m5 0h2m-1 0h2m-1 0h2m-1 0h2m0 0h2m1 0h2m0 0h2m1 0h2m-1 0h2m-1 0h2m1 0h2m-1 0h2m0 0h2m-1 0h2m1 0h2m-1 0h2m-1 0h2m0 0h2m-1 0h2m-1 0h2m-1 0h2m0 0h2m0 0h2m-1 0h2m-1 0h2m-1 0h2m1 0h2m-1 0h2m-1 0h2m-1 0h2m2 0h2m-1 0h2m1 0h2m1 0h2m8 0h2m-81 1h2m3 0h2m1 0h2m-1 0h2m-1 0h2m-1 0h2m0 0h2m0 0h2m0 0h2m-1 0h2m1 0h2m-1 0h2m0 0h2m-1 0h2m-1 0h2m0 0h2m-1 0h2m0 0h2m-1 0h2m-1 0h2m0 0h2m0 0h2m-1 0h2m-1 0h2m-1 0h2m-1 0h2m-1 0h2m1 0h2m0 0h2m-1 0h2m-1 0h2m0 0h2m0 0h2m1 0h2m-1 0h2m-1 0h2m0 0h2m9 0h2m-1 0h2m0 0h2m-78 1h2m0 0h2m5 0h2m-1 0h2m1 0h2m-1 0h2m-1 0h2m-1 0h2m-1 0h2m-1 0h2m-1 0h2m-1 0h2m0 0h2m-1 0h2m-1 0h2m1 0h2m-1 0h2m-1 0h2m0 0h2m-1 0h2m-1 0h2m0 0h2m-1 0h2m-1 0h2m-1 0h2m-1 0h2m-1 0h2m-1 0h2m-1 0h2m-1 0h2m-1 0h2m0 0h2m-1 0h2m-1 0h2m0 0h2m0 0h2m-1 0h2m-1 0h2m0 0h2m0 0h2m-1 0h2m-1 0h2m3 0h2m0 0h2m-1 0h2m2 0h2m5 0h2m16 0h2m-111 1h2m3 0h2m7 0h2m0 0h2m0 0h2m-1 0h2m-1 0h2m-1 0h2m0 0h2m1 0h2m-1 0h2m-1 0h2m-1 0h2m0 0h2m-1 0h2m-1 0h2m-1 0h2m-1 0h2m-1 0h2m-1 0h2m0 0h2m-1 0h2m-1 0h2m-1 0h2m-1 0h2m-1 0h2m-1 0h2m-1 0h2m-1 0h2m-1 0h2m-1 0h2m-1 0h2m-1 0h2m-1 0h2m-1 0h2m-1 0h2m-1 0h2m-1 0h2m-1 0h2m-1 0h2m-1 0h2m-1 0h2m-1 0h2m-1 0h2m1 0h2m2 0h2m0 0h2m0 0h2m-1 0h2m-1 0h2m2 0h2m3 0h2m-1 0h2m5 0h2m-83 1h2m-1 0h2m-1 0h2m2 0h2m4 0h2m0 0h2m3 0h2m0 0h2m-1 0h2m-1 0h2m-1 0h2m-1 0h2m-1 0h2m-1 0h2m-1 0h2m-1 0h2m-1 0h2m-1 0h2m-1 0h2m-1 0h2m-1 0h2m1 0h2m-1 0h2m-1 0h2m-1 0h2m-1 0h2m-1 0h2m-1 0h2m0 0h2m-1 0h2m-1 0h2m-1 0h2m0 0h2m-1 0h2m1 0h2m-1 0h2m-1 0h2m-1 0h2m-1 0h2m-1 0h2m3 0h2m0 0h2m0 0h2m13 0h2m-86 1h2m2 0h2m-1 0h2m1 0h2m0 0h2m4 0h2m-1 0h2m-1 0h2m0 0h2m-1 0h2m0 0h2m-1 0h2m-1 0h2m-1 0h2m-1 0h2m-1 0h2m0 0h2m-1 0h2m-1 0h2m-1 0h2m-1 0h2m-1 0h2m-1 0h2m-1 0h2m0 0h2m-1 0h2m-1 0h2m-1 0h2m-1 0h2m-1 0h2m1 0h2m-1 0h2m-1 0h2m0 0h2m0 0h2m2 0h2m3 0h2m6 0h2m2 0h2m79 0h2m-160 1h2m-1 0h2m2 0h2m-1 0h2m4 0h2m-1 0h2m1 0h2m1 0h2m-1 0h2m-1 0h2m-1 0h2m-1 0h2m1 0h2m1 0h2m-1 0h2m0 0h2m-1 0h2m-1 0h2m-1 0h2m-1 0h2m-1 0h2m-1 0h2m-1 0h2m0 0h2m1 0h2m0 0h2m-1 0h2m-1 0h2m1 0h2m-1 0h2m-1 0h2m0 0h2m-1 0h2m-1 0h2m-1 0h2m0 0h2m-1 0h2m0 0h2m-1 0h2m-1 0h2m0 0h2m-1 0h2m0 0h2m-67 1h2m-1 0h2m5 0h2m-1 0h2m2 0h2m-1 0h2m-1 0h2m-1 0h2m0 0h2m-1 0h2m-1 0h2m-1 0h2m-1 0h2m-1 0h2m-1 0h2m-1 0h2m-1 0h2m-1 0h2m-1 0h2m2 0h2m-1 0h2m-1 0h2m-1 0h2m-1 0h2m-1 0h2m-1 0h2m-1 0h2m-1 0h2m-1 0h2m-1 0h2m-1 0h2m-1 0h2m-1 0h2m-1 0h2m0 0h2m-1 0h2m-1 0h2m-1 0h2m0 0h2m-1 0h2m1 0h2m23 0h2m-87 1h2m0 0h2m-1 0h2m-1 0h2m8 0h2m0 0h2m-1 0h2m1 0h2m-1 0h2m-1 0h2m-1 0h2m-1 0h2m-1 0h2m0 0h2m-1 0h2m-1 0h2m-1 0h2m-1 0h2m-1 0h2m0 0h2m-1 0h2m-1 0h2m-1 0h2m-1 0h2m-1 0h2m-1 0h2m-1 0h2m0 0h2m-1 0h2m-1 0h2m-1 0h2m1 0h2m-1 0h2m-1 0h2m-1 0h2m-1 0h2m-1 0h2m-1 0h2m-1 0h2m-1 0h2m-1 0h2m1 0h2m0 0h2m3 0h2m13 0h2m-105 1h2m13 0h2m1 0h2m-1 0h2m0 0h2m3 0h2m0 0h2m-1 0h2m-1 0h2m1 0h2m0 0h2m0 0h2m0 0h2m-1 0h2m-1 0h2m-1 0h2m-1 0h2m-1 0h2m-1 0h2m0 0h2m-1 0h2m-1 0h2m-1 0h2m-1 0h2m-1 0h2m-1 0h2m0 0h2m-1 0h2m-1 0h2m-1 0h2m-1 0h2m-1 0h2m-1 0h2m-1 0h2m-1 0h2m0 0h2m-1 0h2m-1 0h2m0 0h2m-1 0h2m1 0h2m-1 0h2m0 0h2m0 0h2m-1 0h2m8 0h2m-75 1h2m2 0h2m4 0h2m-1 0h2m0 0h2m-1 0h2m1 0h2m-1 0h2m-1 0h2m-1 0h2m-1 0h2m0 0h2m1 0h2m-1 0h2m-1 0h2m-1 0h2m-1 0h2m-1 0h2m-1 0h2m-1 0h2m-1 0h2m-1 0h2m-1 0h2m-1 0h2m-1 0h2m-1 0h2m-1 0h2m-1 0h2m0 0h2m-1 0h2m-1 0h2m-1 0h2m0 0h2m-1 0h2m0 0h2m-1 0h2m1 0h2m2 0h2m0 0h2m0 0h2m-1 0h2m-1 0h2m1 0h2m5 0h2m16 0h2m-99 1h2m2 0h2m5 0h2m-1 0h2m2 0h2m-1 0h2m-1 0h2m0 0h2m0 0h2m-1 0h2m-1 0h2m-1 0h2m-1 0h2m-1 0h2m-1 0h2m-1 0h2m0 0h2m-1 0h2m-1 0h2m-1 0h2m-1 0h2m0 0h2m-1 0h2m-1 0h2m-1 0h2m-1 0h2m-1 0h2m-1 0h2m0 0h2m-1 0h2m-1 0h2m-1 0h2m-1 0h2m-1 0h2m-1 0h2m2 0h2m-1 0h2m-1 0h2m-1 0h2m-1 0h2m-1 0h2m0 0h2m-1 0h2m-1 0h2m0 0h2m2 0h2m4 0h2m4 0h2m-72 1h2m1 0h2m0 0h2m1 0h2m0 0h2m0 0h2m0 0h2m0 0h2m1 0h2m-1 0h2m-1 0h2m0 0h2m-1 0h2m-1 0h2m-1 0h2m-1 0h2m-1 0h2m-1 0h2m0 0h2m-1 0h2m-1 0h2m0 0h2m-1 0h2m-1 0h2m-1 0h2m-1 0h2m2 0h2m0 0h2m0 0h2m1 0h2m-1 0h2m1 0h2m-1 0h2m3 0h2m-1 0h2m8 0h2m-83 1h2m-1 0h2m4 0h2m0 0h2m0 0h2m0 0h2m3 0h2m-1 0h2m0 0h2m2 0h2m-1 0h2m-1 0h2m-1 0h2m1 0h2m-1 0h2m-1 0h2m-1 0h2m-1 0h2m0 0h2m-1 0h2m-1 0h2m-1 0h2m-1 0h2m-1 0h2m-1 0h2m-1 0h2m-1 0h2m-1 0h2m-1 0h2m-1 0h2m-1 0h2m-1 0h2m-1 0h2m-1 0h2m-1 0h2m-1 0h2m2 0h2m-1 0h2m1 0h2m-1 0h2m-1 0h2m2 0h2m0 0h2m-70 1h2m9 0h2m3 0h2m0 0h2m0 0h2m-1 0h2m0 0h2m1 0h2m-1 0h2m-1 0h2m-1 0h2m-1 0h2m0 0h2m-1 0h2m-1 0h2m-1 0h2m-1 0h2m-1 0h2m-1 0h2m1 0h2m-1 0h2m-1 0h2m-1 0h2m-1 0h2m-1 0h2m-1 0h2m0 0h2m-1 0h2m-1 0h2m-1 0h2m-1 0h2m0 0h2m0 0h2m2 0h2m-62 1h2m1 0h2m-1 0h2m1 0h2m-1 0h2m0 0h2m-1 0h2m1 0h2m0 0h2m-1 0h2m-1 0h2m-1 0h2m-1 0h2m-1 0h2m-1 0h2m0 0h2m1 0h2m-1 0h2m-1 0h2m-1 0h2m0 0h2m-1 0h2m-1 0h2m-1 0h2m-1 0h2m-1 0h2m-1 0h2m-1 0h2m-1 0h2m-1 0h2m-1 0h2m-1 0h2m-1 0h2m0 0h2m3 0h2m-1 0h2m1 0h2m0 0h2m0 0h2m0 0h2m0 0h2m-1 0h2m10 0h2m-1 0h2m-1 0h2m-91 1h2m15 0h2m0 0h2m-1 0h2m-1 0h2m0 0h2m3 0h2m1 0h2m-1 0h2m-1 0h2m-1 0h2m-1 0h2m-1 0h2m-1 0h2m-1 0h2m-1 0h2m-1 0h2m-1 0h2m-1 0h2m-1 0h2m-1 0h2m-1 0h2m-1 0h2m-1 0h2m0 0h2m-1 0h2m0 0h2m-1 0h2m-1 0h2m0 0h2m-1 0h2m-1 0h2m0 0h2m-1 0h2m0 0h2m-1 0h2m-1 0h2m-1 0h2m0 0h2m-1 0h2m-1 0h2m3 0h2m-1 0h2m2 0h2m-84 1h2m19 0h2m-1 0h2m0 0h2m-1 0h2m1 0h2m2 0h2m-1 0h2m-1 0h2m-1 0h2m-1 0h2m-1 0h2m1 0h2m0 0h2m-1 0h2m0 0h2m-1 0h2m0 0h2m-1 0h2m-1 0h2m-1 0h2m-1 0h2m0 0h2m-1 0h2m-1 0h2m1 0h2m-1 0h2m1 0h2m1 0h2m-1 0h2m2 0h2m0 0h2m3 0h2m7 0h2m3 0h2m-91 1h2m16 0h2m0 0h2m1 0h2m0 0h2m-1 0h2m-1 0h2m0 0h2m0 0h2m-1 0h2m0 0h2m-1 0h2m0 0h2m0 0h2m0 0h2m-1 0h2m-1 0h2m-1 0h2m-1 0h2m-1 0h2m0 0h2m-1 0h2m-1 0h2m0 0h2m2 0h2m-1 0h2m3 0h2m2 0h2m2 0h2m2 0h2m0 0h2m30 0h2m-106 1h2m4 0h2m2 0h2m2 0h2m-1 0h2m-1 0h2m0 0h2m-1 0h2m-1 0h2m0 0h2m4 0h2m0 0h2m0 0h2m-1 0h2m-1 0h2m0 0h2m0 0h2m-1 0h2m-1 0h2m1 0h2m1 0h2m-1 0h2m-1 0h2m-1 0h2m-1 0h2m-1 0h2m1 0h2m-1 0h2m0 0h2m-1 0h2m0 0h2m1 0h2m23 0h2m-89 1h2m8 0h2m0 0h2m-1 0h2m-1 0h2m-1 0h2m-1 0h2m2 0h2m-1 0h2m0 0h2m-1 0h2m1 0h2m1 0h2m0 0h2m-1 0h2m-1 0h2m-1 0h2m1 0h2m-1 0h2m0 0h2m-1 0h2m0 0h2m0 0h2m0 0h2m0 0h2m5 0h2m-1 0h2m1 0h2m5 0h2m-79 1h2m3 0h2m14 0h2m0 0h2m-1 0h2m1 0h2m0 0h2m-1 0h2m0 0h2m2 0h2m0 0h2m-1 0h2m-1 0h2m-1 0h2m-1 0h2m-1 0h2m-1 0h2m-1 0h2m-1 0h2m-1 0h2m-1 0h2m-1 0h2m0 0h2m-1 0h2m0 0h2m2 0h2m-1 0h2m-1 0h2m7 0h2m0 0h2m1 0h2m12 0h2m80 0h2m1 0h2m-155 1h2m0 0h2m0 0h2m1 0h2m0 0h2m-1 0h2m-1 0h2m-1 0h2m-1 0h2m-1 0h2m-1 0h2m1 0h2m2 0h2m-1 0h2m0 0h2m4 0h2m-1 0h2m-1 0h2m-1 0h2m-1 0h2m-1 0h2m-1 0h2m0 0h2m-1 0h2m-1 0h2m-1 0h2m1 0h2m-1 0h2m-1 0h2m0 0h2m2 0h2m-1 0h2m1 0h2m63 0h2m-137 1h2m0 0h2m7 0h2m4 0h2m0 0h2m-1 0h2m5 0h2m0 0h2m-1 0h2m-1 0h2m1 0h2m0 0h2m-1 0h2m0 0h2m0 0h2m-1 0h2m-1 0h2m-1 0h2m1 0h2m-1 0h2m1 0h2m-1 0h2m-1 0h2m-1 0h2m-1 0h2m8 0h2m0 0h2m-58 1h2m10 0h2m0 0h2m-1 0h2m0 0h2m-1 0h2m0 0h2m0 0h2m-1 0h2m-1 0h2m-1 0h2m-1 0h2m2 0h2m3 0h2m-1 0h2m1 0h2m0 0h2m5 0h2m5 0h2m-69 1h2m7 0h2m2 0h2m1 0h2m0 0h2m1 0h2m2 0h2m-1 0h2m1 0h2m-1 0h2m1 0h2m-1 0h2m0 0h2m-1 0h2m1 0h2m0 0h2m0 0h2m-1 0h2m-1 0h2m1 0h2m-1 0h2m-1 0h2m2 0h2m-1 0h2m-1 0h2m-1 0h2m-1 0h2m0 0h2m-1 0h2m-1 0h2m-51 1h2m-1 0h2m-1 0h2m2 0h2m0 0h2m0 0h2m-1 0h2m0 0h2m3 0h2m-1 0h2m1 0h2m0 0h2m-1 0h2m0 0h2m0 0h2m4 0h2m6 0h2m5 0h2m-66 1h2m9 0h2m3 0h2m10 0h2m1 0h2m-1 0h2m0 0h2m0 0h2m1 0h2m-1 0h2m0 0h2m2 0h2m-1 0h2m6 0h2m-1 0h2m9 0h2m-63 1h2m0 0h2m16 0h2m1 0h2m4 0h2m0 0h2m1 0h2m0 0h2m2 0h2m5 0h2m2 0h2m-1 0h2m1 0h2m117 0h2m-182 1h2m3 0h2m4 0h2m-1 0h2m4 0h2m0 0h2m3 0h2m-1 0h2m1 0h2m-1 0h2m5 0h2m-1 0h2m-1 0h2m2 0h2m1 0h2m-1 0h2m4 0h2m10 0h2m-1 0h2m-72 1h2m15 0h2m1 0h2m2 0h2m-1 0h2m0 0h2m0 0h2m-1 0h2m0 0h2m5 0h2m4 0h2m1 0h2m2 0h2m1 0h2m13 0h2m-49 1h2m-1 0h2m2 0h2m0 0h2m1 0h2m10 0h2m3 0h2m-1 0h2m0 0h2m8 0h2m-57 1h2m8 0h2m3 0h2m3 0h2m-1 0h2m1 0h2m-1 0h2m6 0h2m0 0h2m7 0h2m24 0h2m62 0h2m-127 1h2m2 0h2m5 0h2m8 0h2m4 0h2m2 0h2m0 0h2m8 0h2m-56 1h2m6 0h2m9 0h2m4 0h2m3 0h2m5 0h2m3 0h2m-1 0h2m0 0h2m0 0h2m4 0h2m98 0h2m-168 1h2m21 0h2m3 0h2m0 0h2m4 0h2m1 0h2m1 0h2m7 0h2m1 0h2m8 0h2m0 0h2m-44 1h2m4 0h2m2 0h2m6 0h2m1 0h2m3 0h2m4 0h2m5 0h2m4 0h2m-39 1h2m-1 0h2m10 0h2m3 0h2m5 0h2m4 0h2m-38 1h2m4 0h2m5 0h2m0 0h2m7 0h2m11 0h2m42 0h2m-93 1h2m3 0h2m1 0h2m32 0h2m-41 1h2m5 0h2m3 0h2m2 0h2m8 0h2m0 0h2m12 0h2m15 0h2m-74 1h2m30 0h2m7 0h2m7 0h2m-38 1h2m12 0h2m-1 0h2m-12 1h2m2 0h2m0 0h2m7 0h2m100 1h2m-104 1h2m2 2h2m7 0h2m2 0h2m-29 3h2" stroke="#e8151b" stroke-width="1.5" fill="none"/>
<rect x="393.5" y="1541.8" width="239" height="244.5" fill="none" stroke="#000" stroke-width="1.3"/>
<line x1="498.4" y1="1541.8" x2="498.4" y2="1786.3" stroke="#000" stroke-width="1.3"/>
<line x1="393.5" y1="1685.8" x2="632.5" y2="1685.8" stroke="#000" stroke-width="1.3"/>
<path d="M393.5,1786.3v6M393.5,1786.3h-6M411.5,1786.3v3M393.5,1767.9h-3M422.0,1786.3v3M393.5,1757.1h-3M429.5,1786.3v3M393.5,1749.5h-3M435.3,1786.3v3M393.5,1743.6h-3M440.0,1786.3v3M393.5,1738.7h-3M444.0,1786.3v3M393.5,1734.6h-3M447.5,1786.3v3M393.5,1731.1h-3M450.5,1786.3v3M393.5,1728.0h-3M453.2,1786.3v6M393.5,1725.2h-6M471.2,1786.3v3M393.5,1706.8h-3M481.8,1786.3v3M393.5,1696.0h-3M489.2,1786.3v3M393.5,1688.4h-3M495.0,1786.3v3M393.5,1682.5h-3M499.7,1786.3v3M393.5,1677.6h-3M503.7,1786.3v3M393.5,1673.5h-3M507.2,1786.3v3M393.5,1670.0h-3M510.3,1786.3v3M393.5,1666.8h-3M513.0,1786.3v6M393.5,1664.0h-6M531.0,1786.3v3M393.5,1645.6h-3M541.5,1786.3v3M393.5,1634.9h-3M549.0,1786.3v3M393.5,1627.2h-3M554.8,1786.3v3M393.5,1621.3h-3M559.5,1786.3v3M393.5,1616.5h-3M563.5,1786.3v3M393.5,1612.4h-3M567.0,1786.3v3M393.5,1608.8h-3M570.0,1786.3v3M393.5,1605.7h-3M572.8,1786.3v6M393.5,1602.9h-6M590.7,1786.3v3M393.5,1584.5h-3M601.3,1786.3v3M393.5,1573.8h-3M608.7,1786.3v3M393.5,1566.1h-3M614.5,1786.3v3M393.5,1560.2h-3M619.2,1786.3v3M393.5,1555.4h-3M623.2,1786.3v3M393.5,1551.3h-3M626.7,1786.3v3M393.5,1547.7h-3M629.8,1786.3v3M393.5,1544.6h-3M632.5,1786.3v6M393.5,1541.8h-6" stroke="#000" stroke-width="1" fill="none"/>
<text x="394.0" y="1805.3" font-size="13" text-anchor="middle" style="font-weight:normal">10<tspan font-size="10.5" dy="-5.5">0</tspan></text>
<text transform="translate(384.8,1787.3) rotate(-90)" font-size="13" text-anchor="middle" style="font-weight:normal">10<tspan font-size="10.5" dy="-5.5">0</tspan></text>
<text x="453.8" y="1805.3" font-size="13" text-anchor="middle" style="font-weight:normal">10<tspan font-size="10.5" dy="-5.5">1</tspan></text>
<text transform="translate(384.8,1726.2) rotate(-90)" font-size="13" text-anchor="middle" style="font-weight:normal">10<tspan font-size="10.5" dy="-5.5">1</tspan></text>
<text x="513.5" y="1805.3" font-size="13" text-anchor="middle" style="font-weight:normal">10<tspan font-size="10.5" dy="-5.5">2</tspan></text>
<text transform="translate(384.8,1665.0) rotate(-90)" font-size="13" text-anchor="middle" style="font-weight:normal">10<tspan font-size="10.5" dy="-5.5">2</tspan></text>
<text x="573.2" y="1805.3" font-size="13" text-anchor="middle" style="font-weight:normal">10<tspan font-size="10.5" dy="-5.5">3</tspan></text>
<text transform="translate(384.8,1603.9) rotate(-90)" font-size="13" text-anchor="middle" style="font-weight:normal">10<tspan font-size="10.5" dy="-5.5">3</tspan></text>
<text x="633.0" y="1805.3" font-size="13" text-anchor="middle" style="font-weight:normal">10<tspan font-size="10.5" dy="-5.5">4</tspan></text>
<text transform="translate(384.8,1542.8) rotate(-90)" font-size="13" text-anchor="middle" style="font-weight:normal">10<tspan font-size="10.5" dy="-5.5">4</tspan></text>
<text x="510.5" y="1816.3" font-size="10.9" text-anchor="middle" style="font-weight:normal">ANNEXIN-V- FITC</text>
<text x="369.5" y="1665.3" font-size="10.5" text-anchor="middle" style="font-weight:normal" transform="rotate(-90 369.5 1665.3)">PI</text>
<text x="400.0" y="1573.4" font-size="25.5" stroke="#000" stroke-width="0.4">0.94%</text>
<text x="621.1" y="1573.4" font-size="25.5" text-anchor="end" stroke="#000" stroke-width="0.4">2.32%</text>
<text x="400.0" y="1773.6" font-size="25.5" stroke="#000" stroke-width="0.4">96.13%</text>
<text x="621.1" y="1773.6" font-size="25.5" text-anchor="end" stroke="#000" stroke-width="0.4">0.62%</text>
<text x="785.0" y="1522.0" font-size="25.8" text-anchor="middle" stroke="#000" stroke-width="0.4">NC+siVEGFA</text>
<path transform="translate(679.5,1786.3)" d="M187-214h2m-18 10h2m1 2h2m-39 1h2m6 1h2m34 0h2m-68 2h2m47 1h2m-1 0h2m10 1h2m-24 1h2m0 0h2m5 0h2m-37 1h2m6 0h2m1 0h2m6 0h2m9 0h2m-1 0h2m4 0h2m23 0h2m-65 1h2m18 0h2m14 0h2m41 0h2m-94 1h2m27 0h2m33 0h2m-77 1h2m31 0h2m0 0h2m-31 1h2m0 0h2m60 0h2m-1 0h2m-35 1h2m40 0h2m0 0h2m-51 1h2m12 0h2m20 0h2m0 0h2m-62 1h2m8 0h2m2 0h2m0 0h2m11 0h2m1 0h2m1 0h2m-1 0h2m8 0h2m-1 0h2m8 0h2m-70 1h2m17 0h2m15 0h2m3 0h2m0 0h2m4 0h2m10 0h2m0 0h2m8 0h2m-50 1h2m1 0h2m1 0h2m-1 0h2m5 0h2m7 0h2m1 0h2m13 0h2m-1 0h2m-57 1h2m-1 0h2m15 0h2m5 0h2m-1 0h2m4 0h2m4 0h2m3 0h2m14 0h2m6 0h2m4 0h2m-150 1h2m85 0h2m10 0h2m0 0h2m0 0h2m15 0h2m-66 1h2m35 0h2m12 0h2m0 0h2m17 0h2m-1 0h2m0 0h2m8 0h2m-1 0h2m-58 1h2m-1 0h2m4 0h2m4 0h2m4 0h2m6 0h2m4 0h2m8 0h2m14 0h2m8 0h2m-155 1h2m65 0h2m9 0h2m4 0h2m-1 0h2m5 0h2m0 0h2m-1 0h2m7 0h2m0 0h2m-1 0h2m1 0h2m3 0h2m-1 0h2m0 0h2m14 0h2m0 0h2m30 0h2m-96 1h2m7 0h2m3 0h2m4 0h2m2 0h2m4 0h2m8 0h2m4 0h2m7 0h2m14 0h2m-75 1h2m6 0h2m8 0h2m3 0h2m8 0h2m6 0h2m-1 0h2m24 0h2m2 0h2m-72 1h2m4 0h2m1 0h2m2 0h2m2 0h2m3 0h2m5 0h2m4 0h2m4 0h2m0 0h2m2 0h2m-1 0h2m-62 1h2m2 0h2m19 0h2m0 0h2m-1 0h2m3 0h2m0 0h2m2 0h2m0 0h2m-1 0h2m-1 0h2m-1 0h2m0 0h2m-1 0h2m-1 0h2m8 0h2m0 0h2m2 0h2m0 0h2m11 0h2m-115 1h2m27 0h2m14 0h2m-1 0h2m-1 0h2m-1 0h2m-1 0h2m10 0h2m-1 0h2m2 0h2m0 0h2m1 0h2m-1 0h2m-1 0h2m3 0h2m0 0h2m-1 0h2m1 0h2m-1 0h2m-1 0h2m1 0h2m-1 0h2m0 0h2m13 0h2m5 0h2m12 0h2m-83 1h2m-1 0h2m2 0h2m9 0h2m-1 0h2m-1 0h2m3 0h2m0 0h2m-1 0h2m-1 0h2m-1 0h2m-1 0h2m0 0h2m0 0h2m0 0h2m0 0h2m3 0h2m9 0h2m5 0h2m0 0h2m1 0h2m-109 1h2m27 0h2m8 0h2m6 0h2m1 0h2m2 0h2m0 0h2m0 0h2m0 0h2m5 0h2m-1 0h2m0 0h2m1 0h2m0 0h2m-1 0h2m-1 0h2m4 0h2m5 0h2m1 0h2m2 0h2m0 0h2m0 0h2m-63 1h2m2 0h2m0 0h2m2 0h2m-1 0h2m1 0h2m-1 0h2m-1 0h2m0 0h2m0 0h2m0 0h2m0 0h2m1 0h2m-1 0h2m2 0h2m1 0h2m1 0h2m7 0h2m1 0h2m2 0h2m5 0h2m1 0h2m-87 1h2m1 0h2m1 0h2m10 0h2m9 0h2m1 0h2m3 0h2m-1 0h2m0 0h2m1 0h2m2 0h2m5 0h2m3 0h2m0 0h2m0 0h2m-1 0h2m1 0h2m3 0h2m-1 0h2m0 0h2m2 0h2m-1 0h2m-109 1h2m16 0h2m4 0h2m3 0h2m24 0h2m0 0h2m9 0h2m0 0h2m-1 0h2m2 0h2m3 0h2m1 0h2m2 0h2m-1 0h2m-1 0h2m2 0h2m-1 0h2m0 0h2m6 0h2m2 0h2m-154 1h2m89 0h2m3 0h2m11 0h2m2 0h2m5 0h2m-1 0h2m-1 0h2m0 0h2m-1 0h2m0 0h2m-1 0h2m-1 0h2m5 0h2m3 0h2m0 0h2m2 0h2m-1 0h2m-1 0h2m-1 0h2m2 0h2m16 0h2m-133 1h2m25 0h2m8 0h2m3 0h2m1 0h2m13 0h2m-1 0h2m-1 0h2m-1 0h2m-1 0h2m-1 0h2m0 0h2m-1 0h2m-1 0h2m0 0h2m1 0h2m-1 0h2m2 0h2m12 0h2m1 0h2m-1 0h2m0 0h2m3 0h2m2 0h2m-1 0h2m3 0h2m18 0h2m-103 1h2m8 0h2m2 0h2m1 0h2m0 0h2m1 0h2m-1 0h2m4 0h2m-1 0h2m1 0h2m7 0h2m-1 0h2m2 0h2m-1 0h2m-1 0h2m-1 0h2m8 0h2m0 0h2m-1 0h2m3 0h2m-56 1h2m2 0h2m-1 0h2m1 0h2m3 0h2m2 0h2m0 0h2m5 0h2m-1 0h2m13 0h2m3 0h2m7 0h2m-1 0h2m2 0h2m3 0h2m16 0h2m-83 1h2m3 0h2m9 0h2m0 0h2m-1 0h2m9 0h2m1 0h2m1 0h2m2 0h2m0 0h2m1 0h2m-1 0h2m2 0h2m0 0h2m16 0h2m-96 1h2m31 0h2m0 0h2m-1 0h2m2 0h2m-1 0h2m0 0h2m4 0h2m0 0h2m-1 0h2m1 0h2m2 0h2m-1 0h2m-1 0h2m-1 0h2m-1 0h2m3 0h2m-1 0h2m-1 0h2m4 0h2m1 0h2m-141 1h2m47 0h2m29 0h2m1 0h2m-1 0h2m0 0h2m1 0h2m3 0h2m6 0h2m-1 0h2m4 0h2m0 0h2m2 0h2m1 0h2m-1 0h2m-1 0h2m2 0h2m4 0h2m0 0h2m-1 0h2m9 0h2m-139 1h2m68 0h2m0 0h2m4 0h2m2 0h2m-1 0h2m0 0h2m1 0h2m1 0h2m-1 0h2m4 0h2m22 0h2m0 0h2m-1 0h2m7 0h2m15 0h2m-128 1h2m35 0h2m1 0h2m1 0h2m10 0h2m-1 0h2m0 0h2m1 0h2m2 0h2m7 0h2m-1 0h2m-1 0h2m1 0h2m1 0h2m2 0h2m-1 0h2m6 0h2m1 0h2m24 0h2m-94 1h2m16 0h2m3 0h2m1 0h2m-1 0h2m1 0h2m5 0h2m2 0h2m0 0h2m4 0h2m-1 0h2m3 0h2m-1 0h2m0 0h2m-1 0h2m0 0h2m1 0h2m14 0h2m2 0h2m0 0h2m-81 1h2m2 0h2m2 0h2m9 0h2m4 0h2m-1 0h2m3 0h2m5 0h2m0 0h2m0 0h2m0 0h2m0 0h2m2 0h2m-1 0h2m0 0h2m3 0h2m5 0h2m2 0h2m-151 1h2m43 0h2m36 0h2m1 0h2m2 0h2m-1 0h2m-1 0h2m-1 0h2m3 0h2m5 0h2m1 0h2m0 0h2m-1 0h2m0 0h2m0 0h2m-1 0h2m5 0h2m1 0h2m-1 0h2m3 0h2m0 0h2m-1 0h2m-1 0h2m0 0h2m-1 0h2m9 0h2m-66 1h2m-1 0h2m7 0h2m1 0h2m5 0h2m0 0h2m-1 0h2m0 0h2m0 0h2m2 0h2m0 0h2m2 0h2m0 0h2m0 0h2m-1 0h2m-1 0h2m-1 0h2m1 0h2m-1 0h2m1 0h2m-1 0h2m13 0h2m1 0h2m14 0h2m-91 1h2m7 0h2m0 0h2m0 0h2m14 0h2m1 0h2m4 0h2m-1 0h2m3 0h2m22 0h2m-57 1h2m-1 0h2m1 0h2m-1 0h2m1 0h2m-1 0h2m2 0h2m3 0h2m-1 0h2m5 0h2m0 0h2m7 0h2m11 0h2m-56 1h2m2 0h2m3 0h2m4 0h2m-1 0h2m0 0h2m8 0h2m2 0h2m-1 0h2m0 0h2m5 0h2m3 0h2m-77 1h2m19 0h2m1 0h2m22 0h2m0 0h2m1 0h2m2 0h2m3 0h2m-1 0h2m2 0h2m7 0h2m29 0h2m20 0h2m-122 1h2m5 0h2m4 0h2m19 0h2m-1 0h2m11 0h2m-1 0h2m5 0h2m1 0h2m0 0h2m-1 0h2m-43 1h2m0 0h2m1 0h2m0 0h2m4 0h2m5 0h2m6 0h2m-1 0h2m-1 0h2m0 0h2m-1 0h2m2 0h2m0 0h2m10 0h2m2 0h2m12 0h2m-99 1h2m21 0h2m13 0h2m0 0h2m5 0h2m2 0h2m-1 0h2m5 0h2m14 0h2m-124 1h2m57 0h2m8 0h2m0 0h2m10 0h2m9 0h2m4 0h2m1 0h2m0 0h2m34 0h2m-77 1h2m5 0h2m-1 0h2m10 0h2m-28 1h2m27 0h2m3 0h2m2 0h2m0 0h2m0 0h2m-1 0h2m17 0h2m1 0h2m12 0h2m-159 1h2m81 0h2m4 0h2m14 0h2m15 0h2m6 0h2m23 0h2m-92 1h2m33 0h2m9 0h2m2 0h2m32 0h2m-101 1h2m53 0h2m8 0h2m2 0h2m1 0h2m5 0h2m-84 1h2m33 0h2m13 0h2m0 0h2m6 0h2m4 0h2m2 0h2m12 0h2m-49 1h2m27 0h2m0 0h2m3 0h2m5 0h2m1 0h2m27 0h2m-112 1h2m16 0h2m-1 0h2m50 0h2m-51 1h2m21 0h2m0 0h2m12 0h2m2 0h2m14 0h2m12 0h2m-70 1h2m28 0h2m1 0h2m23 0h2m4 0h2m-47 1h2m7 0h2m22 0h2m-111 1h2m7 0h2m77 1h2m24 0h2m8 0h2m-44 1h2m-1 0h2m6 0h2m-108 1h2m94 0h2m6 0h2m1 0h2m0 0h2m-1 0h2m1 0h2m2 0h2m3 0h2m13 0h2m-129 1h2m84 0h2m15 0h2m13 0h2m-69 1h2m39 0h2m7 0h2m13 0h2m24 0h2m-101 1h2m96 0h2m-134 1h2m35 0h2m42 0h2m1 0h2m-67 1h2m18 0h2m9 0h2m27 0h2m16 0h2m-123 1h2m56 0h2m49 0h2m9 0h2m24 0h2m-142 1h2m72 0h2m55 0h2m17 0h2m-90 1h2m2 0h2m24 0h2m4 0h2m10 0h2m-1 0h2m1 0h2m10 0h2m-66 1h2m-1 0h2m21 0h2m5 0h2m0 0h2m6 0h2m-1 0h2m16 0h2m-18 1h2m-1 0h2m18 0h2m26 0h2m-93 1h2m17 0h2m45 0h2m8 0h2m-59 1h2m11 0h2m4 0h2m21 0h2m-100 1h2m32 0h2m1 0h2m29 0h2m1 0h2m28 0h2m-76 1h2m6 0h2m16 0h2m8 0h2m13 0h2m2 0h2m-40 1h2m20 0h2m25 0h2m11 0h2m-1 0h2m-120 1h2m51 0h2m18 0h2m0 0h2m40 0h2m-138 1h2m39 0h2m18 0h2m47 0h2m21 0h2m11 0h2m-107 1h2m35 0h2m0 0h2m29 0h2m11 0h2m-116 1h2m43 0h2m19 0h2m12 0h2m-1 0h2m-84 1h2m60 0h2m14 0h2m8 0h2m4 0h2m-1 0h2m14 0h2m-95 1h2m47 0h2m19 0h2m7 0h2m27 0h2m-115 1h2m39 0h2m26 0h2m6 0h2m6 0h2m5 0h2m13 0h2m4 0h2m-95 1h2m41 0h2m7 0h2m9 0h2m0 0h2m-114 1h2m65 0h2m18 0h2m3 0h2m26 0h2m4 0h2m52 0h2m-124 1h2m29 0h2m-14 1h2m1 0h2m10 0h2m20 0h2m-59 1h2m35 0h2m9 0h2m7 0h2m39 0h2m-67 1h2m45 0h2m-83 1h2m6 0h2m23 0h2m37 0h2m3 0h2m-71 1h2m15 0h2m2 0h2m16 0h2m-1 0h2m-46 1h2m14 0h2m-17 1h2m7 0h2m20 0h2m16 0h2m1 0h2m-62 1h2m1 0h2m49 0h2m2 0h2m-1 0h2m37 0h2m-111 1h2m16 0h2m16 0h2m44 0h2m-56 1h2m9 0h2m0 0h2m1 0h2m35 0h2m6 0h2m1 0h2m-75 1h2m0 0h2m-1 0h2m15 0h2m27 0h2m-1 0h2m-62 1h2m16 0h2m17 0h2m4 0h2m7 0h2m40 0h2m2 0h2m13 0h2m-114 1h2m11 0h2m10 0h2m7 0h2m-12 1h2m57 0h2m19 0h2m-42 1h2m22 0h2m-87 1h2m1 0h2m23 0h2m43 0h2m37 0h2m11 0h2m-146 1h2m17 0h2m20 0h2m27 0h2m0 0h2m40 0h2m1 0h2m-99 1h2m0 0h2m6 0h2m16 0h2m27 0h2m-87 1h2m11 0h2m20 0h2m0 0h2m14 0h2m16 0h2m16 0h2m7 0h2m-88 1h2m-1 0h2m35 0h2m60 0h2m-64 1h2m1 0h2m3 0h2m16 0h2m8 0h2m50 0h2m-119 1h2m-1 0h2m12 0h2m4 0h2m36 0h2m4 0h2m-83 1h2m2 0h2m-1 0h2m1 0h2m1 0h2m4 0h2m2 0h2m10 0h2m7 0h2m4 0h2m28 0h2m21 0h2m18 0h2m-138 1h2m18 0h2m5 0h2m21 0h2m3 0h2m2 0h2m9 0h2m15 0h2m29 0h2m26 0h2m-136 1h2m4 0h2m2 0h2m-1 0h2m9 0h2m14 0h2m5 0h2m34 0h2m-90 1h2m10 0h2m15 0h2m3 0h2m12 0h2m16 0h2m1 0h2m22 0h2m0 0h2m43 0h2m-145 1h2m8 0h2m-1 0h2m-1 0h2m5 0h2m17 0h2m5 0h2m10 0h2m22 0h2m-60 1h2m4 0h2m2 0h2m7 0h2m11 0h2m19 0h2m9 0h2m28 0h2m27 0h2m6 0h2m-159 1h2m9 0h2m0 0h2m0 0h2m3 0h2m2 0h2m3 0h2m0 0h2m12 0h2m1 0h2m14 0h2m13 0h2m-82 1h2m13 0h2m7 0h2m5 0h2m4 0h2m4 0h2m-1 0h2m31 0h2m27 0h2m12 0h2m-113 1h2m0 0h2m-1 0h2m1 0h2m0 0h2m9 0h2m1 0h2m-1 0h2m0 0h2m0 0h2m-1 0h2m-1 0h2m15 0h2m2 0h2m1 0h2m-1 0h2m18 0h2m19 0h2m3 0h2m6 0h2m16 0h2m19 0h2m-172 1h2m8 0h2m-1 0h2m31 0h2m1 0h2m-1 0h2m-1 0h2m0 0h2m-1 0h2m-1 0h2m2 0h2m0 0h2m10 0h2m4 0h2m15 0h2m-93 1h2m13 0h2m9 0h2m3 0h2m1 0h2m2 0h2m-1 0h2m4 0h2m3 0h2m6 0h2m-1 0h2m-1 0h2m1 0h2m-1 0h2m5 0h2m-69 1h2m26 0h2m1 0h2m-1 0h2m-1 0h2m1 0h2m-1 0h2m1 0h2m1 0h2m-1 0h2m0 0h2m6 0h2m2 0h2m4 0h2m16 0h2m3 0h2m-94 1h2m2 0h2m2 0h2m6 0h2m6 0h2m0 0h2m1 0h2m1 0h2m-1 0h2m0 0h2m-1 0h2m-1 0h2m-1 0h2m-1 0h2m0 0h2m7 0h2m0 0h2m2 0h2m-1 0h2m-1 0h2m2 0h2m-1 0h2m-1 0h2m-1 0h2m53 0h2m-118 1h2m9 0h2m11 0h2m0 0h2m0 0h2m5 0h2m2 0h2m2 0h2m0 0h2m5 0h2m-1 0h2m-1 0h2m-1 0h2m3 0h2m0 0h2m-1 0h2m-1 0h2m-1 0h2m3 0h2m14 0h2m18 0h2m33 0h2m22 0h2m-154 1h2m4 0h2m2 0h2m-1 0h2m-1 0h2m6 0h2m-1 0h2m-1 0h2m2 0h2m-1 0h2m0 0h2m0 0h2m-1 0h2m1 0h2m2 0h2m0 0h2m-1 0h2m5 0h2m0 0h2m7 0h2m59 0h2m-121 1h2m5 0h2m1 0h2m-1 0h2m2 0h2m-1 0h2m1 0h2m4 0h2m0 0h2m1 0h2m0 0h2m-1 0h2m-1 0h2m1 0h2m-1 0h2m-1 0h2m-1 0h2m-1 0h2m2 0h2m-1 0h2m2 0h2m11 0h2m35 0h2m3 0h2m14 0h2m23 0h2m-164 1h2m6 0h2m0 0h2m0 0h2m4 0h2m6 0h2m-1 0h2m2 0h2m0 0h2m4 0h2m-1 0h2m-1 0h2m-1 0h2m-1 0h2m1 0h2m-1 0h2m1 0h2m-1 0h2m2 0h2m-1 0h2m6 0h2m-1 0h2m3 0h2m5 0h2m66 0h2m2 0h2m-144 1h2m-1 0h2m2 0h2m3 0h2m1 0h2m4 0h2m-1 0h2m2 0h2m4 0h2m-1 0h2m-1 0h2m-1 0h2m-1 0h2m0 0h2m-1 0h2m0 0h2m4 0h2m-1 0h2m4 0h2m-1 0h2m6 0h2m10 0h2m0 0h2m3 0h2m1 0h2m-1 0h2m29 0h2m-113 1h2m4 0h2m1 0h2m-1 0h2m-1 0h2m-1 0h2m-1 0h2m3 0h2m-1 0h2m0 0h2m1 0h2m-1 0h2m0 0h2m-1 0h2m0 0h2m-1 0h2m-1 0h2m1 0h2m-1 0h2m1 0h2m-1 0h2m0 0h2m4 0h2m0 0h2m0 0h2m-1 0h2m1 0h2m19 0h2m4 0h2m-80 1h2m1 0h2m-1 0h2m0 0h2m-1 0h2m2 0h2m0 0h2m1 0h2m0 0h2m0 0h2m-1 0h2m3 0h2m-1 0h2m1 0h2m-1 0h2m5 0h2m5 0h2m0 0h2m1 0h2m-1 0h2m96 0h2m1 0h2m-184 1h2m15 0h2m-1 0h2m0 0h2m2 0h2m1 0h2m1 0h2m4 0h2m-1 0h2m1 0h2m-1 0h2m0 0h2m-1 0h2m-1 0h2m-1 0h2m-1 0h2m-1 0h2m0 0h2m0 0h2m0 0h2m-1 0h2m-1 0h2m-1 0h2m-1 0h2m0 0h2m1 0h2m1 0h2m0 0h2m2 0h2m4 0h2m-1 0h2m2 0h2m1 0h2m60 0h2m23 0h2m-172 1h2m15 0h2m1 0h2m1 0h2m11 0h2m-1 0h2m-1 0h2m0 0h2m-1 0h2m0 0h2m-1 0h2m-1 0h2m0 0h2m3 0h2m-1 0h2m3 0h2m0 0h2m-1 0h2m0 0h2m2 0h2m0 0h2m-1 0h2m0 0h2m0 0h2m-1 0h2m0 0h2m-1 0h2m51 0h2m-131 1h2m10 0h2m7 0h2m-1 0h2m1 0h2m-1 0h2m-1 0h2m0 0h2m0 0h2m-1 0h2m0 0h2m-1 0h2m-1 0h2m0 0h2m-1 0h2m-1 0h2m-1 0h2m2 0h2m-1 0h2m2 0h2m0 0h2m1 0h2m-1 0h2m-1 0h2m0 0h2m-1 0h2m-1 0h2m-1 0h2m0 0h2m3 0h2m0 0h2m1 0h2m2 0h2m3 0h2m9 0h2m-110 1h2m8 0h2m13 0h2m6 0h2m4 0h2m1 0h2m1 0h2m-1 0h2m-1 0h2m-1 0h2m0 0h2m-1 0h2m1 0h2m-1 0h2m-1 0h2m1 0h2m-1 0h2m-1 0h2m-1 0h2m-1 0h2m-1 0h2m-1 0h2m-1 0h2m2 0h2m0 0h2m9 0h2m2 0h2m0 0h2m1 0h2m8 0h2m5 0h2m47 0h2m21 0h2m-172 1h2m2 0h2m6 0h2m1 0h2m0 0h2m4 0h2m3 0h2m0 0h2m0 0h2m-1 0h2m-1 0h2m-1 0h2m1 0h2m-1 0h2m1 0h2m-1 0h2m0 0h2m4 0h2m-1 0h2m1 0h2m-1 0h2m-1 0h2m-1 0h2m-1 0h2m-1 0h2m-1 0h2m0 0h2m-1 0h2m2 0h2m-1 0h2m4 0h2m3 0h2m29 0h2m-108 1h2m0 0h2m6 0h2m2 0h2m2 0h2m0 0h2m-1 0h2m1 0h2m-1 0h2m-1 0h2m0 0h2m-1 0h2m0 0h2m-1 0h2m1 0h2m0 0h2m-1 0h2m-1 0h2m-1 0h2m-1 0h2m-1 0h2m0 0h2m0 0h2m0 0h2m0 0h2m0 0h2m0 0h2m-1 0h2m2 0h2m-1 0h2m1 0h2m-1 0h2m1 0h2m0 0h2m0 0h2m3 0h2m6 0h2m0 0h2m1 0h2m-83 1h2m1 0h2m2 0h2m-1 0h2m0 0h2m2 0h2m0 0h2m1 0h2m-1 0h2m-1 0h2m-1 0h2m0 0h2m2 0h2m-1 0h2m-1 0h2m0 0h2m0 0h2m0 0h2m-1 0h2m3 0h2m-1 0h2m0 0h2m0 0h2m0 0h2m-1 0h2m0 0h2m0 0h2m-1 0h2m-1 0h2m2 0h2m-1 0h2m-1 0h2m-1 0h2m14 0h2m1 0h2m-91 1h2m1 0h2m6 0h2m0 0h2m1 0h2m3 0h2m0 0h2m0 0h2m-1 0h2m0 0h2m-1 0h2m-1 0h2m-1 0h2m-1 0h2m0 0h2m-1 0h2m-1 0h2m0 0h2m1 0h2m0 0h2m-1 0h2m-1 0h2m-1 0h2m-1 0h2m0 0h2m-1 0h2m-1 0h2m0 0h2m-1 0h2m-1 0h2m-1 0h2m-1 0h2m-1 0h2m3 0h2m1 0h2m2 0h2m-1 0h2m-68 1h2m-1 0h2m0 0h2m-1 0h2m0 0h2m-1 0h2m0 0h2m3 0h2m-1 0h2m1 0h2m-1 0h2m1 0h2m1 0h2m-1 0h2m-1 0h2m-1 0h2m-1 0h2m2 0h2m-1 0h2m-1 0h2m1 0h2m0 0h2m0 0h2m-1 0h2m0 0h2m2 0h2m0 0h2m1 0h2m2 0h2m1 0h2m1 0h2m0 0h2m1 0h2m1 0h2m-1 0h2m0 0h2m-1 0h2m3 0h2m-80 1h2m3 0h2m0 0h2m1 0h2m-1 0h2m0 0h2m-1 0h2m2 0h2m-1 0h2m4 0h2m0 0h2m-1 0h2m-1 0h2m-1 0h2m1 0h2m0 0h2m0 0h2m0 0h2m-1 0h2m0 0h2m-1 0h2m-1 0h2m0 0h2m5 0h2m0 0h2m0 0h2m0 0h2m9 0h2m0 0h2m44 0h2m-135 1h2m9 0h2m5 0h2m-1 0h2m0 0h2m5 0h2m-1 0h2m-1 0h2m-1 0h2m-1 0h2m0 0h2m-1 0h2m-1 0h2m-1 0h2m0 0h2m-1 0h2m-1 0h2m-1 0h2m-1 0h2m0 0h2m1 0h2m1 0h2m-1 0h2m-1 0h2m-1 0h2m0 0h2m-1 0h2m-1 0h2m-1 0h2m0 0h2m-1 0h2m2 0h2m3 0h2m10 0h2m12 0h2m19 0h2m47 0h2m-169 1h2m-1 0h2m-1 0h2m0 0h2m0 0h2m3 0h2m1 0h2m0 0h2m5 0h2m-1 0h2m-1 0h2m0 0h2m1 0h2m-1 0h2m-1 0h2m0 0h2m-1 0h2m-1 0h2m0 0h2m-1 0h2m-1 0h2m-1 0h2m2 0h2m-1 0h2m-1 0h2m1 0h2m-1 0h2m-1 0h2m-1 0h2m0 0h2m0 0h2m-1 0h2m0 0h2m0 0h2m-1 0h2m1 0h2m-1 0h2m0 0h2m4 0h2m12 0h2m1 0h2m16 0h2m-103 1h2m1 0h2m-1 0h2m2 0h2m0 0h2m0 0h2m-1 0h2m1 0h2m-1 0h2m-1 0h2m-1 0h2m-1 0h2m-1 0h2m-1 0h2m1 0h2m-1 0h2m0 0h2m-1 0h2m0 0h2m-1 0h2m-1 0h2m-1 0h2m0 0h2m-1 0h2m-1 0h2m-1 0h2m1 0h2m-1 0h2m0 0h2m-1 0h2m-1 0h2m-1 0h2m-1 0h2m0 0h2m-1 0h2m-1 0h2m0 0h2m-1 0h2m0 0h2m-1 0h2m4 0h2m-1 0h2m-1 0h2m1 0h2m-88 1h2m19 0h2m-1 0h2m5 0h2m2 0h2m-1 0h2m-1 0h2m-1 0h2m-1 0h2m-1 0h2m-1 0h2m-1 0h2m-1 0h2m-1 0h2m-1 0h2m-1 0h2m-1 0h2m-1 0h2m-1 0h2m-1 0h2m-1 0h2m-1 0h2m-1 0h2m0 0h2m-1 0h2m0 0h2m2 0h2m1 0h2m0 0h2m1 0h2m-1 0h2m0 0h2m-1 0h2m15 0h2m8 0h2m3 0h2m-101 1h2m12 0h2m1 0h2m1 0h2m-1 0h2m0 0h2m-1 0h2m2 0h2m0 0h2m1 0h2m1 0h2m0 0h2m-1 0h2m-1 0h2m-1 0h2m-1 0h2m-1 0h2m-1 0h2m-1 0h2m3 0h2m1 0h2m0 0h2m-1 0h2m-1 0h2m-1 0h2m-1 0h2m0 0h2m-1 0h2m-1 0h2m-1 0h2m5 0h2m3 0h2m6 0h2m0 0h2m2 0h2m8 0h2m10 0h2m-114 1h2m3 0h2m3 0h2m5 0h2m-1 0h2m-1 0h2m-1 0h2m-1 0h2m-1 0h2m-1 0h2m-1 0h2m1 0h2m-1 0h2m1 0h2m0 0h2m-1 0h2m-1 0h2m-1 0h2m-1 0h2m-1 0h2m-1 0h2m-1 0h2m-1 0h2m-1 0h2m-1 0h2m-1 0h2m0 0h2m1 0h2m-1 0h2m-1 0h2m-1 0h2m-1 0h2m2 0h2m1 0h2m-1 0h2m-1 0h2m1 0h2m5 0h2m0 0h2m11 0h2m1 0h2m5 0h2m-94 1h2m-1 0h2m2 0h2m2 0h2m6 0h2m1 0h2m-1 0h2m-1 0h2m-1 0h2m-1 0h2m0 0h2m2 0h2m-1 0h2m-1 0h2m-1 0h2m-1 0h2m-1 0h2m-1 0h2m-1 0h2m0 0h2m1 0h2m-1 0h2m-1 0h2m-1 0h2m-1 0h2m0 0h2m-1 0h2m-1 0h2m-1 0h2m-1 0h2m1 0h2m-1 0h2m5 0h2m3 0h2m0 0h2m-1 0h2m99 0h2m-183 1h2m5 0h2m3 0h2m-1 0h2m0 0h2m4 0h2m3 0h2m0 0h2m0 0h2m-1 0h2m-1 0h2m-1 0h2m-1 0h2m-1 0h2m-1 0h2m-1 0h2m2 0h2m1 0h2m-1 0h2m-1 0h2m-1 0h2m-1 0h2m-1 0h2m1 0h2m-1 0h2m-1 0h2m0 0h2m-1 0h2m0 0h2m1 0h2m-1 0h2m-1 0h2m1 0h2m-1 0h2m-1 0h2m2 0h2m-1 0h2m3 0h2m-72 1h2m2 0h2m5 0h2m0 0h2m0 0h2m-1 0h2m0 0h2m0 0h2m0 0h2m2 0h2m-1 0h2m-1 0h2m-1 0h2m-1 0h2m-1 0h2m-1 0h2m0 0h2m-1 0h2m-1 0h2m0 0h2m-1 0h2m-1 0h2m-1 0h2m2 0h2m0 0h2m-1 0h2m-1 0h2m-1 0h2m-1 0h2m-1 0h2m1 0h2m-1 0h2m0 0h2m-1 0h2m-1 0h2m-1 0h2m-1 0h2m1 0h2m0 0h2m23 0h2m-1 0h2m70 0h2m-167 1h2m2 0h2m0 0h2m3 0h2m0 0h2m-1 0h2m0 0h2m0 0h2m-1 0h2m-1 0h2m-1 0h2m0 0h2m-1 0h2m0 0h2m-1 0h2m-1 0h2m1 0h2m-1 0h2m-1 0h2m0 0h2m-1 0h2m-1 0h2m0 0h2m-1 0h2m-1 0h2m0 0h2m0 0h2m-1 0h2m-1 0h2m-1 0h2m-1 0h2m-1 0h2m3 0h2m-1 0h2m1 0h2m-1 0h2m0 0h2m0 0h2m6 0h2m2 0h2m0 0h2m1 0h2m0 0h2m6 0h2m-96 1h2m0 0h2m4 0h2m-1 0h2m1 0h2m1 0h2m3 0h2m-1 0h2m0 0h2m-1 0h2m1 0h2m-1 0h2m-1 0h2m0 0h2m-1 0h2m0 0h2m0 0h2m-1 0h2m0 0h2m-1 0h2m-1 0h2m-1 0h2m-1 0h2m-1 0h2m0 0h2m3 0h2m-1 0h2m-1 0h2m-1 0h2m-1 0h2m-1 0h2m-1 0h2m0 0h2m1 0h2m0 0h2m-1 0h2m0 0h2m1 0h2m-1 0h2m6 0h2m2 0h2m83 0h2m-175 1h2m-1 0h2m5 0h2m1 0h2m2 0h2m-1 0h2m6 0h2m-1 0h2m-1 0h2m-1 0h2m0 0h2m-1 0h2m-1 0h2m1 0h2m0 0h2m0 0h2m1 0h2m-1 0h2m-1 0h2m0 0h2m0 0h2m-1 0h2m-1 0h2m-1 0h2m0 0h2m-1 0h2m-1 0h2m-1 0h2m-1 0h2m-1 0h2m0 0h2m-1 0h2m-1 0h2m-1 0h2m0 0h2m1 0h2m1 0h2m3 0h2m-1 0h2m1 0h2m-1 0h2m11 0h2m23 0h2m15 0h2m-125 1h2m-1 0h2m1 0h2m4 0h2m-1 0h2m1 0h2m-1 0h2m-1 0h2m0 0h2m-1 0h2m1 0h2m1 0h2m-1 0h2m-1 0h2m-1 0h2m-1 0h2m0 0h2m-1 0h2m1 0h2m1 0h2m-1 0h2m0 0h2m-1 0h2m0 0h2m-1 0h2m-1 0h2m-1 0h2m-1 0h2m-1 0h2m-1 0h2m8 0h2m0 0h2m3 0h2m-1 0h2m5 0h2m2 0h2m21 0h2m21 0h2m-139 1h2m5 0h2m1 0h2m0 0h2m5 0h2m-1 0h2m-1 0h2m3 0h2m-1 0h2m-1 0h2m2 0h2m-1 0h2m-1 0h2m-1 0h2m0 0h2m-1 0h2m-1 0h2m-1 0h2m0 0h2m1 0h2m-1 0h2m-1 0h2m0 0h2m0 0h2m-1 0h2m-1 0h2m-1 0h2m-1 0h2m-1 0h2m-1 0h2m-1 0h2m0 0h2m-1 0h2m-1 0h2m-1 0h2m4 0h2m-1 0h2m0 0h2m-1 0h2m7 0h2m-1 0h2m3 0h2m1 0h2m20 0h2m70 0h2m-188 1h2m14 0h2m0 0h2m-1 0h2m1 0h2m2 0h2m-1 0h2m-1 0h2m2 0h2m-1 0h2m-1 0h2m-1 0h2m-1 0h2m-1 0h2m-1 0h2m-1 0h2m-1 0h2m-1 0h2m-1 0h2m-1 0h2m-1 0h2m-1 0h2m-1 0h2m1 0h2m2 0h2m-1 0h2m-1 0h2m1 0h2m2 0h2m0 0h2m-1 0h2m-1 0h2m1 0h2m-1 0h2m4 0h2m17 0h2m-1 0h2m-98 1h2m2 0h2m1 0h2m0 0h2m-1 0h2m-1 0h2m1 0h2m2 0h2m-1 0h2m0 0h2m1 0h2m0 0h2m-1 0h2m-1 0h2m2 0h2m0 0h2m-1 0h2m-1 0h2m-1 0h2m-1 0h2m-1 0h2m0 0h2m1 0h2m-1 0h2m0 0h2m-1 0h2m-1 0h2m0 0h2m-1 0h2m-1 0h2m-1 0h2m-1 0h2m-1 0h2m0 0h2m-1 0h2m2 0h2m-1 0h2m0 0h2m0 0h2m0 0h2m-1 0h2m-1 0h2m-1 0h2m10 0h2m29 0h2m-122 1h2m4 0h2m1 0h2m0 0h2m3 0h2m1 0h2m-1 0h2m2 0h2m0 0h2m0 0h2m2 0h2m0 0h2m-1 0h2m-1 0h2m-1 0h2m-1 0h2m0 0h2m-1 0h2m-1 0h2m-1 0h2m0 0h2m0 0h2m1 0h2m1 0h2m0 0h2m-1 0h2m-1 0h2m1 0h2m0 0h2m-1 0h2m2 0h2m1 0h2m1 0h2m0 0h2m-1 0h2m1 0h2m-1 0h2m10 0h2m-93 1h2m11 0h2m9 0h2m0 0h2m-1 0h2m-1 0h2m-1 0h2m-1 0h2m-1 0h2m-1 0h2m0 0h2m-1 0h2m0 0h2m-1 0h2m-1 0h2m2 0h2m-1 0h2m0 0h2m-1 0h2m-1 0h2m-1 0h2m-1 0h2m0 0h2m-1 0h2m0 0h2m-1 0h2m-1 0h2m2 0h2m0 0h2m5 0h2m-1 0h2m-1 0h2m0 0h2m5 0h2m56 0h2m4 0h2m10 0h2m11 0h2m-165 1h2m3 0h2m2 0h2m0 0h2m2 0h2m-1 0h2m0 0h2m1 0h2m0 0h2m-1 0h2m3 0h2m-1 0h2m-1 0h2m0 0h2m-1 0h2m0 0h2m2 0h2m-1 0h2m-1 0h2m-1 0h2m0 0h2m1 0h2m6 0h2m-1 0h2m-1 0h2m-1 0h2m1 0h2m-1 0h2m6 0h2m1 0h2m0 0h2m-86 1h2m4 0h2m2 0h2m-1 0h2m4 0h2m-1 0h2m0 0h2m0 0h2m-1 0h2m-1 0h2m-1 0h2m0 0h2m-1 0h2m-1 0h2m-1 0h2m-1 0h2m-1 0h2m-1 0h2m1 0h2m-1 0h2m-1 0h2m-1 0h2m-1 0h2m-1 0h2m-1 0h2m0 0h2m-1 0h2m0 0h2m0 0h2m-1 0h2m-1 0h2m-1 0h2m0 0h2m-1 0h2m4 0h2m-1 0h2m-1 0h2m-1 0h2m0 0h2m0 0h2m1 0h2m0 0h2m-67 1h2m13 0h2m-1 0h2m2 0h2m-1 0h2m0 0h2m-1 0h2m-1 0h2m-1 0h2m0 0h2m-1 0h2m0 0h2m-1 0h2m-1 0h2m2 0h2m-1 0h2m-1 0h2m-1 0h2m0 0h2m-1 0h2m0 0h2m0 0h2m-1 0h2m-1 0h2m-1 0h2m-1 0h2m2 0h2m4 0h2m-1 0h2m4 0h2m2 0h2m6 0h2m0 0h2m77 0h2m11 0h2m-165 1h2m1 0h2m5 0h2m-1 0h2m0 0h2m-1 0h2m-1 0h2m-1 0h2m-1 0h2m-1 0h2m1 0h2m-1 0h2m-1 0h2m-1 0h2m-1 0h2m0 0h2m0 0h2m-1 0h2m-1 0h2m-1 0h2m-1 0h2m-1 0h2m-1 0h2m-1 0h2m1 0h2m-1 0h2m0 0h2m2 0h2m5 0h2m4 0h2m10 0h2m1 0h2m71 0h2m-162 1h2m6 0h2m-1 0h2m0 0h2m-1 0h2m-1 0h2m-1 0h2m4 0h2m3 0h2m1 0h2m1 0h2m-1 0h2m1 0h2m-1 0h2m2 0h2m0 0h2m-1 0h2m-1 0h2m2 0h2m-1 0h2m-1 0h2m-1 0h2m-1 0h2m0 0h2m3 0h2m5 0h2m-1 0h2m2 0h2m6 0h2m78 0h2m-163 1h2m8 0h2m5 0h2m2 0h2m0 0h2m-1 0h2m0 0h2m-1 0h2m0 0h2m-1 0h2m1 0h2m-1 0h2m-1 0h2m-1 0h2m-1 0h2m-1 0h2m3 0h2m0 0h2m-1 0h2m1 0h2m1 0h2m-1 0h2m0 0h2m1 0h2m8 0h2m1 0h2m37 0h2m-116 1h2m3 0h2m1 0h2m-1 0h2m-1 0h2m15 0h2m-1 0h2m1 0h2m-1 0h2m-1 0h2m0 0h2m-1 0h2m3 0h2m5 0h2m-1 0h2m-1 0h2m3 0h2m1 0h2m-1 0h2m0 0h2m2 0h2m0 0h2m-1 0h2m3 0h2m38 0h2m26 0h2m14 0h2m17 0h2m-169 1h2m5 0h2m7 0h2m-1 0h2m0 0h2m-1 0h2m0 0h2m-1 0h2m0 0h2m-1 0h2m-1 0h2m2 0h2m0 0h2m-1 0h2m-1 0h2m-1 0h2m-1 0h2m1 0h2m-1 0h2m-1 0h2m2 0h2m-1 0h2m2 0h2m6 0h2m-1 0h2m0 0h2m4 0h2m2 0h2m-76 1h2m-1 0h2m1 0h2m13 0h2m-1 0h2m-1 0h2m0 0h2m-1 0h2m-1 0h2m-1 0h2m3 0h2m1 0h2m1 0h2m-1 0h2m4 0h2m1 0h2m0 0h2m3 0h2m2 0h2m19 0h2m57 0h2m19 0h2m-153 1h2m-1 0h2m8 0h2m-1 0h2m1 0h2m0 0h2m0 0h2m-1 0h2m-1 0h2m2 0h2m0 0h2m0 0h2m0 0h2m-1 0h2m-1 0h2m0 0h2m1 0h2m0 0h2m5 0h2m2 0h2m14 0h2m2 0h2m38 0h2m47 0h2m-168 1h2m4 0h2m0 0h2m3 0h2m-1 0h2m2 0h2m1 0h2m0 0h2m-1 0h2m-1 0h2m-1 0h2m1 0h2m1 0h2m-1 0h2m0 0h2m1 0h2m-1 0h2m5 0h2m1 0h2m2 0h2m5 0h2m10 0h2m39 0h2m-119 1h2m-1 0h2m10 0h2m-1 0h2m5 0h2m-1 0h2m-1 0h2m-1 0h2m-1 0h2m2 0h2m-1 0h2m2 0h2m0 0h2m1 0h2m-1 0h2m0 0h2m1 0h2m-1 0h2m-1 0h2m0 0h2m1 0h2m1 0h2m59 0h2m21 0h2m-136 1h2m1 0h2m5 0h2m2 0h2m2 0h2m4 0h2m-1 0h2m0 0h2m3 0h2m0 0h2m-1 0h2m4 0h2m0 0h2m-1 0h2m1 0h2m6 0h2m2 0h2m2 0h2m-71 1h2m8 0h2m-1 0h2m1 0h2m4 0h2m1 0h2m-1 0h2m-1 0h2m0 0h2m3 0h2m2 0h2m-1 0h2m-1 0h2m1 0h2m2 0h2m-1 0h2m-1 0h2m-1 0h2m3 0h2m-1 0h2m-1 0h2m1 0h2m2 0h2m-1 0h2m1 0h2m8 0h2m90 0h2m-165 1h2m3 0h2m-1 0h2m-1 0h2m7 0h2m0 0h2m0 0h2m2 0h2m-1 0h2m0 0h2m4 0h2m1 0h2m0 0h2m0 0h2m-1 0h2m-1 0h2m5 0h2m12 0h2m6 0h2m-73 1h2m7 0h2m5 0h2m-1 0h2m-1 0h2m3 0h2m-1 0h2m0 0h2m-1 0h2m-1 0h2m4 0h2m0 0h2m0 0h2m0 0h2m-1 0h2m1 0h2m0 0h2m12 0h2m-59 1h2m10 0h2m-1 0h2m-1 0h2m15 0h2m-1 0h2m-1 0h2m1 0h2m3 0h2m-1 0h2m3 0h2m14 0h2m-1 0h2m5 0h2m0 0h2m69 0h2m-144 1h2m3 0h2m4 0h2m-1 0h2m-1 0h2m-1 0h2m0 0h2m-1 0h2m1 0h2m0 0h2m-1 0h2m-1 0h2m0 0h2m0 0h2m0 0h2m-1 0h2m-1 0h2m-1 0h2m-1 0h2m0 0h2m-1 0h2m3 0h2m0 0h2m8 0h2m0 0h2m26 0h2m21 0h2m42 0h2m1 0h2m-156 1h2m0 0h2m9 0h2m4 0h2m0 0h2m3 0h2m10 0h2m-1 0h2m-1 0h2m0 0h2m2 0h2m-1 0h2m20 0h2m30 0h2m-117 1h2m3 0h2m3 0h2m1 0h2m0 0h2m-1 0h2m-1 0h2m3 0h2m9 0h2m1 0h2m7 0h2m1 0h2m-1 0h2m8 0h2m4 0h2m-52 1h2m7 0h2m7 0h2m-1 0h2m4 0h2m7 0h2m4 0h2m74 0h2m11 0h2m-147 1h2m5 0h2m1 0h2m5 0h2m2 0h2m2 0h2m0 0h2m5 0h2m3 0h2m21 0h2m-49 1h2m12 0h2m0 0h2m2 0h2m25 0h2m-1 0h2m-1 0h2m66 0h2m7 0h2m-137 1h2m9 0h2m1 0h2m0 0h2m8 0h2m9 0h2m6 0h2m-43 1h2m-1 0h2m0 0h2m-1 0h2m14 0h2m4 0h2m-1 0h2m1 0h2m3 0h2m9 0h2m8 0h2m110 0h2m-153 1h2m0 0h2m0 0h2m16 0h2m8 0h2m61 0h2m56 0h2m8 0h2m-172 1h2m5 0h2m1 0h2m-1 0h2m136 0h2m-152 1h2m18 0h2m2 0h2m3 0h2m3 0h2m-40 1h2m9 0h2m4 0h2m-1 0h2m16 0h2m4 0h2m6 0h2m62 0h2m-132 1h2m14 0h2m20 0h2m-1 0h2m0 0h2m-16 1h2m6 0h2m4 0h2m0 0h2m13 0h2m-1 0h2m-34 1h2m10 0h2m11 0h2m50 0h2m20 0h2m12 0h2m6 0h2m-144 1h2m4 0h2m5 1h2m17 0h2m1 0h2m11 0h2m-31 1h2m-6 1h2m9 0h2m6 0h2m-1 1h2" stroke="#e8151b" stroke-width="1.5" fill="none"/>
<rect x="679.5" y="1541.8" width="239" height="244.5" fill="none" stroke="#000" stroke-width="1.3"/>
<line x1="784.2" y1="1541.8" x2="784.2" y2="1786.3" stroke="#000" stroke-width="1.3"/>
<line x1="679.5" y1="1685.8" x2="918.5" y2="1685.8" stroke="#000" stroke-width="1.3"/>
<path d="M679.5,1786.3v6M679.5,1786.3h-6M697.5,1786.3v3M679.5,1767.9h-3M708.0,1786.3v3M679.5,1757.1h-3M715.5,1786.3v3M679.5,1749.5h-3M721.3,1786.3v3M679.5,1743.6h-3M726.0,1786.3v3M679.5,1738.7h-3M730.0,1786.3v3M679.5,1734.6h-3M733.5,1786.3v3M679.5,1731.1h-3M736.5,1786.3v3M679.5,1728.0h-3M739.2,1786.3v6M679.5,1725.2h-6M757.2,1786.3v3M679.5,1706.8h-3M767.8,1786.3v3M679.5,1696.0h-3M775.2,1786.3v3M679.5,1688.4h-3M781.0,1786.3v3M679.5,1682.5h-3M785.7,1786.3v3M679.5,1677.6h-3M789.7,1786.3v3M679.5,1673.5h-3M793.2,1786.3v3M679.5,1670.0h-3M796.3,1786.3v3M679.5,1666.8h-3M799.0,1786.3v6M679.5,1664.0h-6M817.0,1786.3v3M679.5,1645.6h-3M827.5,1786.3v3M679.5,1634.9h-3M835.0,1786.3v3M679.5,1627.2h-3M840.8,1786.3v3M679.5,1621.3h-3M845.5,1786.3v3M679.5,1616.5h-3M849.5,1786.3v3M679.5,1612.4h-3M853.0,1786.3v3M679.5,1608.8h-3M856.0,1786.3v3M679.5,1605.7h-3M858.8,1786.3v6M679.5,1602.9h-6M876.7,1786.3v3M679.5,1584.5h-3M887.3,1786.3v3M679.5,1573.8h-3M894.7,1786.3v3M679.5,1566.1h-3M900.5,1786.3v3M679.5,1560.2h-3M905.2,1786.3v3M679.5,1555.4h-3M909.2,1786.3v3M679.5,1551.3h-3M912.7,1786.3v3M679.5,1547.7h-3M915.8,1786.3v3M679.5,1544.6h-3M918.5,1786.3v6M679.5,1541.8h-6" stroke="#000" stroke-width="1" fill="none"/>
<text x="680.0" y="1805.3" font-size="13" text-anchor="middle" style="font-weight:normal">10<tspan font-size="10.5" dy="-5.5">0</tspan></text>
<text transform="translate(670.8,1787.3) rotate(-90)" font-size="13" text-anchor="middle" style="font-weight:normal">10<tspan font-size="10.5" dy="-5.5">0</tspan></text>
<text x="739.8" y="1805.3" font-size="13" text-anchor="middle" style="font-weight:normal">10<tspan font-size="10.5" dy="-5.5">1</tspan></text>
<text transform="translate(670.8,1726.2) rotate(-90)" font-size="13" text-anchor="middle" style="font-weight:normal">10<tspan font-size="10.5" dy="-5.5">1</tspan></text>
<text x="799.5" y="1805.3" font-size="13" text-anchor="middle" style="font-weight:normal">10<tspan font-size="10.5" dy="-5.5">2</tspan></text>
<text transform="translate(670.8,1665.0) rotate(-90)" font-size="13" text-anchor="middle" style="font-weight:normal">10<tspan font-size="10.5" dy="-5.5">2</tspan></text>
<text x="859.2" y="1805.3" font-size="13" text-anchor="middle" style="font-weight:normal">10<tspan font-size="10.5" dy="-5.5">3</tspan></text>
<text transform="translate(670.8,1603.9) rotate(-90)" font-size="13" text-anchor="middle" style="font-weight:normal">10<tspan font-size="10.5" dy="-5.5">3</tspan></text>
<text x="919.0" y="1805.3" font-size="13" text-anchor="middle" style="font-weight:normal">10<tspan font-size="10.5" dy="-5.5">4</tspan></text>
<text transform="translate(670.8,1542.8) rotate(-90)" font-size="13" text-anchor="middle" style="font-weight:normal">10<tspan font-size="10.5" dy="-5.5">4</tspan></text>
<text x="796.5" y="1816.3" font-size="10.9" text-anchor="middle" style="font-weight:normal">ANNEXIN-V- FITC</text>
<text x="655.5" y="1665.3" font-size="10.5" text-anchor="middle" style="font-weight:normal" transform="rotate(-90 655.5 1665.3)">PI</text>
<text x="684.2" y="1573.4" font-size="25.5" stroke="#000" stroke-width="0.4">0.86%</text>
<text x="905.3" y="1573.4" font-size="25.5" text-anchor="end" stroke="#000" stroke-width="0.4">15.13%</text>
<text x="684.2" y="1773.6" font-size="25.5" stroke="#000" stroke-width="0.4">82.10%</text>
<text x="905.3" y="1773.6" font-size="25.5" text-anchor="end" stroke="#000" stroke-width="0.4">1.90%</text>
<text x="1070.8" y="1522.0" font-size="25.8" text-anchor="middle" stroke="#000" stroke-width="0.4">STAT4+siVEGFA</text>
<path transform="translate(965.3,1786.3)" d="M183-195h2m-30 2h2m10 1h2m24 0h2m-28 5h2m19 0h2m-15 2h2m-22 1h2m1 0h2m-1 0h2m-1 0h2m10 0h2m0 0h2m-32 1h2m0 0h2m7 0h2m9 0h2m5 0h2m-32 1h2m19 0h2m-1 0h2m14 0h2m-31 1h2m9 0h2m5 0h2m-101 1h2m55 0h2m26 0h2m-1 0h2m0 0h2m11 0h2m13 0h2m-1 0h2m-52 1h2m4 0h2m1 0h2m0 0h2m-1 0h2m5 0h2m0 0h2m15 0h2m11 0h2m-51 1h2m2 0h2m4 0h2m6 0h2m7 0h2m-1 0h2m14 0h2m-1 0h2m-126 1h2m73 0h2m1 0h2m-1 0h2m16 0h2m18 0h2m2 0h2m-44 1h2m0 0h2m8 0h2m7 0h2m0 0h2m6 0h2m6 0h2m-161 1h2m107 0h2m5 0h2m4 0h2m0 0h2m0 0h2m7 0h2m0 0h2m1 0h2m1 0h2m-37 1h2m6 0h2m2 0h2m0 0h2m4 0h2m0 0h2m2 0h2m1 0h2m0 0h2m23 0h2m-54 1h2m2 0h2m8 0h2m4 0h2m-1 0h2m4 0h2m0 0h2m8 0h2m2 0h2m7 0h2m-46 1h2m3 0h2m1 0h2m-1 0h2m-1 0h2m-1 0h2m1 0h2m13 0h2m-1 0h2m-151 1h2m75 0h2m35 0h2m7 0h2m-1 0h2m-1 0h2m4 0h2m0 0h2m-1 0h2m-1 0h2m1 0h2m3 0h2m4 0h2m2 0h2m-45 1h2m0 0h2m9 0h2m2 0h2m6 0h2m0 0h2m-26 1h2m4 0h2m-1 0h2m-1 0h2m5 0h2m-1 0h2m0 0h2m3 0h2m3 0h2m1 0h2m9 0h2m2 0h2m-44 1h2m11 0h2m1 0h2m4 0h2m-1 0h2m4 0h2m-1 0h2m11 0h2m3 0h2m-64 1h2m7 0h2m10 0h2m1 0h2m-1 0h2m-1 0h2m-1 0h2m-1 0h2m9 0h2m1 0h2m9 0h2m-54 1h2m-1 0h2m6 0h2m-1 0h2m-1 0h2m3 0h2m-1 0h2m0 0h2m0 0h2m1 0h2m-1 0h2m0 0h2m-1 0h2m-1 0h2m-1 0h2m2 0h2m2 0h2m4 0h2m-1 0h2m-51 1h2m5 0h2m4 0h2m-1 0h2m1 0h2m3 0h2m1 0h2m-1 0h2m1 0h2m0 0h2m-1 0h2m-1 0h2m0 0h2m0 0h2m4 0h2m2 0h2m-1 0h2m0 0h2m2 0h2m-139 1h2m72 0h2m2 0h2m10 0h2m2 0h2m0 0h2m-1 0h2m-1 0h2m-1 0h2m0 0h2m-1 0h2m0 0h2m2 0h2m2 0h2m-1 0h2m5 0h2m0 0h2m2 0h2m-44 1h2m3 0h2m0 0h2m1 0h2m2 0h2m3 0h2m-1 0h2m-1 0h2m0 0h2m-1 0h2m1 0h2m2 0h2m-40 1h2m0 0h2m2 0h2m0 0h2m0 0h2m5 0h2m-1 0h2m-1 0h2m-1 0h2m0 0h2m-1 0h2m-1 0h2m1 0h2m-1 0h2m0 0h2m3 0h2m2 0h2m0 0h2m-1 0h2m2 0h2m3 0h2m2 0h2m-74 1h2m19 0h2m4 0h2m1 0h2m2 0h2m0 0h2m0 0h2m-1 0h2m0 0h2m-1 0h2m4 0h2m4 0h2m3 0h2m2 0h2m-1 0h2m-118 1h2m63 0h2m8 0h2m5 0h2m0 0h2m-1 0h2m0 0h2m1 0h2m-1 0h2m4 0h2m1 0h2m-1 0h2m0 0h2m0 0h2m-1 0h2m0 0h2m0 0h2m3 0h2m0 0h2m1 0h2m1 0h2m1 0h2m-133 1h2m71 0h2m2 0h2m2 0h2m1 0h2m5 0h2m4 0h2m2 0h2m0 0h2m0 0h2m-1 0h2m0 0h2m8 0h2m-1 0h2m0 0h2m2 0h2m-1 0h2m11 0h2m-77 1h2m7 0h2m7 0h2m1 0h2m1 0h2m1 0h2m-1 0h2m7 0h2m2 0h2m-1 0h2m2 0h2m-1 0h2m2 0h2m-29 1h2m0 0h2m-1 0h2m0 0h2m3 0h2m1 0h2m2 0h2m3 0h2m1 0h2m0 0h2m10 0h2m-79 1h2m23 0h2m2 0h2m-1 0h2m-1 0h2m1 0h2m1 0h2m-1 0h2m0 0h2m2 0h2m5 0h2m6 0h2m-1 0h2m0 0h2m0 0h2m-1 0h2m0 0h2m-1 0h2m-43 1h2m1 0h2m3 0h2m2 0h2m4 0h2m0 0h2m-1 0h2m4 0h2m0 0h2m0 0h2m1 0h2m0 0h2m2 0h2m1 0h2m2 0h2m6 0h2m-65 1h2m7 0h2m2 0h2m1 0h2m1 0h2m8 0h2m0 0h2m-1 0h2m0 0h2m2 0h2m7 0h2m0 0h2m0 0h2m28 0h2m-152 1h2m33 0h2m34 0h2m0 0h2m2 0h2m0 0h2m7 0h2m4 0h2m-1 0h2m3 0h2m-1 0h2m-1 0h2m6 0h2m-30 1h2m0 0h2m-1 0h2m5 0h2m2 0h2m1 0h2m5 0h2m-1 0h2m0 0h2m5 0h2m-44 1h2m8 0h2m6 0h2m2 0h2m0 0h2m2 0h2m1 0h2m-1 0h2m30 0h2m-61 1h2m-1 0h2m2 0h2m3 0h2m-1 0h2m6 0h2m-1 0h2m14 0h2m27 0h2m-107 1h2m34 0h2m10 0h2m0 0h2m0 0h2m2 0h2m2 0h2m8 0h2m2 0h2m-108 1h2m55 0h2m18 0h2m0 0h2m-1 0h2m9 0h2m0 0h2m-1 0h2m3 0h2m-120 1h2m9 0h2m50 0h2m4 0h2m13 0h2m17 0h2m20 0h2m26 0h2m-58 1h2m4 0h2m3 0h2m-1 0h2m0 0h2m6 0h2m0 0h2m-36 1h2m4 0h2m7 0h2m39 0h2m-106 1h2m53 0h2m5 0h2m24 0h2m7 0h2m-48 1h2m18 0h2m0 0h2m24 0h2m-94 1h2m51 0h2m23 0h2m-57 1h2m13 0h2m12 0h2m4 0h2m7 0h2m17 0h2m31 0h2m-173 1h2m24 0h2m81 0h2m11 0h2m-61 1h2m20 0h2m14 0h2m11 0h2m22 0h2m-50 1h2m-55 2h2m56 0h2m1 1h2m34 0h2m-10 2h2m4 0h2m-110 1h2m59 0h2m1 0h2m17 0h2m0 0h2m11 0h2m7 0h2m2 0h2m-124 1h2m33 0h2m27 0h2m24 0h2m47 0h2m-23 1h2m11 0h2m-41 1h2m3 0h2m0 0h2m-25 1h2m1 0h2m49 0h2m-100 1h2m45 0h2m-73 1h2m72 0h2m0 0h2m14 0h2m4 0h2m-109 1h2m-1 1h2m59 0h2m17 0h2m7 0h2m27 0h2m-33 1h2m-85 1h2m26 0h2m18 0h2m17 0h2m50 0h2m-1 0h2m0 0h2m-80 1h2m27 0h2m-1 0h2m11 0h2m45 0h2m0 0h2m-65 1h2m33 0h2m-103 1h2m25 0h2m21 0h2m14 0h2m14 0h2m2 0h2m-114 1h2m6 0h2m48 0h2m24 0h2m9 0h2m-83 1h2m46 0h2m-18 1h2m27 0h2m-8 1h2m35 0h2m16 0h2m-81 1h2m28 0h2m-1 0h2m-8 1h2m8 0h2m12 0h2m4 0h2m5 0h2m1 0h2m10 0h2m26 0h2m-97 1h2m1 0h2m41 0h2m1 0h2m7 0h2m-6 1h2m1 0h2m-50 2h2m-1 1h2m21 0h2m7 0h2m24 1h2m0 0h2m-74 1h2m15 0h2m10 0h2m35 0h2m-42 1h2m61 0h2m-96 1h2m5 0h2m5 0h2m21 0h2m2 1h2m-93 1h2m34 0h2m1 0h2m6 0h2m72 0h2m-1 0h2m-62 1h2m19 0h2m22 0h2m13 0h2m-54 1h2m17 0h2m12 0h2m-50 1h2m7 0h2m19 0h2m21 0h2m42 0h2m-79 1h2m15 0h2m23 0h2m47 0h2m-106 1h2m8 0h2m7 0h2m7 0h2m0 0h2m50 0h2m-93 1h2m7 0h2m8 0h2m4 0h2m0 0h2m4 0h2m22 0h2m10 0h2m36 0h2m-118 1h2m12 0h2m18 0h2m2 0h2m48 0h2m-81 1h2m7 0h2m3 0h2m2 0h2m1 0h2m10 0h2m5 0h2m1 0h2m3 0h2m3 0h2m17 0h2m25 0h2m12 0h2m-115 1h2m17 0h2m11 0h2m1 0h2m5 0h2m24 0h2m50 0h2m-131 1h2m6 0h2m5 0h2m4 0h2m1 0h2m3 0h2m25 0h2m-1 0h2m8 0h2m25 0h2m25 0h2m-118 1h2m9 0h2m8 0h2m-1 0h2m9 0h2m19 0h2m7 0h2m-53 1h2m-21 1h2m-1 0h2m16 0h2m0 0h2m-1 0h2m-1 0h2m1 0h2m0 0h2m-1 0h2m-1 0h2m0 0h2m71 0h2m-126 1h2m23 0h2m1 0h2m0 0h2m1 0h2m3 0h2m0 0h2m4 0h2m1 0h2m0 0h2m1 0h2m4 0h2m2 0h2m18 0h2m-69 1h2m8 0h2m0 0h2m-1 0h2m1 0h2m-1 0h2m12 0h2m4 0h2m1 0h2m8 0h2m35 0h2m-85 1h2m0 0h2m3 0h2m-1 0h2m-1 0h2m2 0h2m5 0h2m0 0h2m2 0h2m0 0h2m0 0h2m-1 0h2m2 0h2m4 0h2m51 0h2m-95 1h2m-1 0h2m2 0h2m1 0h2m1 0h2m0 0h2m-1 0h2m0 0h2m-1 0h2m-1 0h2m0 0h2m1 0h2m1 0h2m1 0h2m7 0h2m6 0h2m0 0h2m8 0h2m3 0h2m-72 1h2m11 0h2m1 0h2m0 0h2m0 0h2m0 0h2m0 0h2m0 0h2m2 0h2m-1 0h2m4 0h2m19 0h2m-1 0h2m-74 1h2m9 0h2m5 0h2m6 0h2m3 0h2m0 0h2m0 0h2m-1 0h2m0 0h2m1 0h2m4 0h2m1 0h2m-1 0h2m-1 0h2m0 0h2m7 0h2m15 0h2m40 0h2m-106 1h2m0 0h2m-1 0h2m4 0h2m1 0h2m-1 0h2m0 0h2m2 0h2m-1 0h2m0 0h2m0 0h2m0 0h2m4 0h2m10 0h2m-1 0h2m4 0h2m-66 1h2m-1 0h2m3 0h2m4 0h2m0 0h2m-1 0h2m2 0h2m1 0h2m1 0h2m-1 0h2m0 0h2m4 0h2m-1 0h2m1 0h2m10 0h2m-1 0h2m0 0h2m6 0h2m44 0h2m-103 1h2m-1 0h2m-1 0h2m-1 0h2m0 0h2m1 0h2m1 0h2m3 0h2m-1 0h2m-1 0h2m-1 0h2m0 0h2m2 0h2m0 0h2m-1 0h2m-1 0h2m2 0h2m-1 0h2m2 0h2m-1 0h2m4 0h2m-64 1h2m8 0h2m1 0h2m3 0h2m-1 0h2m0 0h2m5 0h2m-1 0h2m1 0h2m0 0h2m-1 0h2m0 0h2m-1 0h2m0 0h2m0 0h2m1 0h2m0 0h2m-1 0h2m-1 0h2m-1 0h2m-1 0h2m0 0h2m1 0h2m-1 0h2m0 0h2m-1 0h2m-1 0h2m3 0h2m-57 1h2m5 0h2m-1 0h2m1 0h2m1 0h2m-1 0h2m1 0h2m-1 0h2m-1 0h2m-1 0h2m1 0h2m1 0h2m-1 0h2m-1 0h2m-1 0h2m1 0h2m1 0h2m-1 0h2m0 0h2m1 0h2m12 0h2m-61 1h2m11 0h2m4 0h2m0 0h2m-1 0h2m3 0h2m-1 0h2m-1 0h2m-1 0h2m0 0h2m-1 0h2m-1 0h2m0 0h2m-1 0h2m0 0h2m1 0h2m2 0h2m-62 1h2m2 0h2m10 0h2m-1 0h2m5 0h2m2 0h2m1 0h2m1 0h2m-1 0h2m-1 0h2m-1 0h2m-1 0h2m1 0h2m-1 0h2m-1 0h2m-1 0h2m-1 0h2m-1 0h2m-1 0h2m0 0h2m-1 0h2m-1 0h2m-1 0h2m0 0h2m0 0h2m-1 0h2m-1 0h2m2 0h2m-1 0h2m0 0h2m5 0h2m30 0h2m-111 1h2m11 0h2m10 0h2m3 0h2m0 0h2m2 0h2m-1 0h2m-1 0h2m-1 0h2m0 0h2m-1 0h2m1 0h2m0 0h2m2 0h2m-1 0h2m-1 0h2m-1 0h2m-1 0h2m-1 0h2m0 0h2m1 0h2m0 0h2m0 0h2m3 0h2m0 0h2m3 0h2m-64 1h2m7 0h2m2 0h2m2 0h2m-1 0h2m-1 0h2m-1 0h2m-1 0h2m-1 0h2m-1 0h2m-1 0h2m-1 0h2m0 0h2m1 0h2m-1 0h2m1 0h2m-1 0h2m-1 0h2m0 0h2m-1 0h2m0 0h2m-1 0h2m0 0h2m5 0h2m5 0h2m4 0h2m29 0h2m-97 1h2m4 0h2m4 0h2m-1 0h2m1 0h2m-1 0h2m-1 0h2m-1 0h2m0 0h2m0 0h2m-1 0h2m0 0h2m0 0h2m2 0h2m0 0h2m-1 0h2m-1 0h2m0 0h2m0 0h2m-1 0h2m-1 0h2m0 0h2m-1 0h2m0 0h2m1 0h2m1 0h2m2 0h2m2 0h2m0 0h2m0 0h2m-74 1h2m-1 0h2m5 0h2m5 0h2m1 0h2m-1 0h2m-1 0h2m-1 0h2m-1 0h2m2 0h2m-1 0h2m3 0h2m-1 0h2m-1 0h2m-1 0h2m-1 0h2m-1 0h2m-1 0h2m-1 0h2m-1 0h2m-1 0h2m-1 0h2m2 0h2m-1 0h2m-1 0h2m0 0h2m0 0h2m0 0h2m0 0h2m-1 0h2m2 0h2m1 0h2m4 0h2m-1 0h2m-66 1h2m2 0h2m3 0h2m0 0h2m0 0h2m-1 0h2m-1 0h2m0 0h2m1 0h2m1 0h2m-1 0h2m-1 0h2m-1 0h2m-1 0h2m-1 0h2m-1 0h2m-1 0h2m-1 0h2m-1 0h2m0 0h2m0 0h2m0 0h2m-1 0h2m1 0h2m1 0h2m1 0h2m2 0h2m4 0h2m0 0h2m5 0h2m-71 1h2m6 0h2m-1 0h2m0 0h2m2 0h2m-1 0h2m-1 0h2m1 0h2m0 0h2m-1 0h2m-1 0h2m-1 0h2m-1 0h2m-1 0h2m2 0h2m0 0h2m-1 0h2m0 0h2m-1 0h2m-1 0h2m0 0h2m-1 0h2m-1 0h2m-1 0h2m0 0h2m0 0h2m-1 0h2m-1 0h2m0 0h2m-1 0h2m1 0h2m3 0h2m1 0h2m-64 1h2m3 0h2m-1 0h2m3 0h2m-1 0h2m0 0h2m-1 0h2m2 0h2m0 0h2m-1 0h2m1 0h2m-1 0h2m-1 0h2m-1 0h2m1 0h2m-1 0h2m-1 0h2m-1 0h2m-1 0h2m-1 0h2m-1 0h2m-1 0h2m-1 0h2m-1 0h2m-1 0h2m-1 0h2m-1 0h2m2 0h2m-1 0h2m1 0h2m5 0h2m-64 1h2m3 0h2m8 0h2m0 0h2m-1 0h2m-1 0h2m-1 0h2m-1 0h2m-1 0h2m-1 0h2m0 0h2m1 0h2m1 0h2m-1 0h2m-1 0h2m1 0h2m-1 0h2m-1 0h2m-1 0h2m0 0h2m-1 0h2m-1 0h2m-1 0h2m-1 0h2m-1 0h2m-1 0h2m0 0h2m-1 0h2m-1 0h2m1 0h2m92 0h2m-145 1h2m-1 0h2m0 0h2m-1 0h2m3 0h2m2 0h2m2 0h2m-1 0h2m-1 0h2m-1 0h2m-1 0h2m-1 0h2m-1 0h2m-1 0h2m-1 0h2m-1 0h2m-1 0h2m-1 0h2m-1 0h2m0 0h2m-1 0h2m-1 0h2m0 0h2m-1 0h2m-1 0h2m-1 0h2m-1 0h2m-1 0h2m1 0h2m0 0h2m-1 0h2m-1 0h2m0 0h2m4 0h2m1 0h2m3 0h2m3 0h2m-73 1h2m5 0h2m3 0h2m-1 0h2m1 0h2m2 0h2m-1 0h2m-1 0h2m-1 0h2m-1 0h2m-1 0h2m0 0h2m-1 0h2m-1 0h2m-1 0h2m-1 0h2m-1 0h2m-1 0h2m-1 0h2m-1 0h2m0 0h2m-1 0h2m-1 0h2m-1 0h2m-1 0h2m0 0h2m0 0h2m-1 0h2m1 0h2m-1 0h2m2 0h2m2 0h2m-58 1h2m1 0h2m1 0h2m0 0h2m1 0h2m-1 0h2m-1 0h2m-1 0h2m-1 0h2m0 0h2m-1 0h2m-1 0h2m-1 0h2m-1 0h2m0 0h2m-1 0h2m-1 0h2m-1 0h2m-1 0h2m0 0h2m-1 0h2m-1 0h2m-1 0h2m0 0h2m-1 0h2m-1 0h2m-1 0h2m-1 0h2m-1 0h2m-1 0h2m-1 0h2m-1 0h2m-1 0h2m1 0h2m1 0h2m-1 0h2m40 0h2m-96 1h2m9 0h2m-1 0h2m0 0h2m-1 0h2m-1 0h2m-1 0h2m0 0h2m-1 0h2m-1 0h2m-1 0h2m-1 0h2m-1 0h2m-1 0h2m-1 0h2m-1 0h2m0 0h2m-1 0h2m0 0h2m-1 0h2m0 0h2m-1 0h2m-1 0h2m0 0h2m-1 0h2m0 0h2m-1 0h2m0 0h2m-1 0h2m-1 0h2m0 0h2m3 0h2m7 0h2m74 0h2m-140 1h2m4 0h2m-1 0h2m-1 0h2m0 0h2m-1 0h2m-1 0h2m1 0h2m-1 0h2m-1 0h2m-1 0h2m-1 0h2m-1 0h2m-1 0h2m0 0h2m-1 0h2m-1 0h2m-1 0h2m-1 0h2m0 0h2m-1 0h2m-1 0h2m-1 0h2m-1 0h2m-1 0h2m0 0h2m-1 0h2m-1 0h2m-1 0h2m-1 0h2m0 0h2m-1 0h2m2 0h2m2 0h2m-1 0h2m0 0h2m5 0h2m13 0h2m61 0h2m-150 1h2m9 0h2m-1 0h2m-1 0h2m0 0h2m-1 0h2m0 0h2m0 0h2m-1 0h2m-1 0h2m-1 0h2m-1 0h2m-1 0h2m-1 0h2m0 0h2m-1 0h2m-1 0h2m-1 0h2m-1 0h2m-1 0h2m-1 0h2m-1 0h2m-1 0h2m1 0h2m-1 0h2m-1 0h2m-1 0h2m-1 0h2m0 0h2m0 0h2m-1 0h2m-1 0h2m0 0h2m0 0h2m0 0h2m1 0h2m-1 0h2m-1 0h2m-1 0h2m0 0h2m-1 0h2m4 0h2m1 0h2m54 0h2m-141 1h2m15 0h2m2 0h2m0 0h2m-1 0h2m-1 0h2m-1 0h2m0 0h2m0 0h2m-1 0h2m-1 0h2m-1 0h2m0 0h2m-1 0h2m-1 0h2m-1 0h2m0 0h2m0 0h2m-1 0h2m-1 0h2m1 0h2m-1 0h2m-1 0h2m-1 0h2m0 0h2m-1 0h2m-1 0h2m-1 0h2m0 0h2m-1 0h2m-1 0h2m-1 0h2m-1 0h2m-1 0h2m0 0h2m-1 0h2m-1 0h2m-1 0h2m-1 0h2m2 0h2m-1 0h2m-1 0h2m60 0h2m31 0h2m1 0h2m-161 1h2m-1 0h2m0 0h2m5 0h2m-1 0h2m2 0h2m-1 0h2m-1 0h2m-1 0h2m-1 0h2m-1 0h2m-1 0h2m-1 0h2m-1 0h2m-1 0h2m0 0h2m-1 0h2m-1 0h2m-1 0h2m-1 0h2m0 0h2m0 0h2m-1 0h2m-1 0h2m-1 0h2m-1 0h2m-1 0h2m-1 0h2m-1 0h2m-1 0h2m0 0h2m0 0h2m-1 0h2m-1 0h2m-1 0h2m-1 0h2m-1 0h2m1 0h2m-1 0h2m-1 0h2m2 0h2m3 0h2m0 0h2m-1 0h2m16 0h2m71 0h2m-173 1h2m9 0h2m-1 0h2m-1 0h2m4 0h2m0 0h2m1 0h2m-1 0h2m-1 0h2m-1 0h2m-1 0h2m-1 0h2m0 0h2m-1 0h2m-1 0h2m-1 0h2m-1 0h2m-1 0h2m-1 0h2m-1 0h2m0 0h2m-1 0h2m-1 0h2m-1 0h2m-1 0h2m-1 0h2m-1 0h2m-1 0h2m0 0h2m-1 0h2m0 0h2m0 0h2m-1 0h2m-1 0h2m1 0h2m1 0h2m-1 0h2m-1 0h2m2 0h2m-64 1h2m2 0h2m5 0h2m1 0h2m-1 0h2m-1 0h2m1 0h2m0 0h2m-1 0h2m-1 0h2m0 0h2m-1 0h2m1 0h2m-1 0h2m-1 0h2m-1 0h2m-1 0h2m0 0h2m-1 0h2m-1 0h2m-1 0h2m0 0h2m-1 0h2m-1 0h2m-1 0h2m-1 0h2m0 0h2m-1 0h2m-1 0h2m-1 0h2m-1 0h2m0 0h2m-1 0h2m-1 0h2m0 0h2m0 0h2m-1 0h2m22 0h2m5 0h2m27 0h2m-113 1h2m-1 0h2m0 0h2m1 0h2m-1 0h2m1 0h2m0 0h2m1 0h2m-1 0h2m-1 0h2m-1 0h2m-1 0h2m0 0h2m-1 0h2m-1 0h2m-1 0h2m-1 0h2m-1 0h2m-1 0h2m-1 0h2m-1 0h2m-1 0h2m-1 0h2m-1 0h2m0 0h2m-1 0h2m-1 0h2m0 0h2m-1 0h2m1 0h2m0 0h2m-1 0h2m-1 0h2m-1 0h2m0 0h2m-1 0h2m-1 0h2m4 0h2m2 0h2m-1 0h2m33 0h2m-106 1h2m0 0h2m-1 0h2m2 0h2m1 0h2m0 0h2m0 0h2m0 0h2m-1 0h2m-1 0h2m-1 0h2m-1 0h2m-1 0h2m-1 0h2m-1 0h2m0 0h2m-1 0h2m-1 0h2m-1 0h2m-1 0h2m-1 0h2m-1 0h2m-1 0h2m-1 0h2m-1 0h2m-1 0h2m-1 0h2m-1 0h2m0 0h2m-1 0h2m-1 0h2m-1 0h2m-1 0h2m1 0h2m-1 0h2m2 0h2m0 0h2m0 0h2m0 0h2m-1 0h2m-1 0h2m2 0h2m2 0h2m7 0h2m-74 1h2m1 0h2m-1 0h2m-1 0h2m-1 0h2m0 0h2m-1 0h2m0 0h2m-1 0h2m-1 0h2m-1 0h2m-1 0h2m-1 0h2m-1 0h2m0 0h2m-1 0h2m-1 0h2m-1 0h2m-1 0h2m-1 0h2m-1 0h2m-1 0h2m-1 0h2m-1 0h2m-1 0h2m-1 0h2m0 0h2m-1 0h2m-1 0h2m-1 0h2m-1 0h2m-1 0h2m-1 0h2m-1 0h2m-1 0h2m-1 0h2m1 0h2m-1 0h2m-1 0h2m0 0h2m-1 0h2m-1 0h2m3 0h2m0 0h2m0 0h2m13 0h2m-81 1h2m2 0h2m2 0h2m2 0h2m0 0h2m-1 0h2m1 0h2m-1 0h2m-1 0h2m-1 0h2m-1 0h2m-1 0h2m0 0h2m0 0h2m-1 0h2m-1 0h2m-1 0h2m-1 0h2m-1 0h2m-1 0h2m0 0h2m-1 0h2m-1 0h2m-1 0h2m-1 0h2m-1 0h2m-1 0h2m-1 0h2m-1 0h2m-1 0h2m-1 0h2m-1 0h2m0 0h2m-1 0h2m-1 0h2m-1 0h2m-1 0h2m-1 0h2m-1 0h2m-1 0h2m-1 0h2m4 0h2m-1 0h2m4 0h2m1 0h2m-1 0h2m14 0h2m-92 1h2m0 0h2m-1 0h2m2 0h2m-1 0h2m1 0h2m-1 0h2m3 0h2m-1 0h2m0 0h2m-1 0h2m-1 0h2m-1 0h2m-1 0h2m-1 0h2m-1 0h2m-1 0h2m-1 0h2m-1 0h2m-1 0h2m-1 0h2m-1 0h2m-1 0h2m-1 0h2m0 0h2m-1 0h2m-1 0h2m-1 0h2m-1 0h2m-1 0h2m-1 0h2m-1 0h2m-1 0h2m-1 0h2m-1 0h2m-1 0h2m-1 0h2m-1 0h2m-1 0h2m-1 0h2m0 0h2m1 0h2m0 0h2m-1 0h2m8 0h2m76 0h2m-144 1h2m2 0h2m-1 0h2m1 0h2m-1 0h2m1 0h2m4 0h2m-1 0h2m-1 0h2m-1 0h2m-1 0h2m-1 0h2m-1 0h2m-1 0h2m-1 0h2m-1 0h2m-1 0h2m-1 0h2m-1 0h2m-1 0h2m0 0h2m-1 0h2m-1 0h2m-1 0h2m-1 0h2m1 0h2m-1 0h2m0 0h2m-1 0h2m-1 0h2m7 0h2m-63 1h2m0 0h2m5 0h2m-1 0h2m1 0h2m1 0h2m-1 0h2m2 0h2m-1 0h2m-1 0h2m-1 0h2m-1 0h2m-1 0h2m-1 0h2m0 0h2m-1 0h2m-1 0h2m-1 0h2m-1 0h2m-1 0h2m-1 0h2m-1 0h2m-1 0h2m-1 0h2m-1 0h2m-1 0h2m-1 0h2m-1 0h2m-1 0h2m-1 0h2m-1 0h2m0 0h2m-1 0h2m-1 0h2m-1 0h2m-1 0h2m-1 0h2m0 0h2m0 0h2m-1 0h2m-1 0h2m4 0h2m49 0h2m-119 1h2m1 0h2m0 0h2m0 0h2m1 0h2m-1 0h2m-1 0h2m-1 0h2m7 0h2m-1 0h2m-1 0h2m-1 0h2m-1 0h2m-1 0h2m-1 0h2m-1 0h2m-1 0h2m-1 0h2m0 0h2m-1 0h2m-1 0h2m-1 0h2m-1 0h2m0 0h2m-1 0h2m-1 0h2m-1 0h2m-1 0h2m-1 0h2m-1 0h2m-1 0h2m-1 0h2m-1 0h2m0 0h2m1 0h2m-1 0h2m-1 0h2m3 0h2m1 0h2m0 0h2m1 0h2m-1 0h2m38 0h2m20 0h2m-128 1h2m4 0h2m-1 0h2m0 0h2m2 0h2m-1 0h2m-1 0h2m-1 0h2m-1 0h2m-1 0h2m-1 0h2m0 0h2m0 0h2m-1 0h2m-1 0h2m0 0h2m-1 0h2m-1 0h2m-1 0h2m-1 0h2m-1 0h2m-1 0h2m-1 0h2m-1 0h2m-1 0h2m0 0h2m-1 0h2m-1 0h2m0 0h2m-1 0h2m-1 0h2m0 0h2m0 0h2m0 0h2m1 0h2m4 0h2m11 0h2m20 0h2m0 0h2m68 0h2m-169 1h2m0 0h2m3 0h2m0 0h2m-1 0h2m0 0h2m-1 0h2m-1 0h2m-1 0h2m0 0h2m-1 0h2m-1 0h2m-1 0h2m-1 0h2m-1 0h2m-1 0h2m-1 0h2m-1 0h2m0 0h2m-1 0h2m-1 0h2m0 0h2m-1 0h2m-1 0h2m-1 0h2m-1 0h2m-1 0h2m-1 0h2m0 0h2m-1 0h2m-1 0h2m-1 0h2m-1 0h2m0 0h2m-1 0h2m0 0h2m-1 0h2m0 0h2m0 0h2m0 0h2m-1 0h2m0 0h2m10 0h2m29 0h2m-104 1h2m7 0h2m1 0h2m0 0h2m0 0h2m-1 0h2m-1 0h2m-1 0h2m0 0h2m-1 0h2m-1 0h2m0 0h2m-1 0h2m1 0h2m-1 0h2m-1 0h2m-1 0h2m0 0h2m0 0h2m1 0h2m-1 0h2m-1 0h2m-1 0h2m-1 0h2m-1 0h2m1 0h2m0 0h2m0 0h2m-1 0h2m-1 0h2m-1 0h2m-1 0h2m-54 1h2m-1 0h2m0 0h2m-1 0h2m4 0h2m-1 0h2m0 0h2m-1 0h2m0 0h2m-1 0h2m-1 0h2m-1 0h2m-1 0h2m1 0h2m-1 0h2m-1 0h2m-1 0h2m-1 0h2m-1 0h2m-1 0h2m-1 0h2m-1 0h2m-1 0h2m-1 0h2m-1 0h2m-1 0h2m-1 0h2m0 0h2m-1 0h2m-1 0h2m-1 0h2m-1 0h2m-1 0h2m0 0h2m-1 0h2m-1 0h2m-1 0h2m8 0h2m6 0h2m73 0h2m-139 1h2m0 0h2m-1 0h2m-1 0h2m0 0h2m-1 0h2m-1 0h2m-1 0h2m0 0h2m-1 0h2m-1 0h2m-1 0h2m-1 0h2m-1 0h2m-1 0h2m-1 0h2m-1 0h2m1 0h2m1 0h2m-1 0h2m-1 0h2m-1 0h2m-1 0h2m-1 0h2m-1 0h2m-1 0h2m1 0h2m0 0h2m3 0h2m-1 0h2m1 0h2m66 0h2m-124 1h2m3 0h2m1 0h2m-1 0h2m-1 0h2m0 0h2m-1 0h2m-1 0h2m-1 0h2m-1 0h2m-1 0h2m-1 0h2m-1 0h2m-1 0h2m1 0h2m0 0h2m-1 0h2m-1 0h2m-1 0h2m1 0h2m-1 0h2m-1 0h2m-1 0h2m-1 0h2m-1 0h2m0 0h2m-1 0h2m-1 0h2m-1 0h2m-1 0h2m0 0h2m2 0h2m0 0h2m3 0h2m0 0h2m-75 1h2m8 0h2m8 0h2m-1 0h2m0 0h2m-1 0h2m2 0h2m0 0h2m-1 0h2m-1 0h2m-1 0h2m2 0h2m-1 0h2m0 0h2m-1 0h2m1 0h2m1 0h2m-1 0h2m-1 0h2m-1 0h2m0 0h2m-1 0h2m1 0h2m-1 0h2m-1 0h2m-1 0h2m0 0h2m-1 0h2m-1 0h2m7 0h2m9 0h2m25 0h2m-110 1h2m4 0h2m3 0h2m9 0h2m2 0h2m-1 0h2m0 0h2m0 0h2m-1 0h2m-1 0h2m4 0h2m-1 0h2m-1 0h2m-1 0h2m0 0h2m-1 0h2m0 0h2m-1 0h2m0 0h2m-1 0h2m-1 0h2m-1 0h2m-1 0h2m2 0h2m3 0h2m-1 0h2m1 0h2m-1 0h2m0 0h2m-56 1h2m-1 0h2m0 0h2m0 0h2m-1 0h2m0 0h2m1 0h2m0 0h2m-1 0h2m0 0h2m0 0h2m-1 0h2m-1 0h2m-1 0h2m-1 0h2m-1 0h2m-1 0h2m-1 0h2m-1 0h2m3 0h2m0 0h2m0 0h2m-1 0h2m-1 0h2m0 0h2m-1 0h2m-1 0h2m0 0h2m-1 0h2m-1 0h2m1 0h2m0 0h2m-1 0h2m7 0h2m-68 1h2m4 0h2m-1 0h2m-1 0h2m3 0h2m1 0h2m0 0h2m0 0h2m-1 0h2m-1 0h2m0 0h2m-1 0h2m-1 0h2m0 0h2m1 0h2m-1 0h2m2 0h2m0 0h2m-1 0h2m-1 0h2m1 0h2m0 0h2m-1 0h2m-1 0h2m-1 0h2m0 0h2m1 0h2m6 0h2m-62 1h2m0 0h2m5 0h2m-1 0h2m1 0h2m2 0h2m-1 0h2m1 0h2m-1 0h2m1 0h2m-1 0h2m0 0h2m-1 0h2m0 0h2m1 0h2m-1 0h2m-1 0h2m-1 0h2m-1 0h2m0 0h2m-1 0h2m-1 0h2m-1 0h2m-1 0h2m-1 0h2m3 0h2m2 0h2m-1 0h2m-69 1h2m9 0h2m2 0h2m1 0h2m-1 0h2m-1 0h2m3 0h2m2 0h2m-1 0h2m2 0h2m0 0h2m0 0h2m-1 0h2m-1 0h2m-1 0h2m-1 0h2m0 0h2m-1 0h2m0 0h2m-1 0h2m-1 0h2m0 0h2m-1 0h2m-1 0h2m-1 0h2m-1 0h2m-1 0h2m-65 1h2m1 0h2m6 0h2m13 0h2m6 0h2m0 0h2m-1 0h2m1 0h2m-1 0h2m2 0h2m-1 0h2m-1 0h2m0 0h2m-1 0h2m-1 0h2m0 0h2m-1 0h2m1 0h2m3 0h2m2 0h2m3 0h2m0 0h2m4 0h2m81 0h2m-137 1h2m0 0h2m3 0h2m-1 0h2m0 0h2m1 0h2m-1 0h2m-1 0h2m-1 0h2m-1 0h2m1 0h2m-1 0h2m-1 0h2m-1 0h2m-1 0h2m0 0h2m-1 0h2m0 0h2m0 0h2m0 0h2m-1 0h2m0 0h2m0 0h2m1 0h2m43 0h2m19 0h2m-115 1h2m1 0h2m-1 0h2m-1 0h2m0 0h2m-1 0h2m-1 0h2m3 0h2m1 0h2m0 0h2m-1 0h2m-1 0h2m0 0h2m0 0h2m-1 0h2m0 0h2m0 0h2m-1 0h2m0 0h2m1 0h2m2 0h2m4 0h2m3 0h2m0 0h2m-55 1h2m-1 0h2m3 0h2m5 0h2m-1 0h2m1 0h2m-1 0h2m-1 0h2m0 0h2m-1 0h2m2 0h2m1 0h2m-1 0h2m-1 0h2m-1 0h2m-1 0h2m-1 0h2m-1 0h2m1 0h2m-1 0h2m2 0h2m0 0h2m6 0h2m82 0h2m-142 1h2m3 0h2m-1 0h2m0 0h2m2 0h2m-1 0h2m-1 0h2m0 0h2m-1 0h2m-1 0h2m1 0h2m-1 0h2m1 0h2m0 0h2m1 0h2m-1 0h2m-1 0h2m-1 0h2m-1 0h2m7 0h2m-49 1h2m1 0h2m7 0h2m-1 0h2m3 0h2m0 0h2m-1 0h2m2 0h2m0 0h2m4 0h2m1 0h2m-1 0h2m0 0h2m0 0h2m-1 0h2m2 0h2m0 0h2m8 0h2m56 0h2m9 0h2m-129 1h2m7 0h2m0 0h2m1 0h2m3 0h2m-1 0h2m-1 0h2m-1 0h2m0 0h2m-1 0h2m-1 0h2m-1 0h2m1 0h2m0 0h2m0 0h2m2 0h2m-1 0h2m-1 0h2m1 0h2m-1 0h2m1 0h2m4 0h2m-1 0h2m-1 0h2m4 0h2m30 0h2m-97 1h2m-1 0h2m-1 0h2m7 0h2m-1 0h2m3 0h2m-1 0h2m-1 0h2m1 0h2m1 0h2m-1 0h2m0 0h2m-1 0h2m-1 0h2m-1 0h2m-1 0h2m0 0h2m0 0h2m-1 0h2m-1 0h2m4 0h2m16 0h2m-60 1h2m4 0h2m1 0h2m0 0h2m-1 0h2m0 0h2m0 0h2m2 0h2m0 0h2m0 0h2m0 0h2m0 0h2m-1 0h2m0 0h2m-1 0h2m-1 0h2m5 0h2m1 0h2m-44 1h2m-1 0h2m3 0h2m-1 0h2m6 0h2m0 0h2m1 0h2m-1 0h2m0 0h2m2 0h2m0 0h2m0 0h2m0 0h2m-1 0h2m-36 1h2m0 0h2m5 0h2m-1 0h2m0 0h2m0 0h2m-1 0h2m0 0h2m0 0h2m-1 0h2m-1 0h2m4 0h2m-1 0h2m-1 0h2m0 0h2m2 0h2m14 0h2m3 0h2m-58 1h2m2 0h2m5 0h2m-1 0h2m1 0h2m0 0h2m4 0h2m4 0h2m9 0h2m-1 0h2m-1 0h2m4 0h2m-38 1h2m1 0h2m-1 0h2m1 0h2m1 0h2m5 0h2m-1 0h2m11 0h2m1 0h2m13 0h2m57 0h2m-132 1h2m24 0h2m1 0h2m-1 0h2m12 0h2m1 0h2m2 0h2m-49 1h2m12 0h2m3 0h2m5 0h2m-1 0h2m6 0h2m95 0h2m-123 1h2m14 0h2m22 0h2m100 0h2m-154 1h2m18 0h2m6 0h2m-23 1h2m10 0h2m-1 1h2m7 0h2m2 0h2m65 0h2m56 0h2m-150 1h2m4 0h2m3 0h2m7 0h2m8 0h2m-36 1h2m6 0h2m148 0h2m-140 1h2m10 0h2m81 0h2m-120 1h2m147 0h2m16 1h2m-157 2h2m15 0h2m9 0h2m-28 1h2m92 0h2m24 1h2m13 1h2m-134 1h2m-1 0h2m156 0h2m-1 0h2" stroke="#e8151b" stroke-width="1.5" fill="none"/>
<rect x="965.3" y="1541.8" width="239" height="244.5" fill="none" stroke="#000" stroke-width="1.3"/>
<line x1="1070.1" y1="1541.8" x2="1070.1" y2="1786.3" stroke="#000" stroke-width="1.3"/>
<line x1="965.3" y1="1685.8" x2="1204.3" y2="1685.8" stroke="#000" stroke-width="1.3"/>
<path d="M965.3,1786.3v6M965.3,1786.3h-6M983.3,1786.3v3M965.3,1767.9h-3M993.8,1786.3v3M965.3,1757.1h-3M1001.3,1786.3v3M965.3,1749.5h-3M1007.1,1786.3v3M965.3,1743.6h-3M1011.8,1786.3v3M965.3,1738.7h-3M1015.8,1786.3v3M965.3,1734.6h-3M1019.3,1786.3v3M965.3,1731.1h-3M1022.3,1786.3v3M965.3,1728.0h-3M1025.0,1786.3v6M965.3,1725.2h-6M1043.0,1786.3v3M965.3,1706.8h-3M1053.6,1786.3v3M965.3,1696.0h-3M1061.0,1786.3v3M965.3,1688.4h-3M1066.8,1786.3v3M965.3,1682.5h-3M1071.5,1786.3v3M965.3,1677.6h-3M1075.5,1786.3v3M965.3,1673.5h-3M1079.0,1786.3v3M965.3,1670.0h-3M1082.1,1786.3v3M965.3,1666.8h-3M1084.8,1786.3v6M965.3,1664.0h-6M1102.8,1786.3v3M965.3,1645.6h-3M1113.3,1786.3v3M965.3,1634.9h-3M1120.8,1786.3v3M965.3,1627.2h-3M1126.6,1786.3v3M965.3,1621.3h-3M1131.3,1786.3v3M965.3,1616.5h-3M1135.3,1786.3v3M965.3,1612.4h-3M1138.8,1786.3v3M965.3,1608.8h-3M1141.8,1786.3v3M965.3,1605.7h-3M1144.5,1786.3v6M965.3,1602.9h-6M1162.5,1786.3v3M965.3,1584.5h-3M1173.1,1786.3v3M965.3,1573.8h-3M1180.5,1786.3v3M965.3,1566.1h-3M1186.3,1786.3v3M965.3,1560.2h-3M1191.0,1786.3v3M965.3,1555.4h-3M1195.0,1786.3v3M965.3,1551.3h-3M1198.5,1786.3v3M965.3,1547.7h-3M1201.6,1786.3v3M965.3,1544.6h-3M1204.3,1786.3v6M965.3,1541.8h-6" stroke="#000" stroke-width="1" fill="none"/>
<text x="965.8" y="1805.3" font-size="13" text-anchor="middle" style="font-weight:normal">10<tspan font-size="10.5" dy="-5.5">0</tspan></text>
<text transform="translate(956.6,1787.3) rotate(-90)" font-size="13" text-anchor="middle" style="font-weight:normal">10<tspan font-size="10.5" dy="-5.5">0</tspan></text>
<text x="1025.5" y="1805.3" font-size="13" text-anchor="middle" style="font-weight:normal">10<tspan font-size="10.5" dy="-5.5">1</tspan></text>
<text transform="translate(956.6,1726.2) rotate(-90)" font-size="13" text-anchor="middle" style="font-weight:normal">10<tspan font-size="10.5" dy="-5.5">1</tspan></text>
<text x="1085.3" y="1805.3" font-size="13" text-anchor="middle" style="font-weight:normal">10<tspan font-size="10.5" dy="-5.5">2</tspan></text>
<text transform="translate(956.6,1665.0) rotate(-90)" font-size="13" text-anchor="middle" style="font-weight:normal">10<tspan font-size="10.5" dy="-5.5">2</tspan></text>
<text x="1145.0" y="1805.3" font-size="13" text-anchor="middle" style="font-weight:normal">10<tspan font-size="10.5" dy="-5.5">3</tspan></text>
<text transform="translate(956.6,1603.9) rotate(-90)" font-size="13" text-anchor="middle" style="font-weight:normal">10<tspan font-size="10.5" dy="-5.5">3</tspan></text>
<text x="1204.8" y="1805.3" font-size="13" text-anchor="middle" style="font-weight:normal">10<tspan font-size="10.5" dy="-5.5">4</tspan></text>
<text transform="translate(956.6,1542.8) rotate(-90)" font-size="13" text-anchor="middle" style="font-weight:normal">10<tspan font-size="10.5" dy="-5.5">4</tspan></text>
<text x="1082.3" y="1816.3" font-size="10.9" text-anchor="middle" style="font-weight:normal">ANNEXIN-V- FITC</text>
<text x="941.3" y="1665.3" font-size="10.5" text-anchor="middle" style="font-weight:normal" transform="rotate(-90 941.3 1665.3)">PI</text>
<text x="973.5" y="1573.4" font-size="25.5" stroke="#000" stroke-width="0.4">0.99%</text>
<text x="1193.8" y="1573.4" font-size="25.5" text-anchor="end" stroke="#000" stroke-width="0.4">7.58%</text>
<text x="973.5" y="1773.6" font-size="25.5" stroke="#000" stroke-width="0.4">90.38%</text>
<text x="1193.8" y="1773.6" font-size="25.5" text-anchor="end" stroke="#000" stroke-width="0.4">1.05%</text>
<text x="21.2" y="1664.0" font-size="25.7" text-anchor="middle" stroke="#000" stroke-width="0.4" transform="rotate(-90 21.2 1664.0)">HL60</text>
<text x="213.4" y="2078.0" font-size="25.8" text-anchor="middle" stroke="#000" stroke-width="0.4">NC+Vector</text>
<path transform="translate(107.3,2341.7)" d="M176-209h2m17 1h2m-59 7h2m24 0h2m-9 2h2m-20 2h2m43 0h2m-11 1h2m8 0h2m-17 1h2m22 0h2m-70 1h2m24 0h2m-4 1h2m6 0h2m-23 1h2m19 0h2m1 0h2m4 0h2m-1 0h2m-14 1h2m37 0h2m-57 1h2m2 0h2m22 0h2m-1 0h2m4 0h2m2 0h2m5 0h2m-58 1h2m37 0h2m-42 1h2m3 0h2m11 0h2m17 0h2m9 0h2m-58 1h2m-1 0h2m6 0h2m14 0h2m5 0h2m16 0h2m-28 1h2m5 0h2m-1 0h2m-1 0h2m4 0h2m-1 0h2m1 0h2m0 0h2m46 0h2m-83 1h2m21 0h2m3 0h2m-1 0h2m4 0h2m-1 0h2m1 0h2m-51 1h2m-1 0h2m5 0h2m9 0h2m2 0h2m1 0h2m-1 0h2m-1 0h2m6 0h2m3 0h2m1 0h2m9 0h2m-41 1h2m-1 0h2m2 0h2m3 0h2m1 0h2m0 0h2m-1 0h2m1 0h2m-1 0h2m0 0h2m0 0h2m3 0h2m-1 0h2m0 0h2m7 0h2m-46 1h2m0 0h2m2 0h2m-1 0h2m5 0h2m4 0h2m8 0h2m1 0h2m0 0h2m16 0h2m-128 1h2m63 0h2m19 0h2m2 0h2m2 0h2m-1 0h2m6 0h2m3 0h2m3 0h2m2 0h2m-1 0h2m1 0h2m-151 1h2m84 0h2m6 0h2m6 0h2m4 0h2m6 0h2m5 0h2m0 0h2m1 0h2m9 0h2m-49 1h2m1 0h2m15 0h2m-1 0h2m10 0h2m1 0h2m0 0h2m1 0h2m0 0h2m-36 1h2m1 0h2m0 0h2m1 0h2m0 0h2m3 0h2m1 0h2m0 0h2m5 0h2m1 0h2m15 0h2m10 0h2m-155 1h2m81 0h2m8 0h2m3 0h2m-1 0h2m5 0h2m3 0h2m3 0h2m0 0h2m4 0h2m10 0h2m-132 1h2m71 0h2m1 0h2m6 0h2m1 0h2m0 0h2m12 0h2m5 0h2m2 0h2m-1 0h2m0 0h2m2 0h2m14 0h2m-48 1h2m3 0h2m7 0h2m4 0h2m1 0h2m10 0h2m9 0h2m-63 1h2m2 0h2m5 0h2m13 0h2m0 0h2m3 0h2m3 0h2m2 0h2m2 0h2m0 0h2m-129 1h2m38 0h2m41 0h2m4 0h2m4 0h2m1 0h2m3 0h2m1 0h2m1 0h2m-1 0h2m3 0h2m-1 0h2m-1 0h2m10 0h2m0 0h2m17 0h2m-134 1h2m65 0h2m-1 0h2m-1 0h2m10 0h2m-1 0h2m5 0h2m4 0h2m0 0h2m4 0h2m-1 0h2m-1 0h2m-92 1h2m39 0h2m13 0h2m0 0h2m10 0h2m4 0h2m-1 0h2m-1 0h2m4 0h2m1 0h2m0 0h2m4 0h2m7 0h2m-1 0h2m-137 1h2m85 0h2m-1 0h2m7 0h2m9 0h2m1 0h2m2 0h2m-1 0h2m8 0h2m7 0h2m-111 1h2m39 0h2m-1 0h2m4 0h2m5 0h2m-1 0h2m3 0h2m0 0h2m5 0h2m2 0h2m5 0h2m-1 0h2m6 0h2m1 0h2m2 0h2m12 0h2m-58 1h2m-1 0h2m-1 0h2m7 0h2m2 0h2m16 0h2m-1 0h2m11 0h2m-102 1h2m64 0h2m2 0h2m0 0h2m14 0h2m13 0h2m-54 1h2m11 0h2m5 0h2m7 0h2m0 0h2m4 0h2m-70 1h2m31 0h2m7 0h2m13 0h2m-1 0h2m13 0h2m10 0h2m-94 1h2m35 0h2m0 0h2m65 0h2m-98 1h2m33 0h2m14 0h2m0 0h2m4 0h2m23 0h2m-44 1h2m6 0h2m1 0h2m11 0h2m43 0h2m-161 1h2m94 0h2m8 0h2m-45 1h2m12 0h2m35 0h2m-114 1h2m78 0h2m28 0h2m2 0h2m-143 1h2m13 0h2m27 0h2m9 0h2m41 0h2m17 0h2m4 0h2m36 0h2m-67 1h2m-1 0h2m4 0h2m1 0h2m4 0h2m19 0h2m2 0h2m25 0h2m-49 1h2m24 0h2m0 0h2m6 0h2m-77 1h2m13 0h2m36 0h2m-132 1h2m46 0h2m83 0h2m-23 1h2m2 0h2m-67 1h2m65 0h2m26 1h2m-76 1h2m80 0h2m-161 1h2m20 0h2m14 0h2m34 0h2m44 0h2m23 0h2m-100 1h2m66 0h2m5 0h2m22 0h2m-39 1h2m4 0h2m15 0h2m-23 1h2m1 0h2m11 0h2m-23 1h2m33 0h2m-32 1h2m3 0h2m-96 1h2m57 0h2m1 0h2m26 0h2m18 0h2m5 0h2m7 0h2m25 0h2m-76 1h2m11 0h2m-38 1h2m18 0h2m31 0h2m-12 1h2m24 0h2m7 0h2m0 0h2m-53 2h2m-36 1h2m12 0h2m9 0h2m43 0h2m-71 1h2m12 0h2m56 0h2m1 0h2m-155 1h2m129 0h2m25 0h2m-131 1h2m45 0h2m28 0h2m-72 2h2m89 0h2m1 0h2m44 0h2m-101 1h2m5 0h2m1 0h2m26 0h2m-34 1h2m21 0h2m6 0h2m20 0h2m13 0h2m-99 1h2m13 0h2m32 0h2m21 0h2m-23 2h2m-1 0h2m-42 1h2m53 0h2m1 0h2m46 0h2m-108 1h2m48 1h2m-99 1h2m84 0h2m23 0h2m-29 1h2m14 0h2m1 0h2m-33 1h2m21 0h2m2 1h2m0 2h2m-39 1h2m-5 1h2m39 1h2m31 0h2m9 0h2m0 0h2m3 0h2m-64 1h2m8 0h2m-1 0h2m26 0h2m-38 1h2m10 0h2m3 0h2m1 0h2m25 0h2m-68 2h2m6 0h2m57 0h2m-35 1h2m-72 1h2m35 0h2m12 1h2m45 0h2m-70 1h2m13 0h2m13 0h2m-1 0h2m7 0h2m-47 1h2m22 0h2m-28 1h2m43 0h2m-45 1h2m35 0h2m-65 1h2m25 0h2m-72 1h2m25 0h2m39 0h2m-29 1h2m55 0h2m-43 1h2m-6 1h2m11 0h2m1 0h2m11 0h2m-79 1h2m14 0h2m0 0h2m67 0h2m7 0h2m0 0h2m-18 1h2m0 0h2m8 0h2m-1 0h2m4 0h2m-51 1h2m101 0h2m-128 1h2m84 0h2m-59 1h2m22 0h2m12 0h2m21 0h2m-96 1h2m83 0h2m-65 1h2m10 0h2m17 0h2m5 0h2m1 0h2m-4 1h2m54 0h2m-91 2h2m10 0h2m-58 1h2m1 0h2m24 0h2m14 0h2m22 0h2m-66 1h2m28 0h2m3 0h2m0 0h2m29 0h2m16 0h2m12 0h2m21 0h2m-117 1h2m17 0h2m-1 0h2m26 0h2m4 0h2m44 0h2m-110 1h2m9 0h2m1 0h2m-1 0h2m2 0h2m-1 0h2m3 0h2m5 0h2m3 0h2m6 0h2m7 0h2m69 0h2m-110 1h2m1 0h2m0 0h2m-1 0h2m7 0h2m0 0h2m2 0h2m9 0h2m-60 1h2m3 0h2m8 0h2m5 0h2m6 0h2m3 0h2m15 0h2m80 0h2m-136 1h2m18 0h2m4 0h2m1 0h2m7 0h2m20 0h2m26 0h2m-96 1h2m4 0h2m0 0h2m1 0h2m1 0h2m11 0h2m2 0h2m2 0h2m2 0h2m-1 0h2m4 0h2m1 0h2m-1 0h2m8 0h2m2 0h2m-1 0h2m1 0h2m5 0h2m-74 1h2m0 0h2m5 0h2m6 0h2m6 0h2m0 0h2m10 0h2m3 0h2m0 0h2m9 0h2m8 0h2m-1 0h2m-57 1h2m1 0h2m0 0h2m2 0h2m-1 0h2m3 0h2m2 0h2m6 0h2m-1 0h2m-1 0h2m3 0h2m5 0h2m2 0h2m-1 0h2m12 0h2m2 0h2m72 0h2m-140 1h2m1 0h2m0 0h2m1 0h2m-1 0h2m1 0h2m-1 0h2m4 0h2m-1 0h2m2 0h2m-1 0h2m3 0h2m0 0h2m-1 0h2m4 0h2m2 0h2m2 0h2m10 0h2m27 0h2m-80 1h2m-1 0h2m1 0h2m0 0h2m-1 0h2m-1 0h2m-1 0h2m-1 0h2m0 0h2m1 0h2m-1 0h2m0 0h2m8 0h2m15 0h2m-61 1h2m-1 0h2m4 0h2m-1 0h2m-1 0h2m-1 0h2m-1 0h2m-1 0h2m0 0h2m0 0h2m0 0h2m-1 0h2m2 0h2m0 0h2m0 0h2m1 0h2m0 0h2m0 0h2m0 0h2m2 0h2m1 0h2m1 0h2m1 0h2m1 0h2m3 0h2m-59 1h2m0 0h2m0 0h2m-1 0h2m2 0h2m3 0h2m1 0h2m-1 0h2m1 0h2m1 0h2m2 0h2m-1 0h2m-1 0h2m0 0h2m-1 0h2m-1 0h2m1 0h2m0 0h2m1 0h2m2 0h2m8 0h2m-1 0h2m6 0h2m0 0h2m-1 0h2m37 0h2m-130 1h2m8 0h2m8 0h2m0 0h2m-1 0h2m1 0h2m0 0h2m1 0h2m0 0h2m-1 0h2m1 0h2m0 0h2m-1 0h2m1 0h2m-1 0h2m-1 0h2m4 0h2m3 0h2m2 0h2m1 0h2m13 0h2m1 0h2m0 0h2m2 0h2m-72 1h2m2 0h2m1 0h2m0 0h2m-1 0h2m0 0h2m2 0h2m-1 0h2m1 0h2m-1 0h2m-1 0h2m0 0h2m1 0h2m-1 0h2m-1 0h2m1 0h2m-1 0h2m0 0h2m0 0h2m0 0h2m0 0h2m2 0h2m3 0h2m0 0h2m-1 0h2m-1 0h2m5 0h2m6 0h2m-67 1h2m3 0h2m1 0h2m4 0h2m0 0h2m0 0h2m1 0h2m-1 0h2m-1 0h2m0 0h2m0 0h2m-1 0h2m-1 0h2m-1 0h2m-1 0h2m2 0h2m-1 0h2m-1 0h2m1 0h2m-1 0h2m11 0h2m-68 1h2m5 0h2m0 0h2m1 0h2m0 0h2m-1 0h2m-1 0h2m2 0h2m1 0h2m0 0h2m0 0h2m2 0h2m-1 0h2m3 0h2m1 0h2m6 0h2m-1 0h2m0 0h2m3 0h2m0 0h2m4 0h2m1 0h2m1 0h2m24 0h2m-98 1h2m3 0h2m3 0h2m-1 0h2m3 0h2m-1 0h2m-1 0h2m1 0h2m-1 0h2m-1 0h2m2 0h2m-1 0h2m0 0h2m0 0h2m-1 0h2m-1 0h2m2 0h2m-1 0h2m-1 0h2m-1 0h2m-1 0h2m-1 0h2m-1 0h2m3 0h2m1 0h2m0 0h2m-1 0h2m4 0h2m56 0h2m-125 1h2m2 0h2m0 0h2m-1 0h2m-1 0h2m4 0h2m-1 0h2m1 0h2m-1 0h2m0 0h2m-1 0h2m1 0h2m-1 0h2m0 0h2m-1 0h2m-1 0h2m0 0h2m-1 0h2m-1 0h2m-1 0h2m-1 0h2m0 0h2m-1 0h2m0 0h2m-1 0h2m-1 0h2m-1 0h2m1 0h2m0 0h2m1 0h2m-1 0h2m2 0h2m-1 0h2m3 0h2m1 0h2m0 0h2m0 0h2m3 0h2m4 0h2m65 0h2m-155 1h2m5 0h2m2 0h2m2 0h2m6 0h2m2 0h2m1 0h2m-1 0h2m-1 0h2m0 0h2m2 0h2m0 0h2m-1 0h2m1 0h2m-1 0h2m0 0h2m1 0h2m3 0h2m-1 0h2m-1 0h2m-1 0h2m-1 0h2m-1 0h2m3 0h2m8 0h2m7 0h2m2 0h2m-102 1h2m6 0h2m13 0h2m-1 0h2m-1 0h2m-1 0h2m-1 0h2m3 0h2m0 0h2m-1 0h2m-1 0h2m7 0h2m-1 0h2m-1 0h2m-1 0h2m1 0h2m-1 0h2m-1 0h2m0 0h2m-1 0h2m0 0h2m0 0h2m-1 0h2m-1 0h2m-1 0h2m-1 0h2m-1 0h2m0 0h2m0 0h2m-1 0h2m1 0h2m-1 0h2m3 0h2m4 0h2m-1 0h2m3 0h2m1 0h2m18 0h2m-95 1h2m-1 0h2m7 0h2m0 0h2m-1 0h2m-1 0h2m-1 0h2m-1 0h2m-1 0h2m-1 0h2m0 0h2m-1 0h2m-1 0h2m1 0h2m-1 0h2m-1 0h2m-1 0h2m0 0h2m-1 0h2m-1 0h2m-1 0h2m-1 0h2m-1 0h2m0 0h2m1 0h2m-1 0h2m2 0h2m1 0h2m3 0h2m1 0h2m-1 0h2m0 0h2m-1 0h2m6 0h2m2 0h2m21 0h2m34 0h2m-145 1h2m11 0h2m-1 0h2m1 0h2m1 0h2m-1 0h2m-1 0h2m-1 0h2m4 0h2m1 0h2m-1 0h2m-1 0h2m1 0h2m-1 0h2m-1 0h2m0 0h2m-1 0h2m-1 0h2m-1 0h2m0 0h2m-1 0h2m-1 0h2m-1 0h2m-1 0h2m-1 0h2m-1 0h2m3 0h2m3 0h2m6 0h2m-1 0h2m1 0h2m0 0h2m50 0h2m-127 1h2m0 0h2m1 0h2m10 0h2m0 0h2m-1 0h2m-1 0h2m0 0h2m0 0h2m-1 0h2m-1 0h2m-1 0h2m-1 0h2m-1 0h2m-1 0h2m-1 0h2m-1 0h2m-1 0h2m-1 0h2m-1 0h2m-1 0h2m-1 0h2m-1 0h2m-1 0h2m-1 0h2m-1 0h2m-1 0h2m-1 0h2m2 0h2m0 0h2m-1 0h2m-1 0h2m3 0h2m2 0h2m0 0h2m-1 0h2m-1 0h2m8 0h2m5 0h2m-101 1h2m9 0h2m5 0h2m-1 0h2m0 0h2m-1 0h2m2 0h2m-1 0h2m-1 0h2m0 0h2m-1 0h2m0 0h2m0 0h2m2 0h2m-1 0h2m-1 0h2m-1 0h2m-1 0h2m-1 0h2m0 0h2m1 0h2m-1 0h2m1 0h2m-1 0h2m-1 0h2m1 0h2m-1 0h2m1 0h2m-1 0h2m-1 0h2m-1 0h2m-1 0h2m0 0h2m-1 0h2m-1 0h2m-1 0h2m-1 0h2m1 0h2m-1 0h2m-1 0h2m2 0h2m-1 0h2m-1 0h2m-1 0h2m-1 0h2m-1 0h2m8 0h2m7 0h2m-95 1h2m-1 0h2m0 0h2m-1 0h2m11 0h2m-1 0h2m3 0h2m-1 0h2m1 0h2m0 0h2m1 0h2m0 0h2m-1 0h2m-1 0h2m-1 0h2m-1 0h2m-1 0h2m-1 0h2m-1 0h2m0 0h2m-1 0h2m-1 0h2m-1 0h2m-1 0h2m-1 0h2m-1 0h2m0 0h2m0 0h2m-1 0h2m-1 0h2m-1 0h2m-1 0h2m-1 0h2m0 0h2m-1 0h2m-1 0h2m1 0h2m-1 0h2m0 0h2m2 0h2m2 0h2m-1 0h2m0 0h2m-1 0h2m0 0h2m65 0h2m5 0h2m9 0h2m-167 1h2m4 0h2m2 0h2m-1 0h2m-1 0h2m5 0h2m-1 0h2m0 0h2m1 0h2m-1 0h2m-1 0h2m-1 0h2m0 0h2m-1 0h2m-1 0h2m-1 0h2m1 0h2m-1 0h2m-1 0h2m0 0h2m-1 0h2m-1 0h2m-1 0h2m2 0h2m1 0h2m-1 0h2m-1 0h2m-1 0h2m-1 0h2m-1 0h2m-1 0h2m-1 0h2m-1 0h2m0 0h2m-1 0h2m-1 0h2m-1 0h2m1 0h2m-1 0h2m-1 0h2m94 0h2m-167 1h2m4 0h2m7 0h2m1 0h2m0 0h2m-1 0h2m-1 0h2m1 0h2m-1 0h2m-1 0h2m-1 0h2m-1 0h2m-1 0h2m-1 0h2m1 0h2m1 0h2m-1 0h2m-1 0h2m-1 0h2m0 0h2m0 0h2m-1 0h2m-1 0h2m-1 0h2m-1 0h2m-1 0h2m-1 0h2m-1 0h2m0 0h2m1 0h2m-1 0h2m0 0h2m-1 0h2m2 0h2m-1 0h2m-1 0h2m0 0h2m-1 0h2m-1 0h2m0 0h2m-1 0h2m2 0h2m-1 0h2m7 0h2m-94 1h2m-1 0h2m5 0h2m6 0h2m0 0h2m6 0h2m1 0h2m-1 0h2m-1 0h2m1 0h2m-1 0h2m0 0h2m1 0h2m-1 0h2m0 0h2m-1 0h2m-1 0h2m-1 0h2m-1 0h2m-1 0h2m-1 0h2m-1 0h2m-1 0h2m-1 0h2m-1 0h2m-1 0h2m-1 0h2m-1 0h2m-1 0h2m-1 0h2m-1 0h2m3 0h2m0 0h2m2 0h2m-1 0h2m5 0h2m7 0h2m0 0h2m-77 1h2m-1 0h2m1 0h2m1 0h2m2 0h2m-1 0h2m0 0h2m0 0h2m0 0h2m0 0h2m-1 0h2m-1 0h2m0 0h2m-1 0h2m1 0h2m-1 0h2m1 0h2m-1 0h2m-1 0h2m-1 0h2m-1 0h2m-1 0h2m0 0h2m0 0h2m-1 0h2m0 0h2m-1 0h2m-1 0h2m-1 0h2m-1 0h2m-1 0h2m-1 0h2m0 0h2m-1 0h2m-1 0h2m-1 0h2m0 0h2m-1 0h2m0 0h2m0 0h2m0 0h2m0 0h2m-1 0h2m13 0h2m-1 0h2m-95 1h2m0 0h2m2 0h2m1 0h2m-1 0h2m3 0h2m-1 0h2m0 0h2m-1 0h2m-1 0h2m-1 0h2m-1 0h2m1 0h2m-1 0h2m0 0h2m-1 0h2m-1 0h2m-1 0h2m-1 0h2m-1 0h2m-1 0h2m-1 0h2m2 0h2m-1 0h2m-1 0h2m-1 0h2m-1 0h2m-1 0h2m-1 0h2m-1 0h2m1 0h2m-1 0h2m-1 0h2m-1 0h2m-1 0h2m-1 0h2m0 0h2m-1 0h2m-1 0h2m-1 0h2m-1 0h2m-1 0h2m0 0h2m-1 0h2m-1 0h2m0 0h2m-1 0h2m-1 0h2m1 0h2m-1 0h2m1 0h2m0 0h2m15 0h2m1 0h2m-104 1h2m3 0h2m2 0h2m-1 0h2m1 0h2m1 0h2m-1 0h2m2 0h2m-1 0h2m1 0h2m-1 0h2m-1 0h2m-1 0h2m1 0h2m-1 0h2m0 0h2m0 0h2m-1 0h2m-1 0h2m-1 0h2m-1 0h2m-1 0h2m-1 0h2m0 0h2m-1 0h2m-1 0h2m-1 0h2m0 0h2m-1 0h2m-1 0h2m0 0h2m-1 0h2m-1 0h2m-1 0h2m1 0h2m-1 0h2m-1 0h2m-1 0h2m-1 0h2m-1 0h2m-1 0h2m-1 0h2m1 0h2m-1 0h2m4 0h2m-1 0h2m-1 0h2m-1 0h2m5 0h2m5 0h2m16 0h2m-99 1h2m6 0h2m-1 0h2m-1 0h2m0 0h2m0 0h2m-1 0h2m-1 0h2m1 0h2m-1 0h2m-1 0h2m-1 0h2m0 0h2m-1 0h2m-1 0h2m-1 0h2m0 0h2m-1 0h2m-1 0h2m0 0h2m-1 0h2m-1 0h2m-1 0h2m-1 0h2m3 0h2m0 0h2m1 0h2m0 0h2m-1 0h2m0 0h2m-1 0h2m1 0h2m0 0h2m-1 0h2m-1 0h2m33 0h2m2 0h2m-109 1h2m0 0h2m3 0h2m-1 0h2m-1 0h2m-1 0h2m-1 0h2m-1 0h2m-1 0h2m1 0h2m1 0h2m-1 0h2m-1 0h2m1 0h2m-1 0h2m0 0h2m-1 0h2m-1 0h2m-1 0h2m0 0h2m-1 0h2m-1 0h2m-1 0h2m0 0h2m0 0h2m-1 0h2m-1 0h2m-1 0h2m-1 0h2m-1 0h2m-1 0h2m-1 0h2m-1 0h2m-1 0h2m-1 0h2m0 0h2m1 0h2m-1 0h2m7 0h2m-1 0h2m0 0h2m-1 0h2m-1 0h2m5 0h2m-1 0h2m-80 1h2m2 0h2m-1 0h2m3 0h2m2 0h2m-1 0h2m0 0h2m-1 0h2m-1 0h2m-1 0h2m-1 0h2m-1 0h2m-1 0h2m0 0h2m-1 0h2m-1 0h2m-1 0h2m-1 0h2m0 0h2m-1 0h2m-1 0h2m-1 0h2m-1 0h2m0 0h2m-1 0h2m-1 0h2m-1 0h2m-1 0h2m-1 0h2m-1 0h2m-1 0h2m-1 0h2m0 0h2m-1 0h2m-1 0h2m-1 0h2m-1 0h2m-1 0h2m1 0h2m0 0h2m-1 0h2m-1 0h2m-1 0h2m-1 0h2m0 0h2m-1 0h2m-1 0h2m-1 0h2m-1 0h2m-1 0h2m-1 0h2m-1 0h2m5 0h2m-75 1h2m1 0h2m-1 0h2m-1 0h2m-1 0h2m0 0h2m-1 0h2m0 0h2m0 0h2m1 0h2m-1 0h2m1 0h2m0 0h2m-1 0h2m-1 0h2m-1 0h2m-1 0h2m-1 0h2m-1 0h2m-1 0h2m-1 0h2m-1 0h2m-1 0h2m-1 0h2m-1 0h2m-1 0h2m-1 0h2m-1 0h2m-1 0h2m-1 0h2m-1 0h2m1 0h2m-1 0h2m-1 0h2m1 0h2m0 0h2m-1 0h2m1 0h2m-1 0h2m-1 0h2m1 0h2m-1 0h2m2 0h2m-1 0h2m-1 0h2m4 0h2m-1 0h2m7 0h2m64 0h2m-155 1h2m2 0h2m2 0h2m-1 0h2m-1 0h2m0 0h2m0 0h2m0 0h2m-1 0h2m0 0h2m-1 0h2m-1 0h2m-1 0h2m-1 0h2m-1 0h2m-1 0h2m-1 0h2m-1 0h2m-1 0h2m-1 0h2m0 0h2m-1 0h2m-1 0h2m-1 0h2m1 0h2m-1 0h2m-1 0h2m-1 0h2m-1 0h2m-1 0h2m-1 0h2m-1 0h2m-1 0h2m1 0h2m-1 0h2m0 0h2m0 0h2m0 0h2m-1 0h2m-1 0h2m-1 0h2m-1 0h2m-1 0h2m-1 0h2m1 0h2m-1 0h2m-1 0h2m0 0h2m-1 0h2m31 0h2m-121 1h2m9 0h2m1 0h2m8 0h2m-1 0h2m-1 0h2m3 0h2m-1 0h2m0 0h2m0 0h2m0 0h2m-1 0h2m-1 0h2m-1 0h2m0 0h2m0 0h2m0 0h2m1 0h2m-1 0h2m-1 0h2m-1 0h2m-1 0h2m-1 0h2m-1 0h2m-1 0h2m-1 0h2m-1 0h2m-1 0h2m0 0h2m-1 0h2m-1 0h2m-1 0h2m-1 0h2m0 0h2m0 0h2m-1 0h2m-1 0h2m-1 0h2m-1 0h2m-1 0h2m-1 0h2m-1 0h2m1 0h2m-1 0h2m-1 0h2m-1 0h2m7 0h2m-80 1h2m1 0h2m2 0h2m1 0h2m0 0h2m3 0h2m6 0h2m0 0h2m-1 0h2m-1 0h2m-1 0h2m-1 0h2m-1 0h2m-1 0h2m-1 0h2m-1 0h2m-1 0h2m-1 0h2m-1 0h2m-1 0h2m-1 0h2m0 0h2m-1 0h2m-1 0h2m-1 0h2m-1 0h2m-1 0h2m-1 0h2m-1 0h2m-1 0h2m-1 0h2m-1 0h2m0 0h2m-1 0h2m-1 0h2m-1 0h2m-1 0h2m0 0h2m-1 0h2m-1 0h2m0 0h2m-1 0h2m0 0h2m10 0h2m-85 1h2m4 0h2m3 0h2m-1 0h2m4 0h2m-1 0h2m-1 0h2m-1 0h2m3 0h2m-1 0h2m-1 0h2m-1 0h2m-1 0h2m-1 0h2m0 0h2m-1 0h2m-1 0h2m-1 0h2m-1 0h2m-1 0h2m0 0h2m-1 0h2m-1 0h2m-1 0h2m-1 0h2m-1 0h2m-1 0h2m-1 0h2m-1 0h2m1 0h2m-1 0h2m-1 0h2m-1 0h2m-1 0h2m0 0h2m-1 0h2m-1 0h2m0 0h2m0 0h2m-1 0h2m-1 0h2m-1 0h2m0 0h2m-1 0h2m2 0h2m-1 0h2m-1 0h2m-1 0h2m-1 0h2m3 0h2m1 0h2m0 0h2m48 0h2m6 0h2m25 0h2m6 0h2m-191 1h2m11 0h2m0 0h2m11 0h2m-1 0h2m-1 0h2m-1 0h2m-1 0h2m-1 0h2m-1 0h2m2 0h2m-1 0h2m-1 0h2m-1 0h2m-1 0h2m-1 0h2m-1 0h2m-1 0h2m-1 0h2m-1 0h2m-1 0h2m-1 0h2m-1 0h2m-1 0h2m-1 0h2m-1 0h2m-1 0h2m-1 0h2m-1 0h2m-1 0h2m-1 0h2m-1 0h2m-1 0h2m-1 0h2m-1 0h2m-1 0h2m-1 0h2m-1 0h2m-1 0h2m-1 0h2m-1 0h2m0 0h2m-1 0h2m-1 0h2m0 0h2m-1 0h2m-1 0h2m-1 0h2m-1 0h2m2 0h2m0 0h2m-1 0h2m-1 0h2m1 0h2m3 0h2m2 0h2m-96 1h2m2 0h2m10 0h2m1 0h2m2 0h2m-1 0h2m-1 0h2m2 0h2m0 0h2m1 0h2m2 0h2m0 0h2m-1 0h2m-1 0h2m-1 0h2m-1 0h2m-1 0h2m-1 0h2m0 0h2m-1 0h2m-1 0h2m-1 0h2m-1 0h2m-1 0h2m1 0h2m-1 0h2m-1 0h2m-1 0h2m-1 0h2m-1 0h2m-1 0h2m1 0h2m1 0h2m0 0h2m-1 0h2m-1 0h2m-1 0h2m-1 0h2m1 0h2m0 0h2m-1 0h2m3 0h2m0 0h2m5 0h2m18 0h2m-121 1h2m17 0h2m6 0h2m1 0h2m2 0h2m-1 0h2m-1 0h2m0 0h2m-1 0h2m0 0h2m-1 0h2m-1 0h2m-1 0h2m-1 0h2m-1 0h2m-1 0h2m-1 0h2m-1 0h2m-1 0h2m-1 0h2m-1 0h2m-1 0h2m-1 0h2m-1 0h2m-1 0h2m-1 0h2m-1 0h2m-1 0h2m-1 0h2m-1 0h2m2 0h2m1 0h2m1 0h2m-1 0h2m2 0h2m0 0h2m-1 0h2m-1 0h2m0 0h2m17 0h2m-100 1h2m2 0h2m1 0h2m1 0h2m2 0h2m2 0h2m3 0h2m0 0h2m0 0h2m-1 0h2m1 0h2m-1 0h2m2 0h2m-1 0h2m0 0h2m-1 0h2m-1 0h2m-1 0h2m-1 0h2m-1 0h2m-1 0h2m-1 0h2m-1 0h2m0 0h2m-1 0h2m-1 0h2m-1 0h2m-1 0h2m0 0h2m0 0h2m-1 0h2m-1 0h2m-1 0h2m0 0h2m-1 0h2m1 0h2m0 0h2m-1 0h2m-1 0h2m0 0h2m-1 0h2m0 0h2m-1 0h2m0 0h2m-1 0h2m0 0h2m-1 0h2m10 0h2m1 0h2m-1 0h2m23 0h2m-115 1h2m4 0h2m0 0h2m3 0h2m-1 0h2m-1 0h2m-1 0h2m1 0h2m1 0h2m0 0h2m-1 0h2m0 0h2m-1 0h2m1 0h2m-1 0h2m0 0h2m-1 0h2m0 0h2m-1 0h2m-1 0h2m-1 0h2m0 0h2m-1 0h2m-1 0h2m-1 0h2m-1 0h2m-1 0h2m-1 0h2m-1 0h2m0 0h2m-1 0h2m1 0h2m1 0h2m-1 0h2m-1 0h2m0 0h2m1 0h2m10 0h2m-1 0h2m-69 1h2m0 0h2m1 0h2m-1 0h2m-1 0h2m3 0h2m-1 0h2m-1 0h2m-1 0h2m-1 0h2m-1 0h2m-1 0h2m-1 0h2m-1 0h2m0 0h2m-1 0h2m-1 0h2m0 0h2m-1 0h2m-1 0h2m-1 0h2m-1 0h2m-1 0h2m-1 0h2m-1 0h2m-1 0h2m-1 0h2m-1 0h2m-1 0h2m-1 0h2m-1 0h2m0 0h2m-1 0h2m0 0h2m-1 0h2m-1 0h2m0 0h2m0 0h2m-1 0h2m-1 0h2m2 0h2m10 0h2m-1 0h2m82 0h2m-166 1h2m-1 0h2m1 0h2m-1 0h2m1 0h2m-1 0h2m0 0h2m3 0h2m0 0h2m0 0h2m2 0h2m-1 0h2m-1 0h2m-1 0h2m-1 0h2m-1 0h2m0 0h2m0 0h2m-1 0h2m-1 0h2m-1 0h2m1 0h2m0 0h2m0 0h2m-1 0h2m1 0h2m-1 0h2m-1 0h2m-1 0h2m-1 0h2m-1 0h2m-1 0h2m1 0h2m-1 0h2m-1 0h2m-1 0h2m2 0h2m-1 0h2m1 0h2m8 0h2m78 0h2m-159 1h2m0 0h2m3 0h2m2 0h2m1 0h2m-1 0h2m-1 0h2m-1 0h2m-1 0h2m-1 0h2m-1 0h2m-1 0h2m-1 0h2m-1 0h2m1 0h2m-1 0h2m-1 0h2m0 0h2m-1 0h2m-1 0h2m-1 0h2m-1 0h2m-1 0h2m-1 0h2m-1 0h2m-1 0h2m-1 0h2m0 0h2m-1 0h2m0 0h2m-1 0h2m-1 0h2m-1 0h2m-1 0h2m-1 0h2m-1 0h2m0 0h2m-1 0h2m0 0h2m-1 0h2m-1 0h2m7 0h2m-1 0h2m1 0h2m0 0h2m0 0h2m0 0h2m-82 1h2m17 0h2m0 0h2m0 0h2m-1 0h2m1 0h2m0 0h2m-1 0h2m-1 0h2m3 0h2m-1 0h2m-1 0h2m-1 0h2m-1 0h2m0 0h2m-1 0h2m-1 0h2m-1 0h2m-1 0h2m2 0h2m-1 0h2m0 0h2m-1 0h2m-1 0h2m-1 0h2m-1 0h2m-1 0h2m-1 0h2m-1 0h2m-1 0h2m-1 0h2m-1 0h2m4 0h2m-75 1h2m2 0h2m9 0h2m1 0h2m-1 0h2m-1 0h2m-1 0h2m3 0h2m-1 0h2m1 0h2m-1 0h2m-1 0h2m-1 0h2m0 0h2m-1 0h2m0 0h2m0 0h2m-1 0h2m-1 0h2m-1 0h2m-1 0h2m-1 0h2m0 0h2m-1 0h2m-1 0h2m1 0h2m1 0h2m0 0h2m-1 0h2m-1 0h2m0 0h2m0 0h2m7 0h2m-1 0h2m1 0h2m10 0h2m-86 1h2m5 0h2m2 0h2m3 0h2m0 0h2m-1 0h2m2 0h2m-1 0h2m-1 0h2m-1 0h2m-1 0h2m-1 0h2m0 0h2m0 0h2m-1 0h2m-1 0h2m-1 0h2m-1 0h2m-1 0h2m-1 0h2m1 0h2m-1 0h2m0 0h2m-1 0h2m-1 0h2m-1 0h2m-1 0h2m-1 0h2m-1 0h2m2 0h2m0 0h2m-1 0h2m0 0h2m0 0h2m-1 0h2m-1 0h2m-1 0h2m2 0h2m1 0h2m3 0h2m5 0h2m4 0h2m6 0h2m7 0h2m60 0h2m-173 1h2m2 0h2m14 0h2m1 0h2m0 0h2m1 0h2m0 0h2m4 0h2m0 0h2m0 0h2m2 0h2m-1 0h2m-1 0h2m-1 0h2m-1 0h2m0 0h2m-1 0h2m0 0h2m-1 0h2m-1 0h2m-1 0h2m-1 0h2m-1 0h2m-1 0h2m2 0h2m-1 0h2m1 0h2m0 0h2m1 0h2m11 0h2m67 0h2m-150 1h2m5 0h2m4 0h2m0 0h2m2 0h2m2 0h2m-1 0h2m0 0h2m0 0h2m-1 0h2m1 0h2m-1 0h2m-1 0h2m-1 0h2m0 0h2m-1 0h2m-1 0h2m0 0h2m-1 0h2m-1 0h2m-1 0h2m-1 0h2m0 0h2m-1 0h2m0 0h2m-1 0h2m-1 0h2m0 0h2m1 0h2m8 0h2m1 0h2m-69 1h2m11 0h2m2 0h2m-1 0h2m9 0h2m-1 0h2m-1 0h2m-1 0h2m3 0h2m0 0h2m-1 0h2m-1 0h2m0 0h2m-1 0h2m1 0h2m-1 0h2m-1 0h2m-1 0h2m-1 0h2m-1 0h2m-1 0h2m2 0h2m0 0h2m-1 0h2m1 0h2m0 0h2m82 0h2m-156 1h2m5 0h2m3 0h2m5 0h2m5 0h2m-1 0h2m0 0h2m1 0h2m-1 0h2m1 0h2m1 0h2m-1 0h2m-1 0h2m-1 0h2m-1 0h2m0 0h2m-1 0h2m-1 0h2m0 0h2m-1 0h2m-1 0h2m1 0h2m4 0h2m0 0h2m-1 0h2m0 0h2m0 0h2m1 0h2m2 0h2m-69 1h2m-1 0h2m-1 0h2m5 0h2m-1 0h2m-1 0h2m-1 0h2m5 0h2m0 0h2m-1 0h2m-1 0h2m0 0h2m-1 0h2m-1 0h2m0 0h2m-1 0h2m-1 0h2m0 0h2m-1 0h2m1 0h2m-1 0h2m0 0h2m2 0h2m1 0h2m0 0h2m-1 0h2m6 0h2m12 0h2m9 0h2m76 0h2m-153 1h2m-1 0h2m1 0h2m-1 0h2m0 0h2m1 0h2m2 0h2m0 0h2m-1 0h2m-1 0h2m0 0h2m-1 0h2m-1 0h2m0 0h2m-1 0h2m-1 0h2m0 0h2m-1 0h2m-1 0h2m-1 0h2m1 0h2m-1 0h2m1 0h2m-1 0h2m2 0h2m-1 0h2m12 0h2m2 0h2m34 0h2m13 0h2m30 0h2m-140 1h2m1 0h2m3 0h2m2 0h2m1 0h2m1 0h2m-1 0h2m0 0h2m1 0h2m-1 0h2m0 0h2m4 0h2m-1 0h2m2 0h2m6 0h2m0 0h2m3 0h2m33 0h2m-108 1h2m2 0h2m0 0h2m-1 0h2m4 0h2m2 0h2m-1 0h2m1 0h2m1 0h2m1 0h2m-1 0h2m0 0h2m-1 0h2m-1 0h2m-1 0h2m-1 0h2m-1 0h2m-1 0h2m3 0h2m5 0h2m2 0h2m7 0h2m9 0h2m78 0h2m-166 1h2m19 0h2m0 0h2m6 0h2m1 0h2m-1 0h2m-1 0h2m3 0h2m3 0h2m-1 0h2m0 0h2m1 0h2m7 0h2m-1 0h2m2 0h2m-1 0h2m1 0h2m2 0h2m19 0h2m-78 1h2m2 0h2m-1 0h2m3 0h2m3 0h2m2 0h2m3 0h2m0 0h2m6 0h2m3 0h2m1 0h2m15 0h2m-79 1h2m21 0h2m-1 0h2m0 0h2m-1 0h2m7 0h2m-1 0h2m-1 0h2m3 0h2m1 0h2m-1 0h2m-1 0h2m17 0h2m-61 1h2m7 0h2m4 0h2m8 0h2m4 0h2m-1 0h2m-1 0h2m3 0h2m5 0h2m21 0h2m22 0h2m51 0h2m-121 1h2m2 0h2m0 0h2m2 0h2m0 0h2m0 0h2m1 0h2m4 0h2m1 0h2m-1 0h2m6 0h2m2 0h2m0 0h2m33 0h2m15 0h2m28 0h2m-148 1h2m5 0h2m18 0h2m-1 0h2m-1 0h2m1 0h2m1 0h2m20 0h2m3 0h2m-55 1h2m1 0h2m1 0h2m-1 0h2m-1 0h2m0 0h2m1 0h2m4 0h2m4 0h2m3 0h2m1 0h2m18 0h2m105 0h2m-173 1h2m9 0h2m1 0h2m15 0h2m6 0h2m15 0h2m2 0h2m0 0h2m42 0h2m28 0h2m10 0h2m25 0h2m-182 1h2m35 0h2m5 0h2m2 0h2m5 0h2m-27 1h2m5 0h2m33 0h2m102 0h2m-160 1h2m35 0h2m-59 1h2m27 0h2m5 0h2m19 0h2m8 0h2m-23 1h2m1 0h2m1 0h2m-34 1h2m8 0h2m29 0h2m-16 1h2m2 0h2m-52 1h2m9 0h2m21 0h2m0 0h2m117 0h2m6 1h2m-158 1h2m29 1h2m90 0h2m47 0h2m-187 1h2m40 0h2m5 0h2m53 0h2m11 0h2m-114 1h2m37 0h2m82 0h2m6 0h2m-90 1h2m-5 1h2m127 0h2m-143 1h2" stroke="#e8151b" stroke-width="1.5" fill="none"/>
<rect x="107.3" y="2096.8" width="239" height="244.9" fill="none" stroke="#000" stroke-width="1.3"/>
<line x1="215.5" y1="2096.8" x2="215.5" y2="2341.7" stroke="#000" stroke-width="1.3"/>
<line x1="107.3" y1="2244.0" x2="346.3" y2="2244.0" stroke="#000" stroke-width="1.3"/>
<path d="M107.3,2341.7v6M107.3,2341.7h-6M125.3,2341.7v3M107.3,2323.3h-3M135.8,2341.7v3M107.3,2312.5h-3M143.3,2341.7v3M107.3,2304.8h-3M149.1,2341.7v3M107.3,2298.9h-3M153.8,2341.7v3M107.3,2294.1h-3M157.8,2341.7v3M107.3,2290.0h-3M161.3,2341.7v3M107.3,2286.4h-3M164.3,2341.7v3M107.3,2283.3h-3M167.1,2341.7v6M107.3,2280.5h-6M185.0,2341.7v3M107.3,2262.0h-3M195.6,2341.7v3M107.3,2251.3h-3M203.0,2341.7v3M107.3,2243.6h-3M208.8,2341.7v3M107.3,2237.7h-3M213.5,2341.7v3M107.3,2232.8h-3M217.5,2341.7v3M107.3,2228.7h-3M221.0,2341.7v3M107.3,2225.2h-3M224.1,2341.7v3M107.3,2222.1h-3M226.8,2341.7v6M107.3,2219.2h-6M244.8,2341.7v3M107.3,2200.8h-3M255.3,2341.7v3M107.3,2190.0h-3M262.8,2341.7v3M107.3,2182.4h-3M268.6,2341.7v3M107.3,2176.5h-3M273.3,2341.7v3M107.3,2171.6h-3M277.3,2341.7v3M107.3,2167.5h-3M280.8,2341.7v3M107.3,2164.0h-3M283.8,2341.7v3M107.3,2160.8h-3M286.6,2341.7v6M107.3,2158.0h-6M304.5,2341.7v3M107.3,2139.6h-3M315.1,2341.7v3M107.3,2128.8h-3M322.5,2341.7v3M107.3,2121.2h-3M328.3,2341.7v3M107.3,2115.2h-3M333.0,2341.7v3M107.3,2110.4h-3M337.0,2341.7v3M107.3,2106.3h-3M340.5,2341.7v3M107.3,2102.7h-3M343.6,2341.7v3M107.3,2099.6h-3M346.3,2341.7v6M107.3,2096.8h-6" stroke="#000" stroke-width="1" fill="none"/>
<text x="107.8" y="2360.7" font-size="13" text-anchor="middle" style="font-weight:normal">10<tspan font-size="10.5" dy="-5.5">0</tspan></text>
<text transform="translate(98.6,2342.7) rotate(-90)" font-size="13" text-anchor="middle" style="font-weight:normal">10<tspan font-size="10.5" dy="-5.5">0</tspan></text>
<text x="167.6" y="2360.7" font-size="13" text-anchor="middle" style="font-weight:normal">10<tspan font-size="10.5" dy="-5.5">1</tspan></text>
<text transform="translate(98.6,2281.5) rotate(-90)" font-size="13" text-anchor="middle" style="font-weight:normal">10<tspan font-size="10.5" dy="-5.5">1</tspan></text>
<text x="227.3" y="2360.7" font-size="13" text-anchor="middle" style="font-weight:normal">10<tspan font-size="10.5" dy="-5.5">2</tspan></text>
<text transform="translate(98.6,2220.2) rotate(-90)" font-size="13" text-anchor="middle" style="font-weight:normal">10<tspan font-size="10.5" dy="-5.5">2</tspan></text>
<text x="287.1" y="2360.7" font-size="13" text-anchor="middle" style="font-weight:normal">10<tspan font-size="10.5" dy="-5.5">3</tspan></text>
<text transform="translate(98.6,2159.0) rotate(-90)" font-size="13" text-anchor="middle" style="font-weight:normal">10<tspan font-size="10.5" dy="-5.5">3</tspan></text>
<text x="346.8" y="2360.7" font-size="13" text-anchor="middle" style="font-weight:normal">10<tspan font-size="10.5" dy="-5.5">4</tspan></text>
<text transform="translate(98.6,2097.8) rotate(-90)" font-size="13" text-anchor="middle" style="font-weight:normal">10<tspan font-size="10.5" dy="-5.5">4</tspan></text>
<text x="224.3" y="2371.7" font-size="10.9" text-anchor="middle" style="font-weight:normal">ANNEXIN-V- FITC</text>
<text x="83.3" y="2220.5" font-size="10.5" text-anchor="middle" style="font-weight:normal" transform="rotate(-90 83.3 2220.5)">PI</text>
<text x="115.2" y="2127.1" font-size="25.5" stroke="#000" stroke-width="0.4">1.09%</text>
<text x="336.3" y="2127.1" font-size="25.5" text-anchor="end" stroke="#000" stroke-width="0.4">4.34%</text>
<text x="115.2" y="2326.5" font-size="25.5" stroke="#000" stroke-width="0.4">93.38%</text>
<text x="336.3" y="2326.5" font-size="25.5" text-anchor="end" stroke="#000" stroke-width="0.4">1.19%</text>
<text x="499.0" y="2078.0" font-size="25.8" text-anchor="middle" stroke="#000" stroke-width="0.4">STAT4+Vector</text>
<path transform="translate(393.5,2341.7)" d="M186-205h2m-24 9h2m4 4h2m-17 2h2m0 0h2m17 0h2m-3 3h2m-27 1h2m-20 2h2m17 0h2m-111 1h2m47 0h2m30 1h2m40 0h2m-141 1h2m46 0h2m26 1h2m32 2h2m15 0h2m-100 1h2m95 0h2m1 1h2m23 0h2m-12 1h2m3 0h2m11 0h2m-47 1h2m23 0h2m6 0h2m22 0h2m-43 1h2m1 0h2m11 0h2m-1 0h2m19 0h2m-33 1h2m4 0h2m22 0h2m-169 1h2m103 0h2m22 0h2m9 0h2m24 0h2m-166 1h2m111 0h2m0 0h2m4 0h2m5 0h2m1 0h2m-19 1h2m7 0h2m5 0h2m13 0h2m-22 1h2m11 0h2m-32 1h2m0 0h2m44 0h2m-152 1h2m13 0h2m1 0h2m0 1h2m105 0h2m1 0h2m13 0h2m-54 1h2m13 0h2m3 0h2m4 0h2m12 0h2m10 0h2m1 0h2m-84 1h2m20 0h2m5 0h2m3 0h2m9 0h2m-1 0h2m8 0h2m9 0h2m9 0h2m4 0h2m-41 1h2m5 0h2m26 0h2m-54 1h2m1 0h2m5 0h2m4 0h2m-1 0h2m23 0h2m-132 1h2m97 0h2m3 0h2m22 0h2m5 0h2m-151 1h2m22 0h2m79 0h2m1 0h2m27 0h2m17 0h2m-77 1h2m17 0h2m3 0h2m5 0h2m1 0h2m5 0h2m1 0h2m-1 0h2m9 0h2m7 0h2m-89 1h2m37 0h2m3 0h2m17 0h2m5 0h2m-3 1h2m3 0h2m16 0h2m14 0h2m-180 1h2m141 0h2m15 0h2m-57 1h2m17 0h2m15 0h2m5 0h2m-142 1h2m86 0h2m11 0h2m5 0h2m14 0h2m4 0h2m3 0h2m2 0h2m3 0h2m0 0h2m-31 1h2m-32 1h2m44 0h2m18 0h2m8 0h2m-93 1h2m89 0h2m-113 1h2m40 0h2m17 0h2m0 0h2m3 0h2m6 0h2m24 0h2m-52 1h2m8 0h2m2 0h2m14 0h2m1 0h2m1 0h2m-1 0h2m5 0h2m11 0h2m-87 1h2m16 0h2m2 0h2m14 0h2m-1 0h2m3 0h2m-1 0h2m11 0h2m5 0h2m-58 1h2m0 0h2m10 0h2m9 0h2m6 0h2m6 0h2m8 0h2m1 0h2m4 0h2m-51 1h2m4 0h2m16 0h2m6 0h2m18 0h2m3 0h2m-155 1h2m108 0h2m1 0h2m-1 0h2m0 0h2m20 0h2m-1 0h2m7 0h2m-47 1h2m34 0h2m7 0h2m5 0h2m-117 1h2m46 0h2m9 0h2m7 0h2m33 0h2m-81 1h2m43 0h2m1 0h2m7 0h2m1 0h2m-1 0h2m16 0h2m-90 1h2m52 0h2m1 0h2m8 0h2m4 0h2m14 0h2m4 0h2m-139 1h2m72 0h2m4 0h2m-1 0h2m18 0h2m0 0h2m-1 0h2m3 0h2m12 0h2m14 0h2m-80 1h2m34 0h2m34 0h2m-1 0h2m-100 1h2m20 0h2m43 0h2m6 0h2m28 0h2m-90 1h2m43 0h2m4 0h2m14 0h2m17 0h2m-105 1h2m54 0h2m25 0h2m7 0h2m20 0h2m-41 1h2m34 0h2m-1 0h2m-136 1h2m74 0h2m27 0h2m-132 1h2m88 0h2m1 0h2m18 0h2m0 0h2m-1 0h2m6 0h2m5 0h2m-63 1h2m36 0h2m-11 1h2m3 0h2m5 0h2m1 0h2m29 0h2m-41 1h2m2 1h2m7 0h2m-129 1h2m31 0h2m93 0h2m9 0h2m33 0h2m-157 1h2m87 0h2m2 0h2m56 0h2m-65 1h2m2 0h2m2 0h2m5 0h2m6 0h2m-128 1h2m65 0h2m10 0h2m5 0h2m8 0h2m29 0h2m-1 0h2m-34 1h2m17 0h2m0 0h2m10 0h2m-120 1h2m60 0h2m37 0h2m33 0h2m-73 1h2m52 0h2m-84 1h2m27 0h2m30 0h2m-16 1h2m26 0h2m0 0h2m11 0h2m-70 1h2m10 0h2m4 0h2m20 0h2m16 1h2m-28 2h2m18 0h2m-44 1h2m32 0h2m-112 2h2m22 0h2m15 0h2m77 0h2m15 0h2m-141 1h2m27 1h2m18 0h2m24 0h2m76 0h2m-112 1h2m41 0h2m35 0h2m14 0h2m-35 1h2m0 0h2m1 0h2m-3 1h2m22 0h2m-76 1h2m16 0h2m13 0h2m16 0h2m6 0h2m-119 2h2m86 0h2m21 0h2m11 0h2m29 0h2m-66 1h2m41 0h2m-125 1h2m12 0h2m19 0h2m14 0h2m-53 1h2m25 0h2m10 0h2m106 0h2m-121 1h2m0 0h2m1 0h2m7 0h2m0 1h2m7 0h2m17 0h2m25 0h2m-76 1h2m16 1h2m-20 1h2m-13 1h2m16 0h2m27 0h2m15 0h2m-45 1h2m3 0h2m5 0h2m1 0h2m74 0h2m-101 1h2m-1 0h2m117 0h2m-112 1h2m34 0h2m63 0h2m-129 1h2m23 0h2m12 0h2m55 0h2m-82 1h2m10 0h2m-1 0h2m3 0h2m0 0h2m3 0h2m1 0h2m1 0h2m4 0h2m12 0h2m-48 1h2m0 0h2m15 0h2m17 0h2m-53 1h2m3 0h2m7 0h2m4 0h2m1 0h2m-1 0h2m1 0h2m1 0h2m3 0h2m3 0h2m5 0h2m-42 1h2m-1 0h2m10 0h2m18 0h2m6 0h2m36 0h2m38 0h2m-129 1h2m1 0h2m0 0h2m3 0h2m0 0h2m0 0h2m1 0h2m0 0h2m1 0h2m10 0h2m5 0h2m16 0h2m1 0h2m10 0h2m-84 1h2m10 0h2m2 0h2m1 0h2m1 0h2m14 0h2m-1 0h2m4 0h2m49 0h2m-103 1h2m0 0h2m18 0h2m2 0h2m1 0h2m-1 0h2m0 0h2m0 0h2m0 0h2m10 0h2m1 0h2m1 0h2m-41 1h2m4 0h2m12 0h2m3 0h2m-1 0h2m13 0h2m5 0h2m6 0h2m12 0h2m-69 1h2m-1 0h2m1 0h2m0 0h2m7 0h2m0 0h2m0 0h2m2 0h2m1 0h2m-1 0h2m-1 0h2m3 0h2m4 0h2m59 0h2m-107 1h2m9 0h2m0 0h2m11 0h2m2 0h2m3 0h2m6 0h2m-1 0h2m28 0h2m-104 1h2m15 0h2m4 0h2m-1 0h2m-1 0h2m4 0h2m0 0h2m-1 0h2m0 0h2m-1 0h2m0 0h2m5 0h2m2 0h2m0 0h2m-1 0h2m-1 0h2m3 0h2m-1 0h2m-1 0h2m-1 0h2m-1 0h2m23 0h2m-76 1h2m5 0h2m2 0h2m2 0h2m1 0h2m0 0h2m4 0h2m0 0h2m0 0h2m0 0h2m-1 0h2m-1 0h2m0 0h2m-1 0h2m2 0h2m-1 0h2m1 0h2m0 0h2m0 0h2m5 0h2m10 0h2m83 0h2m-134 1h2m-1 0h2m0 0h2m1 0h2m1 0h2m-1 0h2m0 0h2m0 0h2m-1 0h2m-1 0h2m0 0h2m9 0h2m0 0h2m1 0h2m18 0h2m-77 1h2m1 0h2m-1 0h2m2 0h2m0 0h2m2 0h2m-1 0h2m-1 0h2m-1 0h2m-1 0h2m1 0h2m0 0h2m2 0h2m-1 0h2m0 0h2m1 0h2m-1 0h2m-1 0h2m5 0h2m0 0h2m-1 0h2m-1 0h2m-1 0h2m0 0h2m4 0h2m4 0h2m-57 1h2m-1 0h2m1 0h2m0 0h2m0 0h2m-1 0h2m-1 0h2m0 0h2m-1 0h2m-1 0h2m-1 0h2m2 0h2m5 0h2m0 0h2m0 0h2m-1 0h2m5 0h2m-1 0h2m-1 0h2m11 0h2m24 0h2m-84 1h2m-1 0h2m4 0h2m1 0h2m0 0h2m-1 0h2m0 0h2m1 0h2m-1 0h2m-1 0h2m-1 0h2m-1 0h2m0 0h2m-1 0h2m0 0h2m-1 0h2m3 0h2m0 0h2m-1 0h2m-1 0h2m0 0h2m4 0h2m-1 0h2m-1 0h2m6 0h2m1 0h2m-68 1h2m-1 0h2m7 0h2m-1 0h2m3 0h2m-1 0h2m0 0h2m0 0h2m1 0h2m-1 0h2m-1 0h2m-1 0h2m-1 0h2m-1 0h2m-1 0h2m-1 0h2m-1 0h2m-1 0h2m0 0h2m0 0h2m-1 0h2m1 0h2m0 0h2m-1 0h2m-1 0h2m-1 0h2m0 0h2m-1 0h2m-1 0h2m-1 0h2m-1 0h2m2 0h2m-1 0h2m-1 0h2m23 0h2m-70 1h2m3 0h2m-1 0h2m0 0h2m0 0h2m2 0h2m0 0h2m-1 0h2m-1 0h2m0 0h2m-1 0h2m-1 0h2m0 0h2m-1 0h2m-1 0h2m0 0h2m-1 0h2m0 0h2m0 0h2m0 0h2m-1 0h2m-1 0h2m5 0h2m-63 1h2m-1 0h2m6 0h2m7 0h2m0 0h2m0 0h2m0 0h2m-1 0h2m1 0h2m0 0h2m0 0h2m-1 0h2m-1 0h2m-1 0h2m-1 0h2m-1 0h2m1 0h2m-1 0h2m1 0h2m0 0h2m2 0h2m2 0h2m4 0h2m0 0h2m4 0h2m-1 0h2m33 0h2m-103 1h2m2 0h2m-1 0h2m1 0h2m-1 0h2m-1 0h2m0 0h2m0 0h2m2 0h2m0 0h2m0 0h2m0 0h2m-1 0h2m0 0h2m-1 0h2m-1 0h2m-1 0h2m0 0h2m-1 0h2m-1 0h2m-1 0h2m-1 0h2m-1 0h2m1 0h2m1 0h2m-1 0h2m-1 0h2m-1 0h2m-1 0h2m3 0h2m0 0h2m-1 0h2m-1 0h2m4 0h2m0 0h2m6 0h2m52 0h2m-126 1h2m2 0h2m0 0h2m0 0h2m-1 0h2m-1 0h2m-1 0h2m-1 0h2m-1 0h2m0 0h2m0 0h2m-1 0h2m-1 0h2m0 0h2m0 0h2m-1 0h2m0 0h2m-1 0h2m-1 0h2m-1 0h2m-1 0h2m-1 0h2m-1 0h2m-1 0h2m-1 0h2m-1 0h2m-1 0h2m-1 0h2m2 0h2m-1 0h2m0 0h2m1 0h2m0 0h2m0 0h2m2 0h2m9 0h2m-69 1h2m-1 0h2m1 0h2m1 0h2m-1 0h2m-1 0h2m-1 0h2m0 0h2m0 0h2m-1 0h2m-1 0h2m-1 0h2m-1 0h2m-1 0h2m-1 0h2m2 0h2m-1 0h2m-1 0h2m-1 0h2m-1 0h2m-1 0h2m-1 0h2m-1 0h2m-1 0h2m-1 0h2m-1 0h2m0 0h2m-1 0h2m0 0h2m-1 0h2m-1 0h2m-1 0h2m-1 0h2m0 0h2m-1 0h2m-1 0h2m-1 0h2m0 0h2m-1 0h2m-1 0h2m1 0h2m-72 1h2m12 0h2m1 0h2m1 0h2m2 0h2m-1 0h2m0 0h2m-1 0h2m1 0h2m-1 0h2m-1 0h2m0 0h2m-1 0h2m0 0h2m0 0h2m-1 0h2m-1 0h2m0 0h2m-1 0h2m-1 0h2m-1 0h2m-1 0h2m-1 0h2m0 0h2m-1 0h2m-1 0h2m-1 0h2m-1 0h2m0 0h2m-1 0h2m-1 0h2m-1 0h2m-1 0h2m1 0h2m-1 0h2m1 0h2m-1 0h2m-1 0h2m3 0h2m-92 1h2m11 0h2m9 0h2m9 0h2m1 0h2m1 0h2m-1 0h2m-1 0h2m2 0h2m-1 0h2m-1 0h2m-1 0h2m0 0h2m-1 0h2m-1 0h2m-1 0h2m0 0h2m0 0h2m-1 0h2m-1 0h2m1 0h2m-1 0h2m-1 0h2m-1 0h2m-1 0h2m-1 0h2m-1 0h2m-1 0h2m3 0h2m-1 0h2m-1 0h2m0 0h2m-1 0h2m1 0h2m-64 1h2m5 0h2m4 0h2m3 0h2m-1 0h2m-1 0h2m1 0h2m0 0h2m-1 0h2m-1 0h2m0 0h2m-1 0h2m0 0h2m-1 0h2m0 0h2m-1 0h2m-1 0h2m0 0h2m-1 0h2m-1 0h2m-1 0h2m-1 0h2m-1 0h2m-1 0h2m-1 0h2m-1 0h2m-1 0h2m-1 0h2m0 0h2m0 0h2m1 0h2m3 0h2m1 0h2m0 0h2m4 0h2m-75 1h2m4 0h2m-1 0h2m1 0h2m4 0h2m-1 0h2m-1 0h2m0 0h2m-1 0h2m1 0h2m0 0h2m-1 0h2m-1 0h2m-1 0h2m-1 0h2m-1 0h2m-1 0h2m-1 0h2m-1 0h2m-1 0h2m-1 0h2m-1 0h2m-1 0h2m-1 0h2m0 0h2m-1 0h2m0 0h2m-1 0h2m-1 0h2m-1 0h2m-1 0h2m0 0h2m-1 0h2m-1 0h2m-1 0h2m-1 0h2m-1 0h2m-1 0h2m-1 0h2m-1 0h2m-1 0h2m-1 0h2m1 0h2m5 0h2m5 0h2m-81 1h2m5 0h2m-1 0h2m1 0h2m-1 0h2m-1 0h2m0 0h2m-1 0h2m-1 0h2m0 0h2m0 0h2m-1 0h2m1 0h2m-1 0h2m-1 0h2m-1 0h2m-1 0h2m-1 0h2m-1 0h2m-1 0h2m-1 0h2m-1 0h2m-1 0h2m1 0h2m-1 0h2m-1 0h2m1 0h2m-1 0h2m-1 0h2m-1 0h2m-1 0h2m-1 0h2m-1 0h2m-1 0h2m0 0h2m0 0h2m-1 0h2m-1 0h2m1 0h2m0 0h2m3 0h2m-67 1h2m2 0h2m2 0h2m3 0h2m-1 0h2m2 0h2m-1 0h2m0 0h2m-1 0h2m0 0h2m-1 0h2m2 0h2m-1 0h2m-1 0h2m-1 0h2m2 0h2m-1 0h2m-1 0h2m0 0h2m-1 0h2m-1 0h2m-1 0h2m-1 0h2m1 0h2m-1 0h2m-1 0h2m-1 0h2m0 0h2m-1 0h2m0 0h2m2 0h2m-69 1h2m4 0h2m1 0h2m5 0h2m-1 0h2m0 0h2m0 0h2m-1 0h2m-1 0h2m-1 0h2m-1 0h2m-1 0h2m2 0h2m-1 0h2m0 0h2m-1 0h2m-1 0h2m0 0h2m-1 0h2m-1 0h2m-1 0h2m-1 0h2m-1 0h2m0 0h2m-1 0h2m-1 0h2m-1 0h2m-1 0h2m0 0h2m-1 0h2m-1 0h2m-1 0h2m-1 0h2m0 0h2m0 0h2m0 0h2m-1 0h2m0 0h2m-1 0h2m-1 0h2m5 0h2m-1 0h2m2 0h2m5 0h2m36 0h2m-122 1h2m1 0h2m8 0h2m-1 0h2m-1 0h2m0 0h2m1 0h2m-1 0h2m-1 0h2m-1 0h2m-1 0h2m-1 0h2m-1 0h2m-1 0h2m-1 0h2m-1 0h2m-1 0h2m-1 0h2m-1 0h2m-1 0h2m-1 0h2m-1 0h2m-1 0h2m-1 0h2m-1 0h2m-1 0h2m-1 0h2m0 0h2m1 0h2m-1 0h2m1 0h2m-1 0h2m-1 0h2m-1 0h2m-1 0h2m-1 0h2m-1 0h2m-1 0h2m0 0h2m-1 0h2m0 0h2m2 0h2m0 0h2m1 0h2m-81 1h2m16 0h2m3 0h2m-1 0h2m-1 0h2m-1 0h2m0 0h2m-1 0h2m0 0h2m-1 0h2m-1 0h2m-1 0h2m-1 0h2m-1 0h2m1 0h2m-1 0h2m-1 0h2m-1 0h2m0 0h2m-1 0h2m-1 0h2m-1 0h2m-1 0h2m0 0h2m0 0h2m-1 0h2m-1 0h2m-1 0h2m-1 0h2m-1 0h2m-1 0h2m-1 0h2m-1 0h2m-1 0h2m0 0h2m-1 0h2m-1 0h2m-1 0h2m-1 0h2m2 0h2m0 0h2m-1 0h2m12 0h2m57 0h2m3 0h2m9 0h2m12 0h2m-167 1h2m-1 0h2m0 0h2m4 0h2m0 0h2m-1 0h2m-1 0h2m0 0h2m1 0h2m-1 0h2m0 0h2m0 0h2m-1 0h2m-1 0h2m-1 0h2m-1 0h2m-1 0h2m-1 0h2m-1 0h2m-1 0h2m-1 0h2m-1 0h2m-1 0h2m-1 0h2m-1 0h2m-1 0h2m-1 0h2m-1 0h2m-1 0h2m-1 0h2m-1 0h2m-1 0h2m-1 0h2m-1 0h2m-1 0h2m-1 0h2m-1 0h2m-1 0h2m-1 0h2m0 0h2m0 0h2m2 0h2m3 0h2m-64 1h2m0 0h2m-1 0h2m0 0h2m0 0h2m-1 0h2m0 0h2m-1 0h2m2 0h2m-1 0h2m-1 0h2m-1 0h2m0 0h2m-1 0h2m-1 0h2m-1 0h2m-1 0h2m-1 0h2m-1 0h2m-1 0h2m0 0h2m-1 0h2m0 0h2m-1 0h2m-1 0h2m0 0h2m-1 0h2m0 0h2m-1 0h2m-1 0h2m-1 0h2m-1 0h2m-1 0h2m-1 0h2m-1 0h2m-1 0h2m-1 0h2m-1 0h2m-1 0h2m4 0h2m0 0h2m-1 0h2m-1 0h2m-1 0h2m2 0h2m1 0h2m10 0h2m44 0h2m-130 1h2m0 0h2m1 0h2m1 0h2m-1 0h2m-1 0h2m0 0h2m1 0h2m0 0h2m2 0h2m-1 0h2m1 0h2m-1 0h2m-1 0h2m-1 0h2m-1 0h2m-1 0h2m0 0h2m-1 0h2m-1 0h2m-1 0h2m-1 0h2m-1 0h2m-1 0h2m0 0h2m-1 0h2m-1 0h2m-1 0h2m-1 0h2m-1 0h2m-1 0h2m-1 0h2m-1 0h2m1 0h2m-1 0h2m2 0h2m3 0h2m4 0h2m3 0h2m1 0h2m-90 1h2m10 0h2m2 0h2m1 0h2m1 0h2m-1 0h2m0 0h2m-1 0h2m0 0h2m1 0h2m0 0h2m-1 0h2m-1 0h2m-1 0h2m-1 0h2m-1 0h2m-1 0h2m-1 0h2m-1 0h2m-1 0h2m-1 0h2m-1 0h2m-1 0h2m-1 0h2m-1 0h2m-1 0h2m0 0h2m-1 0h2m-1 0h2m-1 0h2m-1 0h2m-1 0h2m-1 0h2m-1 0h2m-1 0h2m-1 0h2m-1 0h2m-1 0h2m-1 0h2m0 0h2m-1 0h2m2 0h2m-1 0h2m0 0h2m-1 0h2m3 0h2m-1 0h2m6 0h2m8 0h2m29 0h2m-126 1h2m0 0h2m2 0h2m0 0h2m2 0h2m4 0h2m0 0h2m0 0h2m0 0h2m-1 0h2m-1 0h2m0 0h2m-1 0h2m-1 0h2m-1 0h2m-1 0h2m-1 0h2m-1 0h2m0 0h2m-1 0h2m-1 0h2m-1 0h2m-1 0h2m-1 0h2m-1 0h2m-1 0h2m-1 0h2m-1 0h2m0 0h2m-1 0h2m-1 0h2m-1 0h2m-1 0h2m-1 0h2m-1 0h2m-1 0h2m0 0h2m-1 0h2m-1 0h2m0 0h2m0 0h2m2 0h2m-1 0h2m0 0h2m-1 0h2m-1 0h2m4 0h2m-74 1h2m6 0h2m-1 0h2m-1 0h2m3 0h2m-1 0h2m0 0h2m1 0h2m-1 0h2m-1 0h2m0 0h2m-1 0h2m0 0h2m-1 0h2m-1 0h2m-1 0h2m-1 0h2m-1 0h2m-1 0h2m-1 0h2m-1 0h2m-1 0h2m-1 0h2m-1 0h2m-1 0h2m0 0h2m-1 0h2m-1 0h2m-1 0h2m-1 0h2m-1 0h2m-1 0h2m-1 0h2m-1 0h2m-1 0h2m-1 0h2m1 0h2m1 0h2m0 0h2m-1 0h2m-1 0h2m7 0h2m-1 0h2m13 0h2m-99 1h2m13 0h2m2 0h2m2 0h2m-1 0h2m-1 0h2m2 0h2m0 0h2m0 0h2m0 0h2m-1 0h2m0 0h2m-1 0h2m-1 0h2m0 0h2m1 0h2m-1 0h2m-1 0h2m0 0h2m-1 0h2m-1 0h2m-1 0h2m-1 0h2m-1 0h2m-1 0h2m-1 0h2m-1 0h2m0 0h2m0 0h2m-1 0h2m-1 0h2m-1 0h2m-1 0h2m-1 0h2m-1 0h2m-1 0h2m0 0h2m-1 0h2m-1 0h2m-1 0h2m-59 1h2m1 0h2m0 0h2m-1 0h2m-1 0h2m1 0h2m-1 0h2m-1 0h2m0 0h2m0 0h2m-1 0h2m-1 0h2m-1 0h2m-1 0h2m-1 0h2m-1 0h2m-1 0h2m-1 0h2m-1 0h2m-1 0h2m-1 0h2m-1 0h2m-1 0h2m-1 0h2m-1 0h2m-1 0h2m0 0h2m-1 0h2m-1 0h2m-1 0h2m-1 0h2m3 0h2m0 0h2m-1 0h2m0 0h2m-1 0h2m-1 0h2m-1 0h2m0 0h2m3 0h2m4 0h2m-72 1h2m3 0h2m5 0h2m-1 0h2m0 0h2m1 0h2m0 0h2m0 0h2m0 0h2m-1 0h2m1 0h2m-1 0h2m-1 0h2m-1 0h2m-1 0h2m-1 0h2m-1 0h2m-1 0h2m0 0h2m-1 0h2m-1 0h2m-1 0h2m-1 0h2m-1 0h2m-1 0h2m-1 0h2m-1 0h2m-1 0h2m-1 0h2m-1 0h2m-1 0h2m0 0h2m-1 0h2m0 0h2m-1 0h2m-1 0h2m5 0h2m1 0h2m14 0h2m6 0h2m-87 1h2m1 0h2m1 0h2m-1 0h2m4 0h2m-1 0h2m0 0h2m-1 0h2m-1 0h2m1 0h2m1 0h2m-1 0h2m0 0h2m-1 0h2m0 0h2m-1 0h2m-1 0h2m0 0h2m1 0h2m-1 0h2m-1 0h2m0 0h2m0 0h2m0 0h2m0 0h2m-1 0h2m0 0h2m3 0h2m0 0h2m2 0h2m0 0h2m-82 1h2m4 0h2m3 0h2m-1 0h2m2 0h2m-1 0h2m-1 0h2m3 0h2m1 0h2m-1 0h2m-1 0h2m0 0h2m0 0h2m-1 0h2m-1 0h2m0 0h2m-1 0h2m-1 0h2m-1 0h2m-1 0h2m-1 0h2m-1 0h2m-1 0h2m-1 0h2m-1 0h2m-1 0h2m-1 0h2m-1 0h2m-1 0h2m-1 0h2m-1 0h2m-1 0h2m-1 0h2m0 0h2m-1 0h2m-1 0h2m-1 0h2m-1 0h2m-1 0h2m0 0h2m-1 0h2m0 0h2m-1 0h2m-1 0h2m-1 0h2m-1 0h2m2 0h2m-71 1h2m7 0h2m5 0h2m-1 0h2m1 0h2m-1 0h2m-1 0h2m-1 0h2m-1 0h2m0 0h2m0 0h2m1 0h2m-1 0h2m-1 0h2m-1 0h2m-1 0h2m-1 0h2m-1 0h2m-1 0h2m-1 0h2m-1 0h2m-1 0h2m-1 0h2m-1 0h2m-1 0h2m-1 0h2m-1 0h2m-1 0h2m-1 0h2m-1 0h2m-1 0h2m-1 0h2m-1 0h2m0 0h2m-1 0h2m-1 0h2m-1 0h2m0 0h2m-1 0h2m0 0h2m-1 0h2m-1 0h2m0 0h2m-1 0h2m-1 0h2m2 0h2m-1 0h2m0 0h2m35 0h2m8 0h2m-122 1h2m5 0h2m-1 0h2m0 0h2m2 0h2m0 0h2m-1 0h2m-1 0h2m-1 0h2m-1 0h2m0 0h2m-1 0h2m-1 0h2m-1 0h2m-1 0h2m-1 0h2m-1 0h2m-1 0h2m-1 0h2m-1 0h2m-1 0h2m-1 0h2m0 0h2m-1 0h2m-1 0h2m-1 0h2m0 0h2m-1 0h2m-1 0h2m0 0h2m-1 0h2m-1 0h2m-1 0h2m-1 0h2m-1 0h2m1 0h2m-1 0h2m-1 0h2m-1 0h2m-1 0h2m0 0h2m-1 0h2m-1 0h2m-1 0h2m-1 0h2m-1 0h2m-1 0h2m-1 0h2m-1 0h2m8 0h2m-70 1h2m0 0h2m5 0h2m-1 0h2m-1 0h2m-1 0h2m1 0h2m-1 0h2m-1 0h2m-1 0h2m-1 0h2m-1 0h2m-1 0h2m-1 0h2m-1 0h2m-1 0h2m-1 0h2m-1 0h2m-1 0h2m-1 0h2m-1 0h2m0 0h2m-1 0h2m-1 0h2m-1 0h2m-1 0h2m-1 0h2m-1 0h2m0 0h2m-1 0h2m0 0h2m-1 0h2m2 0h2m-1 0h2m-1 0h2m2 0h2m-1 0h2m-1 0h2m-1 0h2m2 0h2m0 0h2m0 0h2m-66 1h2m1 0h2m2 0h2m-1 0h2m2 0h2m0 0h2m-1 0h2m-1 0h2m-1 0h2m-1 0h2m-1 0h2m0 0h2m-1 0h2m-1 0h2m-1 0h2m-1 0h2m-1 0h2m1 0h2m-1 0h2m-1 0h2m-1 0h2m-1 0h2m0 0h2m0 0h2m-1 0h2m-1 0h2m0 0h2m-1 0h2m-1 0h2m2 0h2m-1 0h2m-1 0h2m1 0h2m-1 0h2m6 0h2m2 0h2m-76 1h2m0 0h2m0 0h2m0 0h2m0 0h2m1 0h2m-1 0h2m2 0h2m-1 0h2m-1 0h2m-1 0h2m2 0h2m0 0h2m-1 0h2m-1 0h2m-1 0h2m-1 0h2m-1 0h2m-1 0h2m-1 0h2m-1 0h2m-1 0h2m-1 0h2m1 0h2m-1 0h2m-1 0h2m-1 0h2m-1 0h2m-1 0h2m-1 0h2m-1 0h2m0 0h2m0 0h2m0 0h2m-1 0h2m-1 0h2m-1 0h2m-1 0h2m-1 0h2m-1 0h2m-1 0h2m-1 0h2m7 0h2m-67 1h2m-1 0h2m1 0h2m-1 0h2m5 0h2m0 0h2m-1 0h2m-1 0h2m0 0h2m-1 0h2m-1 0h2m-1 0h2m-1 0h2m-1 0h2m-1 0h2m0 0h2m-1 0h2m-1 0h2m-1 0h2m-1 0h2m-1 0h2m-1 0h2m-1 0h2m-1 0h2m0 0h2m-1 0h2m-1 0h2m-1 0h2m-1 0h2m1 0h2m-1 0h2m0 0h2m0 0h2m-1 0h2m-1 0h2m0 0h2m0 0h2m0 0h2m0 0h2m6 0h2m-67 1h2m-1 0h2m1 0h2m1 0h2m-1 0h2m0 0h2m-1 0h2m3 0h2m-1 0h2m-1 0h2m0 0h2m0 0h2m1 0h2m-1 0h2m0 0h2m-1 0h2m-1 0h2m-1 0h2m-1 0h2m-1 0h2m-1 0h2m-1 0h2m0 0h2m-1 0h2m-1 0h2m-1 0h2m2 0h2m-1 0h2m2 0h2m-1 0h2m-1 0h2m-1 0h2m-1 0h2m0 0h2m0 0h2m-1 0h2m-51 1h2m-1 0h2m1 0h2m-1 0h2m-1 0h2m0 0h2m-1 0h2m-1 0h2m2 0h2m1 0h2m-1 0h2m1 0h2m0 0h2m-1 0h2m-1 0h2m-1 0h2m-1 0h2m-1 0h2m-1 0h2m-1 0h2m0 0h2m-1 0h2m2 0h2m1 0h2m0 0h2m-1 0h2m-1 0h2m2 0h2m9 0h2m1 0h2m-79 1h2m10 0h2m1 0h2m0 0h2m-1 0h2m1 0h2m-1 0h2m-1 0h2m-1 0h2m0 0h2m-1 0h2m-1 0h2m-1 0h2m0 0h2m-1 0h2m1 0h2m-1 0h2m-1 0h2m0 0h2m-1 0h2m-1 0h2m-1 0h2m-1 0h2m-1 0h2m-1 0h2m1 0h2m-1 0h2m0 0h2m0 0h2m0 0h2m-1 0h2m1 0h2m1 0h2m11 0h2m-78 1h2m8 0h2m1 0h2m3 0h2m-1 0h2m-1 0h2m0 0h2m1 0h2m-1 0h2m-1 0h2m-1 0h2m-1 0h2m-1 0h2m-1 0h2m0 0h2m-1 0h2m-1 0h2m1 0h2m0 0h2m-1 0h2m-1 0h2m-1 0h2m0 0h2m-1 0h2m0 0h2m0 0h2m0 0h2m0 0h2m-1 0h2m2 0h2m-1 0h2m4 0h2m4 0h2m-63 1h2m6 0h2m-1 0h2m-1 0h2m-1 0h2m-1 0h2m-1 0h2m2 0h2m-1 0h2m0 0h2m-1 0h2m-1 0h2m0 0h2m-1 0h2m-1 0h2m0 0h2m-1 0h2m-1 0h2m-1 0h2m-1 0h2m0 0h2m0 0h2m-1 0h2m0 0h2m-1 0h2m-1 0h2m-1 0h2m2 0h2m-1 0h2m3 0h2m-65 1h2m2 0h2m9 0h2m3 0h2m-1 0h2m1 0h2m-1 0h2m-1 0h2m-1 0h2m0 0h2m-1 0h2m4 0h2m-1 0h2m-1 0h2m-1 0h2m0 0h2m0 0h2m-1 0h2m-1 0h2m-1 0h2m0 0h2m-1 0h2m-1 0h2m2 0h2m-1 0h2m5 0h2m-1 0h2m-1 0h2m1 0h2m4 0h2m-74 1h2m3 0h2m-1 0h2m5 0h2m0 0h2m1 0h2m-1 0h2m-1 0h2m1 0h2m1 0h2m-1 0h2m3 0h2m-1 0h2m-1 0h2m-1 0h2m3 0h2m-1 0h2m0 0h2m-1 0h2m-1 0h2m0 0h2m0 0h2m4 0h2m-1 0h2m-1 0h2m0 0h2m0 0h2m8 0h2m-84 1h2m22 0h2m1 0h2m-1 0h2m-1 0h2m0 0h2m0 0h2m-1 0h2m-1 0h2m0 0h2m0 0h2m0 0h2m0 0h2m1 0h2m-1 0h2m-1 0h2m-1 0h2m1 0h2m-1 0h2m3 0h2m5 0h2m10 0h2m5 0h2m-78 1h2m-1 0h2m3 0h2m5 0h2m-1 0h2m-1 0h2m0 0h2m2 0h2m-1 0h2m4 0h2m0 0h2m1 0h2m1 0h2m-1 0h2m0 0h2m1 0h2m0 0h2m1 0h2m-1 0h2m0 0h2m-1 0h2m-1 0h2m-1 0h2m8 0h2m1 0h2m-61 1h2m2 0h2m8 0h2m0 0h2m0 0h2m0 0h2m-1 0h2m0 0h2m1 0h2m3 0h2m-1 0h2m0 0h2m-1 0h2m-1 0h2m-1 0h2m-1 0h2m0 0h2m4 0h2m-1 0h2m8 0h2m1 0h2m8 0h2m-76 1h2m2 0h2m3 0h2m2 0h2m-1 0h2m2 0h2m0 0h2m3 0h2m-1 0h2m1 0h2m0 0h2m4 0h2m-1 0h2m-1 0h2m2 0h2m4 0h2m6 0h2m-1 0h2m3 0h2m-62 1h2m-1 0h2m4 0h2m-1 0h2m5 0h2m0 0h2m-1 0h2m0 0h2m-1 0h2m-1 0h2m0 0h2m-1 0h2m-1 0h2m-1 0h2m1 0h2m4 0h2m0 0h2m1 0h2m-1 0h2m3 0h2m8 0h2m1 0h2m-52 1h2m1 0h2m-1 0h2m8 0h2m-1 0h2m0 0h2m4 0h2m0 0h2m0 0h2m-1 0h2m6 0h2m1 0h2m-1 0h2m2 0h2m0 0h2m-46 1h2m-1 0h2m0 0h2m6 0h2m-1 0h2m1 0h2m4 0h2m8 0h2m3 0h2m3 0h2m3 0h2m42 0h2m-113 1h2m3 0h2m17 0h2m0 0h2m0 0h2m11 0h2m-1 0h2m-1 0h2m0 0h2m0 0h2m4 0h2m4 0h2m2 0h2m3 0h2m-51 1h2m1 0h2m0 0h2m1 0h2m4 0h2m-1 0h2m1 0h2m-1 0h2m-1 0h2m0 0h2m3 0h2m1 0h2m11 0h2m-1 0h2m7 0h2m-67 1h2m1 0h2m1 0h2m6 0h2m4 0h2m2 0h2m2 0h2m0 0h2m-1 0h2m-1 0h2m1 0h2m2 0h2m-37 1h2m8 0h2m1 0h2m0 0h2m-1 0h2m-1 0h2m0 0h2m8 0h2m0 0h2m27 0h2m79 0h2m-132 1h2m-1 0h2m5 0h2m0 0h2m5 0h2m6 0h2m4 0h2m4 0h2m-41 1h2m0 0h2m2 0h2m1 0h2m1 0h2m-1 0h2m22 0h2m-52 1h2m0 0h2m16 0h2m3 0h2m8 0h2m3 0h2m1 0h2m2 0h2m19 0h2m-74 1h2m16 0h2m-1 0h2m-1 0h2m0 0h2m2 0h2m27 0h2m127 0h2m-158 1h2m1 0h2m-33 1h2m4 0h2m14 0h2m12 0h2m-22 1h2m11 0h2m10 0h2m-41 1h2m2 0h2m12 0h2m11 0h2m2 0h2m-1 0h2m-17 1h2m5 0h2m130 0h2m-165 1h2m15 0h2m154 0h2m-174 1h2m3 0h2m9 0h2m4 0h2m12 0h2m24 0h2m-50 2h2m16 1h2m76 0h2m-118 3h2m1 1h2m26 2h2" stroke="#e8151b" stroke-width="1.5" fill="none"/>
<rect x="393.5" y="2096.8" width="239" height="244.9" fill="none" stroke="#000" stroke-width="1.3"/>
<line x1="502.0" y1="2096.8" x2="502.0" y2="2341.7" stroke="#000" stroke-width="1.3"/>
<line x1="393.5" y1="2244.0" x2="632.5" y2="2244.0" stroke="#000" stroke-width="1.3"/>
<path d="M393.5,2341.7v6M393.5,2341.7h-6M411.5,2341.7v3M393.5,2323.3h-3M422.0,2341.7v3M393.5,2312.5h-3M429.5,2341.7v3M393.5,2304.8h-3M435.3,2341.7v3M393.5,2298.9h-3M440.0,2341.7v3M393.5,2294.1h-3M444.0,2341.7v3M393.5,2290.0h-3M447.5,2341.7v3M393.5,2286.4h-3M450.5,2341.7v3M393.5,2283.3h-3M453.2,2341.7v6M393.5,2280.5h-6M471.2,2341.7v3M393.5,2262.0h-3M481.8,2341.7v3M393.5,2251.3h-3M489.2,2341.7v3M393.5,2243.6h-3M495.0,2341.7v3M393.5,2237.7h-3M499.7,2341.7v3M393.5,2232.8h-3M503.7,2341.7v3M393.5,2228.7h-3M507.2,2341.7v3M393.5,2225.2h-3M510.3,2341.7v3M393.5,2222.1h-3M513.0,2341.7v6M393.5,2219.2h-6M531.0,2341.7v3M393.5,2200.8h-3M541.5,2341.7v3M393.5,2190.0h-3M549.0,2341.7v3M393.5,2182.4h-3M554.8,2341.7v3M393.5,2176.5h-3M559.5,2341.7v3M393.5,2171.6h-3M563.5,2341.7v3M393.5,2167.5h-3M567.0,2341.7v3M393.5,2164.0h-3M570.0,2341.7v3M393.5,2160.8h-3M572.8,2341.7v6M393.5,2158.0h-6M590.7,2341.7v3M393.5,2139.6h-3M601.3,2341.7v3M393.5,2128.8h-3M608.7,2341.7v3M393.5,2121.2h-3M614.5,2341.7v3M393.5,2115.2h-3M619.2,2341.7v3M393.5,2110.4h-3M623.2,2341.7v3M393.5,2106.3h-3M626.7,2341.7v3M393.5,2102.7h-3M629.8,2341.7v3M393.5,2099.6h-3M632.5,2341.7v6M393.5,2096.8h-6" stroke="#000" stroke-width="1" fill="none"/>
<text x="394.0" y="2360.7" font-size="13" text-anchor="middle" style="font-weight:normal">10<tspan font-size="10.5" dy="-5.5">0</tspan></text>
<text transform="translate(384.8,2342.7) rotate(-90)" font-size="13" text-anchor="middle" style="font-weight:normal">10<tspan font-size="10.5" dy="-5.5">0</tspan></text>
<text x="453.8" y="2360.7" font-size="13" text-anchor="middle" style="font-weight:normal">10<tspan font-size="10.5" dy="-5.5">1</tspan></text>
<text transform="translate(384.8,2281.5) rotate(-90)" font-size="13" text-anchor="middle" style="font-weight:normal">10<tspan font-size="10.5" dy="-5.5">1</tspan></text>
<text x="513.5" y="2360.7" font-size="13" text-anchor="middle" style="font-weight:normal">10<tspan font-size="10.5" dy="-5.5">2</tspan></text>
<text transform="translate(384.8,2220.2) rotate(-90)" font-size="13" text-anchor="middle" style="font-weight:normal">10<tspan font-size="10.5" dy="-5.5">2</tspan></text>
<text x="573.2" y="2360.7" font-size="13" text-anchor="middle" style="font-weight:normal">10<tspan font-size="10.5" dy="-5.5">3</tspan></text>
<text transform="translate(384.8,2159.0) rotate(-90)" font-size="13" text-anchor="middle" style="font-weight:normal">10<tspan font-size="10.5" dy="-5.5">3</tspan></text>
<text x="633.0" y="2360.7" font-size="13" text-anchor="middle" style="font-weight:normal">10<tspan font-size="10.5" dy="-5.5">4</tspan></text>
<text transform="translate(384.8,2097.8) rotate(-90)" font-size="13" text-anchor="middle" style="font-weight:normal">10<tspan font-size="10.5" dy="-5.5">4</tspan></text>
<text x="510.5" y="2371.7" font-size="10.9" text-anchor="middle" style="font-weight:normal">ANNEXIN-V- FITC</text>
<text x="369.5" y="2220.5" font-size="10.5" text-anchor="middle" style="font-weight:normal" transform="rotate(-90 369.5 2220.5)">PI</text>
<text x="400.0" y="2127.1" font-size="25.5" stroke="#000" stroke-width="0.4">0.90%</text>
<text x="621.1" y="2127.1" font-size="25.5" text-anchor="end" stroke="#000" stroke-width="0.4">2.75%</text>
<text x="400.0" y="2326.5" font-size="25.5" stroke="#000" stroke-width="0.4">95.83%</text>
<text x="621.1" y="2326.5" font-size="25.5" text-anchor="end" stroke="#000" stroke-width="0.4">0.51%</text>
<text x="785.0" y="2078.0" font-size="25.8" text-anchor="middle" stroke="#000" stroke-width="0.4">NC+siVEGFA</text>
<path transform="translate(679.5,2341.7)" d="M204-217h2m-28 8h2m9 2h2m-11 3h2m27 4h2m-30 1h2m2 0h2m29 2h2m-43 1h2m21 1h2m6 0h2m-36 1h2m5 0h2m-13 1h2m2 0h2m3 0h2m38 0h2m-54 1h2m26 0h2m-37 1h2m2 0h2m10 0h2m4 0h2m-1 0h2m-23 1h2m17 0h2m0 0h2m29 0h2m6 0h2m-77 1h2m30 0h2m6 0h2m-1 0h2m0 0h2m10 0h2m1 0h2m-66 1h2m7 0h2m12 0h2m-1 0h2m5 0h2m14 0h2m3 0h2m5 0h2m-49 1h2m9 0h2m3 0h2m0 0h2m4 0h2m-1 0h2m5 0h2m-1 0h2m0 0h2m2 0h2m-35 1h2m8 0h2m-1 0h2m-1 0h2m9 0h2m9 0h2m-42 1h2m3 0h2m-1 0h2m14 0h2m2 0h2m3 0h2m3 0h2m-1 0h2m0 0h2m-48 1h2m-1 0h2m9 0h2m-1 0h2m7 0h2m0 0h2m-1 0h2m-1 0h2m2 0h2m6 0h2m-1 0h2m1 0h2m-144 1h2m95 0h2m3 0h2m6 0h2m0 0h2m1 0h2m-1 0h2m-1 0h2m6 0h2m0 0h2m-1 0h2m0 0h2m3 0h2m1 0h2m2 0h2m2 0h2m1 0h2m-109 1h2m72 0h2m-1 0h2m5 0h2m5 0h2m0 0h2m3 0h2m0 0h2m-1 0h2m2 0h2m5 0h2m0 0h2m0 0h2m-53 1h2m7 0h2m0 0h2m1 0h2m1 0h2m0 0h2m2 0h2m2 0h2m14 0h2m-52 1h2m2 0h2m6 0h2m0 0h2m2 0h2m-1 0h2m0 0h2m1 0h2m-1 0h2m-1 0h2m0 0h2m4 0h2m6 0h2m-1 0h2m0 0h2m9 0h2m-54 1h2m0 0h2m3 0h2m9 0h2m-1 0h2m3 0h2m-1 0h2m3 0h2m2 0h2m-128 1h2m84 0h2m6 0h2m-1 0h2m2 0h2m-1 0h2m2 0h2m-1 0h2m2 0h2m0 0h2m-1 0h2m1 0h2m3 0h2m-1 0h2m-1 0h2m0 0h2m3 0h2m1 0h2m-49 1h2m2 0h2m6 0h2m0 0h2m0 0h2m1 0h2m-1 0h2m-1 0h2m-1 0h2m-1 0h2m-1 0h2m1 0h2m1 0h2m2 0h2m1 0h2m3 0h2m7 0h2m-51 1h2m3 0h2m0 0h2m-1 0h2m-1 0h2m3 0h2m-1 0h2m-1 0h2m1 0h2m-1 0h2m3 0h2m1 0h2m-1 0h2m-1 0h2m0 0h2m-1 0h2m-1 0h2m1 0h2m3 0h2m6 0h2m7 0h2m-124 1h2m49 0h2m12 0h2m2 0h2m3 0h2m0 0h2m-1 0h2m0 0h2m-1 0h2m-1 0h2m-1 0h2m-1 0h2m3 0h2m5 0h2m0 0h2m-1 0h2m0 0h2m0 0h2m-1 0h2m5 0h2m-106 1h2m44 0h2m5 0h2m0 0h2m3 0h2m1 0h2m2 0h2m-1 0h2m-1 0h2m0 0h2m0 0h2m3 0h2m0 0h2m-1 0h2m1 0h2m2 0h2m0 0h2m-1 0h2m1 0h2m-1 0h2m-56 1h2m0 0h2m13 0h2m1 0h2m5 0h2m-1 0h2m0 0h2m0 0h2m4 0h2m0 0h2m3 0h2m0 0h2m-1 0h2m12 0h2m-56 1h2m6 0h2m-1 0h2m2 0h2m-1 0h2m-1 0h2m0 0h2m-1 0h2m-1 0h2m0 0h2m-1 0h2m-1 0h2m-1 0h2m4 0h2m0 0h2m0 0h2m0 0h2m-1 0h2m-1 0h2m-1 0h2m-1 0h2m0 0h2m-1 0h2m3 0h2m-1 0h2m-141 1h2m42 0h2m42 0h2m-1 0h2m4 0h2m4 0h2m1 0h2m2 0h2m0 0h2m-1 0h2m-1 0h2m-1 0h2m-1 0h2m0 0h2m1 0h2m2 0h2m3 0h2m1 0h2m-1 0h2m0 0h2m12 0h2m-83 1h2m24 0h2m2 0h2m1 0h2m1 0h2m-1 0h2m-1 0h2m3 0h2m-1 0h2m0 0h2m-1 0h2m2 0h2m1 0h2m-1 0h2m-1 0h2m3 0h2m0 0h2m-1 0h2m7 0h2m2 0h2m-56 1h2m4 0h2m0 0h2m2 0h2m-1 0h2m2 0h2m0 0h2m-1 0h2m1 0h2m0 0h2m-1 0h2m0 0h2m2 0h2m1 0h2m-1 0h2m0 0h2m2 0h2m-1 0h2m0 0h2m7 0h2m-161 1h2m102 0h2m1 0h2m1 0h2m2 0h2m1 0h2m0 0h2m1 0h2m-1 0h2m0 0h2m-1 0h2m1 0h2m2 0h2m-1 0h2m10 0h2m-97 1h2m51 0h2m1 0h2m2 0h2m0 0h2m1 0h2m0 0h2m-1 0h2m-1 0h2m-1 0h2m1 0h2m-1 0h2m-1 0h2m0 0h2m1 0h2m1 0h2m-1 0h2m4 0h2m-1 0h2m-1 0h2m-1 0h2m0 0h2m-64 1h2m6 0h2m8 0h2m0 0h2m5 0h2m-1 0h2m2 0h2m1 0h2m1 0h2m0 0h2m-1 0h2m0 0h2m0 0h2m-1 0h2m0 0h2m-1 0h2m-1 0h2m2 0h2m-1 0h2m-1 0h2m0 0h2m-1 0h2m-100 1h2m64 0h2m-1 0h2m-1 0h2m-1 0h2m-1 0h2m0 0h2m0 0h2m-1 0h2m-1 0h2m-1 0h2m-1 0h2m1 0h2m0 0h2m-1 0h2m9 0h2m3 0h2m-1 0h2m1 0h2m-1 0h2m-1 0h2m4 0h2m17 0h2m-87 1h2m10 0h2m-1 0h2m8 0h2m0 0h2m-1 0h2m0 0h2m0 0h2m0 0h2m11 0h2m1 0h2m3 0h2m-1 0h2m3 0h2m10 0h2m-153 1h2m85 0h2m-1 0h2m1 0h2m-1 0h2m0 0h2m1 0h2m0 0h2m4 0h2m0 0h2m-1 0h2m4 0h2m0 0h2m2 0h2m-1 0h2m-1 0h2m0 0h2m8 0h2m1 0h2m4 0h2m-62 1h2m-1 0h2m2 0h2m-1 0h2m-1 0h2m4 0h2m-1 0h2m-1 0h2m0 0h2m0 0h2m-1 0h2m-1 0h2m-1 0h2m-1 0h2m1 0h2m2 0h2m3 0h2m0 0h2m-1 0h2m0 0h2m15 0h2m-137 1h2m55 0h2m23 0h2m1 0h2m-1 0h2m-1 0h2m0 0h2m-1 0h2m-1 0h2m1 0h2m2 0h2m-1 0h2m-1 0h2m0 0h2m-1 0h2m0 0h2m2 0h2m4 0h2m-1 0h2m3 0h2m2 0h2m0 0h2m2 0h2m1 0h2m-90 1h2m29 0h2m2 0h2m7 0h2m-1 0h2m1 0h2m0 0h2m-1 0h2m0 0h2m3 0h2m-1 0h2m2 0h2m1 0h2m-1 0h2m5 0h2m2 0h2m1 0h2m6 0h2m-121 1h2m54 0h2m5 0h2m5 0h2m0 0h2m-1 0h2m0 0h2m1 0h2m1 0h2m-1 0h2m-1 0h2m0 0h2m1 0h2m0 0h2m0 0h2m-1 0h2m2 0h2m-1 0h2m2 0h2m1 0h2m7 0h2m-99 1h2m47 0h2m1 0h2m1 0h2m5 0h2m3 0h2m1 0h2m1 0h2m3 0h2m2 0h2m-1 0h2m2 0h2m-55 1h2m11 0h2m5 0h2m6 0h2m0 0h2m-1 0h2m1 0h2m2 0h2m-1 0h2m0 0h2m-1 0h2m1 0h2m1 0h2m-1 0h2m1 0h2m3 0h2m-138 1h2m51 0h2m14 0h2m22 0h2m1 0h2m3 0h2m2 0h2m-1 0h2m0 0h2m1 0h2m2 0h2m-1 0h2m4 0h2m2 0h2m-1 0h2m3 0h2m-86 1h2m31 0h2m2 0h2m10 0h2m-1 0h2m0 0h2m9 0h2m4 0h2m0 0h2m3 0h2m-102 1h2m65 0h2m-1 0h2m5 0h2m1 0h2m2 0h2m1 0h2m-1 0h2m-1 0h2m-1 0h2m-1 0h2m6 0h2m10 0h2m23 0h2m-155 1h2m92 0h2m5 0h2m1 0h2m-1 0h2m9 0h2m1 0h2m-1 0h2m0 0h2m-25 1h2m-1 0h2m0 0h2m0 0h2m7 0h2m-22 1h2m1 0h2m1 0h2m-1 0h2m6 0h2m2 0h2m3 0h2m-1 0h2m-43 1h2m6 0h2m4 0h2m3 0h2m2 0h2m-1 0h2m1 0h2m0 0h2m29 0h2m-134 1h2m23 0h2m10 0h2m0 0h2m1 0h2m29 0h2m4 0h2m2 0h2m7 0h2m0 0h2m2 0h2m3 0h2m2 0h2m12 0h2m21 0h2m-121 1h2m47 0h2m3 0h2m-1 0h2m9 0h2m-1 0h2m1 0h2m7 0h2m3 0h2m1 0h2m-29 1h2m2 0h2m1 0h2m-1 0h2m2 0h2m-22 1h2m8 0h2m2 0h2m12 0h2m12 0h2m-34 1h2m11 0h2m7 0h2m6 0h2m-57 1h2m2 0h2m2 0h2m-1 0h2m13 0h2m1 0h2m6 0h2m2 0h2m12 0h2m0 0h2m-77 1h2m37 0h2m-1 0h2m2 0h2m0 0h2m5 0h2m10 0h2m2 0h2m3 0h2m-1 0h2m10 0h2m0 0h2m-60 1h2m-1 0h2m8 0h2m-1 0h2m11 0h2m18 0h2m-71 1h2m18 0h2m2 0h2m4 0h2m23 0h2m22 0h2m-51 1h2m1 0h2m14 0h2m7 0h2m-29 1h2m4 0h2m-1 0h2m-97 2h2m70 0h2m14 0h2m8 0h2m-56 1h2m23 0h2m10 0h2m6 0h2m9 0h2m11 0h2m23 0h2m-1 0h2m-37 1h2m13 0h2m0 0h2m-131 1h2m69 0h2m16 0h2m48 0h2m2 0h2m-128 1h2m58 0h2m27 0h2m20 0h2m17 0h2m14 0h2m0 0h2m-136 1h2m54 0h2m31 0h2m1 0h2m5 0h2m4 0h2m9 0h2m-71 1h2m9 0h2m5 0h2m6 0h2m17 0h2m7 0h2m16 0h2m-97 1h2m8 0h2m11 0h2m8 0h2m14 0h2m26 0h2m9 0h2m8 0h2m-147 1h2m53 0h2m52 0h2m6 0h2m-45 1h2m44 0h2m6 0h2m6 0h2m-50 1h2m21 0h2m13 0h2m10 0h2m5 0h2m-74 1h2m22 0h2m6 0h2m11 0h2m11 0h2m-62 1h2m36 0h2m5 0h2m7 0h2m6 0h2m0 0h2m7 0h2m-41 1h2m10 0h2m-1 0h2m11 0h2m-142 1h2m12 0h2m35 0h2m38 0h2m30 0h2m9 0h2m19 0h2m-137 1h2m57 0h2m31 0h2m7 0h2m18 0h2m1 0h2m-95 1h2m29 0h2m15 0h2m25 0h2m-53 1h2m55 0h2m11 0h2m-77 1h2m43 0h2m10 0h2m9 0h2m-78 1h2m29 0h2m21 0h2m-48 1h2m40 0h2m15 0h2m46 0h2m-93 1h2m14 0h2m4 0h2m2 0h2m13 0h2m7 0h2m-139 1h2m39 0h2m38 0h2m21 0h2m-1 0h2m4 0h2m8 0h2m7 0h2m27 0h2m-98 1h2m2 0h2m4 0h2m22 0h2m-1 0h2m6 0h2m23 0h2m-29 1h2m22 0h2m32 0h2m-100 1h2m6 0h2m21 0h2m1 0h2m2 0h2m3 0h2m2 0h2m-1 0h2m27 0h2m27 0h2m-150 1h2m12 0h2m20 0h2m11 0h2m0 0h2m42 0h2m-70 1h2m17 0h2m12 0h2m34 0h2m8 0h2m6 0h2m18 0h2m-72 1h2m23 0h2m6 0h2m5 0h2m30 0h2m-62 1h2m13 0h2m-36 1h2m11 0h2m4 0h2m15 0h2m0 0h2m8 0h2m0 0h2m0 0h2m10 0h2m-102 1h2m43 0h2m5 0h2m0 0h2m8 0h2m1 0h2m-1 0h2m0 0h2m12 0h2m7 0h2m17 0h2m-116 1h2m9 0h2m32 0h2m26 0h2m15 0h2m-81 1h2m42 0h2m-1 0h2m34 0h2m8 0h2m-92 1h2m5 0h2m13 0h2m7 0h2m5 0h2m10 0h2m13 0h2m26 0h2m-153 1h2m91 0h2m2 0h2m25 0h2m1 0h2m16 0h2m-103 1h2m-1 0h2m0 0h2m-1 0h2m37 0h2m38 0h2m35 0h2m-121 1h2m58 0h2m19 0h2m-53 1h2m5 0h2m8 0h2m4 0h2m22 0h2m12 0h2m0 0h2m13 0h2m-132 1h2m31 0h2m2 0h2m3 0h2m45 0h2m11 0h2m4 0h2m-65 1h2m-1 0h2m95 0h2m3 0h2m-67 1h2m30 0h2m-62 1h2m2 0h2m5 0h2m9 0h2m6 0h2m-1 0h2m8 0h2m-71 1h2m32 0h2m17 0h2m-1 0h2m5 0h2m46 0h2m-89 1h2m0 0h2m2 0h2m-1 0h2m21 0h2m-59 1h2m12 0h2m1 0h2m3 0h2m0 0h2m2 0h2m25 0h2m16 0h2m-18 1h2m0 0h2m26 0h2m10 0h2m-101 1h2m6 0h2m1 0h2m0 0h2m-1 0h2m0 0h2m3 0h2m-1 0h2m9 0h2m-38 1h2m3 0h2m1 0h2m0 0h2m2 0h2m2 0h2m0 0h2m0 0h2m9 0h2m1 0h2m4 0h2m5 0h2m8 0h2m2 0h2m11 0h2m0 0h2m25 0h2m-97 1h2m2 0h2m5 0h2m-1 0h2m-1 0h2m2 0h2m2 0h2m-1 0h2m0 0h2m17 0h2m13 0h2m12 0h2m5 0h2m2 0h2m21 0h2m-98 1h2m5 0h2m1 0h2m8 0h2m3 0h2m32 0h2m11 0h2m-81 1h2m0 0h2m0 0h2m-1 0h2m-1 0h2m6 0h2m13 0h2m7 0h2m5 0h2m3 0h2m6 0h2m9 0h2m-91 1h2m16 0h2m3 0h2m0 0h2m-1 0h2m1 0h2m7 0h2m-1 0h2m0 0h2m1 0h2m2 0h2m0 0h2m-57 1h2m3 0h2m2 0h2m17 0h2m1 0h2m6 0h2m3 0h2m-50 1h2m6 0h2m13 0h2m-1 0h2m3 0h2m5 0h2m-1 0h2m-1 0h2m1 0h2m2 0h2m4 0h2m55 0h2m25 0h2m-139 1h2m2 0h2m7 0h2m2 0h2m9 0h2m0 0h2m0 0h2m-1 0h2m-1 0h2m-1 0h2m-1 0h2m0 0h2m4 0h2m2 0h2m-1 0h2m-1 0h2m-1 0h2m-1 0h2m1 0h2m6 0h2m2 0h2m3 0h2m-57 1h2m1 0h2m-1 0h2m1 0h2m-1 0h2m2 0h2m2 0h2m4 0h2m3 0h2m2 0h2m0 0h2m0 0h2m17 0h2m2 0h2m5 0h2m26 0h2m-89 1h2m1 0h2m1 0h2m2 0h2m0 0h2m13 0h2m2 0h2m35 0h2m-86 1h2m4 0h2m0 0h2m2 0h2m3 0h2m-1 0h2m-1 0h2m0 0h2m-1 0h2m2 0h2m-1 0h2m-1 0h2m-1 0h2m10 0h2m3 0h2m-1 0h2m0 0h2m16 0h2m45 0h2m25 0h2m-144 1h2m4 0h2m-1 0h2m2 0h2m2 0h2m0 0h2m2 0h2m-1 0h2m-1 0h2m-1 0h2m0 0h2m0 0h2m1 0h2m1 0h2m0 0h2m-1 0h2m0 0h2m-1 0h2m1 0h2m1 0h2m1 0h2m10 0h2m11 0h2m-77 1h2m6 0h2m6 0h2m2 0h2m1 0h2m2 0h2m-1 0h2m-1 0h2m0 0h2m-1 0h2m-1 0h2m-1 0h2m-1 0h2m-1 0h2m-1 0h2m-1 0h2m0 0h2m3 0h2m1 0h2m56 0h2m-129 1h2m21 0h2m1 0h2m0 0h2m0 0h2m-1 0h2m1 0h2m-1 0h2m-1 0h2m1 0h2m1 0h2m0 0h2m-1 0h2m-1 0h2m-1 0h2m-1 0h2m2 0h2m-1 0h2m-1 0h2m-1 0h2m-1 0h2m0 0h2m-1 0h2m-1 0h2m-1 0h2m7 0h2m-1 0h2m15 0h2m10 0h2m2 0h2m7 0h2m-105 1h2m8 0h2m2 0h2m2 0h2m4 0h2m0 0h2m-1 0h2m2 0h2m1 0h2m-1 0h2m-1 0h2m1 0h2m0 0h2m0 0h2m1 0h2m1 0h2m-1 0h2m4 0h2m1 0h2m1 0h2m4 0h2m20 0h2m7 0h2m45 0h2m-140 1h2m9 0h2m0 0h2m0 0h2m1 0h2m5 0h2m-1 0h2m-1 0h2m1 0h2m-1 0h2m1 0h2m-1 0h2m0 0h2m-1 0h2m3 0h2m0 0h2m0 0h2m19 0h2m1 0h2m0 0h2m-85 1h2m4 0h2m0 0h2m0 0h2m3 0h2m1 0h2m-1 0h2m-1 0h2m3 0h2m-1 0h2m0 0h2m0 0h2m0 0h2m-1 0h2m-1 0h2m-1 0h2m-1 0h2m-1 0h2m-1 0h2m-1 0h2m-1 0h2m-1 0h2m2 0h2m1 0h2m1 0h2m5 0h2m-1 0h2m-1 0h2m1 0h2m1 0h2m-1 0h2m-1 0h2m7 0h2m2 0h2m8 0h2m-80 1h2m5 0h2m0 0h2m-1 0h2m2 0h2m3 0h2m-1 0h2m-1 0h2m5 0h2m-1 0h2m2 0h2m-1 0h2m-1 0h2m-1 0h2m1 0h2m-1 0h2m2 0h2m5 0h2m-74 1h2m5 0h2m11 0h2m2 0h2m5 0h2m0 0h2m-1 0h2m5 0h2m-1 0h2m0 0h2m1 0h2m0 0h2m0 0h2m1 0h2m-1 0h2m0 0h2m0 0h2m1 0h2m0 0h2m-1 0h2m-1 0h2m-1 0h2m0 0h2m1 0h2m3 0h2m2 0h2m65 0h2m-132 1h2m1 0h2m1 0h2m2 0h2m-1 0h2m2 0h2m0 0h2m-1 0h2m-1 0h2m-1 0h2m-1 0h2m-1 0h2m-1 0h2m-1 0h2m-1 0h2m-1 0h2m-1 0h2m-1 0h2m-1 0h2m-1 0h2m2 0h2m-1 0h2m2 0h2m-1 0h2m-1 0h2m2 0h2m4 0h2m-1 0h2m3 0h2m3 0h2m0 0h2m29 0h2m16 0h2m-108 1h2m0 0h2m0 0h2m3 0h2m0 0h2m0 0h2m-1 0h2m-1 0h2m-1 0h2m0 0h2m-1 0h2m-1 0h2m-1 0h2m-1 0h2m-1 0h2m-1 0h2m-1 0h2m-1 0h2m-1 0h2m-1 0h2m0 0h2m-1 0h2m-1 0h2m0 0h2m-1 0h2m0 0h2m-1 0h2m0 0h2m1 0h2m-1 0h2m10 0h2m2 0h2m-1 0h2m-77 1h2m2 0h2m3 0h2m4 0h2m-1 0h2m-1 0h2m2 0h2m0 0h2m-1 0h2m0 0h2m-1 0h2m-1 0h2m-1 0h2m0 0h2m2 0h2m-1 0h2m0 0h2m-1 0h2m-1 0h2m-1 0h2m-1 0h2m-1 0h2m-1 0h2m-1 0h2m-1 0h2m-1 0h2m-1 0h2m2 0h2m-1 0h2m1 0h2m12 0h2m1 0h2m-80 1h2m0 0h2m7 0h2m0 0h2m2 0h2m0 0h2m1 0h2m-1 0h2m1 0h2m-1 0h2m-1 0h2m-1 0h2m-1 0h2m-1 0h2m-1 0h2m-1 0h2m0 0h2m0 0h2m-1 0h2m-1 0h2m0 0h2m1 0h2m-1 0h2m-1 0h2m-1 0h2m1 0h2m0 0h2m-1 0h2m0 0h2m4 0h2m3 0h2m5 0h2m-84 1h2m5 0h2m1 0h2m6 0h2m2 0h2m1 0h2m1 0h2m-1 0h2m-1 0h2m-1 0h2m3 0h2m-1 0h2m-1 0h2m-1 0h2m0 0h2m0 0h2m0 0h2m-1 0h2m-1 0h2m-1 0h2m-1 0h2m-1 0h2m-1 0h2m-1 0h2m1 0h2m-1 0h2m-1 0h2m-1 0h2m-1 0h2m-1 0h2m-1 0h2m0 0h2m-1 0h2m2 0h2m-1 0h2m-1 0h2m10 0h2m21 0h2m-100 1h2m10 0h2m-1 0h2m-1 0h2m-1 0h2m5 0h2m0 0h2m2 0h2m-1 0h2m-1 0h2m-1 0h2m-1 0h2m-1 0h2m0 0h2m-1 0h2m1 0h2m0 0h2m0 0h2m-1 0h2m-1 0h2m0 0h2m-1 0h2m-1 0h2m-1 0h2m-1 0h2m-1 0h2m-1 0h2m2 0h2m-1 0h2m0 0h2m-1 0h2m0 0h2m-1 0h2m11 0h2m30 0h2m46 0h2m-155 1h2m0 0h2m5 0h2m0 0h2m-1 0h2m1 0h2m-1 0h2m0 0h2m-1 0h2m-1 0h2m-1 0h2m0 0h2m-1 0h2m0 0h2m-1 0h2m0 0h2m0 0h2m-1 0h2m-1 0h2m-1 0h2m0 0h2m1 0h2m-1 0h2m-1 0h2m-1 0h2m0 0h2m-1 0h2m-1 0h2m-1 0h2m-1 0h2m0 0h2m0 0h2m0 0h2m0 0h2m6 0h2m-1 0h2m-67 1h2m4 0h2m-1 0h2m-1 0h2m-1 0h2m0 0h2m3 0h2m-1 0h2m0 0h2m-1 0h2m2 0h2m-1 0h2m-1 0h2m-1 0h2m-1 0h2m-1 0h2m-1 0h2m2 0h2m-1 0h2m-1 0h2m0 0h2m0 0h2m-1 0h2m3 0h2m-1 0h2m-1 0h2m-1 0h2m-1 0h2m0 0h2m-1 0h2m-1 0h2m-1 0h2m1 0h2m0 0h2m-1 0h2m-1 0h2m0 0h2m3 0h2m39 0h2m-112 1h2m9 0h2m-1 0h2m-1 0h2m-1 0h2m-1 0h2m-1 0h2m-1 0h2m-1 0h2m-1 0h2m-1 0h2m-1 0h2m-1 0h2m-1 0h2m-1 0h2m-1 0h2m-1 0h2m-1 0h2m-1 0h2m-1 0h2m0 0h2m-1 0h2m-1 0h2m0 0h2m-1 0h2m-1 0h2m0 0h2m-1 0h2m-1 0h2m-1 0h2m-1 0h2m0 0h2m-1 0h2m0 0h2m-1 0h2m0 0h2m-1 0h2m-1 0h2m-1 0h2m-1 0h2m1 0h2m-1 0h2m1 0h2m5 0h2m0 0h2m-80 1h2m0 0h2m6 0h2m-1 0h2m-1 0h2m1 0h2m-1 0h2m-1 0h2m0 0h2m-1 0h2m-1 0h2m-1 0h2m-1 0h2m-1 0h2m-1 0h2m-1 0h2m1 0h2m0 0h2m0 0h2m1 0h2m-1 0h2m-1 0h2m-1 0h2m-1 0h2m0 0h2m0 0h2m-1 0h2m-1 0h2m-1 0h2m-1 0h2m-1 0h2m0 0h2m-1 0h2m0 0h2m-1 0h2m-1 0h2m-1 0h2m2 0h2m1 0h2m10 0h2m0 0h2m21 0h2m-109 1h2m10 0h2m0 0h2m-1 0h2m7 0h2m0 0h2m-1 0h2m-1 0h2m1 0h2m-1 0h2m-1 0h2m-1 0h2m0 0h2m0 0h2m-1 0h2m-1 0h2m-1 0h2m0 0h2m-1 0h2m-1 0h2m-1 0h2m-1 0h2m-1 0h2m0 0h2m-1 0h2m-1 0h2m0 0h2m-1 0h2m1 0h2m0 0h2m0 0h2m-1 0h2m-1 0h2m0 0h2m-1 0h2m1 0h2m5 0h2m-73 1h2m5 0h2m7 0h2m-1 0h2m0 0h2m0 0h2m-1 0h2m-1 0h2m-1 0h2m-1 0h2m0 0h2m-1 0h2m-1 0h2m-1 0h2m-1 0h2m-1 0h2m-1 0h2m-1 0h2m-1 0h2m1 0h2m-1 0h2m-1 0h2m-1 0h2m0 0h2m-1 0h2m-1 0h2m-1 0h2m-1 0h2m-1 0h2m-1 0h2m-1 0h2m1 0h2m-1 0h2m-1 0h2m3 0h2m5 0h2m5 0h2m47 0h2m-127 1h2m2 0h2m6 0h2m-1 0h2m-1 0h2m-1 0h2m1 0h2m1 0h2m-1 0h2m-1 0h2m0 0h2m-1 0h2m-1 0h2m-1 0h2m-1 0h2m-1 0h2m0 0h2m2 0h2m-1 0h2m-1 0h2m-1 0h2m0 0h2m-1 0h2m-1 0h2m-1 0h2m-1 0h2m0 0h2m-1 0h2m-1 0h2m-1 0h2m-1 0h2m-1 0h2m-1 0h2m0 0h2m1 0h2m2 0h2m-1 0h2m0 0h2m-1 0h2m6 0h2m7 0h2m-88 1h2m1 0h2m-1 0h2m4 0h2m1 0h2m0 0h2m0 0h2m-1 0h2m0 0h2m2 0h2m3 0h2m-1 0h2m-1 0h2m-1 0h2m-1 0h2m-1 0h2m-1 0h2m-1 0h2m-1 0h2m-1 0h2m-1 0h2m-1 0h2m0 0h2m0 0h2m-1 0h2m-1 0h2m1 0h2m-1 0h2m-1 0h2m0 0h2m-1 0h2m0 0h2m-1 0h2m-1 0h2m-1 0h2m0 0h2m0 0h2m0 0h2m-1 0h2m5 0h2m6 0h2m72 0h2m-160 1h2m9 0h2m-1 0h2m6 0h2m2 0h2m2 0h2m0 0h2m-1 0h2m0 0h2m-1 0h2m-1 0h2m-1 0h2m-1 0h2m-1 0h2m-1 0h2m-1 0h2m-1 0h2m0 0h2m-1 0h2m-1 0h2m-1 0h2m-1 0h2m-1 0h2m-1 0h2m-1 0h2m-1 0h2m-1 0h2m2 0h2m-1 0h2m1 0h2m1 0h2m-1 0h2m0 0h2m1 0h2m5 0h2m-1 0h2m0 0h2m0 0h2m21 0h2m-91 1h2m3 0h2m-1 0h2m-1 0h2m1 0h2m0 0h2m-1 0h2m-1 0h2m-1 0h2m-1 0h2m-1 0h2m0 0h2m-1 0h2m0 0h2m1 0h2m-1 0h2m-1 0h2m-1 0h2m-1 0h2m-1 0h2m-1 0h2m-1 0h2m-1 0h2m1 0h2m0 0h2m-1 0h2m-1 0h2m-1 0h2m4 0h2m1 0h2m0 0h2m0 0h2m0 0h2m-1 0h2m-1 0h2m-1 0h2m3 0h2m-1 0h2m83 0h2m-155 1h2m1 0h2m-1 0h2m-1 0h2m-1 0h2m1 0h2m-1 0h2m0 0h2m-1 0h2m-1 0h2m-1 0h2m-1 0h2m-1 0h2m-1 0h2m-1 0h2m-1 0h2m0 0h2m0 0h2m-1 0h2m-1 0h2m-1 0h2m-1 0h2m-1 0h2m-1 0h2m-1 0h2m-1 0h2m-1 0h2m-1 0h2m-1 0h2m-1 0h2m-1 0h2m-1 0h2m0 0h2m-1 0h2m-1 0h2m-1 0h2m1 0h2m0 0h2m2 0h2m-1 0h2m-1 0h2m-1 0h2m7 0h2m66 0h2m-145 1h2m-1 0h2m7 0h2m-1 0h2m3 0h2m-1 0h2m1 0h2m-1 0h2m2 0h2m1 0h2m-1 0h2m0 0h2m-1 0h2m-1 0h2m-1 0h2m-1 0h2m0 0h2m-1 0h2m-1 0h2m-1 0h2m0 0h2m-1 0h2m-1 0h2m-1 0h2m-1 0h2m-1 0h2m-1 0h2m-1 0h2m-1 0h2m-1 0h2m-1 0h2m0 0h2m-1 0h2m2 0h2m-1 0h2m0 0h2m0 0h2m4 0h2m1 0h2m3 0h2m-85 1h2m15 0h2m2 0h2m2 0h2m1 0h2m0 0h2m-1 0h2m2 0h2m-1 0h2m0 0h2m-1 0h2m-1 0h2m-1 0h2m-1 0h2m-1 0h2m0 0h2m0 0h2m-1 0h2m-1 0h2m-1 0h2m-1 0h2m-1 0h2m0 0h2m-1 0h2m0 0h2m-1 0h2m-1 0h2m-1 0h2m0 0h2m-1 0h2m-1 0h2m-1 0h2m-1 0h2m4 0h2m-1 0h2m-1 0h2m5 0h2m-80 1h2m7 0h2m-1 0h2m0 0h2m3 0h2m-1 0h2m3 0h2m-1 0h2m-1 0h2m-1 0h2m0 0h2m-1 0h2m-1 0h2m-1 0h2m-1 0h2m-1 0h2m-1 0h2m0 0h2m-1 0h2m-1 0h2m-1 0h2m-1 0h2m0 0h2m-1 0h2m0 0h2m3 0h2m-1 0h2m-1 0h2m-1 0h2m-1 0h2m-1 0h2m-1 0h2m3 0h2m0 0h2m0 0h2m-1 0h2m-1 0h2m-1 0h2m-1 0h2m1 0h2m10 0h2m24 0h2m-103 1h2m3 0h2m-1 0h2m-1 0h2m1 0h2m1 0h2m-1 0h2m-1 0h2m-1 0h2m-1 0h2m0 0h2m-1 0h2m2 0h2m0 0h2m-1 0h2m-1 0h2m-1 0h2m-1 0h2m-1 0h2m0 0h2m0 0h2m-1 0h2m-1 0h2m0 0h2m-1 0h2m-1 0h2m1 0h2m0 0h2m0 0h2m2 0h2m2 0h2m-1 0h2m0 0h2m-1 0h2m-1 0h2m2 0h2m87 0h2m-156 1h2m-1 0h2m2 0h2m0 0h2m0 0h2m4 0h2m-1 0h2m-1 0h2m-1 0h2m1 0h2m-1 0h2m-1 0h2m-1 0h2m-1 0h2m0 0h2m0 0h2m0 0h2m1 0h2m0 0h2m-1 0h2m0 0h2m-1 0h2m0 0h2m-1 0h2m0 0h2m-1 0h2m-1 0h2m3 0h2m3 0h2m1 0h2m50 0h2m-115 1h2m3 0h2m-1 0h2m2 0h2m3 0h2m-1 0h2m0 0h2m-1 0h2m2 0h2m0 0h2m-1 0h2m-1 0h2m0 0h2m-1 0h2m-1 0h2m-1 0h2m-1 0h2m-1 0h2m0 0h2m-1 0h2m-1 0h2m-1 0h2m1 0h2m-1 0h2m-1 0h2m-1 0h2m-1 0h2m-1 0h2m0 0h2m-1 0h2m-1 0h2m1 0h2m-1 0h2m-1 0h2m1 0h2m-1 0h2m-1 0h2m4 0h2m29 0h2m2 0h2m35 0h2m19 0h2m-173 1h2m7 0h2m-1 0h2m5 0h2m0 0h2m4 0h2m3 0h2m-1 0h2m0 0h2m-1 0h2m-1 0h2m0 0h2m-1 0h2m-1 0h2m-1 0h2m1 0h2m-1 0h2m-1 0h2m-1 0h2m-1 0h2m-1 0h2m-1 0h2m-1 0h2m-1 0h2m-1 0h2m-1 0h2m0 0h2m-1 0h2m0 0h2m-1 0h2m0 0h2m-1 0h2m-1 0h2m6 0h2m8 0h2m14 0h2m58 0h2m9 0h2m-178 1h2m16 0h2m0 0h2m3 0h2m1 0h2m-1 0h2m0 0h2m0 0h2m0 0h2m-1 0h2m-1 0h2m-1 0h2m-1 0h2m-1 0h2m-1 0h2m-1 0h2m0 0h2m-1 0h2m-1 0h2m-1 0h2m-1 0h2m-1 0h2m-1 0h2m-1 0h2m-1 0h2m1 0h2m-1 0h2m-1 0h2m-1 0h2m0 0h2m-1 0h2m1 0h2m3 0h2m-1 0h2m3 0h2m0 0h2m4 0h2m-72 1h2m5 0h2m7 0h2m0 0h2m1 0h2m-1 0h2m-1 0h2m-1 0h2m-1 0h2m-1 0h2m-1 0h2m-1 0h2m-1 0h2m-1 0h2m-1 0h2m-1 0h2m0 0h2m-1 0h2m1 0h2m-1 0h2m-1 0h2m-1 0h2m0 0h2m0 0h2m-1 0h2m-1 0h2m-1 0h2m0 0h2m-1 0h2m-1 0h2m-1 0h2m0 0h2m-1 0h2m-1 0h2m1 0h2m2 0h2m1 0h2m-68 1h2m6 0h2m2 0h2m0 0h2m-1 0h2m-1 0h2m2 0h2m-1 0h2m1 0h2m-1 0h2m-1 0h2m-1 0h2m-1 0h2m2 0h2m0 0h2m-1 0h2m0 0h2m-1 0h2m0 0h2m0 0h2m-1 0h2m-1 0h2m1 0h2m0 0h2m2 0h2m0 0h2m-1 0h2m0 0h2m-1 0h2m15 0h2m3 0h2m63 0h2m-145 1h2m2 0h2m6 0h2m3 0h2m-1 0h2m0 0h2m-1 0h2m-1 0h2m1 0h2m-1 0h2m-1 0h2m0 0h2m-1 0h2m-1 0h2m-1 0h2m-1 0h2m-1 0h2m-1 0h2m-1 0h2m-1 0h2m1 0h2m-1 0h2m-1 0h2m-1 0h2m-1 0h2m0 0h2m-1 0h2m-1 0h2m1 0h2m-1 0h2m0 0h2m-1 0h2m0 0h2m1 0h2m76 0h2m-140 1h2m6 0h2m-1 0h2m1 0h2m-1 0h2m-1 0h2m-1 0h2m-1 0h2m2 0h2m-1 0h2m-1 0h2m5 0h2m1 0h2m-1 0h2m-1 0h2m0 0h2m-1 0h2m-1 0h2m0 0h2m-1 0h2m-1 0h2m4 0h2m0 0h2m0 0h2m0 0h2m1 0h2m-1 0h2m72 0h2m18 0h2m-157 1h2m5 0h2m0 0h2m0 0h2m2 0h2m-1 0h2m0 0h2m-1 0h2m-1 0h2m0 0h2m1 0h2m-1 0h2m-1 0h2m-1 0h2m-1 0h2m-1 0h2m-1 0h2m-1 0h2m0 0h2m-1 0h2m-1 0h2m-1 0h2m-1 0h2m0 0h2m-1 0h2m-1 0h2m-1 0h2m-1 0h2m0 0h2m1 0h2m0 0h2m-1 0h2m-1 0h2m1 0h2m10 0h2m2 0h2m8 0h2m26 0h2m-125 1h2m1 0h2m9 0h2m-1 0h2m6 0h2m-1 0h2m4 0h2m-1 0h2m-1 0h2m-1 0h2m0 0h2m0 0h2m-1 0h2m-1 0h2m1 0h2m0 0h2m1 0h2m-1 0h2m-1 0h2m-1 0h2m-1 0h2m-1 0h2m-1 0h2m-1 0h2m-1 0h2m-1 0h2m0 0h2m-1 0h2m1 0h2m3 0h2m1 0h2m3 0h2m0 0h2m7 0h2m-78 1h2m-1 0h2m0 0h2m6 0h2m0 0h2m0 0h2m-1 0h2m-1 0h2m-1 0h2m1 0h2m-1 0h2m-1 0h2m-1 0h2m2 0h2m2 0h2m2 0h2m-1 0h2m-1 0h2m-1 0h2m0 0h2m-1 0h2m2 0h2m1 0h2m-1 0h2m1 0h2m0 0h2m3 0h2m4 0h2m1 0h2m24 0h2m-100 1h2m6 0h2m-1 0h2m0 0h2m0 0h2m0 0h2m2 0h2m-1 0h2m1 0h2m1 0h2m-1 0h2m0 0h2m-1 0h2m0 0h2m-1 0h2m-1 0h2m-1 0h2m0 0h2m-1 0h2m0 0h2m2 0h2m0 0h2m-1 0h2m3 0h2m-1 0h2m4 0h2m2 0h2m18 0h2m-68 1h2m0 0h2m-1 0h2m0 0h2m0 0h2m0 0h2m0 0h2m2 0h2m-1 0h2m-1 0h2m-1 0h2m-1 0h2m-1 0h2m-1 0h2m-1 0h2m-1 0h2m-1 0h2m-1 0h2m-1 0h2m0 0h2m-1 0h2m-1 0h2m0 0h2m5 0h2m-1 0h2m1 0h2m-1 0h2m1 0h2m34 0h2m-94 1h2m2 0h2m0 0h2m0 0h2m0 0h2m0 0h2m0 0h2m0 0h2m0 0h2m-1 0h2m0 0h2m-1 0h2m-1 0h2m1 0h2m-1 0h2m0 0h2m0 0h2m-1 0h2m-1 0h2m-1 0h2m3 0h2m7 0h2m1 0h2m5 0h2m0 0h2m44 0h2m16 0h2m-142 1h2m2 0h2m17 0h2m5 0h2m5 0h2m-1 0h2m2 0h2m-1 0h2m-1 0h2m-1 0h2m-1 0h2m0 0h2m-1 0h2m-1 0h2m0 0h2m2 0h2m5 0h2m5 0h2m56 0h2m-113 1h2m1 0h2m4 0h2m2 0h2m-1 0h2m-1 0h2m0 0h2m0 0h2m0 0h2m4 0h2m-1 0h2m-1 0h2m3 0h2m-1 0h2m1 0h2m0 0h2m1 0h2m3 0h2m-1 0h2m-1 0h2m1 0h2m4 0h2m2 0h2m101 0h2m-174 1h2m10 0h2m0 0h2m0 0h2m3 0h2m-1 0h2m0 0h2m1 0h2m-1 0h2m1 0h2m0 0h2m-1 0h2m-1 0h2m-1 0h2m0 0h2m-1 0h2m1 0h2m-1 0h2m1 0h2m3 0h2m54 0h2m-103 1h2m10 0h2m1 0h2m0 0h2m-1 0h2m0 0h2m-1 0h2m0 0h2m0 0h2m-1 0h2m0 0h2m-1 0h2m7 0h2m2 0h2m0 0h2m-1 0h2m4 0h2m13 0h2m60 0h2m-133 1h2m8 0h2m4 0h2m3 0h2m0 0h2m-1 0h2m-1 0h2m1 0h2m0 0h2m-1 0h2m3 0h2m0 0h2m0 0h2m0 0h2m-1 0h2m0 0h2m0 0h2m-34 1h2m2 0h2m4 0h2m-1 0h2m-1 0h2m6 0h2m0 0h2m2 0h2m0 0h2m5 0h2m1 0h2m39 0h2m-108 1h2m2 0h2m15 0h2m-1 0h2m3 0h2m2 0h2m1 0h2m0 0h2m7 0h2m9 0h2m0 0h2m42 0h2m-91 1h2m-1 0h2m0 0h2m17 0h2m0 0h2m2 0h2m6 0h2m2 0h2m-1 0h2m6 0h2m2 0h2m74 0h2m-115 1h2m-1 0h2m7 0h2m-1 0h2m5 0h2m2 0h2m9 0h2m-55 1h2m16 0h2m-1 0h2m6 0h2m0 0h2m1 0h2m28 0h2m1 0h2m26 0h2m49 0h2m-145 1h2m12 0h2m-1 0h2m1 0h2m0 0h2m-1 0h2m0 0h2m15 0h2m-1 0h2m4 0h2m71 0h2m-122 1h2m8 0h2m0 0h2m8 0h2m-1 0h2m5 0h2m-1 0h2m1 0h2m3 0h2m107 0h2m-164 1h2m23 0h2m3 0h2m5 0h2m0 0h2m11 0h2m2 0h2m8 0h2m51 0h2m45 0h2m-164 1h2m5 0h2m41 0h2m-1 0h2m6 0h2m99 0h2m-143 1h2m10 0h2m3 0h2m0 0h2m-1 0h2m4 0h2m3 0h2m10 0h2m-50 1h2m0 0h2m4 0h2m5 0h2m1 0h2m21 0h2m-57 1h2m21 0h2m6 0h2m10 0h2m-1 0h2m64 0h2m5 0h2m60 0h2m-173 1h2m2 0h2m16 0h2m5 0h2m0 0h2m-1 0h2m1 0h2m4 0h2m129 0h2m-177 1h2m0 0h2m2 0h2m1 0h2m14 0h2m-13 1h2m12 0h2m-28 1h2m8 0h2m4 0h2m6 0h2m-1 0h2m1 0h2m9 0h2m120 0h2m-152 1h2m95 0h2m-97 1h2m8 0h2m1 0h2m15 0h2m103 1h2m-141 1h2m103 1h2m-91 1h2m78 0h2m66 1h2" stroke="#e8151b" stroke-width="1.5" fill="none"/>
<rect x="679.5" y="2096.8" width="239" height="244.9" fill="none" stroke="#000" stroke-width="1.3"/>
<line x1="787.7" y1="2096.8" x2="787.7" y2="2341.7" stroke="#000" stroke-width="1.3"/>
<line x1="679.5" y1="2244.0" x2="918.5" y2="2244.0" stroke="#000" stroke-width="1.3"/>
<path d="M679.5,2341.7v6M679.5,2341.7h-6M697.5,2341.7v3M679.5,2323.3h-3M708.0,2341.7v3M679.5,2312.5h-3M715.5,2341.7v3M679.5,2304.8h-3M721.3,2341.7v3M679.5,2298.9h-3M726.0,2341.7v3M679.5,2294.1h-3M730.0,2341.7v3M679.5,2290.0h-3M733.5,2341.7v3M679.5,2286.4h-3M736.5,2341.7v3M679.5,2283.3h-3M739.2,2341.7v6M679.5,2280.5h-6M757.2,2341.7v3M679.5,2262.0h-3M767.8,2341.7v3M679.5,2251.3h-3M775.2,2341.7v3M679.5,2243.6h-3M781.0,2341.7v3M679.5,2237.7h-3M785.7,2341.7v3M679.5,2232.8h-3M789.7,2341.7v3M679.5,2228.7h-3M793.2,2341.7v3M679.5,2225.2h-3M796.3,2341.7v3M679.5,2222.1h-3M799.0,2341.7v6M679.5,2219.2h-6M817.0,2341.7v3M679.5,2200.8h-3M827.5,2341.7v3M679.5,2190.0h-3M835.0,2341.7v3M679.5,2182.4h-3M840.8,2341.7v3M679.5,2176.5h-3M845.5,2341.7v3M679.5,2171.6h-3M849.5,2341.7v3M679.5,2167.5h-3M853.0,2341.7v3M679.5,2164.0h-3M856.0,2341.7v3M679.5,2160.8h-3M858.8,2341.7v6M679.5,2158.0h-6M876.7,2341.7v3M679.5,2139.6h-3M887.3,2341.7v3M679.5,2128.8h-3M894.7,2341.7v3M679.5,2121.2h-3M900.5,2341.7v3M679.5,2115.2h-3M905.2,2341.7v3M679.5,2110.4h-3M909.2,2341.7v3M679.5,2106.3h-3M912.7,2341.7v3M679.5,2102.7h-3M915.8,2341.7v3M679.5,2099.6h-3M918.5,2341.7v6M679.5,2096.8h-6" stroke="#000" stroke-width="1" fill="none"/>
<text x="680.0" y="2360.7" font-size="13" text-anchor="middle" style="font-weight:normal">10<tspan font-size="10.5" dy="-5.5">0</tspan></text>
<text transform="translate(670.8,2342.7) rotate(-90)" font-size="13" text-anchor="middle" style="font-weight:normal">10<tspan font-size="10.5" dy="-5.5">0</tspan></text>
<text x="739.8" y="2360.7" font-size="13" text-anchor="middle" style="font-weight:normal">10<tspan font-size="10.5" dy="-5.5">1</tspan></text>
<text transform="translate(670.8,2281.5) rotate(-90)" font-size="13" text-anchor="middle" style="font-weight:normal">10<tspan font-size="10.5" dy="-5.5">1</tspan></text>
<text x="799.5" y="2360.7" font-size="13" text-anchor="middle" style="font-weight:normal">10<tspan font-size="10.5" dy="-5.5">2</tspan></text>
<text transform="translate(670.8,2220.2) rotate(-90)" font-size="13" text-anchor="middle" style="font-weight:normal">10<tspan font-size="10.5" dy="-5.5">2</tspan></text>
<text x="859.2" y="2360.7" font-size="13" text-anchor="middle" style="font-weight:normal">10<tspan font-size="10.5" dy="-5.5">3</tspan></text>
<text transform="translate(670.8,2159.0) rotate(-90)" font-size="13" text-anchor="middle" style="font-weight:normal">10<tspan font-size="10.5" dy="-5.5">3</tspan></text>
<text x="919.0" y="2360.7" font-size="13" text-anchor="middle" style="font-weight:normal">10<tspan font-size="10.5" dy="-5.5">4</tspan></text>
<text transform="translate(670.8,2097.8) rotate(-90)" font-size="13" text-anchor="middle" style="font-weight:normal">10<tspan font-size="10.5" dy="-5.5">4</tspan></text>
<text x="796.5" y="2371.7" font-size="10.9" text-anchor="middle" style="font-weight:normal">ANNEXIN-V- FITC</text>
<text x="655.5" y="2220.5" font-size="10.5" text-anchor="middle" style="font-weight:normal" transform="rotate(-90 655.5 2220.5)">PI</text>
<text x="684.2" y="2127.1" font-size="25.5" stroke="#000" stroke-width="0.4">1.01%</text>
<text x="905.3" y="2127.1" font-size="25.5" text-anchor="end" stroke="#000" stroke-width="0.4">17.81%</text>
<text x="684.2" y="2326.5" font-size="25.5" stroke="#000" stroke-width="0.4">80.06%</text>
<text x="905.3" y="2326.5" font-size="25.5" text-anchor="end" stroke="#000" stroke-width="0.4">1.13%</text>
<text x="1070.8" y="2078.0" font-size="25.8" text-anchor="middle" stroke="#000" stroke-width="0.4">STAT4+siVEGFA</text>
<path transform="translate(965.3,2341.7)" d="M181-199h2m9 4h2m-5 2h2m18 1h2m-44 1h2m14 1h2m20 1h2m-27 1h2m3 0h2m-17 1h2m-9 1h2m-1 0h2m5 0h2m-1 0h2m-23 2h2m2 0h2m9 0h2m0 0h2m-18 1h2m29 1h2m-98 1h2m57 0h2m3 0h2m12 0h2m7 0h2m12 0h2m-49 1h2m-1 0h2m-1 0h2m38 0h2m-49 1h2m21 0h2m5 0h2m3 0h2m6 0h2m-83 1h2m46 0h2m1 0h2m15 0h2m6 0h2m0 0h2m-1 0h2m-97 1h2m62 0h2m0 0h2m2 0h2m0 0h2m0 0h2m2 0h2m2 0h2m4 0h2m11 0h2m-1 0h2m3 0h2m-158 1h2m111 0h2m6 0h2m5 0h2m7 0h2m23 0h2m-64 1h2m14 0h2m15 0h2m0 0h2m2 0h2m2 0h2m2 0h2m-34 1h2m7 0h2m1 0h2m0 0h2m-1 0h2m2 0h2m2 0h2m-1 0h2m-1 0h2m3 0h2m2 0h2m-117 1h2m72 0h2m0 0h2m6 0h2m-1 0h2m4 0h2m-1 0h2m-1 0h2m1 0h2m-1 0h2m2 0h2m-1 0h2m5 0h2m2 0h2m4 0h2m-100 1h2m10 0h2m12 0h2m15 0h2m2 0h2m-1 0h2m4 0h2m4 0h2m0 0h2m2 0h2m1 0h2m8 0h2m-1 0h2m1 0h2m-1 0h2m2 0h2m5 0h2m-59 1h2m2 0h2m1 0h2m8 0h2m3 0h2m-1 0h2m1 0h2m0 0h2m1 0h2m5 0h2m2 0h2m-1 0h2m2 0h2m0 0h2m18 0h2m-99 1h2m22 0h2m7 0h2m3 0h2m2 0h2m0 0h2m0 0h2m4 0h2m0 0h2m0 0h2m3 0h2m7 0h2m1 0h2m-1 0h2m3 0h2m0 0h2m0 0h2m-1 0h2m12 0h2m-177 1h2m108 0h2m3 0h2m5 0h2m0 0h2m-1 0h2m-1 0h2m2 0h2m-1 0h2m-1 0h2m-1 0h2m0 0h2m3 0h2m-1 0h2m0 0h2m-1 0h2m19 0h2m-130 1h2m66 0h2m3 0h2m5 0h2m1 0h2m6 0h2m0 0h2m2 0h2m-1 0h2m2 0h2m-1 0h2m-1 0h2m2 0h2m6 0h2m9 0h2m1 0h2m-54 1h2m1 0h2m5 0h2m7 0h2m1 0h2m-1 0h2m2 0h2m0 0h2m1 0h2m5 0h2m-125 1h2m68 0h2m2 0h2m1 0h2m5 0h2m-1 0h2m5 0h2m0 0h2m4 0h2m0 0h2m6 0h2m0 0h2m6 0h2m-1 0h2m0 0h2m-94 1h2m43 0h2m4 0h2m1 0h2m1 0h2m-1 0h2m-1 0h2m2 0h2m1 0h2m0 0h2m0 0h2m4 0h2m4 0h2m0 0h2m-1 0h2m-1 0h2m-1 0h2m1 0h2m-1 0h2m-1 0h2m-122 1h2m70 0h2m16 0h2m1 0h2m-1 0h2m0 0h2m0 0h2m-1 0h2m3 0h2m-1 0h2m-1 0h2m6 0h2m1 0h2m10 0h2m-61 1h2m-1 0h2m-1 0h2m-1 0h2m4 0h2m2 0h2m-1 0h2m-1 0h2m1 0h2m2 0h2m1 0h2m0 0h2m0 0h2m-1 0h2m2 0h2m7 0h2m-1 0h2m6 0h2m-157 1h2m95 0h2m0 0h2m6 0h2m4 0h2m0 0h2m4 0h2m-1 0h2m0 0h2m1 0h2m-1 0h2m0 0h2m-1 0h2m2 0h2m-1 0h2m1 0h2m-1 0h2m2 0h2m11 0h2m3 0h2m-62 1h2m11 0h2m-1 0h2m0 0h2m0 0h2m-1 0h2m0 0h2m-1 0h2m0 0h2m0 0h2m-1 0h2m4 0h2m3 0h2m1 0h2m0 0h2m6 0h2m4 0h2m16 0h2m-84 1h2m1 0h2m9 0h2m0 0h2m1 0h2m0 0h2m2 0h2m0 0h2m0 0h2m-1 0h2m0 0h2m1 0h2m4 0h2m5 0h2m1 0h2m13 0h2m-67 1h2m7 0h2m3 0h2m2 0h2m-1 0h2m7 0h2m-1 0h2m2 0h2m1 0h2m4 0h2m-1 0h2m4 0h2m3 0h2m4 0h2m-78 1h2m12 0h2m13 0h2m0 0h2m5 0h2m0 0h2m3 0h2m1 0h2m1 0h2m-1 0h2m2 0h2m0 0h2m5 0h2m-42 1h2m6 0h2m-1 0h2m2 0h2m0 0h2m-1 0h2m3 0h2m0 0h2m0 0h2m1 0h2m0 0h2m-1 0h2m5 0h2m3 0h2m-49 1h2m7 0h2m2 0h2m0 0h2m7 0h2m-1 0h2m-1 0h2m0 0h2m2 0h2m9 0h2m18 0h2m6 0h2m-124 1h2m49 0h2m4 0h2m9 0h2m2 0h2m-1 0h2m-1 0h2m4 0h2m3 0h2m3 0h2m0 0h2m2 0h2m-73 1h2m2 0h2m14 0h2m2 0h2m10 0h2m-1 0h2m5 0h2m-1 0h2m-1 0h2m0 0h2m0 0h2m1 0h2m17 0h2m-1 0h2m0 0h2m-132 1h2m59 0h2m20 0h2m1 0h2m4 0h2m0 0h2m1 0h2m0 0h2m0 0h2m0 0h2m-1 0h2m-1 0h2m2 0h2m8 0h2m-1 0h2m14 0h2m-103 1h2m46 0h2m-1 0h2m1 0h2m6 0h2m2 0h2m8 0h2m-1 0h2m6 0h2m3 0h2m-35 1h2m-1 0h2m-1 0h2m-1 0h2m-1 0h2m-1 0h2m1 0h2m9 0h2m-25 1h2m-1 0h2m3 0h2m10 0h2m18 0h2m-35 1h2m4 0h2m6 0h2m-47 1h2m-1 0h2m8 0h2m13 0h2m9 0h2m3 0h2m2 0h2m19 0h2m-75 1h2m10 0h2m20 0h2m3 0h2m3 0h2m12 0h2m-1 0h2m15 0h2m-81 1h2m12 0h2m3 0h2m1 0h2m22 0h2m-1 0h2m0 0h2m2 0h2m27 0h2m-136 1h2m80 0h2m23 0h2m8 0h2m9 0h2m2 0h2m-72 1h2m15 0h2m5 0h2m-1 0h2m-43 1h2m101 0h2m-135 1h2m110 0h2m-1 0h2m-29 1h2m26 0h2m-82 1h2m34 0h2m33 1h2m-3 1h2m-82 1h2m24 0h2m46 0h2m-85 1h2m46 0h2m-90 1h2m4 0h2m89 0h2m-85 1h2m47 0h2m58 0h2m8 0h2m-87 1h2m93 0h2m-35 1h2m37 0h2m-73 1h2m18 0h2m7 0h2m16 0h2m8 0h2m-135 1h2m97 0h2m-45 1h2m-6 1h2m60 0h2m5 0h2m-18 1h2m4 0h2m7 0h2m-28 1h2m7 0h2m-1 0h2m-24 1h2m40 0h2m-131 1h2m95 0h2m25 0h2m6 0h2m7 0h2m-56 1h2m13 0h2m4 0h2m0 0h2m-55 1h2m36 1h2m22 0h2m17 0h2m-71 1h2m23 0h2m-89 1h2m111 0h2m9 0h2m-89 1h2m41 0h2m-1 0h2m23 0h2m11 0h2m1 0h2m42 0h2m-72 1h2m15 0h2m4 0h2m2 0h2m-29 1h2m1 0h2m2 0h2m5 0h2m-29 1h2m-1 0h2m27 0h2m11 0h2m-64 1h2m20 0h2m43 0h2m12 0h2m-93 2h2m36 0h2m19 0h2m2 0h2m-51 1h2m23 0h2m13 0h2m-74 1h2m45 0h2m15 0h2m-25 1h2m0 0h2m26 0h2m3 0h2m8 0h2m-132 1h2m49 0h2m5 0h2m12 0h2m28 0h2m5 0h2m45 0h2m-129 1h2m14 0h2m-1 0h2m10 0h2m16 1h2m36 0h2m-120 1h2m118 0h2m-16 1h2m31 0h2m-23 1h2m-87 1h2m30 0h2m5 0h2m3 0h2m8 0h2m23 0h2m4 0h2m-57 1h2m59 0h2m12 0h2m-134 1h2m70 0h2m38 0h2m-100 1h2m29 0h2m4 0h2m1 0h2m38 0h2m-24 1h2m20 0h2m50 0h2m-90 1h2m18 0h2m-17 2h2m21 0h2m52 0h2m-26 1h2m-57 1h2m11 0h2m23 0h2m15 0h2m47 0h2m-70 2h2m23 0h2m-88 1h2m37 0h2m47 0h2m-68 1h2m87 0h2m6 0h2m-99 1h2m0 0h2m-38 1h2m22 0h2m4 0h2m1 0h2m-1 0h2m2 0h2m0 0h2m4 0h2m35 0h2m2 0h2m-84 1h2m0 0h2m9 0h2m9 0h2m-1 0h2m7 0h2m20 0h2m-32 1h2m9 0h2m6 0h2m19 0h2m-74 1h2m29 0h2m10 0h2m47 0h2m-92 1h2m1 0h2m2 0h2m4 0h2m3 0h2m0 0h2m13 0h2m61 0h2m12 0h2m-128 1h2m15 0h2m15 0h2m13 0h2m6 0h2m0 0h2m-25 1h2m7 0h2m1 0h2m27 0h2m-69 1h2m4 0h2m18 0h2m3 0h2m0 0h2m5 0h2m0 0h2m0 0h2m1 0h2m-1 0h2m-1 0h2m0 0h2m-44 1h2m5 0h2m0 0h2m1 0h2m6 0h2m6 0h2m6 0h2m1 0h2m8 0h2m4 0h2m48 0h2m-121 1h2m8 0h2m13 0h2m-1 0h2m4 0h2m1 0h2m0 0h2m2 0h2m4 0h2m-1 0h2m-1 0h2m6 0h2m-57 1h2m2 0h2m4 0h2m2 0h2m5 0h2m0 0h2m-1 0h2m-1 0h2m-1 0h2m-1 0h2m4 0h2m1 0h2m3 0h2m1 0h2m14 0h2m9 0h2m0 0h2m-78 1h2m23 0h2m5 0h2m-1 0h2m0 0h2m2 0h2m3 0h2m0 0h2m0 0h2m3 0h2m3 0h2m84 0h2m4 0h2m-138 1h2m-1 0h2m-1 0h2m3 0h2m-1 0h2m2 0h2m-1 0h2m-1 0h2m-1 0h2m-1 0h2m-1 0h2m-1 0h2m1 0h2m2 0h2m1 0h2m3 0h2m3 0h2m0 0h2m7 0h2m1 0h2m4 0h2m-1 0h2m4 0h2m6 0h2m5 0h2m-90 1h2m-1 0h2m0 0h2m8 0h2m1 0h2m5 0h2m3 0h2m-1 0h2m-1 0h2m0 0h2m1 0h2m0 0h2m3 0h2m-1 0h2m1 0h2m0 0h2m14 0h2m69 0h2m-147 1h2m10 0h2m3 0h2m2 0h2m2 0h2m2 0h2m-1 0h2m6 0h2m6 0h2m-1 0h2m-1 0h2m0 0h2m1 0h2m0 0h2m1 0h2m1 0h2m36 0h2m-102 1h2m-1 0h2m0 0h2m4 0h2m3 0h2m3 0h2m0 0h2m1 0h2m0 0h2m-1 0h2m-1 0h2m0 0h2m0 0h2m0 0h2m-1 0h2m0 0h2m0 0h2m4 0h2m3 0h2m4 0h2m-1 0h2m6 0h2m1 0h2m-88 1h2m13 0h2m3 0h2m5 0h2m0 0h2m-1 0h2m3 0h2m-1 0h2m-1 0h2m1 0h2m1 0h2m-1 0h2m0 0h2m-1 0h2m-1 0h2m0 0h2m2 0h2m-1 0h2m-1 0h2m-1 0h2m-1 0h2m2 0h2m-1 0h2m2 0h2m-1 0h2m0 0h2m-1 0h2m2 0h2m0 0h2m70 0h2m-152 1h2m12 0h2m6 0h2m6 0h2m-1 0h2m1 0h2m-1 0h2m0 0h2m-1 0h2m0 0h2m0 0h2m2 0h2m-1 0h2m-1 0h2m0 0h2m0 0h2m0 0h2m1 0h2m-1 0h2m-1 0h2m-1 0h2m-1 0h2m-1 0h2m0 0h2m-1 0h2m-1 0h2m-1 0h2m1 0h2m9 0h2m-1 0h2m3 0h2m11 0h2m13 0h2m9 0h2m26 0h2m-148 1h2m2 0h2m4 0h2m6 0h2m-1 0h2m-1 0h2m2 0h2m0 0h2m1 0h2m0 0h2m-1 0h2m3 0h2m-1 0h2m0 0h2m-1 0h2m-1 0h2m0 0h2m-1 0h2m2 0h2m-1 0h2m2 0h2m-1 0h2m2 0h2m-1 0h2m0 0h2m-1 0h2m0 0h2m0 0h2m-1 0h2m1 0h2m-1 0h2m3 0h2m-1 0h2m11 0h2m2 0h2m32 0h2m36 0h2m-161 1h2m0 0h2m7 0h2m3 0h2m-1 0h2m-1 0h2m-1 0h2m2 0h2m-1 0h2m-1 0h2m0 0h2m-1 0h2m0 0h2m-1 0h2m-1 0h2m-1 0h2m-1 0h2m1 0h2m1 0h2m-1 0h2m-1 0h2m0 0h2m0 0h2m0 0h2m-1 0h2m0 0h2m-1 0h2m0 0h2m-1 0h2m3 0h2m-1 0h2m9 0h2m4 0h2m77 0h2m-159 1h2m1 0h2m-1 0h2m2 0h2m2 0h2m3 0h2m2 0h2m-1 0h2m-1 0h2m-1 0h2m-1 0h2m0 0h2m0 0h2m1 0h2m0 0h2m1 0h2m-1 0h2m2 0h2m-1 0h2m2 0h2m-1 0h2m0 0h2m-1 0h2m-1 0h2m-1 0h2m-1 0h2m1 0h2m-1 0h2m1 0h2m4 0h2m0 0h2m1 0h2m1 0h2m28 0h2m-110 1h2m1 0h2m4 0h2m1 0h2m-1 0h2m1 0h2m-1 0h2m0 0h2m-1 0h2m0 0h2m-1 0h2m-1 0h2m-1 0h2m0 0h2m0 0h2m-1 0h2m0 0h2m0 0h2m0 0h2m-1 0h2m-1 0h2m-1 0h2m0 0h2m-1 0h2m-1 0h2m-1 0h2m-1 0h2m0 0h2m-1 0h2m0 0h2m0 0h2m0 0h2m3 0h2m-1 0h2m-1 0h2m-1 0h2m2 0h2m58 0h2m-129 1h2m9 0h2m1 0h2m3 0h2m-1 0h2m-1 0h2m0 0h2m-1 0h2m0 0h2m-1 0h2m1 0h2m-1 0h2m-1 0h2m-1 0h2m-1 0h2m-1 0h2m-1 0h2m-1 0h2m0 0h2m-1 0h2m-1 0h2m0 0h2m0 0h2m-1 0h2m-1 0h2m0 0h2m2 0h2m0 0h2m-1 0h2m-1 0h2m4 0h2m0 0h2m0 0h2m-83 1h2m6 0h2m0 0h2m6 0h2m-1 0h2m-1 0h2m0 0h2m0 0h2m-1 0h2m1 0h2m-1 0h2m2 0h2m1 0h2m1 0h2m-1 0h2m0 0h2m-1 0h2m-1 0h2m0 0h2m-1 0h2m-1 0h2m0 0h2m0 0h2m0 0h2m-1 0h2m2 0h2m0 0h2m0 0h2m0 0h2m0 0h2m0 0h2m-1 0h2m4 0h2m0 0h2m7 0h2m1 0h2m-77 1h2m3 0h2m-1 0h2m-1 0h2m-1 0h2m-1 0h2m-1 0h2m0 0h2m-1 0h2m-1 0h2m-1 0h2m0 0h2m-1 0h2m-1 0h2m1 0h2m1 0h2m-1 0h2m-1 0h2m-1 0h2m-1 0h2m0 0h2m-1 0h2m0 0h2m-1 0h2m0 0h2m-1 0h2m-1 0h2m-1 0h2m-1 0h2m0 0h2m-1 0h2m-1 0h2m0 0h2m0 0h2m-1 0h2m0 0h2m4 0h2m1 0h2m0 0h2m-1 0h2m0 0h2m-1 0h2m-1 0h2m0 0h2m2 0h2m18 0h2m42 0h2m-141 1h2m1 0h2m0 0h2m2 0h2m3 0h2m-1 0h2m-1 0h2m-1 0h2m-1 0h2m0 0h2m-1 0h2m-1 0h2m0 0h2m0 0h2m0 0h2m-1 0h2m-1 0h2m-1 0h2m-1 0h2m0 0h2m-1 0h2m0 0h2m-1 0h2m-1 0h2m-1 0h2m-1 0h2m-1 0h2m2 0h2m0 0h2m-1 0h2m-1 0h2m1 0h2m0 0h2m-1 0h2m1 0h2m0 0h2m1 0h2m3 0h2m-1 0h2m11 0h2m4 0h2m14 0h2m6 0h2m-121 1h2m5 0h2m1 0h2m-1 0h2m-1 0h2m-1 0h2m0 0h2m-1 0h2m-1 0h2m-1 0h2m-1 0h2m-1 0h2m1 0h2m-1 0h2m-1 0h2m-1 0h2m-1 0h2m0 0h2m0 0h2m-1 0h2m0 0h2m-1 0h2m-1 0h2m-1 0h2m-1 0h2m-1 0h2m-1 0h2m-1 0h2m-1 0h2m-1 0h2m-1 0h2m-1 0h2m-1 0h2m0 0h2m-1 0h2m0 0h2m-1 0h2m-1 0h2m0 0h2m-1 0h2m-1 0h2m0 0h2m-1 0h2m-1 0h2m0 0h2m1 0h2m1 0h2m7 0h2m11 0h2m4 0h2m8 0h2m3 0h2m-129 1h2m4 0h2m12 0h2m-1 0h2m3 0h2m-1 0h2m1 0h2m-1 0h2m-1 0h2m0 0h2m-1 0h2m-1 0h2m-1 0h2m0 0h2m-1 0h2m-1 0h2m-1 0h2m0 0h2m-1 0h2m-1 0h2m-1 0h2m-1 0h2m-1 0h2m-1 0h2m-1 0h2m-1 0h2m0 0h2m-1 0h2m-1 0h2m-1 0h2m-1 0h2m-1 0h2m2 0h2m-1 0h2m0 0h2m-1 0h2m-1 0h2m1 0h2m-1 0h2m0 0h2m0 0h2m-1 0h2m2 0h2m-63 1h2m0 0h2m1 0h2m0 0h2m-1 0h2m-1 0h2m-1 0h2m-1 0h2m1 0h2m-1 0h2m0 0h2m0 0h2m-1 0h2m0 0h2m-1 0h2m-1 0h2m-1 0h2m-1 0h2m-1 0h2m-1 0h2m2 0h2m-1 0h2m-1 0h2m-1 0h2m-1 0h2m-1 0h2m0 0h2m-1 0h2m0 0h2m-1 0h2m-1 0h2m-1 0h2m-1 0h2m-1 0h2m-1 0h2m0 0h2m0 0h2m0 0h2m1 0h2m1 0h2m2 0h2m2 0h2m5 0h2m2 0h2m3 0h2m57 0h2m-148 1h2m0 0h2m3 0h2m0 0h2m-1 0h2m0 0h2m0 0h2m0 0h2m-1 0h2m-1 0h2m0 0h2m-1 0h2m0 0h2m1 0h2m-1 0h2m-1 0h2m0 0h2m0 0h2m-1 0h2m-1 0h2m-1 0h2m-1 0h2m-1 0h2m-1 0h2m-1 0h2m-1 0h2m-1 0h2m2 0h2m-1 0h2m-1 0h2m-1 0h2m-1 0h2m-1 0h2m-1 0h2m-1 0h2m2 0h2m0 0h2m3 0h2m-1 0h2m-1 0h2m5 0h2m14 0h2m-95 1h2m2 0h2m1 0h2m-1 0h2m9 0h2m-1 0h2m-1 0h2m-1 0h2m-1 0h2m0 0h2m-1 0h2m-1 0h2m-1 0h2m-1 0h2m-1 0h2m-1 0h2m0 0h2m-1 0h2m-1 0h2m-1 0h2m-1 0h2m0 0h2m-1 0h2m-1 0h2m-1 0h2m-1 0h2m-1 0h2m-1 0h2m-1 0h2m-1 0h2m-1 0h2m-1 0h2m-1 0h2m-1 0h2m-1 0h2m-1 0h2m-1 0h2m-1 0h2m-1 0h2m-1 0h2m-1 0h2m0 0h2m-1 0h2m-1 0h2m2 0h2m1 0h2m3 0h2m-1 0h2m1 0h2m83 0h2m-160 1h2m1 0h2m0 0h2m3 0h2m0 0h2m0 0h2m-1 0h2m0 0h2m-1 0h2m-1 0h2m-1 0h2m-1 0h2m-1 0h2m1 0h2m1 0h2m1 0h2m-1 0h2m-1 0h2m-1 0h2m-1 0h2m-1 0h2m-1 0h2m-1 0h2m-1 0h2m-1 0h2m-1 0h2m-1 0h2m-1 0h2m-1 0h2m-1 0h2m-1 0h2m-1 0h2m-1 0h2m-1 0h2m-1 0h2m0 0h2m-1 0h2m-1 0h2m-1 0h2m-1 0h2m6 0h2m1 0h2m1 0h2m19 0h2m2 0h2m-109 1h2m17 0h2m0 0h2m0 0h2m-1 0h2m0 0h2m-1 0h2m-1 0h2m0 0h2m-1 0h2m-1 0h2m0 0h2m-1 0h2m-1 0h2m-1 0h2m1 0h2m-1 0h2m0 0h2m0 0h2m-1 0h2m-1 0h2m-1 0h2m-1 0h2m-1 0h2m-1 0h2m-1 0h2m-1 0h2m-1 0h2m-1 0h2m-1 0h2m-1 0h2m0 0h2m-1 0h2m-1 0h2m-1 0h2m-1 0h2m-1 0h2m-1 0h2m-1 0h2m-1 0h2m-1 0h2m-1 0h2m3 0h2m1 0h2m10 0h2m8 0h2m31 0h2m-130 1h2m-1 0h2m3 0h2m1 0h2m-1 0h2m0 0h2m0 0h2m0 0h2m-1 0h2m-1 0h2m-1 0h2m0 0h2m-1 0h2m-1 0h2m-1 0h2m0 0h2m-1 0h2m-1 0h2m0 0h2m-1 0h2m-1 0h2m-1 0h2m-1 0h2m-1 0h2m-1 0h2m0 0h2m-1 0h2m-1 0h2m0 0h2m-1 0h2m-1 0h2m-1 0h2m-1 0h2m-1 0h2m-1 0h2m-1 0h2m-1 0h2m-1 0h2m-1 0h2m-1 0h2m-1 0h2m-1 0h2m-1 0h2m-1 0h2m0 0h2m-1 0h2m-1 0h2m-1 0h2m-1 0h2m-1 0h2m0 0h2m-1 0h2m2 0h2m0 0h2m0 0h2m5 0h2m8 0h2m-95 1h2m2 0h2m7 0h2m-1 0h2m-1 0h2m3 0h2m-1 0h2m-1 0h2m-1 0h2m-1 0h2m-1 0h2m-1 0h2m2 0h2m-1 0h2m-1 0h2m-1 0h2m-1 0h2m-1 0h2m-1 0h2m-1 0h2m0 0h2m-1 0h2m0 0h2m0 0h2m-1 0h2m-1 0h2m-1 0h2m-1 0h2m0 0h2m-1 0h2m-1 0h2m0 0h2m-1 0h2m1 0h2m-1 0h2m-1 0h2m0 0h2m-1 0h2m-1 0h2m-1 0h2m0 0h2m1 0h2m-1 0h2m0 0h2m9 0h2m5 0h2m-102 1h2m12 0h2m-1 0h2m2 0h2m-1 0h2m2 0h2m0 0h2m-1 0h2m-1 0h2m-1 0h2m3 0h2m-1 0h2m-1 0h2m-1 0h2m-1 0h2m-1 0h2m-1 0h2m-1 0h2m-1 0h2m-1 0h2m-1 0h2m2 0h2m-1 0h2m-1 0h2m-1 0h2m-1 0h2m1 0h2m-1 0h2m-1 0h2m0 0h2m-1 0h2m-1 0h2m-1 0h2m-1 0h2m-1 0h2m-1 0h2m-1 0h2m-1 0h2m-1 0h2m-1 0h2m-1 0h2m-1 0h2m-1 0h2m0 0h2m-1 0h2m0 0h2m0 0h2m0 0h2m-1 0h2m1 0h2m1 0h2m-1 0h2m7 0h2m-93 1h2m2 0h2m3 0h2m1 0h2m-1 0h2m0 0h2m0 0h2m-1 0h2m0 0h2m0 0h2m-1 0h2m0 0h2m-1 0h2m-1 0h2m-1 0h2m-1 0h2m-1 0h2m-1 0h2m0 0h2m-1 0h2m-1 0h2m-1 0h2m-1 0h2m-1 0h2m-1 0h2m-1 0h2m-1 0h2m-1 0h2m-1 0h2m-1 0h2m-1 0h2m-1 0h2m0 0h2m-1 0h2m0 0h2m-1 0h2m-1 0h2m-1 0h2m-1 0h2m-1 0h2m-1 0h2m0 0h2m-1 0h2m-1 0h2m0 0h2m-1 0h2m0 0h2m0 0h2m2 0h2m0 0h2m-1 0h2m1 0h2m-75 1h2m1 0h2m1 0h2m2 0h2m0 0h2m0 0h2m-1 0h2m-1 0h2m-1 0h2m-1 0h2m0 0h2m-1 0h2m1 0h2m-1 0h2m0 0h2m-1 0h2m-1 0h2m-1 0h2m0 0h2m-1 0h2m-1 0h2m-1 0h2m0 0h2m-1 0h2m0 0h2m-1 0h2m-1 0h2m-1 0h2m-1 0h2m-1 0h2m-1 0h2m-1 0h2m-1 0h2m-1 0h2m-1 0h2m-1 0h2m-1 0h2m-1 0h2m3 0h2m-1 0h2m0 0h2m0 0h2m-1 0h2m-1 0h2m2 0h2m2 0h2m5 0h2m-89 1h2m10 0h2m0 0h2m0 0h2m0 0h2m0 0h2m5 0h2m-1 0h2m0 0h2m-1 0h2m-1 0h2m-1 0h2m-1 0h2m-1 0h2m-1 0h2m-1 0h2m-1 0h2m-1 0h2m-1 0h2m-1 0h2m-1 0h2m-1 0h2m-1 0h2m-1 0h2m-1 0h2m-1 0h2m-1 0h2m-1 0h2m-1 0h2m-1 0h2m-1 0h2m-1 0h2m-1 0h2m-1 0h2m-1 0h2m-1 0h2m1 0h2m0 0h2m-1 0h2m-1 0h2m0 0h2m-1 0h2m3 0h2m-1 0h2m1 0h2m-1 0h2m-1 0h2m1 0h2m-1 0h2m0 0h2m8 0h2m58 0h2m19 0h2m-176 1h2m1 0h2m1 0h2m1 0h2m1 0h2m3 0h2m2 0h2m0 0h2m1 0h2m-1 0h2m-1 0h2m0 0h2m-1 0h2m1 0h2m-1 0h2m-1 0h2m-1 0h2m-1 0h2m-1 0h2m-1 0h2m-1 0h2m-1 0h2m-1 0h2m-1 0h2m-1 0h2m-1 0h2m0 0h2m0 0h2m-1 0h2m0 0h2m-1 0h2m-1 0h2m-1 0h2m-1 0h2m0 0h2m-1 0h2m-1 0h2m-1 0h2m-1 0h2m-1 0h2m-1 0h2m1 0h2m1 0h2m0 0h2m21 0h2m82 0h2m-170 1h2m-1 0h2m3 0h2m-1 0h2m0 0h2m0 0h2m-1 0h2m0 0h2m-1 0h2m-1 0h2m0 0h2m0 0h2m-1 0h2m-1 0h2m-1 0h2m-1 0h2m-1 0h2m-1 0h2m-1 0h2m-1 0h2m0 0h2m-1 0h2m1 0h2m-1 0h2m-1 0h2m-1 0h2m-1 0h2m1 0h2m0 0h2m-1 0h2m1 0h2m-1 0h2m-1 0h2m-1 0h2m0 0h2m-1 0h2m0 0h2m0 0h2m-1 0h2m2 0h2m-76 1h2m2 0h2m-1 0h2m-1 0h2m3 0h2m-1 0h2m3 0h2m-1 0h2m-1 0h2m-1 0h2m-1 0h2m-1 0h2m0 0h2m-1 0h2m-1 0h2m-1 0h2m0 0h2m0 0h2m-1 0h2m-1 0h2m-1 0h2m-1 0h2m-1 0h2m-1 0h2m1 0h2m-1 0h2m-1 0h2m0 0h2m-1 0h2m-1 0h2m0 0h2m-1 0h2m-1 0h2m-1 0h2m3 0h2m0 0h2m0 0h2m-1 0h2m-1 0h2m1 0h2m0 0h2m0 0h2m65 0h2m15 0h2m-156 1h2m19 0h2m-1 0h2m-1 0h2m-1 0h2m-1 0h2m-1 0h2m-1 0h2m-1 0h2m-1 0h2m-1 0h2m-1 0h2m-1 0h2m-1 0h2m1 0h2m-1 0h2m-1 0h2m-1 0h2m0 0h2m-1 0h2m-1 0h2m1 0h2m-1 0h2m-1 0h2m1 0h2m0 0h2m-1 0h2m-1 0h2m0 0h2m-1 0h2m1 0h2m0 0h2m-1 0h2m-1 0h2m-1 0h2m-1 0h2m2 0h2m-1 0h2m3 0h2m-86 1h2m8 0h2m1 0h2m-1 0h2m0 0h2m0 0h2m-1 0h2m-1 0h2m-1 0h2m0 0h2m-1 0h2m-1 0h2m-1 0h2m-1 0h2m1 0h2m-1 0h2m2 0h2m-1 0h2m0 0h2m-1 0h2m-1 0h2m0 0h2m0 0h2m-1 0h2m-1 0h2m-1 0h2m-1 0h2m0 0h2m-1 0h2m-1 0h2m-1 0h2m0 0h2m0 0h2m-1 0h2m0 0h2m-1 0h2m0 0h2m-1 0h2m0 0h2m-1 0h2m0 0h2m-1 0h2m-1 0h2m0 0h2m-1 0h2m0 0h2m1 0h2m1 0h2m1 0h2m0 0h2m2 0h2m0 0h2m-89 1h2m0 0h2m3 0h2m0 0h2m-1 0h2m2 0h2m0 0h2m-1 0h2m0 0h2m-1 0h2m-1 0h2m-1 0h2m-1 0h2m0 0h2m3 0h2m-1 0h2m0 0h2m-1 0h2m-1 0h2m-1 0h2m1 0h2m-1 0h2m-1 0h2m-1 0h2m-1 0h2m-1 0h2m-1 0h2m-1 0h2m-1 0h2m-1 0h2m-1 0h2m-1 0h2m-1 0h2m-1 0h2m0 0h2m-1 0h2m-1 0h2m-1 0h2m-1 0h2m-1 0h2m-1 0h2m-1 0h2m1 0h2m2 0h2m-1 0h2m-1 0h2m-1 0h2m-1 0h2m-1 0h2m-1 0h2m5 0h2m-1 0h2m20 0h2m-98 1h2m5 0h2m8 0h2m-1 0h2m0 0h2m-1 0h2m-1 0h2m-1 0h2m-1 0h2m-1 0h2m-1 0h2m-1 0h2m-1 0h2m-1 0h2m-1 0h2m-1 0h2m-1 0h2m0 0h2m0 0h2m-1 0h2m-1 0h2m-1 0h2m1 0h2m2 0h2m-1 0h2m-1 0h2m-1 0h2m2 0h2m3 0h2m4 0h2m-1 0h2m0 0h2m0 0h2m3 0h2m1 0h2m-91 1h2m-1 0h2m3 0h2m2 0h2m2 0h2m0 0h2m0 0h2m0 0h2m-1 0h2m3 0h2m-1 0h2m-1 0h2m-1 0h2m-1 0h2m-1 0h2m1 0h2m-1 0h2m-1 0h2m-1 0h2m-1 0h2m0 0h2m-1 0h2m-1 0h2m-1 0h2m-1 0h2m-1 0h2m-1 0h2m4 0h2m-1 0h2m-1 0h2m0 0h2m-1 0h2m-1 0h2m-1 0h2m-1 0h2m0 0h2m-1 0h2m-1 0h2m-1 0h2m5 0h2m0 0h2m0 0h2m2 0h2m7 0h2m-1 0h2m74 0h2m5 0h2m7 0h2m-183 1h2m11 0h2m4 0h2m1 0h2m0 0h2m-1 0h2m-1 0h2m1 0h2m4 0h2m-1 0h2m-1 0h2m1 0h2m-1 0h2m-1 0h2m-1 0h2m-1 0h2m-1 0h2m-1 0h2m-1 0h2m-1 0h2m-1 0h2m-1 0h2m1 0h2m-1 0h2m1 0h2m2 0h2m0 0h2m0 0h2m0 0h2m3 0h2m0 0h2m-1 0h2m-87 1h2m7 0h2m1 0h2m7 0h2m1 0h2m10 0h2m0 0h2m-1 0h2m-1 0h2m-1 0h2m-1 0h2m1 0h2m-1 0h2m0 0h2m1 0h2m2 0h2m-1 0h2m-1 0h2m-1 0h2m0 0h2m-1 0h2m-1 0h2m-1 0h2m-1 0h2m-1 0h2m-1 0h2m-1 0h2m-1 0h2m0 0h2m-1 0h2m-1 0h2m1 0h2m2 0h2m2 0h2m30 0h2m-94 1h2m1 0h2m2 0h2m-1 0h2m0 0h2m-1 0h2m0 0h2m0 0h2m-1 0h2m-1 0h2m-1 0h2m-1 0h2m-1 0h2m-1 0h2m0 0h2m-1 0h2m-1 0h2m-1 0h2m-1 0h2m1 0h2m0 0h2m-1 0h2m-1 0h2m0 0h2m-1 0h2m0 0h2m1 0h2m-1 0h2m2 0h2m-1 0h2m0 0h2m-1 0h2m1 0h2m3 0h2m-62 1h2m9 0h2m-1 0h2m0 0h2m4 0h2m-1 0h2m-1 0h2m-1 0h2m-1 0h2m-1 0h2m-1 0h2m0 0h2m-1 0h2m-1 0h2m-1 0h2m1 0h2m-1 0h2m0 0h2m1 0h2m-1 0h2m-1 0h2m-1 0h2m0 0h2m0 0h2m0 0h2m-1 0h2m-1 0h2m-1 0h2m-1 0h2m0 0h2m-1 0h2m-1 0h2m0 0h2m2 0h2m7 0h2m68 0h2m-147 1h2m2 0h2m2 0h2m3 0h2m-1 0h2m1 0h2m-1 0h2m-1 0h2m-1 0h2m0 0h2m0 0h2m-1 0h2m0 0h2m-1 0h2m-1 0h2m2 0h2m-1 0h2m-1 0h2m1 0h2m1 0h2m1 0h2m0 0h2m4 0h2m-1 0h2m-1 0h2m-1 0h2m-1 0h2m-1 0h2m10 0h2m0 0h2m5 0h2m-76 1h2m2 0h2m-1 0h2m-1 0h2m2 0h2m-1 0h2m0 0h2m-1 0h2m-1 0h2m-1 0h2m-1 0h2m1 0h2m-1 0h2m-1 0h2m1 0h2m1 0h2m0 0h2m-1 0h2m3 0h2m-1 0h2m3 0h2m-1 0h2m0 0h2m2 0h2m3 0h2m-55 1h2m1 0h2m-1 0h2m-1 0h2m-1 0h2m-1 0h2m6 0h2m-1 0h2m2 0h2m0 0h2m0 0h2m-1 0h2m-1 0h2m-1 0h2m-1 0h2m0 0h2m-1 0h2m-1 0h2m0 0h2m-1 0h2m-1 0h2m0 0h2m-1 0h2m1 0h2m5 0h2m1 0h2m-1 0h2m3 0h2m0 0h2m3 0h2m0 0h2m-80 1h2m-1 0h2m14 0h2m-1 0h2m-1 0h2m-1 0h2m-1 0h2m0 0h2m-1 0h2m-1 0h2m5 0h2m-1 0h2m0 0h2m0 0h2m5 0h2m0 0h2m-1 0h2m-1 0h2m-1 0h2m-1 0h2m-1 0h2m5 0h2m-1 0h2m-1 0h2m4 0h2m3 0h2m0 0h2m-79 1h2m0 0h2m4 0h2m3 0h2m1 0h2m0 0h2m-1 0h2m1 0h2m-1 0h2m6 0h2m-1 0h2m0 0h2m0 0h2m-1 0h2m-1 0h2m0 0h2m3 0h2m0 0h2m0 0h2m-1 0h2m0 0h2m4 0h2m0 0h2m-63 1h2m19 0h2m0 0h2m2 0h2m-1 0h2m-1 0h2m2 0h2m5 0h2m-1 0h2m1 0h2m0 0h2m-1 0h2m-1 0h2m-1 0h2m3 0h2m1 0h2m-1 0h2m1 0h2m1 0h2m1 0h2m0 0h2m7 0h2m-68 1h2m0 0h2m0 0h2m0 0h2m6 0h2m1 0h2m-1 0h2m0 0h2m1 0h2m0 0h2m0 0h2m3 0h2m-1 0h2m0 0h2m1 0h2m4 0h2m0 0h2m-1 0h2m15 0h2m-68 1h2m2 0h2m0 0h2m3 0h2m6 0h2m4 0h2m3 0h2m-1 0h2m3 0h2m8 0h2m0 0h2m9 0h2m-1 0h2m4 0h2m28 0h2m6 0h2m-117 1h2m21 0h2m6 0h2m0 0h2m-1 0h2m5 0h2m1 0h2m3 0h2m12 0h2m-40 1h2m1 0h2m5 0h2m1 0h2m1 0h2m3 0h2m1 0h2m-1 0h2m0 0h2m-1 0h2m0 0h2m-1 0h2m17 0h2m-73 1h2m5 0h2m4 0h2m4 0h2m5 0h2m12 0h2m2 0h2m20 0h2m39 0h2m35 0h2m-139 1h2m0 0h2m5 0h2m1 0h2m0 0h2m0 0h2m10 0h2m0 0h2m4 0h2m118 0h2m-153 1h2m11 0h2m6 0h2m-1 0h2m-1 0h2m0 0h2m1 0h2m1 0h2m-1 0h2m2 0h2m-1 0h2m28 0h2m-89 1h2m44 0h2m8 0h2m0 0h2m0 0h2m-28 1h2m4 0h2m0 0h2m0 0h2m-1 0h2m-1 0h2m1 0h2m3 0h2m1 0h2m7 0h2m80 0h2m-129 1h2m12 0h2m17 0h2m4 0h2m1 0h2m104 0h2m-139 1h2m10 0h2m6 0h2m132 0h2m-171 1h2m-1 0h2m8 0h2m25 0h2m-32 1h2m5 0h2m82 0h2m53 0h2m-168 1h2m13 0h2m8 0h2m0 0h2m87 0h2m-66 1h2m84 0h2m31 0h2m-139 1h2m66 0h2m-64 1h2m17 0h2m-44 1h2m31 0h2m19 0h2m50 0h2m-101 1h2m0 0h2m87 0h2m14 0h2m-89 1h2m-28 1h2m27 0h2m0 0h2m134 0h2m-140 1h2m98 0h2m11 0h2m-102 1h2m-52 4h2" stroke="#e8151b" stroke-width="1.5" fill="none"/>
<rect x="965.3" y="2096.8" width="239" height="244.9" fill="none" stroke="#000" stroke-width="1.3"/>
<line x1="1074.7" y1="2096.8" x2="1074.7" y2="2341.7" stroke="#000" stroke-width="1.3"/>
<line x1="965.3" y1="2244.0" x2="1204.3" y2="2244.0" stroke="#000" stroke-width="1.3"/>
<path d="M965.3,2341.7v6M965.3,2341.7h-6M983.3,2341.7v3M965.3,2323.3h-3M993.8,2341.7v3M965.3,2312.5h-3M1001.3,2341.7v3M965.3,2304.8h-3M1007.1,2341.7v3M965.3,2298.9h-3M1011.8,2341.7v3M965.3,2294.1h-3M1015.8,2341.7v3M965.3,2290.0h-3M1019.3,2341.7v3M965.3,2286.4h-3M1022.3,2341.7v3M965.3,2283.3h-3M1025.0,2341.7v6M965.3,2280.5h-6M1043.0,2341.7v3M965.3,2262.0h-3M1053.6,2341.7v3M965.3,2251.3h-3M1061.0,2341.7v3M965.3,2243.6h-3M1066.8,2341.7v3M965.3,2237.7h-3M1071.5,2341.7v3M965.3,2232.8h-3M1075.5,2341.7v3M965.3,2228.7h-3M1079.0,2341.7v3M965.3,2225.2h-3M1082.1,2341.7v3M965.3,2222.1h-3M1084.8,2341.7v6M965.3,2219.2h-6M1102.8,2341.7v3M965.3,2200.8h-3M1113.3,2341.7v3M965.3,2190.0h-3M1120.8,2341.7v3M965.3,2182.4h-3M1126.6,2341.7v3M965.3,2176.5h-3M1131.3,2341.7v3M965.3,2171.6h-3M1135.3,2341.7v3M965.3,2167.5h-3M1138.8,2341.7v3M965.3,2164.0h-3M1141.8,2341.7v3M965.3,2160.8h-3M1144.5,2341.7v6M965.3,2158.0h-6M1162.5,2341.7v3M965.3,2139.6h-3M1173.1,2341.7v3M965.3,2128.8h-3M1180.5,2341.7v3M965.3,2121.2h-3M1186.3,2341.7v3M965.3,2115.2h-3M1191.0,2341.7v3M965.3,2110.4h-3M1195.0,2341.7v3M965.3,2106.3h-3M1198.5,2341.7v3M965.3,2102.7h-3M1201.6,2341.7v3M965.3,2099.6h-3M1204.3,2341.7v6M965.3,2096.8h-6" stroke="#000" stroke-width="1" fill="none"/>
<text x="965.8" y="2360.7" font-size="13" text-anchor="middle" style="font-weight:normal">10<tspan font-size="10.5" dy="-5.5">0</tspan></text>
<text transform="translate(956.6,2342.7) rotate(-90)" font-size="13" text-anchor="middle" style="font-weight:normal">10<tspan font-size="10.5" dy="-5.5">0</tspan></text>
<text x="1025.5" y="2360.7" font-size="13" text-anchor="middle" style="font-weight:normal">10<tspan font-size="10.5" dy="-5.5">1</tspan></text>
<text transform="translate(956.6,2281.5) rotate(-90)" font-size="13" text-anchor="middle" style="font-weight:normal">10<tspan font-size="10.5" dy="-5.5">1</tspan></text>
<text x="1085.3" y="2360.7" font-size="13" text-anchor="middle" style="font-weight:normal">10<tspan font-size="10.5" dy="-5.5">2</tspan></text>
<text transform="translate(956.6,2220.2) rotate(-90)" font-size="13" text-anchor="middle" style="font-weight:normal">10<tspan font-size="10.5" dy="-5.5">2</tspan></text>
<text x="1145.0" y="2360.7" font-size="13" text-anchor="middle" style="font-weight:normal">10<tspan font-size="10.5" dy="-5.5">3</tspan></text>
<text transform="translate(956.6,2159.0) rotate(-90)" font-size="13" text-anchor="middle" style="font-weight:normal">10<tspan font-size="10.5" dy="-5.5">3</tspan></text>
<text x="1204.8" y="2360.7" font-size="13" text-anchor="middle" style="font-weight:normal">10<tspan font-size="10.5" dy="-5.5">4</tspan></text>
<text transform="translate(956.6,2097.8) rotate(-90)" font-size="13" text-anchor="middle" style="font-weight:normal">10<tspan font-size="10.5" dy="-5.5">4</tspan></text>
<text x="1082.3" y="2371.7" font-size="10.9" text-anchor="middle" style="font-weight:normal">ANNEXIN-V- FITC</text>
<text x="941.3" y="2220.5" font-size="10.5" text-anchor="middle" style="font-weight:normal" transform="rotate(-90 941.3 2220.5)">PI</text>
<text x="973.5" y="2127.1" font-size="25.5" stroke="#000" stroke-width="0.4">0.80%</text>
<text x="1193.8" y="2127.1" font-size="25.5" text-anchor="end" stroke="#000" stroke-width="0.4">7.60%</text>
<text x="973.5" y="2326.5" font-size="25.5" stroke="#000" stroke-width="0.4">90.47%</text>
<text x="1193.8" y="2326.5" font-size="25.5" text-anchor="end" stroke="#000" stroke-width="0.4">1.13%</text>
<text x="21.2" y="2223.0" font-size="25.7" text-anchor="middle" stroke="#000" stroke-width="0.4" transform="rotate(-90 21.2 2223.0)">NB4</text>
</svg>
</body></html>
